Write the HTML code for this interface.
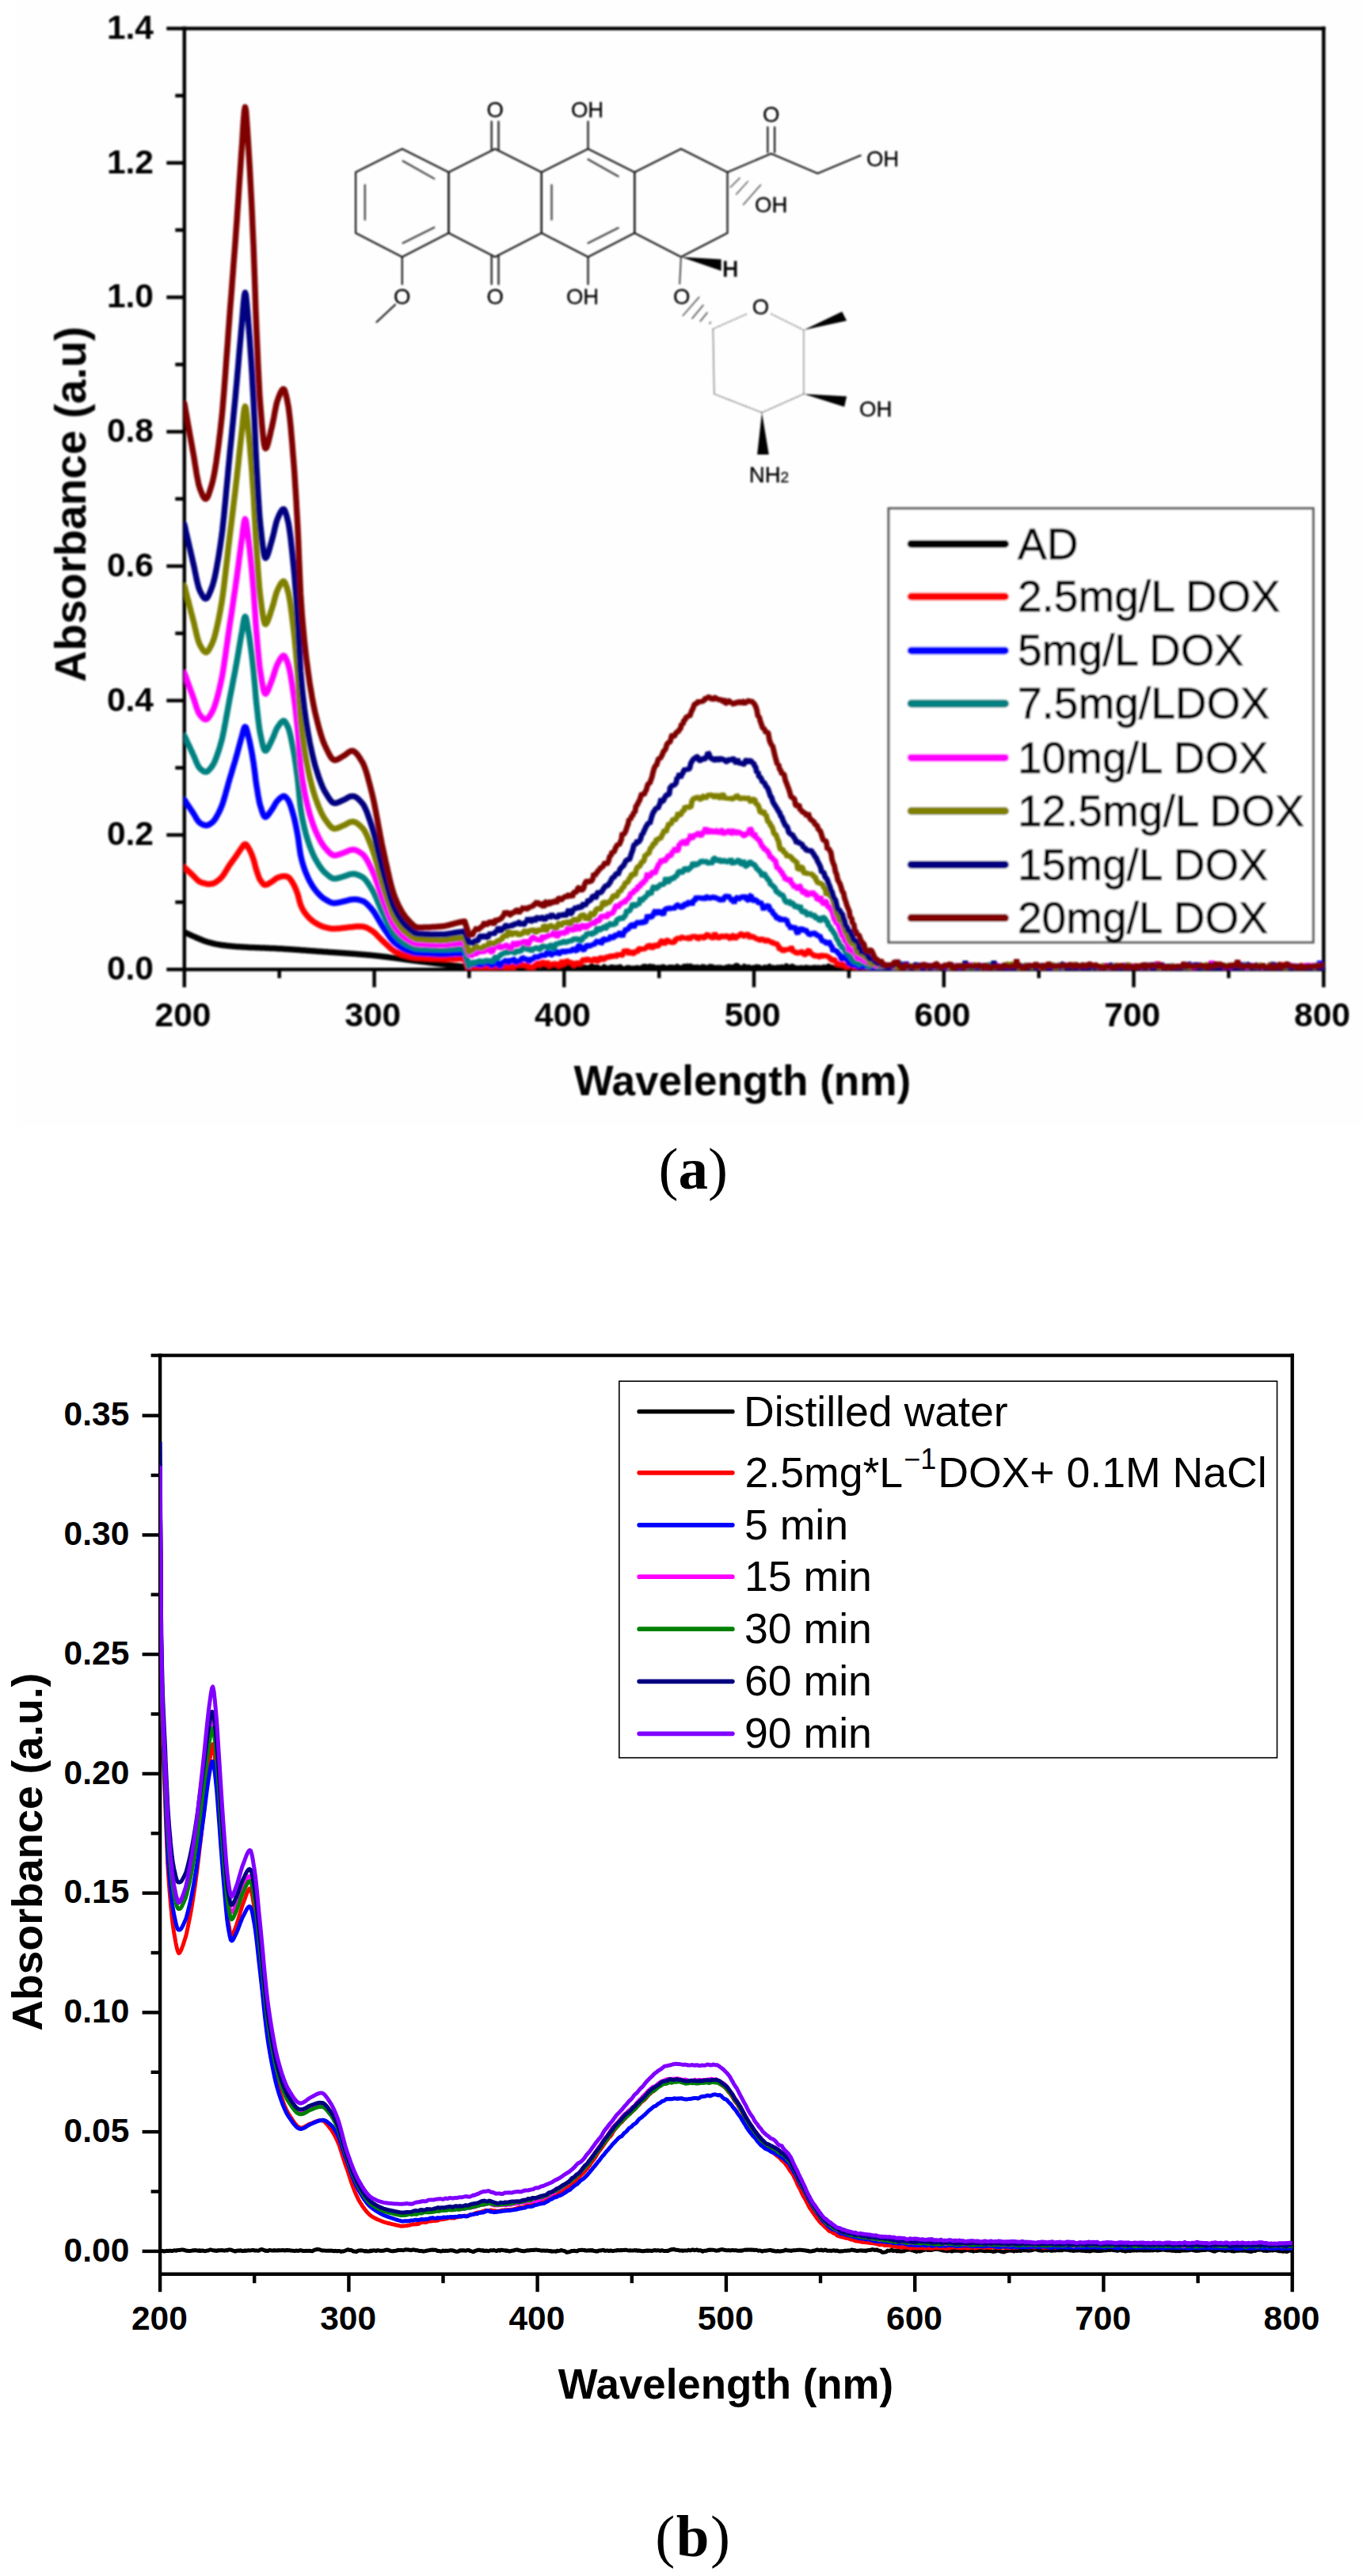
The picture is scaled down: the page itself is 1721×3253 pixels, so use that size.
<!DOCTYPE html>
<html lang="en">
<head>
<meta charset="utf-8">
<title>UV-vis absorbance spectra of DOX</title>
<style>
html,body{margin:0;padding:0;background:#fff;}
body{width:1721px;height:3253px;overflow:hidden;}
svg{display:block;}
text{white-space:pre;}
</style>
</head>
<body>
<svg width="1721" height="3253" viewBox="0 0 1721 3253">
<rect x="0" y="0" width="1721" height="3253" fill="#fff"/>
<rect x="22" y="0" width="1699" height="1421.5" fill="#fefefe"/>
<filter id="softA" x="-2%" y="-2%" width="104%" height="104%"><feGaussianBlur stdDeviation="1"/></filter>
<g id="panel-a" filter="url(#softA)">
<clipPath id="clipA"><rect x="232.5" y="35.9" width="1439.1" height="1188.8"/></clipPath>
<line x1="232.8" y1="33.6" x2="232.8" y2="1246.7" stroke="#000" stroke-width="4.5" stroke-linecap="butt"/>
<line x1="1671.3" y1="33.6" x2="1671.3" y2="1246.7" stroke="#000" stroke-width="4.5" stroke-linecap="butt"/>
<line x1="210.3" y1="35.9" x2="1673.5" y2="35.9" stroke="#000" stroke-width="4.5" stroke-linecap="butt"/>
<line x1="210.3" y1="1224.2" x2="1673.5" y2="1224.2" stroke="#000" stroke-width="4.5" stroke-linecap="butt"/>
<line x1="352.7" y1="1224.2" x2="352.7" y2="1235.2" stroke="#000" stroke-width="4.5" stroke-linecap="butt"/>
<line x1="472.6" y1="1224.2" x2="472.6" y2="1246.7" stroke="#000" stroke-width="4.5" stroke-linecap="butt"/>
<line x1="592.4" y1="1224.2" x2="592.4" y2="1235.2" stroke="#000" stroke-width="4.5" stroke-linecap="butt"/>
<line x1="712.3" y1="1224.2" x2="712.3" y2="1246.7" stroke="#000" stroke-width="4.5" stroke-linecap="butt"/>
<line x1="832.2" y1="1224.2" x2="832.2" y2="1235.2" stroke="#000" stroke-width="4.5" stroke-linecap="butt"/>
<line x1="952" y1="1224.2" x2="952" y2="1246.7" stroke="#000" stroke-width="4.5" stroke-linecap="butt"/>
<line x1="1071.9" y1="1224.2" x2="1071.9" y2="1235.2" stroke="#000" stroke-width="4.5" stroke-linecap="butt"/>
<line x1="1191.8" y1="1224.2" x2="1191.8" y2="1246.7" stroke="#000" stroke-width="4.5" stroke-linecap="butt"/>
<line x1="1311.7" y1="1224.2" x2="1311.7" y2="1235.2" stroke="#000" stroke-width="4.5" stroke-linecap="butt"/>
<line x1="1431.5" y1="1224.2" x2="1431.5" y2="1246.7" stroke="#000" stroke-width="4.5" stroke-linecap="butt"/>
<line x1="1551.4" y1="1224.2" x2="1551.4" y2="1235.2" stroke="#000" stroke-width="4.5" stroke-linecap="butt"/>
<line x1="221.3" y1="1139.3" x2="232.8" y2="1139.3" stroke="#000" stroke-width="4.5" stroke-linecap="butt"/>
<line x1="210.3" y1="1054.4" x2="232.8" y2="1054.4" stroke="#000" stroke-width="4.5" stroke-linecap="butt"/>
<line x1="221.3" y1="969.6" x2="232.8" y2="969.6" stroke="#000" stroke-width="4.5" stroke-linecap="butt"/>
<line x1="210.3" y1="884.7" x2="232.8" y2="884.7" stroke="#000" stroke-width="4.5" stroke-linecap="butt"/>
<line x1="221.3" y1="799.8" x2="232.8" y2="799.8" stroke="#000" stroke-width="4.5" stroke-linecap="butt"/>
<line x1="210.3" y1="714.9" x2="232.8" y2="714.9" stroke="#000" stroke-width="4.5" stroke-linecap="butt"/>
<line x1="221.3" y1="630" x2="232.8" y2="630" stroke="#000" stroke-width="4.5" stroke-linecap="butt"/>
<line x1="210.3" y1="545.2" x2="232.8" y2="545.2" stroke="#000" stroke-width="4.5" stroke-linecap="butt"/>
<line x1="221.3" y1="460.3" x2="232.8" y2="460.3" stroke="#000" stroke-width="4.5" stroke-linecap="butt"/>
<line x1="210.3" y1="375.4" x2="232.8" y2="375.4" stroke="#000" stroke-width="4.5" stroke-linecap="butt"/>
<line x1="221.3" y1="290.5" x2="232.8" y2="290.5" stroke="#000" stroke-width="4.5" stroke-linecap="butt"/>
<line x1="210.3" y1="205.7" x2="232.8" y2="205.7" stroke="#000" stroke-width="4.5" stroke-linecap="butt"/>
<line x1="221.3" y1="120.8" x2="232.8" y2="120.8" stroke="#000" stroke-width="4.5" stroke-linecap="butt"/>
<text x="194" y="1237.2" font-family='"Liberation Sans", Arial, Helvetica, sans-serif' font-size="42.5" font-weight="bold" text-anchor="end" fill="#000">0.0</text>
<text x="194" y="1067.4" font-family='"Liberation Sans", Arial, Helvetica, sans-serif' font-size="42.5" font-weight="bold" text-anchor="end" fill="#000">0.2</text>
<text x="194" y="897.7" font-family='"Liberation Sans", Arial, Helvetica, sans-serif' font-size="42.5" font-weight="bold" text-anchor="end" fill="#000">0.4</text>
<text x="194" y="727.9" font-family='"Liberation Sans", Arial, Helvetica, sans-serif' font-size="42.5" font-weight="bold" text-anchor="end" fill="#000">0.6</text>
<text x="194" y="558.2" font-family='"Liberation Sans", Arial, Helvetica, sans-serif' font-size="42.5" font-weight="bold" text-anchor="end" fill="#000">0.8</text>
<text x="194" y="388.4" font-family='"Liberation Sans", Arial, Helvetica, sans-serif' font-size="42.5" font-weight="bold" text-anchor="end" fill="#000">1.0</text>
<text x="194" y="218.7" font-family='"Liberation Sans", Arial, Helvetica, sans-serif' font-size="42.5" font-weight="bold" text-anchor="end" fill="#000">1.2</text>
<text x="194" y="48.9" font-family='"Liberation Sans", Arial, Helvetica, sans-serif' font-size="42.5" font-weight="bold" text-anchor="end" fill="#000">1.4</text>
<text x="231" y="1296.3" font-family='"Liberation Sans", Arial, Helvetica, sans-serif' font-size="42.5" font-weight="bold" text-anchor="middle" fill="#000">200</text>
<text x="470.8" y="1296.3" font-family='"Liberation Sans", Arial, Helvetica, sans-serif' font-size="42.5" font-weight="bold" text-anchor="middle" fill="#000">300</text>
<text x="710.5" y="1296.3" font-family='"Liberation Sans", Arial, Helvetica, sans-serif' font-size="42.5" font-weight="bold" text-anchor="middle" fill="#000">400</text>
<text x="950.2" y="1296.3" font-family='"Liberation Sans", Arial, Helvetica, sans-serif' font-size="42.5" font-weight="bold" text-anchor="middle" fill="#000">500</text>
<text x="1190" y="1296.3" font-family='"Liberation Sans", Arial, Helvetica, sans-serif' font-size="42.5" font-weight="bold" text-anchor="middle" fill="#000">600</text>
<text x="1429.8" y="1296.3" font-family='"Liberation Sans", Arial, Helvetica, sans-serif' font-size="42.5" font-weight="bold" text-anchor="middle" fill="#000">700</text>
<text x="1669.5" y="1296.3" font-family='"Liberation Sans", Arial, Helvetica, sans-serif' font-size="42.5" font-weight="bold" text-anchor="middle" fill="#000">800</text>
<text x="937.3" y="1382.8" font-family='"Liberation Sans", Arial, Helvetica, sans-serif' font-size="53.1" font-weight="bold" text-anchor="middle" fill="#000">Wavelength (nm)</text>
<text transform="translate(108 636.8) rotate(-90)" font-family='"Liberation Sans", Arial, Helvetica, sans-serif' font-size="55" font-weight="bold" text-anchor="middle" fill="#000">Absorbance (a.u)</text>
<g clip-path="url(#clipA)">
<polyline points="232.8,1177.1 234,1177.7 235.2,1178.2 236.4,1178.8 237.6,1179.4 238.8,1179.9 240,1180.5 241.2,1181 242.4,1181.6 243.6,1182.1 244.8,1182.6 246,1183.1 247.2,1183.7 248.4,1184.2 249.6,1184.7 250.8,1185.3 252,1185.8 253.2,1186.3 254.4,1186.8 255.6,1187.3 256.8,1187.8 258,1188.2 259.2,1188.6 260.4,1189 261.6,1189.4 262.8,1189.7 264,1190.1 265.2,1190.4 266.4,1190.7 267.6,1191 268.8,1191.3 270,1191.6 271.2,1191.9 272.4,1192.2 273.6,1192.4 274.8,1192.6 276,1192.8 277.2,1193 278.4,1193.2 279.6,1193.4 280.8,1193.5 281.9,1193.7 283.1,1193.8 284.3,1194 285.5,1194.1 286.7,1194.3 287.9,1194.4 289.1,1194.5 290.3,1194.6 291.5,1194.7 292.7,1194.9 293.9,1195 295.1,1195.1 296.3,1195.2 297.5,1195.3 298.7,1195.4 299.9,1195.4 301.1,1195.5 302.3,1195.6 303.5,1195.7 304.7,1195.8 305.9,1195.8 307.1,1195.9 308.3,1196 309.5,1196 310.7,1196.1 311.9,1196.2 313.1,1196.2 314.3,1196.3 315.5,1196.4 316.7,1196.4 317.9,1196.5 319.1,1196.5 320.3,1196.6 321.5,1196.6 322.7,1196.7 323.9,1196.7 325.1,1196.8 326.3,1196.8 327.5,1196.8 328.7,1196.9 329.9,1196.9 331.1,1197 332.3,1197 333.5,1197.1 334.7,1197.1 335.9,1197.2 337.1,1197.2 338.3,1197.3 339.5,1197.3 340.7,1197.4 341.9,1197.4 343.1,1197.5 344.3,1197.5 345.5,1197.6 346.7,1197.6 347.9,1197.7 349.1,1197.7 350.3,1197.8 351.5,1197.9 352.7,1197.9 353.9,1198 355.1,1198.1 356.3,1198.1 357.5,1198.2 358.7,1198.3 359.9,1198.4 361.1,1198.4 362.3,1198.5 363.5,1198.6 364.7,1198.7 365.9,1198.7 367.1,1198.8 368.3,1198.9 369.5,1199 370.7,1199.1 371.9,1199.2 373.1,1199.2 374.3,1199.3 375.5,1199.4 376.6,1199.5 377.8,1199.6 379,1199.7 380.2,1199.8 381.4,1199.9 382.6,1200 383.8,1200 385,1200.1 386.2,1200.2 387.4,1200.3 388.6,1200.4 389.8,1200.5 391,1200.6 392.2,1200.7 393.4,1200.8 394.6,1200.8 395.8,1200.9 397,1201 398.2,1201.1 399.4,1201.2 400.6,1201.3 401.8,1201.4 403,1201.5 404.2,1201.5 405.4,1201.6 406.6,1201.7 407.8,1201.8 409,1201.9 410.2,1202 411.4,1202 412.6,1202.1 413.8,1202.2 415,1202.3 416.2,1202.4 417.4,1202.4 418.6,1202.5 419.8,1202.6 421,1202.7 422.2,1202.8 423.4,1202.8 424.6,1202.9 425.8,1203 427,1203.1 428.2,1203.2 429.4,1203.2 430.6,1203.3 431.8,1203.4 433,1203.5 434.2,1203.6 435.4,1203.7 436.6,1203.7 437.8,1203.8 439,1203.9 440.2,1204 441.4,1204.1 442.6,1204.2 443.8,1204.3 445,1204.3 446.2,1204.4 447.4,1204.5 448.6,1204.6 449.8,1204.7 451,1204.8 452.2,1204.9 453.4,1205 454.6,1205.1 455.8,1205.2 457,1205.3 458.2,1205.4 459.4,1205.5 460.6,1205.6 461.8,1205.7 463,1205.8 464.2,1205.9 465.4,1206 466.6,1206.1 467.8,1206.2 469,1206.3 470.2,1206.4 471.4,1206.6 472.6,1206.7 473.7,1206.8 474.9,1206.9 476.1,1207.1 477.3,1207.2 478.5,1207.3 479.7,1207.5 480.9,1207.6 482.1,1207.7 483.3,1207.9 484.5,1208 485.7,1208.2 486.9,1208.3 488.1,1208.5 489.3,1208.6 490.5,1208.8 491.7,1208.9 492.9,1209.1 494.1,1209.3 495.3,1209.4 496.5,1209.6 497.7,1209.7 498.9,1209.9 500.1,1210.1 501.3,1210.2 502.5,1210.4 503.7,1210.6 504.9,1210.7 506.1,1210.9 507.3,1211.1 508.5,1211.2 509.7,1211.4 510.9,1211.5 512.1,1211.7 513.3,1211.9 514.5,1212 515.7,1212.2 516.9,1212.4 518.1,1212.5 519.3,1212.7 520.5,1212.8 521.7,1213 522.9,1213.2 524.1,1213.3 525.3,1213.5 526.5,1213.6 527.7,1213.8 528.9,1213.9 530.1,1214.1 531.3,1214.2 532.5,1214.4 533.7,1214.5 534.9,1214.6 536.1,1214.8 537.3,1214.9 538.5,1215.1 539.7,1215.2 540.9,1215.4 542.1,1215.5 543.3,1215.7 544.5,1215.8 545.7,1216 546.9,1216.1 548.1,1216.3 549.3,1216.4 550.5,1216.5 551.7,1216.7 552.9,1216.8 554.1,1217 555.3,1217.1 556.5,1217.3 557.7,1217.4 558.9,1217.6 560.1,1217.7 561.3,1217.8 562.5,1218 563.7,1218.1 564.9,1218.3 566.1,1218.4 567.3,1218.5 568.5,1218.7 569.6,1218.8 570.8,1219 572,1219.1 573.2,1219.2 574.4,1219.4 575.6,1219.5 576.8,1219.6 578,1219.8 579.2,1219.9 580.4,1220.1 581.6,1220.2 582.8,1220.3 584,1220.5 585.2,1220.6 586.4,1220.7 591.7,1221.2 593.1,1223.3 594.6,1223.4 596,1222.4 597.5,1223 598.9,1222.2 600.3,1223 601.8,1223.6 603.2,1221.5 604.7,1221.4 606.1,1222.9 607.5,1222.2 609,1222.3 610.4,1222.7 611.8,1222.2 613.3,1222.8 614.7,1221.8 616.2,1223.3 617.6,1223.1 619,1224.2 620.5,1221.3 621.9,1222.5 623.4,1223.4 624.8,1221.2 626.2,1222.7 627.7,1223.3 629.1,1222.7 630.5,1223.8 632,1221.2 633.4,1222.8 634.9,1222.9 636.3,1221.7 637.7,1223.8 639.2,1223.1 640.6,1225 642.1,1224 643.5,1224 644.9,1221.8 646.4,1221.2 647.8,1222.2 649.2,1221.3 650.7,1222.3 652.1,1222.2 653.6,1223.6 655,1223.9 656.4,1223.8 657.9,1222.1 659.3,1220.6 660.8,1222.1 662.2,1222.7 663.6,1221.8 665.1,1222.9 666.5,1222.7 667.9,1222 669.4,1222.7 670.8,1223.2 672.3,1224.2 673.7,1222.4 675.1,1222.6 676.6,1221.6 678,1223.1 679.5,1224.1 680.9,1222.5 682.3,1221.3 683.8,1222.7 685.2,1222.9 686.6,1222.5 688.1,1222.7 689.5,1222.5 691,1224 692.4,1221.6 693.8,1223.7 695.3,1223.1 696.7,1222.5 698.2,1221.3 699.6,1222.5 701,1222.3 702.5,1222.9 703.9,1223.8 705.3,1224.6 706.8,1222.2 708.2,1221.8 709.7,1222.5 711.1,1223.6 712.5,1222.6 714,1223.1 715.4,1222.8 716.9,1221.3 718.3,1220.5 719.7,1221.3 721.2,1221.8 722.6,1222.2 724,1222.5 725.5,1222.3 726.9,1221.7 728.4,1221.9 729.8,1220.4 731.2,1221.5 732.7,1222 734.1,1222.2 735.6,1222.7 737,1221.7 738.4,1221.6 739.9,1223.6 741.3,1222.7 742.7,1223.6 744.2,1222.1 745.6,1222 747.1,1220.1 748.5,1221.4 749.9,1221.8 751.4,1222 752.8,1221.6 754.3,1221.4 755.7,1223.5 757.1,1223 758.6,1224.3 760,1223.8 761.4,1223.6 762.9,1221.2 764.3,1223.3 765.8,1223.9 767.2,1222.9 768.6,1223.1 770.1,1223.2 771.5,1221.7 773,1221.7 774.4,1221.9 775.8,1222.2 777.3,1222.4 778.7,1222.6 780.1,1222 781.6,1222.3 783,1221.3 784.5,1222.9 785.9,1224 787.3,1223.8 788.8,1224.3 790.2,1224.6 791.7,1222.4 793.1,1223.7 794.5,1222.4 796,1223 797.4,1223.4 798.8,1223.2 800.3,1223 801.7,1223.1 803.2,1223 804.6,1222.3 806,1223 807.5,1223.1 808.9,1224.4 810.4,1222.7 811.8,1221.4 813.2,1220.9 814.7,1220.8 816.1,1224.2 817.6,1222.5 819,1221.5 820.4,1220.7 821.9,1222.3 823.3,1221.5 824.7,1221 826.2,1223.5 827.6,1222.8 829.1,1222.3 830.5,1223.6 831.9,1222.2 833.4,1223 834.8,1222.2 836.3,1221.6 837.7,1221.2 839.1,1222.5 840.6,1222.4 842,1224.1 843.4,1223.2 844.9,1222 846.3,1221.8 847.8,1223.2 849.2,1221.8 850.6,1222.8 852.1,1222.5 853.5,1221.9 855,1220.8 856.4,1221.7 857.8,1224.2 859.3,1224.5 860.7,1222.5 862.1,1222.4 863.6,1220.8 865,1221 866.5,1221.9 867.9,1220.4 869.3,1222 870.8,1223.2 872.2,1220.5 873.7,1224.5 875.1,1222.8 876.5,1221.8 878,1222 879.4,1223.5 880.8,1221.8 882.3,1223.4 883.7,1223.3 885.2,1222.3 886.6,1221.3 888,1221.2 889.5,1221.6 890.9,1222.6 892.4,1222.5 893.8,1222.7 895.2,1221.9 896.7,1220.9 898.1,1221.8 899.5,1221.4 901,1223 902.4,1222.9 903.9,1222.4 905.3,1222.3 906.7,1222.2 908.2,1222.8 909.6,1222 911.1,1223 912.5,1222.9 913.9,1223.4 915.4,1222.7 916.8,1221.9 918.2,1222.2 919.7,1221.3 921.1,1221.2 922.6,1222.4 924,1223.2 925.4,1221.8 926.9,1221.5 928.3,1220.5 929.8,1219.6 931.2,1220 932.6,1222.3 934.1,1223.1 935.5,1223.1 936.9,1222.4 938.4,1223 939.8,1220.7 941.3,1222.1 942.7,1222 944.1,1223.4 945.6,1221.7 947,1223.6 948.5,1222.7 949.9,1223.8 951.3,1222.2 952.8,1222.6 954.2,1221.9 955.6,1221.3 957.1,1221.8 958.5,1221.7 960,1223.3 961.4,1223.8 962.8,1223 964.3,1222.7 965.7,1221.8 967.2,1222.3 968.6,1224.4 970,1222.6 971.5,1220.8 972.9,1222.5 974.3,1222.6 975.8,1222.2 977.2,1222.5 978.7,1222.7 980.1,1223.3 981.5,1222 983,1222.1 984.4,1222.8 985.9,1221.8 987.3,1221.5 988.7,1222.8 990.2,1222.2 991.6,1223.1 993,1220.2 994.5,1221.5 995.9,1223.5 997.4,1222.9 998.8,1221.6 1000.2,1220.6 1001.7,1222.6 1003.1,1222.1 1004.6,1223.8 1006,1223.7 1007.4,1222.8 1008.9,1223 1010.3,1223.2 1011.7,1222.3 1013.2,1224.1 1014.6,1223.8 1016.1,1222.6 1017.5,1222.1 1018.9,1223.8 1020.4,1222.5 1021.8,1223.6 1023.3,1222.9 1024.7,1222.5 1026.1,1223.4 1027.6,1222.1 1029,1221.9 1030.4,1223.2 1031.9,1223.2 1033.3,1222.2 1034.8,1224.1 1036.2,1223.6 1037.6,1222.4 1039.1,1223.2 1040.5,1221.7 1042,1222.6 1043.4,1222.7 1044.8,1223.3 1046.3,1220.3 1047.7,1223.5 1049.1,1222.1 1050.6,1221.9 1052,1221.9 1053.5,1222.8 1054.9,1223.1 1056.3,1222.9 1057.8,1222.5 1059.2,1223.2 1060.7,1225 1062.1,1222.3 1063.5,1223.3 1065,1224.2 1066.4,1224.3 1067.8,1223.9 1069.3,1224.1 1070.7,1224.2 1072.2,1222.6 1073.6,1224.3 1075,1223 1076.5,1223.9 1077.9,1221.9 1079.4,1221.8 1080.8,1220.5 1082.2,1222.7 1083.7,1222.5 1085.1,1221.5 1086.5,1222.3 1088,1222.5 1089.4,1221.8 1090.9,1220.9 1092.3,1219.5 1093.7,1222.8 1095.2,1220.9 1096.6,1223.2 1098.1,1223.7 1099.5,1225.2 1100.9,1222.2 1102.4,1222.5 1103.8,1223.8 1105.3,1222.1 1106.7,1221.9 1108.1,1222.6 1109.6,1221.3 1111,1221.2 1112.4,1222.5 1113.9,1222.5 1115.3,1223.1 1116.8,1223 1118.2,1222 1119.6,1221.6 1121.1,1222.4 1122.5,1224.1 1124,1222.3 1125.4,1224.4 1126.8,1223 1128.3,1221.5 1129.7,1223.1 1131.1,1223.8 1132.6,1224 1134,1221.5 1135.5,1222.2 1136.9,1221 1138.3,1221 1139.8,1221.8 1141.2,1223.3 1142.7,1223.4 1144.1,1224.7 1145.5,1222.6 1147,1221.9 1148.4,1222.5 1149.8,1222.1 1151.3,1222.3 1152.7,1221.6 1154.2,1221.9 1155.6,1222.7 1157,1222.2 1158.5,1222.6 1159.9,1221.5 1161.4,1222.7 1162.8,1222.4 1164.2,1221.2 1165.7,1221.6 1167.1,1222.6 1168.5,1222 1170,1223.1 1171.4,1222.3 1172.9,1223.2 1174.3,1225.6 1175.7,1222.9 1177.2,1224.6 1178.6,1222.7 1180.1,1223.2 1181.5,1221.6 1182.9,1221.8 1184.4,1223.4 1185.8,1223.8 1187.2,1222.3 1188.7,1221.9 1190.1,1222.7 1191.6,1223.6 1193,1222 1194.4,1225.9 1195.9,1223.9 1197.3,1225.4 1198.8,1222.7 1200.2,1223.8 1201.6,1222.9 1203.1,1223.2 1204.5,1222.7 1205.9,1222.2 1207.4,1222.1 1208.8,1222.4 1210.3,1222 1211.7,1220.5 1213.1,1222.3 1214.6,1222.2 1216,1222.4 1217.5,1223.2 1218.9,1222.3 1220.3,1223 1221.8,1222.4 1223.2,1223.1 1224.6,1222.9 1226.1,1221.8 1227.5,1221.2 1229,1223.2 1230.4,1222.6 1231.8,1223 1233.3,1221.4 1234.7,1221.5 1236.2,1221.3 1237.6,1225.1 1239,1223.7 1240.5,1223.6 1241.9,1222.8 1243.3,1223 1244.8,1222.9 1246.2,1222.1 1247.7,1221.1 1249.1,1224.3 1250.5,1222.4 1252,1222.1 1253.4,1222.7 1254.9,1222.3 1256.3,1222.6 1257.7,1222.6 1259.2,1221.8 1260.6,1222.5 1262,1223.3 1263.5,1224.1 1264.9,1222.6 1266.4,1222.1 1267.8,1221.6 1269.2,1222.7 1270.7,1223.5 1272.1,1222.8 1273.6,1223.2 1275,1221.7 1276.4,1221.1 1277.9,1222.8 1279.3,1221.3 1280.7,1222.9 1282.2,1221.2 1283.6,1221.8 1285.1,1222.5 1286.5,1221.2 1287.9,1222 1289.4,1222.6 1290.8,1222.7 1292.3,1222.1 1293.7,1221.4 1295.1,1221.5 1296.6,1222.3 1298,1221.8 1299.4,1221.9 1300.9,1222.7 1302.3,1223.4 1303.8,1221.7 1305.2,1222.1 1306.6,1222.3 1308.1,1222.6 1309.5,1221.4 1311,1221.2 1312.4,1223.9 1313.8,1221.6 1315.3,1222.8 1316.7,1223.1 1318.1,1222.5 1319.6,1223.5 1321,1222.8 1322.5,1221.6 1323.9,1221.5 1325.3,1222.1 1326.8,1222.9 1328.2,1223.5 1329.7,1223.8 1331.1,1221.1 1332.5,1222.8 1334,1223.8 1335.4,1224 1336.8,1223.9 1338.3,1223.3 1339.7,1224.1 1341.2,1221.8 1342.6,1223.6 1344,1223.9 1345.5,1222.1 1346.9,1221.5 1348.4,1221.2 1349.8,1222.8 1351.2,1221.3 1352.7,1221.4 1354.1,1221.1 1355.5,1221.5 1357,1223.6 1358.4,1224.5 1359.9,1223.9 1361.3,1224.4 1362.7,1221.6 1364.2,1222.9 1365.6,1223.7 1367.1,1224.1 1368.5,1224.1 1369.9,1223.1 1371.4,1221.8 1372.8,1222.4 1374.2,1222.8 1375.7,1221.5 1377.1,1223.2 1378.6,1222.6 1380,1222.2 1381.4,1222.4 1382.9,1222.2 1384.3,1223.3 1385.8,1222.4 1387.2,1223.5 1388.6,1223.7 1390.1,1222.1 1391.5,1221.7 1393,1223.8 1394.4,1223.3 1395.8,1222.3 1397.3,1221.5 1398.7,1222.2 1400.1,1222.2 1401.6,1223.3 1403,1221.2 1404.5,1222 1405.9,1222.2 1407.3,1221.9 1408.8,1222.6 1410.2,1222.2 1411.7,1222.7 1413.1,1222.1 1414.5,1222.9 1416,1222.9 1417.4,1223.3 1418.8,1223.2 1420.3,1222.2 1421.7,1222.6 1423.2,1222.8 1424.6,1222.2 1426,1221 1427.5,1222.1 1428.9,1220.9 1430.4,1221.5 1431.8,1221.2 1433.2,1222.1 1434.7,1223.7 1436.1,1222.5 1437.5,1221.6 1439,1221.8 1440.4,1221.6 1441.9,1221 1443.3,1222 1444.7,1220.7 1446.2,1222.1 1447.6,1222.8 1449.1,1222.6 1450.5,1222.4 1451.9,1221.2 1453.4,1223.1 1454.8,1223.4 1456.2,1224 1457.7,1223.7 1459.1,1223.2 1460.6,1221.7 1462,1223.6 1463.4,1222.4 1464.9,1222.3 1466.3,1223.4 1467.8,1221.6 1469.2,1222.2 1470.6,1222.1 1472.1,1223.7 1473.5,1222.4 1474.9,1223.6 1476.4,1221.6 1477.8,1222.7 1479.3,1222.2 1480.7,1222.3 1482.1,1222.8 1483.6,1223.2 1485,1222.3 1486.5,1222.3 1487.9,1223.9 1489.3,1222.4 1490.8,1222.5 1492.2,1223.8 1493.6,1222.9 1495.1,1224.3 1496.5,1222.4 1498,1223.8 1499.4,1223.5 1500.8,1222.1 1502.3,1223.7 1503.7,1222.8 1505.2,1223.5 1506.6,1222.1 1508,1222.9 1509.5,1222.8 1510.9,1222 1512.3,1223.1 1513.8,1221.3 1515.2,1223 1516.7,1222.3 1518.1,1223.4 1519.5,1222.9 1521,1223.5 1522.4,1222.9 1523.9,1221.8 1525.3,1222 1526.7,1222.9 1528.2,1221.7 1529.6,1223.6 1531,1221.7 1532.5,1220.3 1533.9,1220.8 1535.4,1220.6 1536.8,1222.8 1538.2,1220.1 1539.7,1223.6 1541.1,1221.9 1542.6,1223.2 1544,1221.2 1545.4,1223 1546.9,1223.3 1548.3,1224 1549.7,1222.2 1551.2,1221.8 1552.6,1222.2 1554.1,1222.8 1555.5,1223.1 1556.9,1221.5 1558.4,1221.7 1559.8,1221.4 1561.3,1223.1 1562.7,1224.5 1564.1,1223.4 1565.6,1223.5 1567,1221.2 1568.4,1220.1 1569.9,1221.5 1571.3,1223.3 1572.8,1222.8 1574.2,1222 1575.6,1221.9 1577.1,1223.6 1578.5,1222.5 1580,1222.8 1581.4,1223.5 1582.8,1225 1584.3,1224.4 1585.7,1223 1587.1,1221.9 1588.6,1223.6 1590,1222.4 1591.5,1222.5 1592.9,1221.7 1594.3,1223.5 1595.8,1221.9 1597.2,1222.4 1598.7,1222.6 1600.1,1222.4 1601.5,1222 1603,1224.1 1604.4,1221.4 1605.8,1221.4 1607.3,1221.5 1608.7,1219.9 1610.2,1220.6 1611.6,1219.6 1613,1221.7 1614.5,1222.5 1615.9,1220.6 1617.4,1220.3 1618.8,1221.6 1620.2,1222.6 1621.7,1223.3 1623.1,1223.6 1624.5,1222 1626,1220.9 1627.4,1224.3 1628.9,1223.5 1630.3,1224.1 1631.7,1221.9 1633.2,1221.5 1634.6,1223.3 1636.1,1222.1 1637.5,1220.7 1638.9,1222.6 1640.4,1224.2 1641.8,1224.3 1643.2,1225 1644.7,1222.4 1646.1,1223.8 1647.6,1221.5 1649,1221.9 1650.4,1222.9 1651.9,1222.3 1653.3,1221.6 1654.8,1222.2 1656.2,1222.7 1657.6,1223.6 1659.1,1221.4 1660.5,1223.2 1661.9,1224.3 1663.4,1222.9 1664.8,1220.9 1666.3,1220 1667.7,1222 1669.1,1223.7 1670.6,1221" fill="none" stroke="#000000" stroke-width="7.5" stroke-linejoin="round" stroke-linecap="butt"/>
<polyline points="591.7,1223.8 593.1,1222.6 594.6,1221.3 596,1223.8 597.5,1222.9 598.9,1223.8 600.3,1221.7 601.8,1223.8 603.2,1223.8 604.7,1223.8 606.1,1223.8 607.5,1223.8 609,1223.8 610.4,1223.8 611.8,1222.1 613.3,1223.8 614.7,1223.7 616.2,1223.8 617.6,1223.8 619,1221.9 620.5,1223.4 621.9,1220.8 623.4,1220.2 624.8,1223.7 626.2,1219.7 627.7,1218.6 629.1,1221.4 630.5,1221.2 632,1221.5 633.4,1219.3 634.9,1222 636.3,1221 637.7,1223.8 639.2,1219.2 640.6,1219.5 642.1,1218.1 643.5,1221.4 644.9,1223.8 646.4,1223.6 647.8,1223.3 649.2,1220.3 650.7,1215.6 652.1,1215.7 653.6,1217.3 655,1218.8 656.4,1218.4 657.9,1217.8 659.3,1218 660.8,1219.9 662.2,1218 663.6,1219.4 665.1,1218.9 666.5,1218.4 667.9,1223.8 669.4,1219.2 670.8,1222 672.3,1223.8 673.7,1220.1 675.1,1219.6 676.6,1217.3 678,1219.7 679.5,1214.1 680.9,1218.7 682.3,1218.5 683.8,1214.4 685.2,1215.4 686.6,1216.4 688.1,1215.2 689.5,1219.5 691,1213.4 692.4,1219.7 693.8,1219.6 695.3,1216.8 696.7,1218.5 698.2,1216.7 699.6,1217.3 701,1217.6 702.5,1215.3 703.9,1219.3 705.3,1219.3 706.8,1220.4 708.2,1217.4 709.7,1212.5 711.1,1217.3 712.5,1217.2 714,1215.4 715.4,1213 716.9,1213.8 718.3,1216.8 719.7,1214.7 721.2,1216 722.6,1214.7 724,1218.9 725.5,1219.2 726.9,1214.6 728.4,1218 729.8,1214 731.2,1217 732.7,1217.2 734.1,1215.2 735.6,1212.6 737,1211.2 738.4,1213.2 739.9,1212.7 741.3,1209.9 742.7,1212.2 744.2,1212.6 745.6,1212 747.1,1213.8 748.5,1212.7 749.9,1212.6 751.4,1209.1 752.8,1212.9 754.3,1214 755.7,1213 757.1,1210.4 758.6,1209 760,1210.1 761.4,1213 762.9,1210.4 764.3,1211.2 765.8,1207.5 767.2,1208.5 768.6,1209.7 770.1,1207.5 771.5,1207.4 773,1207.7 774.4,1207.7 775.8,1205.8 777.3,1208.3 778.7,1207.2 780.1,1203.8 781.6,1207.7 783,1203.7 784.5,1206.6 785.9,1206 787.3,1203.4 788.8,1199.2 790.2,1201.8 791.7,1200.1 793.1,1201.3 794.5,1205.7 796,1200.5 797.4,1203.3 798.8,1204.2 800.3,1203.8 801.7,1202.6 803.2,1200.7 804.6,1203.2 806,1198.5 807.5,1198.2 808.9,1198.2 810.4,1200.1 811.8,1196.8 813.2,1199.2 814.7,1197.2 816.1,1197 817.6,1194.5 819,1194.5 820.4,1193.8 821.9,1194.5 823.3,1198.7 824.7,1194.5 826.2,1196.5 827.6,1191.8 829.1,1194.5 830.5,1195.5 831.9,1193.3 833.4,1190.7 834.8,1188.5 836.3,1187.6 837.7,1190.5 839.1,1192.2 840.6,1190 842,1187.6 843.4,1186.7 844.9,1189.8 846.3,1188.5 847.8,1191.6 849.2,1189.5 850.6,1189.7 852.1,1189.6 853.5,1184.8 855,1186.5 856.4,1183.2 857.8,1186.4 859.3,1184.9 860.7,1183.7 862.1,1183 863.6,1185.6 865,1183.1 866.5,1186.4 867.9,1183.8 869.3,1184.1 870.8,1187.2 872.2,1182.7 873.7,1183.6 875.1,1181.2 876.5,1183.9 878,1182.9 879.4,1182 880.8,1186.6 882.3,1185 883.7,1181.2 885.2,1184 886.6,1181.5 888,1184.1 889.5,1185.1 890.9,1181.6 892.4,1180.6 893.8,1179.6 895.2,1182.3 896.7,1182 898.1,1184.8 899.5,1183 901,1186.3 902.4,1177.9 903.9,1182.1 905.3,1181.9 906.7,1184 908.2,1185 909.6,1182.9 911.1,1182.1 912.5,1182.1 913.9,1182.7 915.4,1183.2 916.8,1182 918.2,1181.3 919.7,1183.8 921.1,1184.5 922.6,1186.2 924,1181.2 925.4,1181.6 926.9,1180.1 928.3,1186.8 929.8,1182.1 931.2,1183 932.6,1182 934.1,1180.4 935.5,1179.6 936.9,1178.9 938.4,1182.2 939.8,1182.1 941.3,1180.9 942.7,1180.4 944.1,1179 945.6,1181.8 947,1185.2 948.5,1180.1 949.9,1185 951.3,1182.3 952.8,1184.5 954.2,1184.3 955.6,1186.4 957.1,1185.7 958.5,1186.9 960,1187.2 961.4,1186.5 962.8,1184.7 964.3,1188 965.7,1187.2 967.2,1189.6 968.6,1187.5 970,1187 971.5,1189.6 972.9,1188.5 974.3,1190.5 975.8,1190.4 977.2,1190.8 978.7,1192.4 980.1,1191.1 981.5,1193.1 983,1194.8 984.4,1199.6 985.9,1198.3 987.3,1198.2 988.7,1202 990.2,1199.6 991.6,1199.6 993,1198.8 994.5,1200.1 995.9,1197.7 997.4,1200.1 998.8,1195.5 1000.2,1198.3 1001.7,1202.7 1003.1,1200.4 1004.6,1203.8 1006,1203.2 1007.4,1203.2 1008.9,1203.2 1010.3,1202.5 1011.7,1201.9 1013.2,1202 1014.6,1204.5 1016.1,1205.8 1017.5,1204.9 1018.9,1202.3 1020.4,1200.5 1021.8,1199.3 1023.3,1205.5 1024.7,1204.2 1026.1,1205.2 1027.6,1206.9 1029,1207.2 1030.4,1207 1031.9,1206 1033.3,1208.3 1034.8,1208.2 1036.2,1207.3 1037.6,1205.4 1039.1,1207.3 1040.5,1207.8 1042,1205.2 1043.4,1208.5 1044.8,1206.4 1046.3,1209.7 1047.7,1208.4 1049.1,1212.5 1050.6,1212.2 1052,1212.4 1053.5,1210.3 1054.9,1215.6 1056.3,1214.6 1057.8,1219.5 1059.2,1217.7 1060.7,1217.8 1062.1,1219.1 1063.5,1217.7 1065,1217.3 1066.4,1221.2 1067.8,1218.7 1069.3,1223 1070.7,1217.7 1072.2,1219.6 1073.6,1219 1075,1217.8 1076.5,1218.6 1077.9,1220.1 1079.4,1223 1080.8,1222.9 1082.2,1221.3 1083.7,1220.4 1085.1,1219.3 1086.5,1219.4 1088,1222.6 1089.4,1216 1090.9,1223.8 1092.3,1223.1 1093.7,1220.5 1095.2,1220.4 1096.6,1222.1 1098.1,1223.8 1099.5,1222.7 1100.9,1223.7 1102.4,1223.4 1103.8,1222.7 1105.3,1220.1 1106.7,1219.2 1108.1,1222.4 1109.6,1221.3 1111,1220.3 1112.4,1219.8 1113.9,1222 1115.3,1222.4 1116.8,1220.7 1118.2,1219.9 1119.6,1223.8 1121.1,1220.3 1122.5,1221.3 1124,1223.8 1125.4,1223.8 1126.8,1222.7 1128.3,1223.2 1129.7,1221.8 1131.1,1223.8 1132.6,1217.9 1134,1219 1135.5,1223.7 1136.9,1223.8 1138.3,1217.1 1139.8,1218.7 1141.2,1219.3 1142.7,1220.4 1144.1,1221.7 1145.5,1222.3 1147,1220.4 1148.4,1219.8 1149.8,1222.4 1151.3,1220.9 1152.7,1221.7 1154.2,1221.5 1155.6,1223.3 1157,1221.7 1158.5,1223.8 1159.9,1220.2 1161.4,1223.8 1162.8,1222.5 1164.2,1218 1165.7,1221.3 1167.1,1220.8 1168.5,1220.3 1170,1222.1 1171.4,1223.8 1172.9,1223.8 1174.3,1223.8 1175.7,1219.4 1177.2,1223.3 1178.6,1223.8 1180.1,1221.1 1181.5,1221 1182.9,1221 1184.4,1218 1185.8,1222 1187.2,1221.4 1188.7,1221.1 1190.1,1221.9 1191.6,1223.8 1193,1223.5 1194.4,1221.5 1195.9,1223.8 1197.3,1221 1198.8,1222.8 1200.2,1222.3 1201.6,1219.5 1203.1,1221.8 1204.5,1221.6 1205.9,1223.7 1207.4,1223.8 1208.8,1221.8 1210.3,1222.4 1211.7,1220.4 1213.1,1222.1 1214.6,1223.4 1216,1222.9 1217.5,1222.4 1218.9,1223.6 1220.3,1222.3 1221.8,1217.8 1223.2,1222.8 1224.6,1223.8 1226.1,1222.6 1227.5,1223.8 1229,1221.1 1230.4,1221.5 1231.8,1221.5 1233.3,1223.8 1234.7,1216.7 1236.2,1222.1 1237.6,1222 1239,1221.5 1240.5,1223.1 1241.9,1222.1 1243.3,1223.5 1244.8,1223.8 1246.2,1223.2 1247.7,1223.2 1249.1,1217.7 1250.5,1220.7 1252,1219.6 1253.4,1222.2 1254.9,1220.1 1256.3,1218.7 1257.7,1221.7 1259.2,1222 1260.6,1223.6 1262,1221.1 1263.5,1220.8 1264.9,1219.3 1266.4,1223.7 1267.8,1222.2 1269.2,1222.8 1270.7,1220.4 1272.1,1222.1 1273.6,1221.3 1275,1223.8 1276.4,1222.9 1277.9,1223.1 1279.3,1223.5 1280.7,1223.6 1282.2,1223.8 1283.6,1221.1 1285.1,1220.1 1286.5,1220.8 1287.9,1220.9 1289.4,1220.3 1290.8,1220.8 1292.3,1223.8 1293.7,1223.2 1295.1,1223.8 1296.6,1223.8 1298,1221.9 1299.4,1222.3 1300.9,1220.6 1302.3,1221.1 1303.8,1222.4 1305.2,1223.8 1306.6,1222.9 1308.1,1222.5 1309.5,1219.7 1311,1221.9 1312.4,1221.2 1313.8,1222.9 1315.3,1220.9 1316.7,1219.2 1318.1,1218.9 1319.6,1221.5 1321,1223.8 1322.5,1223.8 1323.9,1223.1 1325.3,1223 1326.8,1223.1 1328.2,1220.7 1329.7,1221.4 1331.1,1219.9 1332.5,1219.9 1334,1223.7 1335.4,1222.7 1336.8,1223.8 1338.3,1221.9 1339.7,1222.4 1341.2,1221.6 1342.6,1222.8 1344,1219.3 1345.5,1218.9 1346.9,1223.8 1348.4,1222.1 1349.8,1222.4 1351.2,1221.2 1352.7,1217.6 1354.1,1223.3 1355.5,1221.5 1357,1220.6 1358.4,1222.9 1359.9,1219.6 1361.3,1221.1 1362.7,1218.8 1364.2,1221.8 1365.6,1221.3 1367.1,1221.9 1368.5,1221.8 1369.9,1220.5 1371.4,1223.8 1372.8,1221.9 1374.2,1223.8 1375.7,1220.9 1377.1,1217 1378.6,1223.6 1380,1221.5 1381.4,1223.7 1382.9,1221.1 1384.3,1223 1385.8,1222 1387.2,1221.5 1388.6,1222 1390.1,1222.2 1391.5,1222.7 1393,1223.8 1394.4,1223.2 1395.8,1223.7 1397.3,1222.8 1398.7,1220.6 1400.1,1218.5 1401.6,1221 1403,1219.8 1404.5,1220.9 1405.9,1218.8 1407.3,1220.5 1408.8,1217.9 1410.2,1223 1411.7,1220.4 1413.1,1219 1414.5,1220.8 1416,1219.6 1417.4,1223.2 1418.8,1220.7 1420.3,1221.4 1421.7,1220.8 1423.2,1223.8 1424.6,1223.8 1426,1223.8 1427.5,1222.6 1428.9,1218.2 1430.4,1220.5 1431.8,1221.9 1433.2,1220.7 1434.7,1221.1 1436.1,1221.2 1437.5,1222 1439,1223.8 1440.4,1223.8 1441.9,1221.9 1443.3,1221.5 1444.7,1220.9 1446.2,1223.8 1447.6,1221.8 1449.1,1222.5 1450.5,1222.1 1451.9,1220.9 1453.4,1221.9 1454.8,1221 1456.2,1220.8 1457.7,1220.1 1459.1,1220.6 1460.6,1219.8 1462,1214.7 1463.4,1221.4 1464.9,1218 1466.3,1221.9 1467.8,1221.4 1469.2,1223.5 1470.6,1223.8 1472.1,1223.1 1473.5,1218.7 1474.9,1222.4 1476.4,1222.5 1477.8,1221.6 1479.3,1219.4 1480.7,1220.6 1482.1,1220.9 1483.6,1223.7 1485,1223.4 1486.5,1223.8 1487.9,1220 1489.3,1223.1 1490.8,1221.6 1492.2,1220.2 1493.6,1222.8 1495.1,1219.5 1496.5,1221.9 1498,1223.4 1499.4,1223.8 1500.8,1223.8 1502.3,1221.4 1503.7,1221.1 1505.2,1221.5 1506.6,1221.3 1508,1223.8 1509.5,1219.8 1510.9,1220.1 1512.3,1219.2 1513.8,1219.1 1515.2,1222.2 1516.7,1221.4 1518.1,1222.8 1519.5,1218.5 1521,1220.3 1522.4,1223.8 1523.9,1223.6 1525.3,1220.5 1526.7,1223.1 1528.2,1223.8 1529.6,1220.1 1531,1221.3 1532.5,1222.1 1533.9,1221.2 1535.4,1223.8 1536.8,1223.8 1538.2,1221 1539.7,1220.2 1541.1,1220.2 1542.6,1221.7 1544,1217.5 1545.4,1222.3 1546.9,1223.8 1548.3,1221.2 1549.7,1222.2 1551.2,1220.5 1552.6,1221.5 1554.1,1219.5 1555.5,1220.7 1556.9,1223.7 1558.4,1221.3 1559.8,1221.3 1561.3,1221.1 1562.7,1222.8 1564.1,1220.3 1565.6,1222.9 1567,1220.8 1568.4,1222.1 1569.9,1223.8 1571.3,1223.8 1572.8,1223.2 1574.2,1222.9 1575.6,1223.5 1577.1,1223.8 1578.5,1222.5 1580,1221.5 1581.4,1221.3 1582.8,1221.1 1584.3,1219.2 1585.7,1221.7 1587.1,1223.8 1588.6,1223.4 1590,1221.4 1591.5,1222.8 1592.9,1223.5 1594.3,1223.7 1595.8,1222.5 1597.2,1220.3 1598.7,1221.1 1600.1,1223.8 1601.5,1223.8 1603,1222.6 1604.4,1223.8 1605.8,1221.4 1607.3,1221.7 1608.7,1220.7 1610.2,1221.5 1611.6,1220.9 1613,1219.4 1614.5,1219.4 1615.9,1221.1 1617.4,1216 1618.8,1219.9 1620.2,1219 1621.7,1220.8 1623.1,1220.7 1624.5,1223.8 1626,1223.4 1627.4,1218.7 1628.9,1222.3 1630.3,1220 1631.7,1221.8 1633.2,1220.1 1634.6,1223.3 1636.1,1221.8 1637.5,1221.3 1638.9,1218.7 1640.4,1220.8 1641.8,1219.1 1643.2,1219.2 1644.7,1219.8 1646.1,1222.1 1647.6,1220.4 1649,1219.9 1650.4,1222.1 1651.9,1222.7 1653.3,1221.9 1654.8,1221.2 1656.2,1223.8 1657.6,1219.6 1659.1,1220.1 1660.5,1221.2 1661.9,1223.7 1663.4,1222.3 1664.8,1220.2 1666.3,1216.8 1667.7,1219.5 1669.1,1222.2 1670.6,1220.5" fill="none" stroke="#ff0000" stroke-width="6.9" stroke-linejoin="bevel" stroke-linecap="butt"/>
<polyline points="232.8,1095.2 233.8,1096.1 234.7,1097 235.7,1097.9 236.6,1098.9 237.6,1099.8 238.6,1100.7 239.5,1101.6 240.5,1102.5 241.4,1103.4 242.4,1104.3 243.3,1105.2 244.3,1106.1 245.3,1107.1 246.2,1108.2 247.2,1109.2 248.1,1110.2 249.1,1111.2 250.1,1112 251,1112.8 252,1113.3 252.9,1113.8 253.9,1114.2 254.9,1114.6 255.8,1114.9 256.8,1115.2 257.7,1115.4 258.7,1115.5 259.7,1115.8 260.6,1116.1 261.6,1116.3 262.5,1116.4 263.5,1116.5 264.4,1116.4 265.4,1116.3 266.4,1116.2 267.3,1116 268.3,1115.9 269.2,1115.6 270.2,1115.2 271.2,1114.8 272.1,1114.2 273.1,1113.6 274,1112.9 275,1112.2 276,1111.4 276.9,1110.6 277.9,1109.8 278.8,1108.9 279.8,1107.9 280.8,1106.7 281.7,1105.4 282.7,1104 283.6,1102.5 284.6,1101 285.5,1099.4 286.5,1097.8 287.5,1096.2 288.4,1094.7 289.4,1093.2 290.3,1091.8 291.3,1090.4 292.3,1089.1 293.2,1087.7 294.2,1086.4 295.1,1085.1 296.1,1083.8 297.1,1082.4 298,1081.1 299,1079.7 299.9,1078.3 300.9,1076.9 301.8,1075.4 302.8,1073.9 303.8,1072.5 304.7,1071.2 305.7,1070 306.6,1068.5 307.6,1067.1 308.6,1066.2 309.5,1066.3 310.5,1066.2 311.4,1067.1 312.4,1068.5 313.4,1070.2 314.3,1071.7 315.3,1073.4 316.2,1075.3 317.2,1077.5 318.2,1079.9 319.1,1082.5 320.1,1085.2 321,1088.5 322,1092.2 322.9,1095.9 323.9,1099.3 324.9,1102.1 325.8,1104.9 326.8,1107.5 327.7,1109.8 328.7,1111.5 329.7,1112.8 330.6,1114.2 331.6,1115.4 332.5,1116.5 333.5,1117.2 334.5,1117.4 335.4,1117.3 336.4,1117.2 337.3,1116.9 338.3,1116.5 339.2,1115.9 340.2,1115.3 341.2,1114.7 342.1,1114.1 343.1,1113.5 344,1112.9 345,1112.2 346,1111.4 346.9,1110.7 347.9,1109.9 348.8,1109.3 349.8,1108.7 350.8,1108.3 351.7,1107.9 352.7,1107.6 353.6,1107.3 354.6,1107 355.6,1106.8 356.5,1106.7 357.5,1106.6 358.4,1106.5 359.4,1106.4 360.3,1106.4 361.3,1106.7 362.3,1107 363.2,1107.4 364.2,1107.9 365.1,1108.7 366.1,1109.7 367.1,1111 368,1112.4 369,1113.9 369.9,1115.5 370.9,1117.2 371.9,1119.2 372.8,1121.3 373.8,1123.6 374.7,1126.1 375.7,1128.7 376.7,1132 377.6,1135.7 378.6,1139.4 379.5,1142.6 380.5,1144.8 381.4,1146.8 382.4,1148.6 383.4,1150.3 384.3,1151.8 385.3,1153.1 386.2,1154.4 387.2,1155.6 388.2,1156.7 389.1,1157.8 390.1,1158.8 391,1159.7 392,1160.6 393,1161.5 393.9,1162.3 394.9,1163.1 395.8,1163.8 396.8,1164.5 397.7,1165.1 398.7,1165.7 399.7,1166.2 400.6,1166.8 401.6,1167.3 402.5,1167.8 403.5,1168.3 404.5,1168.8 405.4,1169.2 406.4,1169.6 407.3,1170 408.3,1170.3 409.3,1170.6 410.2,1170.9 411.2,1171.1 412.1,1171.4 413.1,1171.6 414.1,1171.8 415,1172.1 416,1172.3 416.9,1172.4 417.9,1172.6 418.8,1172.7 419.8,1172.8 420.8,1172.8 421.7,1172.7 422.7,1172.7 423.6,1172.7 424.6,1172.6 425.6,1172.6 426.5,1172.5 427.5,1172.5 428.4,1172.4 429.4,1172.3 430.4,1172.2 431.3,1172 432.3,1171.9 433.2,1171.8 434.2,1171.8 435.1,1171.7 436.1,1171.5 437.1,1171.4 438,1171.3 439,1171.2 439.9,1171 440.9,1170.9 441.9,1170.8 442.8,1170.8 443.8,1170.7 444.7,1170.7 445.7,1170.6 446.7,1170.3 447.6,1170.2 448.6,1170.1 449.5,1170 450.5,1169.9 451.5,1169.9 452.4,1169.8 453.4,1169.9 454.3,1169.9 455.3,1169.9 456.2,1170 457.2,1170 458.2,1170.1 459.1,1170.3 460.1,1170.5 461,1170.8 462,1171.1 463,1171.5 463.9,1172 464.9,1172.5 465.8,1173 466.8,1173.6 467.8,1174.2 468.7,1174.8 469.7,1175.4 470.6,1176 471.6,1176.8 472.6,1177.6 473.5,1178.4 474.5,1179.3 475.4,1180.3 476.4,1181.3 477.3,1182.3 478.3,1183.3 479.3,1184.3 480.2,1185.3 481.2,1186.3 482.1,1187.2 483.1,1188.2 484.1,1189 485,1189.9 486,1190.8 486.9,1191.7 487.9,1192.6 488.9,1193.5 489.8,1194.4 490.8,1195.3 491.7,1196.2 492.7,1197.1 493.6,1197.9 494.6,1198.7 495.6,1199.4 496.5,1200.1 497.5,1200.7 498.4,1201.3 499.4,1201.8 500.4,1202.3 501.3,1202.7 502.3,1203.2 503.2,1203.6 504.2,1204 505.2,1204.4 506.1,1204.8 507.1,1205.2 508,1205.5 509,1205.8 510,1206.1 510.9,1206.4 511.9,1206.7 512.8,1206.9 513.8,1207.1 514.7,1207.3 515.7,1207.6 516.7,1207.8 517.6,1208 518.6,1208.2 519.5,1208.4 520.5,1208.6 521.5,1208.8 522.4,1209 523.4,1209.1 524.3,1209.2 525.3,1209.3 526.3,1209.3 527.2,1209.4 528.2,1209.4 529.1,1209.4 530.1,1209.5 531,1209.5 532,1209.6 533,1209.7 533.9,1209.7 534.9,1209.8 535.8,1209.8 536.8,1209.9 537.8,1209.9 538.7,1210 539.7,1210 540.6,1210.1 541.6,1210.1 542.6,1210.2 543.5,1210.2 544.5,1210.3 545.4,1210.3 546.4,1210.3 547.4,1210.4 548.3,1210.4 549.3,1210.5 550.2,1210.5 551.2,1210.6 552.1,1210.6 553.1,1210.7 554.1,1210.7 555,1210.7 556,1210.8 556.9,1210.8 557.9,1210.8 558.9,1210.9 559.8,1210.9 560.8,1210.9 561.7,1210.9 562.7,1210.9 563.7,1210.9 564.6,1210.9 565.6,1210.9 566.5,1210.8 567.5,1210.8 568.5,1210.8 569.4,1210.8 570.4,1210.8 571.3,1210.8 572.3,1210.7 573.2,1210.7 574.2,1210.7 575.2,1210.7 576.1,1210.7 577.1,1210.7 578,1210.7 579,1210.6 580,1210.6 580.9,1210.6 581.9,1210.6 582.8,1210.7 583.8,1210.7 584.8,1210.7 585.7,1210.7 586.7,1210.7 591.7,1223.8" fill="none" stroke="#ff0000" stroke-width="7.5" stroke-linejoin="round" stroke-linecap="round"/>
<polyline points="591.7,1220 593.1,1220 594.6,1217.4 596,1216.6 597.5,1217 598.9,1219.8 600.3,1216.9 601.8,1217.3 603.2,1219 604.7,1216.9 606.1,1217.7 607.5,1220.8 609,1213.9 610.4,1216.1 611.8,1214.8 613.3,1216.3 614.7,1217.8 616.2,1215.1 617.6,1212.6 619,1217.6 620.5,1220.1 621.9,1218.8 623.4,1218.3 624.8,1213.6 626.2,1213.9 627.7,1214.6 629.1,1216.5 630.5,1220.8 632,1219.7 633.4,1216.8 634.9,1214.6 636.3,1214.9 637.7,1213.5 639.2,1212.1 640.6,1214.9 642.1,1215.4 643.5,1214.7 644.9,1210.8 646.4,1214.9 647.8,1210.9 649.2,1211.6 650.7,1216 652.1,1215.2 653.6,1211.9 655,1214.9 656.4,1213 657.9,1212.3 659.3,1209 660.8,1209.8 662.2,1210.8 663.6,1211.6 665.1,1211.9 666.5,1209.7 667.9,1215.5 669.4,1212.5 670.8,1210.8 672.3,1211.6 673.7,1210.3 675.1,1208.6 676.6,1207.3 678,1210 679.5,1208.2 680.9,1207.9 682.3,1207 683.8,1208.1 685.2,1203.9 686.6,1206.9 688.1,1206.2 689.5,1206.6 691,1201.2 692.4,1203.8 693.8,1200.9 695.3,1206.3 696.7,1205.8 698.2,1203.2 699.6,1205.3 701,1202.4 702.5,1201 703.9,1202.4 705.3,1204.6 706.8,1204 708.2,1202.4 709.7,1202 711.1,1199.9 712.5,1202.1 714,1202.1 715.4,1201.6 716.9,1200 718.3,1201.2 719.7,1200.8 721.2,1200.7 722.6,1199.3 724,1198.5 725.5,1198.9 726.9,1200.4 728.4,1201.4 729.8,1194.9 731.2,1194.2 732.7,1194.9 734.1,1196.4 735.6,1198.9 737,1200 738.4,1197.9 739.9,1195.4 741.3,1192.9 742.7,1194.4 744.2,1195.5 745.6,1193.4 747.1,1194.7 748.5,1191.6 749.9,1193.5 751.4,1190.8 752.8,1189.9 754.3,1187.2 755.7,1190 757.1,1188 758.6,1192.2 760,1190.4 761.4,1185.3 762.9,1185.9 764.3,1186.7 765.8,1188.4 767.2,1184.3 768.6,1186.6 770.1,1184.8 771.5,1181 773,1185.7 774.4,1183.5 775.8,1183.9 777.3,1179.2 778.7,1181 780.1,1180.6 781.6,1178.9 783,1177.3 784.5,1179.7 785.9,1183.1 787.3,1178.1 788.8,1176.6 790.2,1172.8 791.7,1173.8 793.1,1173.5 794.5,1170.9 796,1169.4 797.4,1167.5 798.8,1168.1 800.3,1171.5 801.7,1167.9 803.2,1166.4 804.6,1165.4 806,1163.5 807.5,1166.7 808.9,1164.8 810.4,1167.1 811.8,1162.1 813.2,1164.4 814.7,1165 816.1,1162.1 817.6,1155.1 819,1159.3 820.4,1157.5 821.9,1157.8 823.3,1157.7 824.7,1155 826.2,1152.1 827.6,1149.4 829.1,1152.5 830.5,1154.3 831.9,1151.5 833.4,1150 834.8,1153.7 836.3,1153.3 837.7,1155.6 839.1,1149.1 840.6,1148.2 842,1147.1 843.4,1147.6 844.9,1146.9 846.3,1147 847.8,1147.5 849.2,1145.7 850.6,1148.1 852.1,1145.6 853.5,1144.5 855,1143 856.4,1142.7 857.8,1145.1 859.3,1145.2 860.7,1145.5 862.1,1146.4 863.6,1142.3 865,1141.7 866.5,1144.3 867.9,1139.7 869.3,1139.8 870.8,1141.3 872.2,1137.6 873.7,1143.1 875.1,1138.1 876.5,1136.8 878,1136.7 879.4,1131.7 880.8,1135.3 882.3,1132.6 883.7,1135 885.2,1132.2 886.6,1136.4 888,1132.8 889.5,1136.7 890.9,1132 892.4,1132.8 893.8,1132.9 895.2,1134.7 896.7,1133.8 898.1,1133.6 899.5,1133.2 901,1132.9 902.4,1133.7 903.9,1132.9 905.3,1135.5 906.7,1133.6 908.2,1137 909.6,1136.1 911.1,1135.8 912.5,1137.7 913.9,1134.9 915.4,1132.2 916.8,1131.8 918.2,1132.7 919.7,1130.5 921.1,1134.4 922.6,1134 924,1138.1 925.4,1136 926.9,1140.7 928.3,1136.2 929.8,1133.7 931.2,1133.5 932.6,1135.8 934.1,1134.5 935.5,1133.3 936.9,1132.7 938.4,1134.1 939.8,1130.6 941.3,1134.3 942.7,1135.2 944.1,1136.3 945.6,1138 947,1131.3 948.5,1130.7 949.9,1137.7 951.3,1137.1 952.8,1135.7 954.2,1136.8 955.6,1137.6 957.1,1138.9 958.5,1141.4 960,1139 961.4,1140.8 962.8,1143.9 964.3,1149.3 965.7,1143.3 967.2,1145.2 968.6,1144.1 970,1143.3 971.5,1145.9 972.9,1150.9 974.3,1149 975.8,1152.9 977.2,1154.6 978.7,1155.5 980.1,1158.4 981.5,1160.2 983,1159.3 984.4,1158.6 985.9,1163.6 987.3,1159.7 988.7,1161.9 990.2,1159.1 991.6,1163.6 993,1160.4 994.5,1165.7 995.9,1169 997.4,1168.7 998.8,1173.4 1000.2,1170.3 1001.7,1171.8 1003.1,1170.4 1004.6,1172.2 1006,1177.2 1007.4,1179.4 1008.9,1173.9 1010.3,1175 1011.7,1170.9 1013.2,1176.7 1014.6,1173.3 1016.1,1175.1 1017.5,1173.5 1018.9,1177.4 1020.4,1177.8 1021.8,1180.6 1023.3,1180 1024.7,1179.2 1026.1,1180.1 1027.6,1176.5 1029,1180.4 1030.4,1180 1031.9,1180.1 1033.3,1183.2 1034.8,1180.8 1036.2,1184.4 1037.6,1187.1 1039.1,1189 1040.5,1187.8 1042,1190.1 1043.4,1190.8 1044.8,1191.9 1046.3,1188.4 1047.7,1190.9 1049.1,1194 1050.6,1195.4 1052,1201.8 1053.5,1199.3 1054.9,1200.9 1056.3,1200.4 1057.8,1203.2 1059.2,1204.8 1060.7,1205.3 1062.1,1210.7 1063.5,1211.3 1065,1207.8 1066.4,1208.2 1067.8,1212.4 1069.3,1211.8 1070.7,1213.2 1072.2,1217.9 1073.6,1217.1 1075,1217.3 1076.5,1219.7 1077.9,1217.7 1079.4,1219.3 1080.8,1218.6 1082.2,1220.3 1083.7,1221.1 1085.1,1219.2 1086.5,1216.4 1088,1217.6 1089.4,1222.3 1090.9,1220.4 1092.3,1222.5 1093.7,1216.9 1095.2,1223.3 1096.6,1219.9 1098.1,1220.2 1099.5,1223.8 1100.9,1223.8 1102.4,1220.2 1103.8,1217.9 1105.3,1221.4 1106.7,1223.6 1108.1,1219.9 1109.6,1218 1111,1221.8 1112.4,1222.9 1113.9,1220.1 1115.3,1220.5 1116.8,1222.5 1118.2,1222 1119.6,1221.8 1121.1,1220.6 1122.5,1222.3 1124,1223.2 1125.4,1223.8 1126.8,1221.7 1128.3,1221.5 1129.7,1221.6 1131.1,1220.5 1132.6,1220.1 1134,1218.6 1135.5,1221.6 1136.9,1223 1138.3,1221.3 1139.8,1223 1141.2,1222.4 1142.7,1219.9 1144.1,1214.8 1145.5,1219.9 1147,1222.2 1148.4,1219.2 1149.8,1222.7 1151.3,1219.8 1152.7,1223.1 1154.2,1221.4 1155.6,1221 1157,1220.8 1158.5,1222.1 1159.9,1222.9 1161.4,1223.3 1162.8,1221.5 1164.2,1223.8 1165.7,1223.8 1167.1,1223.8 1168.5,1222.8 1170,1221 1171.4,1221.9 1172.9,1221.4 1174.3,1222.5 1175.7,1223.5 1177.2,1220.4 1178.6,1220.8 1180.1,1222.7 1181.5,1223.1 1182.9,1223.8 1184.4,1222 1185.8,1223 1187.2,1222.4 1188.7,1222.1 1190.1,1223.8 1191.6,1223.8 1193,1221.5 1194.4,1220.1 1195.9,1220.7 1197.3,1222.8 1198.8,1223.3 1200.2,1221.4 1201.6,1223.2 1203.1,1223.2 1204.5,1221.6 1205.9,1221.9 1207.4,1223 1208.8,1222.1 1210.3,1221.8 1211.7,1222.2 1213.1,1223.8 1214.6,1221.9 1216,1220.8 1217.5,1223.8 1218.9,1221.6 1220.3,1223.8 1221.8,1223.8 1223.2,1221.6 1224.6,1223.4 1226.1,1222.7 1227.5,1223.8 1229,1220.5 1230.4,1219.1 1231.8,1223.4 1233.3,1222.8 1234.7,1223.5 1236.2,1222.3 1237.6,1223.8 1239,1219.5 1240.5,1221.4 1241.9,1221.4 1243.3,1221.7 1244.8,1222.5 1246.2,1221.5 1247.7,1221.8 1249.1,1221.4 1250.5,1220.6 1252,1220.9 1253.4,1219.4 1254.9,1220.7 1256.3,1219.7 1257.7,1221.7 1259.2,1219.1 1260.6,1219.9 1262,1219.9 1263.5,1221.4 1264.9,1222.2 1266.4,1223.8 1267.8,1222.6 1269.2,1223.2 1270.7,1222.8 1272.1,1223.5 1273.6,1220.6 1275,1220.7 1276.4,1219.5 1277.9,1221.8 1279.3,1221.8 1280.7,1219 1282.2,1219.9 1283.6,1222.9 1285.1,1219.8 1286.5,1220.4 1287.9,1221.2 1289.4,1222 1290.8,1223.6 1292.3,1222.6 1293.7,1222.8 1295.1,1221.6 1296.6,1222.6 1298,1223.8 1299.4,1223.6 1300.9,1221.3 1302.3,1222.3 1303.8,1222.6 1305.2,1217.7 1306.6,1222.4 1308.1,1219.3 1309.5,1223.8 1311,1223.4 1312.4,1223 1313.8,1222.1 1315.3,1222 1316.7,1222.7 1318.1,1222.1 1319.6,1222.4 1321,1221.3 1322.5,1218.7 1323.9,1223.8 1325.3,1218.5 1326.8,1219.6 1328.2,1221.7 1329.7,1220.3 1331.1,1221 1332.5,1221.4 1334,1222.6 1335.4,1221 1336.8,1223.8 1338.3,1221.2 1339.7,1222.4 1341.2,1223.1 1342.6,1222.8 1344,1223.8 1345.5,1222.3 1346.9,1221 1348.4,1220.9 1349.8,1222.4 1351.2,1219.7 1352.7,1220.8 1354.1,1217.6 1355.5,1222.2 1357,1219.7 1358.4,1222.3 1359.9,1221.1 1361.3,1219.1 1362.7,1221.8 1364.2,1222.2 1365.6,1222.1 1367.1,1223 1368.5,1220.8 1369.9,1221.3 1371.4,1220.7 1372.8,1219.5 1374.2,1221.8 1375.7,1223.8 1377.1,1220.4 1378.6,1221.2 1380,1219.7 1381.4,1219 1382.9,1221.6 1384.3,1221.6 1385.8,1220.9 1387.2,1222.7 1388.6,1222.3 1390.1,1222.7 1391.5,1220.7 1393,1221.6 1394.4,1221.9 1395.8,1221.2 1397.3,1223.8 1398.7,1222.6 1400.1,1221 1401.6,1221.2 1403,1218.6 1404.5,1220.2 1405.9,1219.3 1407.3,1221.5 1408.8,1220.4 1410.2,1221.6 1411.7,1222.2 1413.1,1222.1 1414.5,1221.5 1416,1223.3 1417.4,1222.4 1418.8,1223.7 1420.3,1223 1421.7,1223.8 1423.2,1220.5 1424.6,1223.3 1426,1220.8 1427.5,1223.8 1428.9,1223.3 1430.4,1223.2 1431.8,1223.4 1433.2,1221.3 1434.7,1222.1 1436.1,1221.7 1437.5,1220.7 1439,1220.3 1440.4,1220.3 1441.9,1221.9 1443.3,1222.6 1444.7,1220.7 1446.2,1219.7 1447.6,1223.7 1449.1,1219.7 1450.5,1221.2 1451.9,1223.1 1453.4,1220.9 1454.8,1219.5 1456.2,1221.6 1457.7,1216.1 1459.1,1219.5 1460.6,1221.6 1462,1223.2 1463.4,1222.4 1464.9,1221.3 1466.3,1222.7 1467.8,1222.2 1469.2,1221.4 1470.6,1219.7 1472.1,1223.7 1473.5,1222.3 1474.9,1221.2 1476.4,1221 1477.8,1223.8 1479.3,1217.8 1480.7,1221.8 1482.1,1221.9 1483.6,1223.8 1485,1220.8 1486.5,1223.8 1487.9,1222 1489.3,1221.8 1490.8,1221.5 1492.2,1221.4 1493.6,1223 1495.1,1222.1 1496.5,1223.8 1498,1221 1499.4,1222.4 1500.8,1220.9 1502.3,1223.8 1503.7,1223.8 1505.2,1218.8 1506.6,1221.2 1508,1223.2 1509.5,1221.7 1510.9,1219.5 1512.3,1217.3 1513.8,1219.9 1515.2,1219.3 1516.7,1220 1518.1,1222.6 1519.5,1222.6 1521,1217.8 1522.4,1221.6 1523.9,1220.5 1525.3,1222.6 1526.7,1220.5 1528.2,1220.2 1529.6,1220.4 1531,1221.9 1532.5,1222.6 1533.9,1220.8 1535.4,1221.8 1536.8,1222.4 1538.2,1223.8 1539.7,1223.8 1541.1,1223.7 1542.6,1221.2 1544,1222 1545.4,1222.1 1546.9,1223.8 1548.3,1220.5 1549.7,1220.2 1551.2,1220.7 1552.6,1223 1554.1,1221 1555.5,1221.8 1556.9,1221.5 1558.4,1222.6 1559.8,1223.3 1561.3,1221 1562.7,1222.3 1564.1,1222.1 1565.6,1221.5 1567,1223 1568.4,1222 1569.9,1215.9 1571.3,1219.8 1572.8,1221.5 1574.2,1223.6 1575.6,1223.4 1577.1,1221.4 1578.5,1218.4 1580,1221.8 1581.4,1223.8 1582.8,1223.8 1584.3,1221.6 1585.7,1222.4 1587.1,1223.7 1588.6,1220.2 1590,1220 1591.5,1220.6 1592.9,1220 1594.3,1222.6 1595.8,1223.5 1597.2,1222.7 1598.7,1222.4 1600.1,1222.8 1601.5,1223.2 1603,1220.5 1604.4,1219.9 1605.8,1221 1607.3,1222 1608.7,1221 1610.2,1222.4 1611.6,1222.1 1613,1222.5 1614.5,1222.4 1615.9,1217.3 1617.4,1221.3 1618.8,1221.5 1620.2,1220.7 1621.7,1221 1623.1,1219.2 1624.5,1221.6 1626,1218.4 1627.4,1222.3 1628.9,1220 1630.3,1222.8 1631.7,1218.4 1633.2,1221.1 1634.6,1222.5 1636.1,1218.3 1637.5,1222.4 1638.9,1220.5 1640.4,1222.4 1641.8,1219.8 1643.2,1223.8 1644.7,1221 1646.1,1223.8 1647.6,1220.1 1649,1219.4 1650.4,1220.3 1651.9,1221.9 1653.3,1220.7 1654.8,1219.6 1656.2,1221.7 1657.6,1221.5 1659.1,1219.6 1660.5,1223 1661.9,1223.3 1663.4,1222.5 1664.8,1223.1 1666.3,1213.6 1667.7,1222.2 1669.1,1221.5 1670.6,1222.2" fill="none" stroke="#0000ff" stroke-width="6.9" stroke-linejoin="bevel" stroke-linecap="butt"/>
<polyline points="232.8,1009.9 233.8,1011.3 234.7,1012.8 235.7,1014.3 236.6,1015.7 237.6,1017.2 238.6,1018.6 239.5,1020 240.5,1021.5 241.4,1022.9 242.4,1024.4 243.3,1025.8 244.3,1027.3 245.3,1028.9 246.2,1030.5 247.2,1032.2 248.1,1033.9 249.1,1035.4 250.1,1036.8 251,1037.9 252,1038.8 252.9,1039.4 253.9,1040.1 254.9,1040.7 255.8,1041.2 256.8,1041.6 257.7,1041.9 258.7,1042 259.7,1042.2 260.6,1042.4 261.6,1042.3 262.5,1042 263.5,1041.6 264.4,1041.1 265.4,1040.4 266.4,1039.8 267.3,1039.1 268.3,1038.3 269.2,1037.4 270.2,1036.3 271.2,1035 272.1,1033.6 273.1,1032 274,1030.3 275,1028.5 276,1026.7 276.9,1024.7 277.9,1022.7 278.8,1020.6 279.8,1018.3 280.8,1015.6 281.7,1012.8 282.7,1009.7 283.6,1006.4 284.6,1003 285.5,999.6 286.5,996.1 287.5,992.6 288.4,989.1 289.4,985.8 290.3,982.5 291.3,979.3 292.3,976.1 293.2,972.9 294.2,969.7 295.1,966.5 296.1,963.3 297.1,960 298,956.7 299,953.4 299.9,949.9 300.9,946.3 301.8,942.7 302.8,939 303.8,935.4 304.7,932 305.7,928.7 306.6,924.9 307.6,921.2 308.6,918.5 309.5,917.8 310.5,918.5 311.4,921.1 312.4,924.8 313.4,928.8 314.3,932.6 315.3,936.7 316.2,941.3 317.2,946.2 318.2,951.6 319.1,957.2 320.1,963.1 321,970 322,977.6 322.9,985.2 323.9,992.1 324.9,998.1 325.8,1003.9 326.8,1009.3 327.7,1014 328.7,1017.6 329.7,1020.7 330.6,1023.8 331.6,1026.6 332.5,1029 333.5,1030.7 334.5,1031.7 335.4,1031.7 336.4,1031.3 337.3,1030.5 338.3,1029.4 339.2,1028.2 340.2,1026.8 341.2,1025.4 342.1,1024 343.1,1022.7 344,1021.3 345,1019.7 346,1018 346.9,1016.3 347.9,1014.6 348.8,1013.1 349.8,1011.8 350.8,1010.8 351.7,1009.8 352.7,1008.9 353.6,1008 354.6,1007.2 355.6,1006.5 356.5,1005.9 357.5,1005.5 358.4,1005.3 359.4,1005.6 360.3,1006.2 361.3,1007.2 362.3,1008.3 363.2,1009.5 364.2,1010.9 365.1,1012.8 366.1,1015.2 367.1,1017.9 368,1021 369,1024.2 369.9,1027.5 370.9,1031 371.9,1034.9 372.8,1039.1 373.8,1043.7 374.7,1048.5 375.7,1053.6 376.7,1059.8 377.6,1066.8 378.6,1073.7 379.5,1079.6 380.5,1083.9 381.4,1087.7 382.4,1091.1 383.4,1094.3 384.3,1097.2 385.3,1099.8 386.2,1102.3 387.2,1104.6 388.2,1106.8 389.1,1108.9 390.1,1110.9 391,1112.7 392,1114.5 393,1116.2 393.9,1117.8 394.9,1119.3 395.8,1120.8 396.8,1122.1 397.7,1123.4 398.7,1124.6 399.7,1125.8 400.6,1126.9 401.6,1128 402.5,1129 403.5,1130 404.5,1131 405.4,1131.9 406.4,1132.7 407.3,1133.5 408.3,1134.3 409.3,1134.9 410.2,1135.5 411.2,1136.1 412.1,1136.6 413.1,1137.2 414.1,1137.7 415,1138.3 416,1138.8 416.9,1139.2 417.9,1139.6 418.8,1139.9 419.8,1140.2 420.8,1140.4 421.7,1140.4 422.7,1140.4 423.6,1140.3 424.6,1140.2 425.6,1140.1 426.5,1139.9 427.5,1139.8 428.4,1139.6 429.4,1139.3 430.4,1139.1 431.3,1138.9 432.3,1138.7 433.2,1138.4 434.2,1138.2 435.1,1138 436.1,1137.8 437.1,1137.5 438,1137.3 439,1137 439.9,1136.7 440.9,1136.5 441.9,1136.3 442.8,1136.1 443.8,1136 444.7,1135.9 445.7,1135.8 446.7,1135.7 447.6,1135.7 448.6,1135.7 449.5,1135.7 450.5,1135.9 451.5,1136 452.4,1136.2 453.4,1136.4 454.3,1136.7 455.3,1137 456.2,1137.3 457.2,1137.6 458.2,1137.9 459.1,1138.3 460.1,1138.9 461,1139.6 462,1140.3 463,1141.2 463.9,1142.1 464.9,1143 465.8,1144.1 466.8,1145.1 467.8,1146.2 468.7,1147.3 469.7,1148.4 470.6,1149.6 471.6,1150.9 472.6,1152.3 473.5,1153.7 474.5,1155.3 475.4,1156.9 476.4,1158.5 477.3,1160.1 478.3,1161.8 479.3,1163.5 480.2,1165.1 481.2,1166.7 482.1,1168.3 483.1,1169.8 484.1,1171.2 485,1172.7 486,1174.1 486.9,1175.5 487.9,1177 488.9,1178.4 489.8,1179.9 490.8,1181.3 491.7,1182.7 492.7,1184 493.6,1185.3 494.6,1186.5 495.6,1187.7 496.5,1188.8 497.5,1189.7 498.4,1190.6 499.4,1191.4 500.4,1192.2 501.3,1192.9 502.3,1193.6 503.2,1194.3 504.2,1195 505.2,1195.6 506.1,1196.2 507.1,1196.8 508,1197.3 509,1197.8 510,1198.3 510.9,1198.7 511.9,1199.1 512.8,1199.5 513.8,1199.9 514.7,1200.2 515.7,1200.6 516.7,1200.9 517.6,1201.3 518.6,1201.6 519.5,1201.9 520.5,1202.3 521.5,1202.5 522.4,1202.8 523.4,1203 524.3,1203.2 525.3,1203.3 526.3,1203.4 527.2,1203.5 528.2,1203.5 529.1,1203.6 530.1,1203.6 531,1203.7 532,1203.8 533,1203.8 533.9,1203.9 534.9,1203.9 535.8,1204 536.8,1204 537.8,1204.1 538.7,1204.1 539.7,1204.2 540.6,1204.2 541.6,1204.3 542.6,1204.3 543.5,1204.4 544.5,1204.4 545.4,1204.5 546.4,1204.5 547.4,1204.6 548.3,1204.6 549.3,1204.7 550.2,1204.7 551.2,1204.7 552.1,1204.8 553.1,1204.8 554.1,1204.9 555,1204.9 556,1204.9 556.9,1205 557.9,1205 558.9,1205 559.8,1205 560.8,1204.9 561.7,1204.9 562.7,1204.9 563.7,1204.8 564.6,1204.8 565.6,1204.8 566.5,1204.7 567.5,1204.7 568.5,1204.6 569.4,1204.5 570.4,1204.5 571.3,1204.4 572.3,1204.4 573.2,1204.3 574.2,1204.3 575.2,1204.2 576.1,1204.1 577.1,1204.1 578,1204 579,1204 580,1204 580.9,1203.9 581.9,1203.9 582.8,1203.9 583.8,1203.9 584.8,1203.9 585.7,1203.9 586.7,1204 591.7,1220" fill="none" stroke="#0000ff" stroke-width="7.5" stroke-linejoin="round" stroke-linecap="round"/>
<polyline points="591.7,1219.2 593.1,1217.6 594.6,1216.1 596,1215.9 597.5,1218.7 598.9,1212.5 600.3,1216.7 601.8,1214.3 603.2,1215.1 604.7,1212.9 606.1,1213.7 607.5,1214.1 609,1214.6 610.4,1214 611.8,1213.7 613.3,1213.3 614.7,1212.6 616.2,1213.8 617.6,1211.7 619,1214.1 620.5,1213.5 621.9,1215.1 623.4,1212 624.8,1208.9 626.2,1207.9 627.7,1212.2 629.1,1207.5 630.5,1208.6 632,1204.9 633.4,1206 634.9,1203.3 636.3,1204 637.7,1202 639.2,1202.6 640.6,1204.9 642.1,1200.4 643.5,1199.2 644.9,1201.5 646.4,1202 647.8,1201.6 649.2,1203.9 650.7,1202.9 652.1,1199.8 653.6,1201.2 655,1201.3 656.4,1201 657.9,1201.5 659.3,1197.7 660.8,1197.6 662.2,1190.6 663.6,1197.4 665.1,1198.5 666.5,1199.4 667.9,1197.4 669.4,1198.2 670.8,1201.6 672.3,1199.2 673.7,1198.3 675.1,1197.9 676.6,1197.3 678,1197.2 679.5,1197.1 680.9,1198.8 682.3,1198.9 683.8,1195.9 685.2,1194.4 686.6,1194.9 688.1,1196.8 689.5,1193.7 691,1197.2 692.4,1197 693.8,1194.7 695.3,1193.3 696.7,1194.1 698.2,1197.6 699.6,1197.8 701,1192.3 702.5,1192.1 703.9,1192.5 705.3,1190.7 706.8,1192.6 708.2,1188.2 709.7,1191.4 711.1,1189.4 712.5,1188.2 714,1189.9 715.4,1189.9 716.9,1188.8 718.3,1189.6 719.7,1187 721.2,1188.3 722.6,1187.5 724,1185.6 725.5,1186 726.9,1185.6 728.4,1186.3 729.8,1186 731.2,1184.7 732.7,1189.1 734.1,1186.8 735.6,1186.1 737,1182.2 738.4,1183 739.9,1181.9 741.3,1178 742.7,1179.2 744.2,1177.7 745.6,1179.9 747.1,1179.4 748.5,1180.7 749.9,1175.7 751.4,1179.1 752.8,1175.2 754.3,1170.7 755.7,1174 757.1,1174.4 758.6,1173.7 760,1172.8 761.4,1171 762.9,1170.7 764.3,1172.6 765.8,1171.7 767.2,1166.5 768.6,1169.8 770.1,1167.1 771.5,1164.9 773,1169.4 774.4,1166.3 775.8,1166.8 777.3,1167.5 778.7,1161.7 780.1,1160.9 781.6,1160.3 783,1159.2 784.5,1159.7 785.9,1161.3 787.3,1157.9 788.8,1157.3 790.2,1154.7 791.7,1148.8 793.1,1150.6 794.5,1151.1 796,1147.9 797.4,1145.5 798.8,1140.6 800.3,1143.1 801.7,1143.7 803.2,1143.5 804.6,1141.1 806,1142.6 807.5,1139.9 808.9,1133.4 810.4,1138.2 811.8,1135.3 813.2,1133.9 814.7,1133.5 816.1,1130.7 817.6,1131.3 819,1125.4 820.4,1128.1 821.9,1129.4 823.3,1124.1 824.7,1120.8 826.2,1118.6 827.6,1124 829.1,1120.1 830.5,1121.9 831.9,1117.7 833.4,1119.1 834.8,1115 836.3,1118.2 837.7,1116.1 839.1,1116 840.6,1108.1 842,1112.3 843.4,1113.9 844.9,1112.9 846.3,1109.8 847.8,1109.5 849.2,1109.4 850.6,1109.8 852.1,1106.5 853.5,1106.7 855,1105.1 856.4,1101.3 857.8,1100.5 859.3,1100.7 860.7,1102.2 862.1,1101 863.6,1098.6 865,1095.8 866.5,1097.6 867.9,1099.1 869.3,1097.9 870.8,1096.8 872.2,1095.1 873.7,1094.1 875.1,1089 876.5,1092.2 878,1094 879.4,1089.1 880.8,1091.5 882.3,1090.5 883.7,1089 885.2,1087.7 886.6,1087.9 888,1087.8 889.5,1088.5 890.9,1086.4 892.4,1089.1 893.8,1089.6 895.2,1090 896.7,1088.9 898.1,1090.8 899.5,1088.8 901,1083.6 902.4,1083.9 903.9,1085.4 905.3,1086.8 906.7,1086.4 908.2,1085 909.6,1087 911.1,1088.7 912.5,1087.2 913.9,1086.9 915.4,1086.8 916.8,1088.5 918.2,1087.9 919.7,1087.8 921.1,1088.4 922.6,1084.4 924,1087.6 925.4,1091.9 926.9,1086.8 928.3,1089.5 929.8,1088.5 931.2,1086.9 932.6,1085.7 934.1,1088.5 935.5,1090.8 936.9,1091.2 938.4,1086.2 939.8,1091 941.3,1093.7 942.7,1093.8 944.1,1091.1 945.6,1089.7 947,1088.4 948.5,1089.5 949.9,1092.2 951.3,1091.6 952.8,1092.1 954.2,1094.3 955.6,1097.1 957.1,1097.8 958.5,1099.6 960,1101 961.4,1103.5 962.8,1106.8 964.3,1103.5 965.7,1103.9 967.2,1107.9 968.6,1108.5 970,1111.6 971.5,1111.9 972.9,1117.3 974.3,1117.1 975.8,1118.8 977.2,1119.9 978.7,1121.5 980.1,1125.7 981.5,1126.7 983,1127 984.4,1128.9 985.9,1130.2 987.3,1129.7 988.7,1131.2 990.2,1134.6 991.6,1138.1 993,1139 994.5,1140.3 995.9,1136.7 997.4,1139.8 998.8,1142.8 1000.2,1140.7 1001.7,1140.8 1003.1,1144.7 1004.6,1145.1 1006,1142.7 1007.4,1146.4 1008.9,1146.3 1010.3,1143.2 1011.7,1149.4 1013.2,1152.1 1014.6,1151.5 1016.1,1150.9 1017.5,1151.1 1018.9,1154.9 1020.4,1156.3 1021.8,1152.4 1023.3,1154.2 1024.7,1155.9 1026.1,1156.2 1027.6,1154.8 1029,1156.9 1030.4,1160.4 1031.9,1159.2 1033.3,1159.1 1034.8,1163.5 1036.2,1162.1 1037.6,1160.1 1039.1,1158 1040.5,1159.1 1042,1160.2 1043.4,1163.6 1044.8,1163.9 1046.3,1170.3 1047.7,1168.8 1049.1,1173.3 1050.6,1174.5 1052,1176.5 1053.5,1178.8 1054.9,1180.8 1056.3,1185.1 1057.8,1187.1 1059.2,1189.6 1060.7,1193.8 1062.1,1192.9 1063.5,1197.7 1065,1196.6 1066.4,1199.8 1067.8,1202.1 1069.3,1203.4 1070.7,1204.5 1072.2,1207.8 1073.6,1206.3 1075,1211.7 1076.5,1211.5 1077.9,1214.6 1079.4,1214.5 1080.8,1214.6 1082.2,1212.2 1083.7,1217.5 1085.1,1217.6 1086.5,1215.7 1088,1215.2 1089.4,1213.2 1090.9,1213.9 1092.3,1216.8 1093.7,1217.9 1095.2,1219.7 1096.6,1221.2 1098.1,1220 1099.5,1218.9 1100.9,1220.1 1102.4,1217.9 1103.8,1219.3 1105.3,1218.4 1106.7,1221 1108.1,1221.1 1109.6,1220.3 1111,1222.6 1112.4,1219.4 1113.9,1222.6 1115.3,1217.8 1116.8,1220 1118.2,1222 1119.6,1220.6 1121.1,1219.6 1122.5,1223.6 1124,1223.8 1125.4,1221.7 1126.8,1222.3 1128.3,1222 1129.7,1220.8 1131.1,1221.2 1132.6,1219.4 1134,1220.7 1135.5,1221.8 1136.9,1217.6 1138.3,1216.9 1139.8,1218.2 1141.2,1221.4 1142.7,1222.2 1144.1,1222.6 1145.5,1223 1147,1222.1 1148.4,1223.8 1149.8,1222.7 1151.3,1223.8 1152.7,1223.8 1154.2,1223.8 1155.6,1223.8 1157,1220.6 1158.5,1221.6 1159.9,1221.3 1161.4,1220.7 1162.8,1220.9 1164.2,1222.4 1165.7,1223.8 1167.1,1223.7 1168.5,1219.8 1170,1223.8 1171.4,1219.9 1172.9,1219.8 1174.3,1220.8 1175.7,1220.9 1177.2,1221.2 1178.6,1221.5 1180.1,1219.4 1181.5,1221.5 1182.9,1222.4 1184.4,1217.9 1185.8,1221.7 1187.2,1222.6 1188.7,1221.8 1190.1,1219.3 1191.6,1222.2 1193,1222.1 1194.4,1223.7 1195.9,1221.6 1197.3,1219.6 1198.8,1223.3 1200.2,1223.8 1201.6,1223.8 1203.1,1223.8 1204.5,1223 1205.9,1221.7 1207.4,1222 1208.8,1223.8 1210.3,1222.7 1211.7,1220.5 1213.1,1221.1 1214.6,1223.4 1216,1221.5 1217.5,1222.8 1218.9,1222.5 1220.3,1222.9 1221.8,1222.3 1223.2,1221.6 1224.6,1220.4 1226.1,1223.8 1227.5,1223.5 1229,1220.1 1230.4,1223 1231.8,1219.1 1233.3,1221.2 1234.7,1222.7 1236.2,1219.1 1237.6,1219.6 1239,1222.1 1240.5,1220.6 1241.9,1218.8 1243.3,1223.5 1244.8,1221.8 1246.2,1220.5 1247.7,1219.1 1249.1,1218.8 1250.5,1216.8 1252,1223.1 1253.4,1223.2 1254.9,1222.8 1256.3,1223.4 1257.7,1223.8 1259.2,1223.8 1260.6,1220.9 1262,1223.1 1263.5,1223.8 1264.9,1223.6 1266.4,1222 1267.8,1219.6 1269.2,1217.3 1270.7,1221.3 1272.1,1220.5 1273.6,1220.6 1275,1222.4 1276.4,1221.9 1277.9,1220.3 1279.3,1220.5 1280.7,1221.6 1282.2,1223.8 1283.6,1223.8 1285.1,1221.9 1286.5,1221.7 1287.9,1220.1 1289.4,1220.4 1290.8,1222.8 1292.3,1220.9 1293.7,1223.8 1295.1,1220.2 1296.6,1217.3 1298,1219.7 1299.4,1219.9 1300.9,1221.7 1302.3,1222.1 1303.8,1220.5 1305.2,1220.1 1306.6,1220.7 1308.1,1223.7 1309.5,1219.8 1311,1220.8 1312.4,1219.7 1313.8,1221.6 1315.3,1223.8 1316.7,1223.8 1318.1,1221.6 1319.6,1222.3 1321,1219.3 1322.5,1222.2 1323.9,1218.9 1325.3,1220.9 1326.8,1223.4 1328.2,1221.5 1329.7,1221.2 1331.1,1222.2 1332.5,1221.5 1334,1222.8 1335.4,1223.8 1336.8,1222.5 1338.3,1219.3 1339.7,1221.1 1341.2,1222.4 1342.6,1222.7 1344,1220.8 1345.5,1219.7 1346.9,1221.3 1348.4,1220.4 1349.8,1221.5 1351.2,1220.2 1352.7,1220.4 1354.1,1222.6 1355.5,1220.9 1357,1219.7 1358.4,1221.2 1359.9,1223.8 1361.3,1221.8 1362.7,1221.8 1364.2,1222.3 1365.6,1219 1367.1,1217.6 1368.5,1221.1 1369.9,1222.5 1371.4,1223.3 1372.8,1223.8 1374.2,1222.1 1375.7,1219.7 1377.1,1222.1 1378.6,1221 1380,1219.1 1381.4,1222.9 1382.9,1222.2 1384.3,1221.2 1385.8,1222.5 1387.2,1223.8 1388.6,1220.9 1390.1,1222.3 1391.5,1222.3 1393,1219.3 1394.4,1221.1 1395.8,1222 1397.3,1222.6 1398.7,1223.5 1400.1,1223.3 1401.6,1220.3 1403,1221.4 1404.5,1220.9 1405.9,1219.2 1407.3,1219.5 1408.8,1221.6 1410.2,1223.4 1411.7,1222 1413.1,1221.8 1414.5,1223.8 1416,1221.8 1417.4,1223.5 1418.8,1223.8 1420.3,1221 1421.7,1220.2 1423.2,1221.7 1424.6,1220.3 1426,1219.7 1427.5,1221.8 1428.9,1220.3 1430.4,1221.3 1431.8,1222.2 1433.2,1223.8 1434.7,1221.2 1436.1,1222 1437.5,1221.8 1439,1219.4 1440.4,1220.1 1441.9,1220.4 1443.3,1222.4 1444.7,1221.7 1446.2,1219.8 1447.6,1223.8 1449.1,1221.7 1450.5,1223.8 1451.9,1222.1 1453.4,1223.1 1454.8,1219.9 1456.2,1219.7 1457.7,1220.5 1459.1,1223.2 1460.6,1222.5 1462,1220.1 1463.4,1223.8 1464.9,1221.1 1466.3,1221.1 1467.8,1220.2 1469.2,1220.7 1470.6,1220.7 1472.1,1220.9 1473.5,1218.7 1474.9,1222.9 1476.4,1223.8 1477.8,1223.8 1479.3,1222.5 1480.7,1221.3 1482.1,1220.2 1483.6,1223.7 1485,1222.2 1486.5,1221.8 1487.9,1221.5 1489.3,1219.9 1490.8,1220.4 1492.2,1220.8 1493.6,1218.7 1495.1,1218.2 1496.5,1220.1 1498,1217.5 1499.4,1223.5 1500.8,1219.9 1502.3,1223 1503.7,1223.5 1505.2,1221.4 1506.6,1223.3 1508,1220.2 1509.5,1219 1510.9,1221.3 1512.3,1221.9 1513.8,1219.5 1515.2,1219.9 1516.7,1220.4 1518.1,1223.7 1519.5,1222.7 1521,1219 1522.4,1222.5 1523.9,1221.9 1525.3,1221.1 1526.7,1221 1528.2,1221.3 1529.6,1223.8 1531,1219.8 1532.5,1222.4 1533.9,1220.1 1535.4,1221.4 1536.8,1223.8 1538.2,1223.2 1539.7,1220.3 1541.1,1217.9 1542.6,1220.1 1544,1218.4 1545.4,1222.7 1546.9,1222.3 1548.3,1218.3 1549.7,1219.5 1551.2,1219.4 1552.6,1223.8 1554.1,1222.8 1555.5,1222.5 1556.9,1223.2 1558.4,1223.5 1559.8,1221.2 1561.3,1222 1562.7,1219.2 1564.1,1222.5 1565.6,1222.3 1567,1222.5 1568.4,1217 1569.9,1222.5 1571.3,1223.8 1572.8,1223.8 1574.2,1222.5 1575.6,1223 1577.1,1222 1578.5,1222.6 1580,1220.6 1581.4,1221.6 1582.8,1220.4 1584.3,1221.5 1585.7,1220.5 1587.1,1222.7 1588.6,1222.2 1590,1223.1 1591.5,1218 1592.9,1222.7 1594.3,1223.8 1595.8,1222.2 1597.2,1222.8 1598.7,1219.5 1600.1,1221 1601.5,1219.6 1603,1220.5 1604.4,1223.3 1605.8,1223.5 1607.3,1221.9 1608.7,1220.1 1610.2,1222.1 1611.6,1220.7 1613,1222.6 1614.5,1220.9 1615.9,1220.5 1617.4,1220.3 1618.8,1222.6 1620.2,1222.1 1621.7,1222.3 1623.1,1221.8 1624.5,1220 1626,1221.7 1627.4,1218.9 1628.9,1223.8 1630.3,1223.8 1631.7,1223.8 1633.2,1223.8 1634.6,1221.8 1636.1,1222.5 1637.5,1219.3 1638.9,1221.2 1640.4,1222.1 1641.8,1221.7 1643.2,1223.3 1644.7,1222.4 1646.1,1223.6 1647.6,1220.8 1649,1222.6 1650.4,1220.2 1651.9,1221.9 1653.3,1218.1 1654.8,1223.3 1656.2,1221.5 1657.6,1220.5 1659.1,1223.6 1660.5,1221.3 1661.9,1223.1 1663.4,1222.3 1664.8,1220.5 1666.3,1223.8 1667.7,1223.8 1669.1,1223.8 1670.6,1222.2" fill="none" stroke="#008080" stroke-width="6.9" stroke-linejoin="bevel" stroke-linecap="butt"/>
<polyline points="232.8,929.1 233.8,931.1 234.7,933.2 235.7,935.3 236.6,937.3 237.6,939.4 238.6,941.4 239.5,943.4 240.5,945.5 241.4,947.5 242.4,949.5 243.3,951.6 244.3,953.6 245.3,955.9 246.2,958.2 247.2,960.6 248.1,962.9 249.1,965 250.1,966.9 251,968.6 252,969.8 252.9,970.8 253.9,971.7 254.9,972.5 255.8,973.3 256.8,973.9 257.7,974.4 258.7,974.6 259.7,974.7 260.6,974.7 261.6,974.3 262.5,973.7 263.5,972.8 264.4,971.8 265.4,970.7 266.4,969.5 267.3,968.2 268.3,966.9 269.2,965.3 270.2,963.5 271.2,961.5 272.1,959.2 273.1,956.7 274,954.1 275,951.3 276,948.3 276.9,945.3 277.9,942.1 278.8,938.9 279.8,935.3 280.8,931.3 281.7,926.9 282.7,922.2 283.6,917.3 284.6,912.2 285.5,907 286.5,901.7 287.5,896.3 288.4,891.1 289.4,885.9 290.3,880.9 291.3,875.9 292.3,871 293.2,866.1 294.2,861.1 295.1,856.1 296.1,851 297.1,845.9 298,840.7 299,835.5 299.9,830.1 300.9,824.4 301.8,818.6 302.8,812.9 303.8,807.2 304.7,801.8 305.7,796.6 306.6,790.5 307.6,784.6 308.6,780.2 309.5,778.6 310.5,779.9 311.4,783.9 312.4,789.5 313.4,795.6 314.3,801.2 315.3,807.4 316.2,814.3 317.2,821.7 318.2,829.6 319.1,837.9 320.1,846.6 321,856.8 322,868 322.9,879.2 323.9,889.3 324.9,898.1 325.8,906.6 326.8,914.6 327.7,921.5 328.7,926.9 329.7,931.5 330.6,936 331.6,940.2 332.5,943.7 333.5,946.4 334.5,947.9 335.4,948.1 336.4,947.4 337.3,946.3 338.3,944.8 339.2,943 340.2,941 341.2,939 342.1,937 343.1,935 344,933 345,930.8 346,928.4 346.9,925.9 347.9,923.5 348.8,921.3 349.8,919.4 350.8,917.9 351.7,916.5 352.7,915.2 353.6,913.9 354.6,912.7 355.6,911.7 356.5,910.9 357.5,910.3 358.4,910.2 359.4,910.8 360.3,912 361.3,913.5 362.3,915.4 363.2,917.4 364.2,919.5 365.1,922.5 366.1,926.1 367.1,930.2 368,934.8 369,939.6 369.9,944.4 370.9,949.7 371.9,955.4 372.8,961.6 373.8,968.2 374.7,975.2 375.7,982.6 376.7,991.6 377.6,1001.6 378.6,1011.5 379.5,1020 380.5,1026.3 381.4,1031.7 382.4,1036.7 383.4,1041.3 384.3,1045.5 385.3,1049.4 386.2,1053 387.2,1056.4 388.2,1059.6 389.1,1062.6 390.1,1065.5 391,1068.2 392,1070.8 393,1073.3 393.9,1075.6 394.9,1077.9 395.8,1080 396.8,1082 397.7,1083.9 398.7,1085.6 399.7,1087.3 400.6,1089 401.6,1090.6 402.5,1092.1 403.5,1093.6 404.5,1095 405.4,1096.3 406.4,1097.6 407.3,1098.8 408.3,1099.9 409.3,1100.9 410.2,1101.9 411.2,1102.7 412.1,1103.5 413.1,1104.4 414.1,1105.2 415,1106 416,1106.8 416.9,1107.5 417.9,1108.1 418.8,1108.7 419.8,1109.1 420.8,1109.4 421.7,1109.6 422.7,1109.6 423.6,1109.5 424.6,1109.4 425.6,1109.2 426.5,1109 427.5,1108.7 428.4,1108.5 429.4,1108.2 430.4,1107.9 431.3,1107.6 432.3,1107.3 433.2,1107 434.2,1106.7 435.1,1106.5 436.1,1106.1 437.1,1105.8 438,1105.4 439,1105.1 439.9,1104.7 440.9,1104.4 441.9,1104.1 442.8,1103.9 443.8,1103.7 444.7,1103.7 445.7,1103.6 446.7,1103.6 447.6,1103.6 448.6,1103.8 449.5,1104 450.5,1104.3 451.5,1104.6 452.4,1105 453.4,1105.4 454.3,1105.8 455.3,1106.3 456.2,1106.8 457.2,1107.4 458.2,1107.9 459.1,1108.6 460.1,1109.5 461,1110.5 462,1111.6 463,1112.8 463.9,1114.1 464.9,1115.5 465.8,1117 466.8,1118.5 467.8,1120 468.7,1121.6 469.7,1123.1 470.6,1124.8 471.6,1126.6 472.6,1128.6 473.5,1130.6 474.5,1132.7 475.4,1134.9 476.4,1137.1 477.3,1139.4 478.3,1141.7 479.3,1144 480.2,1146.2 481.2,1148.4 482.1,1150.5 483.1,1152.6 484.1,1154.5 485,1156.4 486,1158.4 486.9,1160.3 487.9,1162.3 488.9,1164.2 489.8,1166.2 490.8,1168.1 491.7,1169.9 492.7,1171.7 493.6,1173.4 494.6,1175.1 495.6,1176.6 496.5,1178.1 497.5,1179.4 498.4,1180.6 499.4,1181.6 500.4,1182.7 501.3,1183.6 502.3,1184.6 503.2,1185.5 504.2,1186.4 505.2,1187.2 506.1,1188 507.1,1188.8 508,1189.5 509,1190.2 510,1190.8 510.9,1191.4 511.9,1192 512.8,1192.5 513.8,1192.9 514.7,1193.4 515.7,1193.9 516.7,1194.4 517.6,1194.9 518.6,1195.3 519.5,1195.8 520.5,1196.2 521.5,1196.5 522.4,1196.9 523.4,1197.2 524.3,1197.5 525.3,1197.7 526.3,1197.8 527.2,1197.9 528.2,1197.9 529.1,1198 530.1,1198 531,1198.1 532,1198.1 533,1198.2 533.9,1198.2 534.9,1198.3 535.8,1198.3 536.8,1198.4 537.8,1198.4 538.7,1198.5 539.7,1198.5 540.6,1198.6 541.6,1198.6 542.6,1198.6 543.5,1198.7 544.5,1198.7 545.4,1198.8 546.4,1198.8 547.4,1198.8 548.3,1198.9 549.3,1198.9 550.2,1198.9 551.2,1198.9 552.1,1199 553.1,1199 554.1,1199 555,1199.1 556,1199.1 556.9,1199.1 557.9,1199.1 558.9,1199.1 559.8,1199.1 560.8,1199.1 561.7,1199.1 562.7,1199.1 563.7,1199 564.6,1199 565.6,1198.9 566.5,1198.9 567.5,1198.8 568.5,1198.8 569.4,1198.7 570.4,1198.6 571.3,1198.6 572.3,1198.5 573.2,1198.4 574.2,1198.4 575.2,1198.3 576.1,1198.2 577.1,1198.2 578,1198.1 579,1198.1 580,1198 580.9,1198 581.9,1198 582.8,1198 583.8,1198 584.8,1198 585.7,1198 586.7,1198.1 591.7,1219.2" fill="none" stroke="#008080" stroke-width="7.5" stroke-linejoin="round" stroke-linecap="round"/>
<polyline points="591.7,1204.3 593.1,1203 594.6,1208.1 596,1206.4 597.5,1202.5 598.9,1203.7 600.3,1205.3 601.8,1203.8 603.2,1203.4 604.7,1199.7 606.1,1202.7 607.5,1201.7 609,1200.5 610.4,1203.6 611.8,1200 613.3,1201.6 614.7,1198.6 616.2,1195.6 617.6,1197.6 619,1201.3 620.5,1202 621.9,1202.5 623.4,1197.5 624.8,1196.5 626.2,1194.7 627.7,1195.3 629.1,1192 630.5,1194.6 632,1198.6 633.4,1194.5 634.9,1196 636.3,1194.9 637.7,1194.2 639.2,1193.7 640.6,1193.8 642.1,1197.4 643.5,1195.5 644.9,1198.8 646.4,1195.5 647.8,1192.4 649.2,1189.6 650.7,1194.4 652.1,1193 653.6,1194.4 655,1188.5 656.4,1192.8 657.9,1189.4 659.3,1190.2 660.8,1189.2 662.2,1189.4 663.6,1187.7 665.1,1190.2 666.5,1194 667.9,1190.6 669.4,1188 670.8,1185.8 672.3,1183.5 673.7,1183.7 675.1,1184.9 676.6,1186 678,1186.2 679.5,1187.5 680.9,1185.7 682.3,1188.8 683.8,1186.5 685.2,1180.9 686.6,1186.1 688.1,1182.3 689.5,1183.7 691,1181.6 692.4,1181.9 693.8,1180.6 695.3,1182 696.7,1179.3 698.2,1181.4 699.6,1175.6 701,1179.1 702.5,1183.1 703.9,1181.9 705.3,1181.1 706.8,1176.1 708.2,1179.5 709.7,1175.8 711.1,1180.3 712.5,1177.7 714,1176 715.4,1179.3 716.9,1170.6 718.3,1173.7 719.7,1175.2 721.2,1170.8 722.6,1174.2 724,1175.9 725.5,1171 726.9,1168.5 728.4,1169.8 729.8,1172.5 731.2,1174.2 732.7,1171.7 734.1,1168.1 735.6,1168.8 737,1171.4 738.4,1168.6 739.9,1173.4 741.3,1166.5 742.7,1170 744.2,1167.6 745.6,1167.4 747.1,1165.1 748.5,1165.1 749.9,1167 751.4,1165.4 752.8,1162.6 754.3,1162 755.7,1163.1 757.1,1162.2 758.6,1157.3 760,1157.3 761.4,1158 762.9,1156.6 764.3,1157 765.8,1157.8 767.2,1157.1 768.6,1152.2 770.1,1154.8 771.5,1153.3 773,1153.9 774.4,1151.1 775.8,1148.8 777.3,1144.3 778.7,1143.5 780.1,1146.5 781.6,1143.2 783,1142.2 784.5,1140 785.9,1141.2 787.3,1137.8 788.8,1141 790.2,1135.3 791.7,1136.8 793.1,1134.2 794.5,1133.5 796,1129.4 797.4,1127.1 798.8,1128.9 800.3,1125.4 801.7,1124.1 803.2,1123.9 804.6,1122.7 806,1118.1 807.5,1120.9 808.9,1116.7 810.4,1115.7 811.8,1116.2 813.2,1111.4 814.7,1113.2 816.1,1108.4 817.6,1102.3 819,1106.7 820.4,1106.7 821.9,1104.8 823.3,1102.1 824.7,1100.5 826.2,1102.9 827.6,1101.5 829.1,1096.7 830.5,1094.8 831.9,1090.2 833.4,1091 834.8,1085.3 836.3,1086.9 837.7,1086.7 839.1,1088.4 840.6,1084.8 842,1084.1 843.4,1080.9 844.9,1080.5 846.3,1080.9 847.8,1079.3 849.2,1074.7 850.6,1076.5 852.1,1070.5 853.5,1073.6 855,1074.1 856.4,1073.4 857.8,1065.6 859.3,1066.2 860.7,1062.6 862.1,1065.2 863.6,1060.7 865,1064.6 866.5,1066.8 867.9,1062.5 869.3,1060 870.8,1060.2 872.2,1053.1 873.7,1058.4 875.1,1057.5 876.5,1054.1 878,1054.7 879.4,1053.7 880.8,1053.8 882.3,1050.9 883.7,1054.4 885.2,1055.5 886.6,1053.4 888,1051.1 889.5,1050.4 890.9,1045.2 892.4,1050 893.8,1050.6 895.2,1050.6 896.7,1049.4 898.1,1047 899.5,1052.7 901,1048.9 902.4,1052.6 903.9,1049 905.3,1049 906.7,1051.4 908.2,1050.9 909.6,1050.3 911.1,1048.8 912.5,1048.7 913.9,1054.4 915.4,1049.8 916.8,1051.2 918.2,1050.3 919.7,1050.1 921.1,1047.5 922.6,1053.4 924,1051.9 925.4,1049.7 926.9,1048.2 928.3,1053.3 929.8,1051.4 931.2,1050.5 932.6,1051 934.1,1051.5 935.5,1052.8 936.9,1052.2 938.4,1055 939.8,1055.4 941.3,1054.2 942.7,1052.8 944.1,1052.7 945.6,1050.1 947,1046.2 948.5,1047.7 949.9,1052.1 951.3,1056.3 952.8,1051.8 954.2,1058.7 955.6,1057.1 957.1,1061.1 958.5,1060 960,1063.9 961.4,1066.7 962.8,1069.5 964.3,1069.7 965.7,1073.9 967.2,1072.1 968.6,1075 970,1076 971.5,1079.2 972.9,1083 974.3,1082.1 975.8,1084.4 977.2,1086.2 978.7,1085.7 980.1,1091.4 981.5,1096.8 983,1096.2 984.4,1098 985.9,1100.9 987.3,1101.1 988.7,1105.4 990.2,1105.5 991.6,1111.1 993,1109.6 994.5,1111.8 995.9,1111.1 997.4,1109.1 998.8,1114.6 1000.2,1115.7 1001.7,1117.5 1003.1,1120.9 1004.6,1119.1 1006,1120.2 1007.4,1123.8 1008.9,1117.8 1010.3,1119.5 1011.7,1123.2 1013.2,1126 1014.6,1128 1016.1,1125.6 1017.5,1124.9 1018.9,1131.5 1020.4,1129.6 1021.8,1128.6 1023.3,1128.3 1024.7,1129.5 1026.1,1125.3 1027.6,1131.2 1029,1129.9 1030.4,1130.4 1031.9,1136.5 1033.3,1135.7 1034.8,1136.2 1036.2,1131.7 1037.6,1138.6 1039.1,1140.2 1040.5,1142.1 1042,1138 1043.4,1138.5 1044.8,1144.5 1046.3,1145.2 1047.7,1145.3 1049.1,1149 1050.6,1149.9 1052,1155.8 1053.5,1161.3 1054.9,1162 1056.3,1167.5 1057.8,1163.2 1059.2,1170.2 1060.7,1174.7 1062.1,1178.1 1063.5,1182.6 1065,1182.2 1066.4,1187.5 1067.8,1188.8 1069.3,1191.3 1070.7,1194.2 1072.2,1201.2 1073.6,1196.9 1075,1202 1076.5,1201.1 1077.9,1203.1 1079.4,1204.3 1080.8,1205.4 1082.2,1209.7 1083.7,1210.2 1085.1,1210.9 1086.5,1209.6 1088,1209.9 1089.4,1213.3 1090.9,1213 1092.3,1214.6 1093.7,1211.6 1095.2,1217.1 1096.6,1215.5 1098.1,1216.1 1099.5,1218.2 1100.9,1216.7 1102.4,1219.7 1103.8,1217.3 1105.3,1220.5 1106.7,1219.2 1108.1,1216.5 1109.6,1218.7 1111,1219 1112.4,1217.9 1113.9,1221.4 1115.3,1219.4 1116.8,1220.7 1118.2,1219.9 1119.6,1220.7 1121.1,1219 1122.5,1221 1124,1220.2 1125.4,1220.4 1126.8,1219.8 1128.3,1222.6 1129.7,1220.4 1131.1,1222.6 1132.6,1221.6 1134,1217.5 1135.5,1221.9 1136.9,1219.4 1138.3,1219.4 1139.8,1221.2 1141.2,1219.6 1142.7,1219.9 1144.1,1221.5 1145.5,1221.6 1147,1221.1 1148.4,1221.4 1149.8,1221.7 1151.3,1220.2 1152.7,1220.9 1154.2,1223 1155.6,1221.5 1157,1223.8 1158.5,1223.7 1159.9,1223.7 1161.4,1221.7 1162.8,1219.7 1164.2,1221.9 1165.7,1221.9 1167.1,1221.5 1168.5,1220.1 1170,1222.3 1171.4,1221.9 1172.9,1220.2 1174.3,1217.3 1175.7,1221.9 1177.2,1222.4 1178.6,1222.3 1180.1,1222.2 1181.5,1223.8 1182.9,1222.5 1184.4,1220.5 1185.8,1220 1187.2,1221.1 1188.7,1221.2 1190.1,1223.2 1191.6,1222 1193,1223.8 1194.4,1222.2 1195.9,1220.6 1197.3,1223.7 1198.8,1220.9 1200.2,1222 1201.6,1221 1203.1,1221.2 1204.5,1221.8 1205.9,1222.9 1207.4,1219.4 1208.8,1218.2 1210.3,1220.3 1211.7,1221.3 1213.1,1222.7 1214.6,1222.4 1216,1223 1217.5,1220.8 1218.9,1220.8 1220.3,1222.9 1221.8,1220.2 1223.2,1221.1 1224.6,1219.2 1226.1,1217.8 1227.5,1218.7 1229,1218.5 1230.4,1220.8 1231.8,1220.9 1233.3,1221.3 1234.7,1219.9 1236.2,1221.2 1237.6,1221.4 1239,1219 1240.5,1220 1241.9,1219 1243.3,1222 1244.8,1222 1246.2,1220.2 1247.7,1219.7 1249.1,1222.9 1250.5,1223.3 1252,1222.9 1253.4,1223.4 1254.9,1218.1 1256.3,1219.6 1257.7,1217.4 1259.2,1220.8 1260.6,1222.9 1262,1223.3 1263.5,1223.2 1264.9,1222.6 1266.4,1220.8 1267.8,1221.3 1269.2,1218.7 1270.7,1223.4 1272.1,1221.5 1273.6,1220.4 1275,1219 1276.4,1220.6 1277.9,1221 1279.3,1221.6 1280.7,1222.8 1282.2,1223.8 1283.6,1223.5 1285.1,1223.8 1286.5,1217.6 1287.9,1222.3 1289.4,1221.1 1290.8,1222.3 1292.3,1220.1 1293.7,1221.9 1295.1,1222.4 1296.6,1222.5 1298,1219.1 1299.4,1219.1 1300.9,1219.9 1302.3,1219.9 1303.8,1220.5 1305.2,1219.6 1306.6,1222.7 1308.1,1221.9 1309.5,1222.7 1311,1221.7 1312.4,1221.3 1313.8,1219.9 1315.3,1222.7 1316.7,1222.2 1318.1,1220.7 1319.6,1221.6 1321,1222.2 1322.5,1221.3 1323.9,1222 1325.3,1222.3 1326.8,1219.2 1328.2,1221.8 1329.7,1223.3 1331.1,1222.6 1332.5,1221.6 1334,1217.8 1335.4,1219.7 1336.8,1220 1338.3,1218.7 1339.7,1219.5 1341.2,1222.2 1342.6,1222.3 1344,1222.1 1345.5,1221.7 1346.9,1220.2 1348.4,1223.4 1349.8,1222.9 1351.2,1219.2 1352.7,1219.7 1354.1,1221.8 1355.5,1218.2 1357,1218.1 1358.4,1220.7 1359.9,1223.7 1361.3,1221.5 1362.7,1221.3 1364.2,1221.4 1365.6,1223.1 1367.1,1221.7 1368.5,1219.8 1369.9,1222 1371.4,1222.7 1372.8,1222.7 1374.2,1221.4 1375.7,1221.4 1377.1,1220.9 1378.6,1220.5 1380,1222.3 1381.4,1221.4 1382.9,1222.8 1384.3,1222 1385.8,1223.8 1387.2,1222.5 1388.6,1223.1 1390.1,1223.7 1391.5,1220.7 1393,1221.1 1394.4,1220.3 1395.8,1217.3 1397.3,1221.1 1398.7,1222.4 1400.1,1223.8 1401.6,1222.8 1403,1222.9 1404.5,1218.9 1405.9,1222.6 1407.3,1219.1 1408.8,1223.8 1410.2,1219.3 1411.7,1223.4 1413.1,1222.2 1414.5,1223.8 1416,1223.8 1417.4,1220.6 1418.8,1222.3 1420.3,1223.4 1421.7,1216.4 1423.2,1221.7 1424.6,1219.9 1426,1221.3 1427.5,1221.2 1428.9,1221.1 1430.4,1220.6 1431.8,1219 1433.2,1222.6 1434.7,1221.8 1436.1,1223.1 1437.5,1221.5 1439,1222.9 1440.4,1222 1441.9,1220.6 1443.3,1221.9 1444.7,1220.2 1446.2,1223 1447.6,1220.3 1449.1,1222.7 1450.5,1221.5 1451.9,1222.4 1453.4,1221 1454.8,1218.5 1456.2,1219.8 1457.7,1221.9 1459.1,1223.1 1460.6,1220.9 1462,1220.8 1463.4,1222 1464.9,1221.3 1466.3,1221.3 1467.8,1221 1469.2,1220.3 1470.6,1218.8 1472.1,1221.6 1473.5,1223.8 1474.9,1222.3 1476.4,1221.5 1477.8,1219.1 1479.3,1223.8 1480.7,1222.4 1482.1,1222.3 1483.6,1220.8 1485,1222.8 1486.5,1218.6 1487.9,1221.1 1489.3,1221.1 1490.8,1223.8 1492.2,1221.9 1493.6,1220.5 1495.1,1222.8 1496.5,1219.3 1498,1220.3 1499.4,1219.8 1500.8,1220 1502.3,1218.6 1503.7,1223 1505.2,1223.2 1506.6,1223.8 1508,1222.3 1509.5,1222.7 1510.9,1223.1 1512.3,1222 1513.8,1220.7 1515.2,1221.3 1516.7,1219.7 1518.1,1222.1 1519.5,1219.5 1521,1219.6 1522.4,1221.1 1523.9,1220 1525.3,1221.7 1526.7,1220.8 1528.2,1220.4 1529.6,1213.8 1531,1219.6 1532.5,1223.8 1533.9,1222.1 1535.4,1220.6 1536.8,1221.3 1538.2,1220.8 1539.7,1221.4 1541.1,1223.8 1542.6,1223.8 1544,1221.7 1545.4,1222.2 1546.9,1221 1548.3,1223.6 1549.7,1223.2 1551.2,1222.3 1552.6,1222.3 1554.1,1221.8 1555.5,1222.9 1556.9,1221.1 1558.4,1218.8 1559.8,1221.1 1561.3,1221.8 1562.7,1221.8 1564.1,1220.1 1565.6,1220.7 1567,1221.7 1568.4,1220.6 1569.9,1222.2 1571.3,1221.3 1572.8,1223.2 1574.2,1220.5 1575.6,1222.4 1577.1,1222.8 1578.5,1219.7 1580,1217.9 1581.4,1220 1582.8,1223.3 1584.3,1221.9 1585.7,1223.1 1587.1,1222 1588.6,1220.9 1590,1222.1 1591.5,1222 1592.9,1222.9 1594.3,1222.4 1595.8,1220.5 1597.2,1222.2 1598.7,1220.5 1600.1,1219.6 1601.5,1221.6 1603,1220.3 1604.4,1220.9 1605.8,1222.7 1607.3,1220.5 1608.7,1217.3 1610.2,1218.9 1611.6,1220.8 1613,1219.9 1614.5,1220.1 1615.9,1222.3 1617.4,1220.2 1618.8,1221.9 1620.2,1222.1 1621.7,1222.1 1623.1,1220.6 1624.5,1222 1626,1220.8 1627.4,1221.5 1628.9,1218.5 1630.3,1219.2 1631.7,1223.1 1633.2,1223.8 1634.6,1223.8 1636.1,1220.8 1637.5,1223.8 1638.9,1223.8 1640.4,1223.8 1641.8,1221 1643.2,1222 1644.7,1221.4 1646.1,1220 1647.6,1222.6 1649,1222.7 1650.4,1216.9 1651.9,1221.2 1653.3,1221.9 1654.8,1221 1656.2,1220.9 1657.6,1220.6 1659.1,1217.2 1660.5,1222 1661.9,1219.6 1663.4,1223.1 1664.8,1223.8 1666.3,1222.8 1667.7,1223.7 1669.1,1222.1 1670.6,1220.8" fill="none" stroke="#ff00ff" stroke-width="6.9" stroke-linejoin="bevel" stroke-linecap="butt"/>
<polyline points="232.8,849.9 233.8,852.5 234.7,855.2 235.7,857.8 236.6,860.5 237.6,863.1 238.6,865.7 239.5,868.3 240.5,870.9 241.4,873.5 242.4,876.1 243.3,878.7 244.3,881.4 245.3,884.3 246.2,887.3 247.2,890.3 248.1,893.2 249.1,896 250.1,898.4 251,900.5 252,902.1 252.9,903.4 253.9,904.5 254.9,905.6 255.8,906.6 256.8,907.4 257.7,908 258.7,908.4 259.7,908.5 260.6,908.4 261.6,907.9 262.5,907 263.5,905.9 264.4,904.6 265.4,903.1 266.4,901.5 267.3,899.9 268.3,898.2 269.2,896.1 270.2,893.8 271.2,891.1 272.1,888.2 273.1,885 274,881.6 275,877.9 276,874.2 276.9,870.2 277.9,866.2 278.8,862 279.8,857.4 280.8,852.2 281.7,846.6 282.7,840.6 283.6,834.3 284.6,827.7 285.5,821 286.5,814.2 287.5,807.4 288.4,800.6 289.4,793.9 290.3,787.5 291.3,781.1 292.3,774.8 293.2,768.4 294.2,762 295.1,755.6 296.1,749 297.1,742.5 298,735.8 299,729 299.9,722 300.9,714.8 301.8,707.3 302.8,699.9 303.8,692.6 304.7,685.6 305.7,678.8 306.6,671 307.6,663.4 308.6,657.7 309.5,655.5 310.5,657.4 311.4,662.8 312.4,670.2 313.4,678.2 314.3,685.7 315.3,693.8 316.2,702.7 317.2,712.4 318.2,722.7 319.1,733.5 320.1,744.8 321,757.9 322,772.3 322.9,786.7 323.9,799.8 324.9,811.1 325.8,822.1 326.8,832.3 327.7,841.2 328.7,848.2 329.7,854.2 330.6,860.1 331.6,865.5 332.5,870.2 333.5,873.7 334.5,875.8 335.4,876.1 336.4,875.2 337.3,873.8 338.3,871.9 339.2,869.6 340.2,867.1 341.2,864.5 342.1,861.9 343.1,859.5 344,856.9 345,854.1 346,851 346.9,847.9 347.9,844.9 348.8,842.1 349.8,839.7 350.8,837.8 351.7,836 352.7,834.3 353.6,832.6 354.6,831.1 355.6,829.8 356.5,828.8 357.5,828 358.4,827.9 359.4,828.7 360.3,830.2 361.3,832.2 362.3,834.5 363.2,837.1 364.2,839.9 365.1,843.5 366.1,848.1 367.1,853.4 368,859.2 369,865.2 369.9,871.4 370.9,878.1 371.9,885.3 372.8,893.1 373.8,901.5 374.7,910.3 375.7,919.7 376.7,931 377.6,943.7 378.6,956.2 379.5,966.9 380.5,974.8 381.4,981.7 382.4,988 383.4,993.8 384.3,999.1 385.3,1004 386.2,1008.6 387.2,1012.9 388.2,1016.9 389.1,1020.7 390.1,1024.3 391,1027.8 392,1031.1 393,1034.2 393.9,1037.2 394.9,1040 395.8,1042.7 396.8,1045.2 397.7,1047.6 398.7,1049.8 399.7,1052 400.6,1054 401.6,1056.1 402.5,1058 403.5,1059.9 404.5,1061.7 405.4,1063.4 406.4,1065 407.3,1066.5 408.3,1067.9 409.3,1069.2 410.2,1070.4 411.2,1071.4 412.1,1072.5 413.1,1073.6 414.1,1074.7 415,1075.7 416,1076.6 416.9,1077.5 417.9,1078.3 418.8,1079 419.8,1079.6 420.8,1080 421.7,1080.2 422.7,1080.2 423.6,1080.1 424.6,1080 425.6,1079.8 426.5,1079.5 427.5,1079.2 428.4,1078.9 429.4,1078.6 430.4,1078.2 431.3,1077.8 432.3,1077.5 433.2,1077.1 434.2,1076.8 435.1,1076.5 436.1,1076.1 437.1,1075.6 438,1075.2 439,1074.8 439.9,1074.3 440.9,1074 441.9,1073.6 442.8,1073.4 443.8,1073.2 444.7,1073.1 445.7,1073.1 446.7,1073.1 447.6,1073.2 448.6,1073.4 449.5,1073.7 450.5,1074.1 451.5,1074.5 452.4,1075.1 453.4,1075.6 454.3,1076.3 455.3,1076.9 456.2,1077.6 457.2,1078.3 458.2,1079 459.1,1079.9 460.1,1081 461,1082.3 462,1083.7 463,1085.3 463.9,1087 464.9,1088.8 465.8,1090.6 466.8,1092.5 467.8,1094.5 468.7,1096.5 469.7,1098.4 470.6,1100.6 471.6,1102.8 472.6,1105.3 473.5,1107.8 474.5,1110.5 475.4,1113.3 476.4,1116.1 477.3,1118.9 478.3,1121.8 479.3,1124.6 480.2,1127.4 481.2,1130.2 482.1,1132.8 483.1,1135.4 484.1,1137.8 485,1140.2 486,1142.6 486.9,1145.1 487.9,1147.5 488.9,1150 489.8,1152.4 490.8,1154.7 491.7,1157 492.7,1159.3 493.6,1161.4 494.6,1163.5 495.6,1165.4 496.5,1167.2 497.5,1168.8 498.4,1170.3 499.4,1171.6 500.4,1172.9 501.3,1174.2 502.3,1175.3 503.2,1176.5 504.2,1177.6 505.2,1178.6 506.1,1179.6 507.1,1180.6 508,1181.4 509,1182.3 510,1183.1 510.9,1183.8 511.9,1184.5 512.8,1185.2 513.8,1185.8 514.7,1186.3 515.7,1186.9 516.7,1187.5 517.6,1188.1 518.6,1188.7 519.5,1189.3 520.5,1189.8 521.5,1190.3 522.4,1190.7 523.4,1191.1 524.3,1191.4 525.3,1191.6 526.3,1191.8 527.2,1191.9 528.2,1192 529.1,1192 530.1,1192.1 531,1192.2 532,1192.2 533,1192.3 533.9,1192.4 534.9,1192.4 535.8,1192.5 536.8,1192.5 537.8,1192.6 538.7,1192.6 539.7,1192.7 540.6,1192.7 541.6,1192.7 542.6,1192.8 543.5,1192.8 544.5,1192.9 545.4,1192.9 546.4,1192.9 547.4,1193 548.3,1193 549.3,1193 550.2,1193.1 551.2,1193.1 552.1,1193.1 553.1,1193.2 554.1,1193.2 555,1193.2 556,1193.2 556.9,1193.3 557.9,1193.3 558.9,1193.2 559.8,1193.2 560.8,1193.2 561.7,1193.1 562.7,1193.1 563.7,1193 564.6,1192.9 565.6,1192.8 566.5,1192.7 567.5,1192.6 568.5,1192.5 569.4,1192.4 570.4,1192.3 571.3,1192.2 572.3,1192.1 573.2,1192 574.2,1191.9 575.2,1191.8 576.1,1191.7 577.1,1191.6 578,1191.5 579,1191.4 580,1191.4 580.9,1191.3 581.9,1191.2 582.8,1191.2 583.8,1191.2 584.8,1191.2 585.7,1191.3 586.7,1191.3 591.7,1204.3" fill="none" stroke="#ff00ff" stroke-width="7.5" stroke-linejoin="round" stroke-linecap="round"/>
<polyline points="591.7,1201.8 593.1,1200.9 594.6,1202.2 596,1199.5 597.5,1199.3 598.9,1197.3 600.3,1192.9 601.8,1195.5 603.2,1196.5 604.7,1197.8 606.1,1195 607.5,1199.1 609,1195.8 610.4,1197.4 611.8,1192.6 613.3,1195.4 614.7,1193.3 616.2,1194.6 617.6,1189 619,1191.1 620.5,1190.5 621.9,1193 623.4,1191.1 624.8,1190.9 626.2,1189.7 627.7,1189.9 629.1,1186.3 630.5,1189.3 632,1185.1 633.4,1187.5 634.9,1182.1 636.3,1182.6 637.7,1180.7 639.2,1184.1 640.6,1178.6 642.1,1175.1 643.5,1179.2 644.9,1179.6 646.4,1180.4 647.8,1179.4 649.2,1176.6 650.7,1178.8 652.1,1177.6 653.6,1179 655,1181.8 656.4,1179.8 657.9,1179.5 659.3,1179.1 660.8,1177.4 662.2,1176.7 663.6,1173.8 665.1,1179.2 666.5,1177.9 667.9,1174.8 669.4,1175.4 670.8,1174.9 672.3,1174.7 673.7,1174.7 675.1,1174.4 676.6,1179 678,1175.1 679.5,1174.3 680.9,1174.7 682.3,1176.2 683.8,1172.6 685.2,1174.6 686.6,1168.2 688.1,1169.7 689.5,1176.8 691,1173 692.4,1169.1 693.8,1169.8 695.3,1168.6 696.7,1169 698.2,1172.1 699.6,1170.6 701,1171.8 702.5,1173.2 703.9,1168.2 705.3,1166.4 706.8,1165.3 708.2,1170.4 709.7,1166.3 711.1,1166.8 712.5,1163.3 714,1167.2 715.4,1165 716.9,1163.8 718.3,1165.2 719.7,1167.9 721.2,1165.4 722.6,1161.6 724,1163.2 725.5,1159 726.9,1164.1 728.4,1162 729.8,1161.7 731.2,1161.7 732.7,1156.6 734.1,1156.2 735.6,1155.6 737,1155.4 738.4,1156.5 739.9,1162 741.3,1157.3 742.7,1160.7 744.2,1160.5 745.6,1154 747.1,1152.9 748.5,1155.6 749.9,1154.9 751.4,1152.4 752.8,1148.1 754.3,1147.7 755.7,1146.6 757.1,1149.6 758.6,1146.1 760,1144.8 761.4,1138.8 762.9,1139.6 764.3,1141.5 765.8,1141.9 767.2,1137.4 768.6,1140.6 770.1,1138.1 771.5,1136.5 773,1134.3 774.4,1130.8 775.8,1131.1 777.3,1132.3 778.7,1131.5 780.1,1129 781.6,1124.5 783,1126.1 784.5,1124 785.9,1120.7 787.3,1120.8 788.8,1116.7 790.2,1114.3 791.7,1114.5 793.1,1113.4 794.5,1109.2 796,1108.7 797.4,1104.1 798.8,1104.1 800.3,1104.4 801.7,1105.2 803.2,1098.8 804.6,1095.2 806,1094.4 807.5,1094 808.9,1091.4 810.4,1088.3 811.8,1088.2 813.2,1086.6 814.7,1079.3 816.1,1080.3 817.6,1077.5 819,1078.4 820.4,1073.8 821.9,1069.9 823.3,1070.1 824.7,1065.8 826.2,1065.3 827.6,1064.9 829.1,1058.9 830.5,1061.5 831.9,1057.6 833.4,1059.3 834.8,1057.2 836.3,1053.8 837.7,1051.6 839.1,1047.7 840.6,1051.1 842,1046.9 843.4,1043.5 844.9,1039.3 846.3,1040.6 847.8,1039.6 849.2,1035.5 850.6,1034.4 852.1,1036.6 853.5,1033.6 855,1031.3 856.4,1026.3 857.8,1029.1 859.3,1029.5 860.7,1026.2 862.1,1023.8 863.6,1024.1 865,1018.1 866.5,1020.7 867.9,1017.2 869.3,1020 870.8,1019.2 872.2,1020 873.7,1011.6 875.1,1009.4 876.5,1007.8 878,1009.5 879.4,1005.6 880.8,1007.4 882.3,1006.5 883.7,1009 885.2,1009.7 886.6,1006 888,1005.9 889.5,1004.9 890.9,1009 892.4,1004.8 893.8,1006 895.2,1002.4 896.7,1004.5 898.1,1003.3 899.5,1004.9 901,1006 902.4,1006.3 903.9,1005.1 905.3,1003.4 906.7,1006 908.2,1007.8 909.6,1007 911.1,1004.8 912.5,1002.9 913.9,1004.6 915.4,1009.6 916.8,1006.6 918.2,1009.6 919.7,1007 921.1,1009.8 922.6,1007.4 924,1008.6 925.4,1008.9 926.9,1007.3 928.3,1008.7 929.8,1004 931.2,1005.3 932.6,1007.1 934.1,1008.6 935.5,1008 936.9,1009.7 938.4,1006 939.8,1009.1 941.3,1007.8 942.7,1009.3 944.1,1007.2 945.6,1008.4 947,1011.3 948.5,1012.8 949.9,1009.6 951.3,1009.6 952.8,1008.8 954.2,1014.3 955.6,1015.4 957.1,1016.7 958.5,1020 960,1026.1 961.4,1025.7 962.8,1025.4 964.3,1023.8 965.7,1029.3 967.2,1028.8 968.6,1033.7 970,1038.5 971.5,1038.1 972.9,1042.4 974.3,1043.2 975.8,1046.8 977.2,1052.3 978.7,1053.6 980.1,1054.6 981.5,1059.4 983,1062.1 984.4,1069.6 985.9,1073.9 987.3,1072.5 988.7,1073.4 990.2,1077.1 991.6,1076.2 993,1079.8 994.5,1082.2 995.9,1080 997.4,1081.7 998.8,1082 1000.2,1084.2 1001.7,1085.9 1003.1,1086.6 1004.6,1088 1006,1087.6 1007.4,1098.2 1008.9,1097.4 1010.3,1095 1011.7,1095.1 1013.2,1095.1 1014.6,1101.2 1016.1,1102.7 1017.5,1100.6 1018.9,1104.5 1020.4,1102.2 1021.8,1104.6 1023.3,1102.4 1024.7,1104.7 1026.1,1103.5 1027.6,1107.9 1029,1106.7 1030.4,1110.8 1031.9,1113.2 1033.3,1116.1 1034.8,1113.6 1036.2,1116.8 1037.6,1115.9 1039.1,1118.1 1040.5,1121.3 1042,1121.5 1043.4,1130.8 1044.8,1128.1 1046.3,1128.6 1047.7,1129.7 1049.1,1132.8 1050.6,1133 1052,1138.7 1053.5,1143.1 1054.9,1147.1 1056.3,1154.1 1057.8,1155.1 1059.2,1159.1 1060.7,1164 1062.1,1161.3 1063.5,1163.8 1065,1168.3 1066.4,1173.2 1067.8,1178.5 1069.3,1178.2 1070.7,1183.2 1072.2,1187.2 1073.6,1189.6 1075,1190.3 1076.5,1193.6 1077.9,1192.2 1079.4,1193.6 1080.8,1198.9 1082.2,1203.3 1083.7,1203.4 1085.1,1202.6 1086.5,1203.5 1088,1207.2 1089.4,1205.9 1090.9,1207.3 1092.3,1209.1 1093.7,1209.9 1095.2,1208.5 1096.6,1210.2 1098.1,1217.3 1099.5,1215.1 1100.9,1217.7 1102.4,1218.7 1103.8,1216.6 1105.3,1214.1 1106.7,1213.3 1108.1,1215.8 1109.6,1216.1 1111,1219.1 1112.4,1220.1 1113.9,1216.6 1115.3,1216.8 1116.8,1221.3 1118.2,1220.2 1119.6,1221 1121.1,1218.7 1122.5,1219.2 1124,1220.5 1125.4,1219.3 1126.8,1218 1128.3,1217.7 1129.7,1219.5 1131.1,1221.6 1132.6,1221.4 1134,1223.8 1135.5,1221.2 1136.9,1221.7 1138.3,1219.4 1139.8,1219.8 1141.2,1221.2 1142.7,1220.9 1144.1,1218.6 1145.5,1220.2 1147,1221.6 1148.4,1222.4 1149.8,1217.3 1151.3,1220.8 1152.7,1219.3 1154.2,1222.9 1155.6,1220.2 1157,1223.8 1158.5,1221.5 1159.9,1221.7 1161.4,1218.5 1162.8,1220.4 1164.2,1220.2 1165.7,1218.9 1167.1,1219.5 1168.5,1219.8 1170,1221.1 1171.4,1220.9 1172.9,1223.4 1174.3,1223 1175.7,1222.7 1177.2,1220.7 1178.6,1221.1 1180.1,1219.2 1181.5,1219.7 1182.9,1222.1 1184.4,1223.5 1185.8,1220.9 1187.2,1222.6 1188.7,1222.3 1190.1,1221.2 1191.6,1220.7 1193,1220.3 1194.4,1222.1 1195.9,1219.2 1197.3,1220.3 1198.8,1219.3 1200.2,1223.8 1201.6,1222.7 1203.1,1222.8 1204.5,1223.4 1205.9,1220.4 1207.4,1218.9 1208.8,1219.9 1210.3,1220.6 1211.7,1221.9 1213.1,1218.5 1214.6,1219.2 1216,1219.5 1217.5,1221.2 1218.9,1222.4 1220.3,1220.5 1221.8,1220.2 1223.2,1221 1224.6,1222.1 1226.1,1222.8 1227.5,1222.2 1229,1219.6 1230.4,1216.9 1231.8,1220 1233.3,1221.2 1234.7,1218 1236.2,1223.4 1237.6,1221 1239,1220.5 1240.5,1221 1241.9,1221.4 1243.3,1218.7 1244.8,1219.9 1246.2,1218.1 1247.7,1221.7 1249.1,1220.4 1250.5,1221.3 1252,1219.4 1253.4,1222.3 1254.9,1222.4 1256.3,1220.5 1257.7,1222.3 1259.2,1219.7 1260.6,1221 1262,1221.4 1263.5,1222.4 1264.9,1223.8 1266.4,1222.2 1267.8,1220.6 1269.2,1221.1 1270.7,1219 1272.1,1218.2 1273.6,1216 1275,1222 1276.4,1220.4 1277.9,1218.4 1279.3,1215.3 1280.7,1222.9 1282.2,1221.6 1283.6,1223.8 1285.1,1223.8 1286.5,1222.2 1287.9,1223.8 1289.4,1223 1290.8,1222.2 1292.3,1222.1 1293.7,1219.4 1295.1,1218.5 1296.6,1221.2 1298,1222.8 1299.4,1221.5 1300.9,1220.3 1302.3,1222.1 1303.8,1223.5 1305.2,1223.4 1306.6,1221.5 1308.1,1220.1 1309.5,1221.6 1311,1221.2 1312.4,1217.6 1313.8,1220.5 1315.3,1221.9 1316.7,1222.8 1318.1,1222.2 1319.6,1222.4 1321,1218.9 1322.5,1222.3 1323.9,1220 1325.3,1221.6 1326.8,1219.8 1328.2,1218 1329.7,1218.6 1331.1,1218.3 1332.5,1223.8 1334,1221 1335.4,1221.8 1336.8,1219.4 1338.3,1217.2 1339.7,1219.7 1341.2,1221 1342.6,1220.8 1344,1223.3 1345.5,1221.9 1346.9,1222.8 1348.4,1222.1 1349.8,1219.6 1351.2,1223.2 1352.7,1221.2 1354.1,1221.6 1355.5,1221.3 1357,1215.7 1358.4,1221.2 1359.9,1218 1361.3,1221.5 1362.7,1221.5 1364.2,1220 1365.6,1219.5 1367.1,1219.5 1368.5,1220.8 1369.9,1222 1371.4,1221.2 1372.8,1219.5 1374.2,1219.3 1375.7,1221.3 1377.1,1223.5 1378.6,1219.6 1380,1222.5 1381.4,1222.8 1382.9,1223.8 1384.3,1221.4 1385.8,1220.7 1387.2,1220.4 1388.6,1219.1 1390.1,1221.7 1391.5,1219.9 1393,1219.6 1394.4,1218.7 1395.8,1223 1397.3,1221.2 1398.7,1222.4 1400.1,1219.1 1401.6,1219.6 1403,1221.5 1404.5,1222 1405.9,1222.7 1407.3,1222.5 1408.8,1217.8 1410.2,1219.4 1411.7,1220.8 1413.1,1222 1414.5,1220.7 1416,1219.7 1417.4,1222.4 1418.8,1223.8 1420.3,1223.7 1421.7,1219.7 1423.2,1220.5 1424.6,1216.3 1426,1221.5 1427.5,1221.3 1428.9,1222.9 1430.4,1221.6 1431.8,1223.7 1433.2,1223.1 1434.7,1218.8 1436.1,1221.7 1437.5,1219.5 1439,1221.5 1440.4,1220.4 1441.9,1221.4 1443.3,1220.9 1444.7,1218.2 1446.2,1220.4 1447.6,1223.8 1449.1,1221.3 1450.5,1221.2 1451.9,1219.8 1453.4,1221.8 1454.8,1220.5 1456.2,1221.2 1457.7,1218.1 1459.1,1219.6 1460.6,1222.7 1462,1220.7 1463.4,1223.8 1464.9,1221.2 1466.3,1221.6 1467.8,1219.4 1469.2,1221.9 1470.6,1219 1472.1,1221.2 1473.5,1220.2 1474.9,1222.1 1476.4,1222.5 1477.8,1219.5 1479.3,1219.9 1480.7,1218.8 1482.1,1221.3 1483.6,1221.3 1485,1219.8 1486.5,1221.9 1487.9,1221.3 1489.3,1222.5 1490.8,1221.9 1492.2,1221.2 1493.6,1221.9 1495.1,1222.1 1496.5,1220.9 1498,1219.9 1499.4,1219.6 1500.8,1222 1502.3,1222.1 1503.7,1219.6 1505.2,1220.9 1506.6,1219.5 1508,1220.3 1509.5,1220.7 1510.9,1221.1 1512.3,1219.6 1513.8,1222.4 1515.2,1218.9 1516.7,1218.7 1518.1,1220.6 1519.5,1221.4 1521,1219.8 1522.4,1218.2 1523.9,1218.4 1525.3,1222.2 1526.7,1218.2 1528.2,1221 1529.6,1221.1 1531,1221.1 1532.5,1221.3 1533.9,1220.8 1535.4,1221.8 1536.8,1221.6 1538.2,1218.7 1539.7,1221.6 1541.1,1221.2 1542.6,1222 1544,1219.4 1545.4,1219.8 1546.9,1220.7 1548.3,1218 1549.7,1220.5 1551.2,1220.5 1552.6,1220.8 1554.1,1219.9 1555.5,1221.6 1556.9,1219.6 1558.4,1221.3 1559.8,1220.9 1561.3,1221.4 1562.7,1219.4 1564.1,1220.6 1565.6,1220.6 1567,1222.3 1568.4,1222.6 1569.9,1221.4 1571.3,1217.5 1572.8,1218.5 1574.2,1219.6 1575.6,1220.2 1577.1,1222.4 1578.5,1220.2 1580,1223.2 1581.4,1222.7 1582.8,1223.3 1584.3,1222.6 1585.7,1223.8 1587.1,1218.8 1588.6,1222.5 1590,1217.7 1591.5,1218.9 1592.9,1219.2 1594.3,1220.9 1595.8,1221.6 1597.2,1221 1598.7,1219.3 1600.1,1222.1 1601.5,1221.8 1603,1218.9 1604.4,1216.5 1605.8,1222.2 1607.3,1221.6 1608.7,1222.1 1610.2,1216.1 1611.6,1222.3 1613,1221.1 1614.5,1221.3 1615.9,1220.1 1617.4,1221.1 1618.8,1222.3 1620.2,1222.4 1621.7,1222.5 1623.1,1221.3 1624.5,1223 1626,1223.8 1627.4,1223 1628.9,1220.6 1630.3,1223.6 1631.7,1222.5 1633.2,1221.4 1634.6,1221.8 1636.1,1221 1637.5,1223.8 1638.9,1222.4 1640.4,1220.8 1641.8,1223.4 1643.2,1223.8 1644.7,1222.8 1646.1,1220.9 1647.6,1223.2 1649,1219.9 1650.4,1221.8 1651.9,1221.3 1653.3,1220.7 1654.8,1221.6 1656.2,1220.4 1657.6,1222.1 1659.1,1221.3 1660.5,1221.7 1661.9,1220.2 1663.4,1216.5 1664.8,1223.4 1666.3,1221.7 1667.7,1223.2 1669.1,1219.8 1670.6,1220.2" fill="none" stroke="#808000" stroke-width="6.9" stroke-linejoin="bevel" stroke-linecap="butt"/>
<polyline points="232.8,739.9 233.8,743.7 234.7,747.4 235.7,751.2 236.6,754.9 237.6,758.6 238.6,762.3 239.5,766 240.5,769.7 241.4,773.4 242.4,777.1 243.3,780.7 244.3,784.5 245.3,788.4 246.2,792.6 247.2,796.7 248.1,800.8 249.1,804.6 250.1,808.1 251,811 252,813.4 252.9,815.2 253.9,817 254.9,818.7 255.8,820.3 256.8,821.6 257.7,822.6 258.7,823.3 259.7,823.7 260.6,823.7 261.6,823.1 262.5,822.2 263.5,820.8 264.4,819.3 265.4,817.5 266.4,815.6 267.3,813.6 268.3,811.6 269.2,809.1 270.2,806.2 271.2,803 272.1,799.4 273.1,795.5 274,791.3 275,786.9 276,782.2 276.9,777.4 277.9,772.4 278.8,767.2 279.8,761.5 280.8,755.2 281.7,748.2 282.7,740.8 283.6,733 284.6,724.8 285.5,716.5 286.5,708.1 287.5,699.6 288.4,691.2 289.4,683 290.3,675.1 291.3,667.2 292.3,659.4 293.2,651.6 294.2,643.7 295.1,635.8 296.1,627.7 297.1,619.6 298,611.4 299,603.1 299.9,594.6 300.9,585.6 301.8,576.5 302.8,567.3 303.8,558.4 304.7,549.8 305.7,541.5 306.6,531.9 307.6,522.6 308.6,515.6 309.5,513.2 310.5,515.5 311.4,522.2 312.4,531.4 313.4,541.3 314.3,550.6 315.3,560.7 316.2,571.9 317.2,583.9 318.2,596.7 319.1,610.2 320.1,624.3 321,640.7 322,658.7 322.9,676.7 323.9,693 324.9,707.1 325.8,720.8 326.8,733.6 327.7,744.7 328.7,753.5 329.7,760.9 330.6,768.3 331.6,775 332.5,780.8 333.5,785.2 334.5,787.8 335.4,788.2 336.4,787.4 337.3,785.8 338.3,783.6 339.2,781 340.2,778.2 341.2,775.2 342.1,772.2 343.1,769.4 344,766.4 345,763.1 346,759.5 346.9,755.9 347.9,752.4 348.8,749.2 349.8,746.4 350.8,744.3 351.7,742.4 352.7,740.5 353.6,738.7 354.6,737.1 355.6,735.8 356.5,734.7 357.5,734.1 358.4,734.1 359.4,735.1 360.3,736.9 361.3,739.4 362.3,742.3 363.2,745.5 364.2,748.9 365.1,753.5 366.1,759.2 367.1,765.7 368,772.8 369,780.4 369.9,788 370.9,796.2 371.9,805.2 372.8,814.9 373.8,825.2 374.7,836.1 375.7,847.7 376.7,861.8 377.6,877.4 378.6,892.9 379.5,906.2 380.5,915.9 381.4,924.4 382.4,932.3 383.4,939.4 384.3,946 385.3,952.1 386.2,957.7 387.2,963 388.2,968 389.1,972.7 390.1,977.2 391,981.5 392,985.6 393,989.4 393.9,993.1 394.9,996.6 395.8,999.9 396.8,1003 397.7,1006 398.7,1008.8 399.7,1011.4 400.6,1014 401.6,1016.5 402.5,1018.9 403.5,1021.2 404.5,1023.4 405.4,1025.6 406.4,1027.6 407.3,1029.4 408.3,1031.2 409.3,1032.8 410.2,1034.2 411.2,1035.5 412.1,1036.9 413.1,1038.2 414.1,1039.5 415,1040.8 416,1042 416.9,1043.1 417.9,1044.1 418.8,1044.9 419.8,1045.6 420.8,1046.1 421.7,1046.4 422.7,1046.4 423.6,1046.3 424.6,1046.1 425.6,1045.9 426.5,1045.6 427.5,1045.2 428.4,1044.8 429.4,1044.4 430.4,1043.9 431.3,1043.5 432.3,1043 433.2,1042.6 434.2,1042.2 435.1,1041.8 436.1,1041.3 437.1,1040.8 438,1040.2 439,1039.7 439.9,1039.2 440.9,1038.7 441.9,1038.3 442.8,1037.9 443.8,1037.7 444.7,1037.7 445.7,1037.6 446.7,1037.8 447.6,1038 448.6,1038.4 449.5,1038.8 450.5,1039.4 451.5,1040.1 452.4,1040.8 453.4,1041.6 454.3,1042.4 455.3,1043.3 456.2,1044.3 457.2,1045.2 458.2,1046.2 459.1,1047.4 460.1,1048.9 461,1050.5 462,1052.4 463,1054.4 463.9,1056.5 464.9,1058.8 465.8,1061.1 466.8,1063.5 467.8,1066 468.7,1068.5 469.7,1071 470.6,1073.6 471.6,1076.5 472.6,1079.5 473.5,1082.7 474.5,1086 475.4,1089.4 476.4,1092.9 477.3,1096.4 478.3,1099.9 479.3,1103.4 480.2,1106.9 481.2,1110.3 482.1,1113.6 483.1,1116.7 484.1,1119.7 485,1122.7 486,1125.6 486.9,1128.6 487.9,1131.6 488.9,1134.6 489.8,1137.6 490.8,1140.5 491.7,1143.3 492.7,1146 493.6,1148.6 494.6,1151.1 495.6,1153.5 496.5,1155.7 497.5,1157.7 498.4,1159.5 499.4,1161.1 500.4,1162.7 501.3,1164.2 502.3,1165.6 503.2,1167 504.2,1168.4 505.2,1169.6 506.1,1170.8 507.1,1172 508,1173.1 509,1174.1 510,1175.1 510.9,1176 511.9,1176.9 512.8,1177.6 513.8,1178.4 514.7,1179.1 515.7,1179.8 516.7,1180.6 517.6,1181.3 518.6,1182 519.5,1182.7 520.5,1183.3 521.5,1183.9 522.4,1184.4 523.4,1184.9 524.3,1185.3 525.3,1185.6 526.3,1185.8 527.2,1186 528.2,1186 529.1,1186.1 530.1,1186.2 531,1186.3 532,1186.3 533,1186.4 533.9,1186.5 534.9,1186.5 535.8,1186.6 536.8,1186.6 537.8,1186.7 538.7,1186.7 539.7,1186.8 540.6,1186.8 541.6,1186.9 542.6,1186.9 543.5,1187 544.5,1187 545.4,1187 546.4,1187.1 547.4,1187.1 548.3,1187.1 549.3,1187.2 550.2,1187.2 551.2,1187.2 552.1,1187.3 553.1,1187.3 554.1,1187.3 555,1187.4 556,1187.4 556.9,1187.4 557.9,1187.4 558.9,1187.3 559.8,1187.3 560.8,1187.2 561.7,1187.2 562.7,1187.1 563.7,1187 564.6,1186.8 565.6,1186.7 566.5,1186.6 567.5,1186.5 568.5,1186.3 569.4,1186.2 570.4,1186 571.3,1185.9 572.3,1185.7 573.2,1185.6 574.2,1185.5 575.2,1185.3 576.1,1185.2 577.1,1185 578,1184.9 579,1184.8 580,1184.7 580.9,1184.6 581.9,1184.5 582.8,1184.4 583.8,1184.4 584.8,1184.5 585.7,1184.5 586.7,1184.6 591.7,1201.8" fill="none" stroke="#808000" stroke-width="7.5" stroke-linejoin="round" stroke-linecap="round"/>
<polyline points="591.7,1189.3 593.1,1190.7 594.6,1189.2 596,1192.3 597.5,1190.2 598.9,1188.6 600.3,1188 601.8,1188.3 603.2,1189 604.7,1184.5 606.1,1182.5 607.5,1181 609,1183.4 610.4,1183.3 611.8,1180 613.3,1182.9 614.7,1183.6 616.2,1184 617.6,1180.5 619,1177.8 620.5,1180.7 621.9,1177.2 623.4,1180.3 624.8,1177.9 626.2,1175.7 627.7,1177 629.1,1170.6 630.5,1173.9 632,1176.9 633.4,1173.6 634.9,1172.7 636.3,1172.8 637.7,1168.9 639.2,1168.4 640.6,1169.7 642.1,1171.3 643.5,1168.4 644.9,1170.8 646.4,1167.2 647.8,1168.1 649.2,1168.3 650.7,1165.5 652.1,1166.7 653.6,1165.8 655,1164.8 656.4,1164.7 657.9,1168.8 659.3,1166 660.8,1168 662.2,1167 663.6,1163.4 665.1,1164.8 666.5,1158.9 667.9,1163.1 669.4,1162.2 670.8,1163.2 672.3,1163.3 673.7,1158.5 675.1,1164.3 676.6,1159.3 678,1158.9 679.5,1159.2 680.9,1160.4 682.3,1159.9 683.8,1158.9 685.2,1158.2 686.6,1159.6 688.1,1162.8 689.5,1157 691,1159 692.4,1155.6 693.8,1159.7 695.3,1157.1 696.7,1153.8 698.2,1157.5 699.6,1155.9 701,1158.9 702.5,1158 703.9,1158.3 705.3,1157.3 706.8,1153.6 708.2,1157.4 709.7,1154.5 711.1,1155.1 712.5,1155.2 714,1156.5 715.4,1154.8 716.9,1151.3 718.3,1148 719.7,1154.3 721.2,1153.6 722.6,1151.7 724,1147.4 725.5,1149.4 726.9,1144.4 728.4,1148 729.8,1145.5 731.2,1145.3 732.7,1145.6 734.1,1146.3 735.6,1143 737,1140.5 738.4,1144.5 739.9,1141 741.3,1140.6 742.7,1135.7 744.2,1137.5 745.6,1136.8 747.1,1134.5 748.5,1131.2 749.9,1131.7 751.4,1134.4 752.8,1132.7 754.3,1127.5 755.7,1126.2 757.1,1128.6 758.6,1126.5 760,1125.8 761.4,1123.1 762.9,1121.1 764.3,1118.9 765.8,1118.4 767.2,1118.9 768.6,1116.3 770.1,1114.8 771.5,1111.8 773,1108.7 774.4,1108 775.8,1107.4 777.3,1104.1 778.7,1102.9 780.1,1104.9 781.6,1101.2 783,1097.2 784.5,1095.9 785.9,1094.1 787.3,1093.3 788.8,1090.1 790.2,1087.2 791.7,1085.9 793.1,1085.4 794.5,1086 796,1081.8 797.4,1077.4 798.8,1073.7 800.3,1067.6 801.7,1066 803.2,1066.7 804.6,1060.9 806,1063.6 807.5,1061.9 808.9,1059.4 810.4,1053.4 811.8,1053.2 813.2,1049.2 814.7,1046.2 816.1,1043.1 817.6,1041.2 819,1038.8 820.4,1040.4 821.9,1034.9 823.3,1030 824.7,1026.1 826.2,1024.1 827.6,1021.6 829.1,1020.4 830.5,1021.1 831.9,1017.8 833.4,1014.3 834.8,1008.7 836.3,1011.9 837.7,1011.2 839.1,1007.6 840.6,1005.1 842,1003.5 843.4,1003.6 844.9,1003.4 846.3,993.5 847.8,993.5 849.2,990.7 850.6,991.8 852.1,990.5 853.5,989.1 855,981.8 856.4,982.7 857.8,976.6 859.3,982.2 860.7,978.4 862.1,976.3 863.6,973 865,970.9 866.5,973.1 867.9,970.4 869.3,971.3 870.8,970.3 872.2,964.2 873.7,961.4 875.1,959.3 876.5,957.7 878,957.8 879.4,955.2 880.8,955.8 882.3,959.7 883.7,960.4 885.2,960.2 886.6,957.6 888,958.3 889.5,959.7 890.9,956.4 892.4,956 893.8,950.4 895.2,951.9 896.7,956.8 898.1,957.4 899.5,958.7 901,959.1 902.4,958.7 903.9,961.6 905.3,955.9 906.7,961.4 908.2,958.1 909.6,958.1 911.1,958.4 912.5,958.9 913.9,959.3 915.4,960.3 916.8,961.6 918.2,961.9 919.7,959.7 921.1,958.5 922.6,960.6 924,959.2 925.4,957.9 926.9,959 928.3,961.6 929.8,964.4 931.2,957.9 932.6,965.1 934.1,963.1 935.5,964.3 936.9,963.5 938.4,965.3 939.8,964.8 941.3,961 942.7,958.8 944.1,961.6 945.6,961.7 947,960.7 948.5,960.9 949.9,963.6 951.3,963.1 952.8,967.2 954.2,968.8 955.6,975.9 957.1,974.7 958.5,981.2 960,981.3 961.4,983.7 962.8,987.9 964.3,987.4 965.7,989.8 967.2,992.9 968.6,994.3 970,996.9 971.5,1001.4 972.9,1005.6 974.3,1006.9 975.8,1012.2 977.2,1015.1 978.7,1017 980.1,1019.5 981.5,1021.7 983,1024.5 984.4,1026.2 985.9,1030.7 987.3,1031.9 988.7,1036.3 990.2,1039.2 991.6,1042.6 993,1043.1 994.5,1045.6 995.9,1051.1 997.4,1052.3 998.8,1053.9 1000.2,1053.4 1001.7,1056.4 1003.1,1058.2 1004.6,1060.8 1006,1065 1007.4,1063.5 1008.9,1063.2 1010.3,1066.2 1011.7,1065 1013.2,1067.2 1014.6,1070.6 1016.1,1069.7 1017.5,1073.2 1018.9,1073.6 1020.4,1073.3 1021.8,1075.5 1023.3,1073.9 1024.7,1074.4 1026.1,1077 1027.6,1078.7 1029,1081.7 1030.4,1082.7 1031.9,1086.5 1033.3,1089.4 1034.8,1092 1036.2,1095.3 1037.6,1102 1039.1,1101 1040.5,1102.7 1042,1108.2 1043.4,1108.6 1044.8,1111.6 1046.3,1116.1 1047.7,1119.1 1049.1,1124.2 1050.6,1126.3 1052,1131.9 1053.5,1134.8 1054.9,1136.4 1056.3,1142.3 1057.8,1148.5 1059.2,1148.8 1060.7,1150.3 1062.1,1153.4 1063.5,1154 1065,1160.1 1066.4,1162.9 1067.8,1169.6 1069.3,1169.6 1070.7,1174.4 1072.2,1175.8 1073.6,1176.2 1075,1180.6 1076.5,1183.5 1077.9,1187.2 1079.4,1187.2 1080.8,1189.1 1082.2,1188.5 1083.7,1190.6 1085.1,1199 1086.5,1197.3 1088,1204.1 1089.4,1201.6 1090.9,1202.6 1092.3,1203.6 1093.7,1204.6 1095.2,1205.7 1096.6,1208.9 1098.1,1210.6 1099.5,1210.9 1100.9,1211.4 1102.4,1210.6 1103.8,1213 1105.3,1215.7 1106.7,1215.3 1108.1,1213.9 1109.6,1219.1 1111,1214.9 1112.4,1217.9 1113.9,1215.5 1115.3,1221.1 1116.8,1217.7 1118.2,1220.3 1119.6,1220.9 1121.1,1221.4 1122.5,1222.9 1124,1220.2 1125.4,1221 1126.8,1218.8 1128.3,1218.9 1129.7,1218.6 1131.1,1213.1 1132.6,1217 1134,1213.7 1135.5,1217.9 1136.9,1219.2 1138.3,1219.3 1139.8,1218.7 1141.2,1216.9 1142.7,1220.4 1144.1,1217.8 1145.5,1220 1147,1221.5 1148.4,1220 1149.8,1221 1151.3,1223.8 1152.7,1220.8 1154.2,1219.7 1155.6,1218.5 1157,1217 1158.5,1220 1159.9,1220.8 1161.4,1218.6 1162.8,1218.9 1164.2,1222.3 1165.7,1223.8 1167.1,1220 1168.5,1218.9 1170,1219.3 1171.4,1218.5 1172.9,1220.3 1174.3,1223.7 1175.7,1219.8 1177.2,1220.2 1178.6,1220.9 1180.1,1219.4 1181.5,1221.9 1182.9,1220.7 1184.4,1220.2 1185.8,1220.8 1187.2,1221.3 1188.7,1222.2 1190.1,1221.3 1191.6,1220.6 1193,1223.3 1194.4,1217.4 1195.9,1219.7 1197.3,1219.3 1198.8,1219.6 1200.2,1219.5 1201.6,1220.2 1203.1,1219.7 1204.5,1220.3 1205.9,1221.7 1207.4,1223.5 1208.8,1221.3 1210.3,1220.2 1211.7,1219.4 1213.1,1220.9 1214.6,1221.9 1216,1221.6 1217.5,1221.3 1218.9,1213.6 1220.3,1220.4 1221.8,1219.9 1223.2,1219.1 1224.6,1222.4 1226.1,1220.4 1227.5,1222 1229,1219.9 1230.4,1220.4 1231.8,1219.5 1233.3,1220.7 1234.7,1222.1 1236.2,1220.3 1237.6,1221.1 1239,1220.4 1240.5,1220.2 1241.9,1219 1243.3,1219.3 1244.8,1220.1 1246.2,1220.3 1247.7,1220.3 1249.1,1219.4 1250.5,1222.4 1252,1221.9 1253.4,1219 1254.9,1213.9 1256.3,1219.2 1257.7,1219.5 1259.2,1220.9 1260.6,1223.8 1262,1222 1263.5,1223.8 1264.9,1220.4 1266.4,1221.9 1267.8,1222.3 1269.2,1220.6 1270.7,1217.7 1272.1,1222.2 1273.6,1222.5 1275,1220.4 1276.4,1221 1277.9,1223.6 1279.3,1220.7 1280.7,1223.2 1282.2,1221.1 1283.6,1218.8 1285.1,1220.4 1286.5,1219.9 1287.9,1220.6 1289.4,1220.3 1290.8,1220.3 1292.3,1221.4 1293.7,1219.6 1295.1,1221.3 1296.6,1223 1298,1222.8 1299.4,1221.8 1300.9,1220.1 1302.3,1219.9 1303.8,1218.5 1305.2,1220.3 1306.6,1221.5 1308.1,1222.2 1309.5,1221.3 1311,1218.6 1312.4,1220.5 1313.8,1220.2 1315.3,1218.6 1316.7,1220.2 1318.1,1222.1 1319.6,1219.3 1321,1220.5 1322.5,1221.2 1323.9,1223.7 1325.3,1221.5 1326.8,1222.5 1328.2,1220.5 1329.7,1218.1 1331.1,1220.9 1332.5,1219.8 1334,1221 1335.4,1219.7 1336.8,1219 1338.3,1221 1339.7,1220.7 1341.2,1217.6 1342.6,1216.7 1344,1221.2 1345.5,1220.9 1346.9,1222.9 1348.4,1221.6 1349.8,1216.8 1351.2,1221.5 1352.7,1223.4 1354.1,1221.1 1355.5,1219.9 1357,1223.8 1358.4,1222.9 1359.9,1222 1361.3,1220.7 1362.7,1222.3 1364.2,1219 1365.6,1221.7 1367.1,1222.9 1368.5,1223.8 1369.9,1223 1371.4,1219.2 1372.8,1221.5 1374.2,1222.2 1375.7,1222 1377.1,1220.4 1378.6,1221.4 1380,1217.6 1381.4,1221.2 1382.9,1222.4 1384.3,1220.1 1385.8,1220.8 1387.2,1220.9 1388.6,1220.5 1390.1,1221.6 1391.5,1220.5 1393,1222.1 1394.4,1222.2 1395.8,1220.6 1397.3,1222.7 1398.7,1219.2 1400.1,1220.9 1401.6,1218.6 1403,1218.9 1404.5,1221.9 1405.9,1222.8 1407.3,1221.3 1408.8,1222.9 1410.2,1221.7 1411.7,1219.1 1413.1,1221.9 1414.5,1221.5 1416,1223.5 1417.4,1222.4 1418.8,1221.5 1420.3,1220.4 1421.7,1219.7 1423.2,1220.4 1424.6,1222.8 1426,1221 1427.5,1219.5 1428.9,1222 1430.4,1221.7 1431.8,1220.6 1433.2,1221.2 1434.7,1221.6 1436.1,1221.2 1437.5,1221.6 1439,1220.9 1440.4,1221.4 1441.9,1220.2 1443.3,1222.5 1444.7,1220.2 1446.2,1223.7 1447.6,1220.7 1449.1,1216.8 1450.5,1220 1451.9,1220.9 1453.4,1220.7 1454.8,1223.1 1456.2,1223.5 1457.7,1222.5 1459.1,1221 1460.6,1222.1 1462,1218.7 1463.4,1219.8 1464.9,1221 1466.3,1216.5 1467.8,1219.6 1469.2,1220.3 1470.6,1222.8 1472.1,1221.8 1473.5,1219 1474.9,1220.6 1476.4,1219.2 1477.8,1221.4 1479.3,1223 1480.7,1221.2 1482.1,1223.8 1483.6,1221.4 1485,1221.2 1486.5,1221 1487.9,1222.8 1489.3,1223.6 1490.8,1223.8 1492.2,1220.5 1493.6,1220.2 1495.1,1220 1496.5,1221.1 1498,1220.3 1499.4,1220.5 1500.8,1216 1502.3,1218.1 1503.7,1219.6 1505.2,1221.1 1506.6,1219.5 1508,1222.6 1509.5,1215.9 1510.9,1221.7 1512.3,1221.8 1513.8,1223.3 1515.2,1220.7 1516.7,1220.9 1518.1,1221.3 1519.5,1221.3 1521,1220.8 1522.4,1220.7 1523.9,1218.1 1525.3,1219.8 1526.7,1221.9 1528.2,1222.7 1529.6,1223.8 1531,1222.6 1532.5,1223.8 1533.9,1223.8 1535.4,1222.2 1536.8,1218.1 1538.2,1221 1539.7,1222.2 1541.1,1223.1 1542.6,1219.9 1544,1219.4 1545.4,1220.8 1546.9,1220.5 1548.3,1220.1 1549.7,1221.5 1551.2,1221.2 1552.6,1220.3 1554.1,1222.2 1555.5,1219.3 1556.9,1221.6 1558.4,1221.9 1559.8,1221.2 1561.3,1221.2 1562.7,1223.8 1564.1,1222 1565.6,1222.5 1567,1222.3 1568.4,1223.8 1569.9,1220.8 1571.3,1219.7 1572.8,1220 1574.2,1221.3 1575.6,1218.2 1577.1,1217.5 1578.5,1221.2 1580,1221.7 1581.4,1223.8 1582.8,1221.5 1584.3,1220.7 1585.7,1218.8 1587.1,1218.8 1588.6,1223.5 1590,1220.5 1591.5,1221.1 1592.9,1220.4 1594.3,1217.9 1595.8,1221.2 1597.2,1222.1 1598.7,1221 1600.1,1221.9 1601.5,1223.5 1603,1223.8 1604.4,1223.1 1605.8,1221.8 1607.3,1215.3 1608.7,1223.2 1610.2,1221.9 1611.6,1222.2 1613,1223.2 1614.5,1221.4 1615.9,1223.8 1617.4,1222 1618.8,1219 1620.2,1222.1 1621.7,1219.5 1623.1,1219.3 1624.5,1219.5 1626,1221.1 1627.4,1217.6 1628.9,1223 1630.3,1222.6 1631.7,1222.1 1633.2,1221.8 1634.6,1220.5 1636.1,1221 1637.5,1218.3 1638.9,1221.6 1640.4,1222.6 1641.8,1222 1643.2,1220.3 1644.7,1220.1 1646.1,1221.2 1647.6,1222.1 1649,1223.2 1650.4,1219.9 1651.9,1223.8 1653.3,1220.8 1654.8,1223.8 1656.2,1221.9 1657.6,1219.8 1659.1,1220.3 1660.5,1220.5 1661.9,1219.9 1663.4,1220.6 1664.8,1222.8 1666.3,1222.7 1667.7,1223.3 1669.1,1221.6 1670.6,1219.3" fill="none" stroke="#000080" stroke-width="6.9" stroke-linejoin="bevel" stroke-linecap="butt"/>
<polyline points="232.8,662.3 233.8,666.5 234.7,670.8 235.7,675 236.6,679.2 237.6,683.3 238.6,687.5 239.5,691.7 240.5,695.8 241.4,699.9 242.4,704.1 243.3,708.2 244.3,712.4 245.3,716.9 246.2,721.6 247.2,726.3 248.1,730.9 249.1,735.2 250.1,739.1 251,742.4 252,745.1 252.9,747.1 253.9,749.1 254.9,750.9 255.8,752.6 256.8,754 257.7,755.1 258.7,755.8 259.7,756 260.6,755.7 261.6,754.9 262.5,753.5 263.5,751.7 264.4,749.6 265.4,747.2 266.4,744.8 267.3,742.2 268.3,739.6 269.2,736.4 270.2,732.8 271.2,728.7 272.1,724.2 273.1,719.3 274,714.1 275,708.6 276,702.8 276.9,696.9 277.9,690.7 278.8,684.3 279.8,677.3 280.8,669.5 281.7,660.9 282.7,651.8 283.6,642.3 284.6,632.3 285.5,622.2 286.5,611.8 287.5,601.4 288.4,591.2 289.4,581 290.3,571.2 291.3,561.6 292.3,551.9 293.2,542.2 294.2,532.4 295.1,522.6 296.1,512.6 297.1,502.6 298,492.4 299,482.1 299.9,471.4 300.9,460.3 301.8,449 302.8,437.6 303.8,426.4 304.7,415.8 305.7,405.4 306.6,393.4 307.6,381.7 308.6,372.9 309.5,369.5 310.5,372.6 311.4,380.9 312.4,392.2 313.4,404.4 314.3,415.8 315.3,428.2 316.2,441.8 317.2,456.5 318.2,472.1 319.1,488.5 320.1,505.7 321,525.5 322,547.3 322.9,569 323.9,588.7 324.9,605.9 325.8,622.5 326.8,637.9 327.7,651.4 328.7,662 329.7,671.1 330.6,680.1 331.6,688.3 332.5,695.4 333.5,700.8 334.5,704 335.4,704.7 336.4,703.8 337.3,702 338.3,699.6 339.2,696.6 340.2,693.3 341.2,689.8 342.1,686.4 343.1,683.1 344,679.8 345,675.9 346,671.8 346.9,667.6 347.9,663.5 348.8,659.8 349.8,656.6 350.8,654.2 351.7,652.1 352.7,649.9 353.6,647.9 354.6,646.2 355.6,644.7 356.5,643.6 357.5,642.9 358.4,642.9 359.4,644.1 360.3,646.4 361.3,649.3 362.3,652.8 363.2,656.6 364.2,660.7 365.1,666.2 366.1,673 367.1,680.7 368,689.2 369,698.2 369.9,707.3 370.9,717 371.9,727.7 372.8,739.2 373.8,751.5 374.7,764.4 375.7,778.2 376.7,794.8 377.6,813.4 378.6,831.8 379.5,847.5 380.5,859.1 381.4,869.2 382.4,878.5 383.4,887 384.3,894.8 385.3,902 386.2,908.7 387.2,915 388.2,920.9 389.1,926.5 390.1,931.8 391,936.9 392,941.7 393,946.3 393.9,950.7 394.9,954.9 395.8,958.8 396.8,962.5 397.7,966 398.7,969.3 399.7,972.5 400.6,975.5 401.6,978.5 402.5,981.4 403.5,984.1 404.5,986.8 405.4,989.3 406.4,991.6 407.3,993.9 408.3,995.9 409.3,997.9 410.2,999.6 411.2,1001.2 412.1,1002.7 413.1,1004.3 414.1,1005.9 415,1007.4 416,1008.8 416.9,1010.2 417.9,1011.3 418.8,1012.4 419.8,1013.2 420.8,1013.8 421.7,1014.1 422.7,1014.2 423.6,1014.2 424.6,1014 425.6,1013.8 426.5,1013.5 427.5,1013.1 428.4,1012.7 429.4,1012.2 430.4,1011.8 431.3,1011.3 432.3,1010.8 433.2,1010.4 434.2,1010 435.1,1009.6 436.1,1009.1 437.1,1008.5 438,1007.9 439,1007.4 439.9,1006.8 440.9,1006.3 441.9,1005.9 442.8,1005.6 443.8,1005.4 444.7,1005.4 445.7,1005.4 446.7,1005.5 447.6,1005.8 448.6,1006.2 449.5,1006.7 450.5,1007.4 451.5,1008.2 452.4,1009 453.4,1009.9 454.3,1010.9 455.3,1012 456.2,1013 457.2,1014.1 458.2,1015.3 459.1,1016.7 460.1,1018.4 461,1020.3 462,1022.5 463,1024.8 463.9,1027.3 464.9,1030 465.8,1032.7 466.8,1035.5 467.8,1038.4 468.7,1041.3 469.7,1044.2 470.6,1047.3 471.6,1050.7 472.6,1054.2 473.5,1058 474.5,1061.9 475.4,1065.9 476.4,1069.9 477.3,1074.1 478.3,1078.2 479.3,1082.3 480.2,1086.4 481.2,1090.4 482.1,1094.2 483.1,1097.9 484.1,1101.4 485,1104.9 486,1108.4 486.9,1111.9 487.9,1115.4 488.9,1118.9 489.8,1122.3 490.8,1125.7 491.7,1129.1 492.7,1132.3 493.6,1135.4 494.6,1138.3 495.6,1141.1 496.5,1143.6 497.5,1146 498.4,1148.1 499.4,1150 500.4,1151.8 501.3,1153.6 502.3,1155.3 503.2,1156.9 504.2,1158.5 505.2,1160 506.1,1161.4 507.1,1162.8 508,1164.1 509,1165.3 510,1166.4 510.9,1167.5 511.9,1168.5 512.8,1169.4 513.8,1170.3 514.7,1171.1 515.7,1172 516.7,1172.8 517.6,1173.7 518.6,1174.5 519.5,1175.3 520.5,1176 521.5,1176.7 522.4,1177.4 523.4,1177.9 524.3,1178.4 525.3,1178.7 526.3,1179 527.2,1179.2 528.2,1179.2 529.1,1179.3 530.1,1179.4 531,1179.4 532,1179.5 533,1179.5 533.9,1179.6 534.9,1179.6 535.8,1179.7 536.8,1179.7 537.8,1179.7 538.7,1179.8 539.7,1179.8 540.6,1179.8 541.6,1179.9 542.6,1179.9 543.5,1179.9 544.5,1180 545.4,1180 546.4,1180 547.4,1180 548.3,1180 549.3,1180 550.2,1180.1 551.2,1180.1 552.1,1180.1 553.1,1180.1 554.1,1180.1 555,1180.1 556,1180.1 556.9,1180.1 557.9,1180.1 558.9,1180.1 559.8,1180 560.8,1179.9 561.7,1179.9 562.7,1179.8 563.7,1179.6 564.6,1179.5 565.6,1179.4 566.5,1179.2 567.5,1179.1 568.5,1178.9 569.4,1178.8 570.4,1178.6 571.3,1178.4 572.3,1178.3 573.2,1178.1 574.2,1178 575.2,1177.8 576.1,1177.6 577.1,1177.5 578,1177.3 579,1177.2 580,1177.1 580.9,1177 581.9,1176.9 582.8,1176.8 583.8,1176.6 584.8,1176.5 585.7,1176.3 586.7,1176.2 591.7,1189.3" fill="none" stroke="#000080" stroke-width="7.5" stroke-linejoin="round" stroke-linecap="round"/>
<polyline points="591.7,1179.4 593.1,1182.4 594.6,1179.5 596,1181.7 597.5,1178.5 598.9,1175.4 600.3,1175 601.8,1170.6 603.2,1175.4 604.7,1172.8 606.1,1171.9 607.5,1170.9 609,1169.7 610.4,1167.4 611.8,1164.4 613.3,1167.2 614.7,1167.9 616.2,1166.3 617.6,1166.6 619,1162.2 620.5,1165.8 621.9,1165.6 623.4,1166.8 624.8,1165 626.2,1160.3 627.7,1162.2 629.1,1162.4 630.5,1160.4 632,1160.5 633.4,1159.4 634.9,1157 636.3,1155.5 637.7,1150.8 639.2,1153.1 640.6,1152.9 642.1,1152.6 643.5,1155.3 644.9,1155.5 646.4,1151.2 647.8,1152.9 649.2,1152 650.7,1150.6 652.1,1148.7 653.6,1149.7 655,1153.6 656.4,1150.2 657.9,1150 659.3,1148.2 660.8,1144.6 662.2,1149.5 663.6,1145.2 665.1,1147.8 666.5,1148.3 667.9,1144.2 669.4,1146.9 670.8,1143.4 672.3,1145.6 673.7,1142.6 675.1,1141.9 676.6,1141.5 678,1137.7 679.5,1142.7 680.9,1138.8 682.3,1144.2 683.8,1142.8 685.2,1142.6 686.6,1146.2 688.1,1139 689.5,1139 691,1142.4 692.4,1141.3 693.8,1143.1 695.3,1136.6 696.7,1140.9 698.2,1139.3 699.6,1138.3 701,1137.1 702.5,1141.2 703.9,1136.1 705.3,1134.4 706.8,1134.4 708.2,1137.5 709.7,1135 711.1,1134 712.5,1132.9 714,1131.9 715.4,1133.5 716.9,1130.7 718.3,1129.5 719.7,1131.6 721.2,1130.9 722.6,1133.2 724,1127.6 725.5,1126.5 726.9,1126.5 728.4,1125.8 729.8,1121 731.2,1120.8 732.7,1123.1 734.1,1124.1 735.6,1123.6 737,1121.5 738.4,1116.2 739.9,1113.2 741.3,1112.4 742.7,1115.7 744.2,1110.8 745.6,1113.2 747.1,1112.1 748.5,1109.8 749.9,1102.6 751.4,1106.6 752.8,1102 754.3,1102 755.7,1098.1 757.1,1099 758.6,1094.6 760,1095.5 761.4,1093.8 762.9,1091.4 764.3,1088.3 765.8,1091.6 767.2,1090 768.6,1086.4 770.1,1080.7 771.5,1080.6 773,1075.1 774.4,1076.3 775.8,1074.8 777.3,1070.5 778.7,1068.4 780.1,1065.9 781.6,1067.5 783,1063.8 784.5,1060.6 785.9,1051.5 787.3,1054.2 788.8,1051.9 790.2,1049 791.7,1044.3 793.1,1040.6 794.5,1033.6 796,1035.4 797.4,1030.3 798.8,1030.3 800.3,1025.9 801.7,1025.8 803.2,1017.4 804.6,1016.7 806,1013 807.5,1010.9 808.9,1006.5 810.4,1001.9 811.8,1003 813.2,1003.8 814.7,999.6 816.1,997.5 817.6,991.5 819,989.2 820.4,989 821.9,984.8 823.3,980.8 824.7,974.8 826.2,969.8 827.6,966.9 829.1,966 830.5,961 831.9,957.3 833.4,958.1 834.8,955.6 836.3,952.8 837.7,949 839.1,947.6 840.6,945.5 842,940.1 843.4,938.2 844.9,937.4 846.3,936.5 847.8,929.9 849.2,927.4 850.6,929.9 852.1,928.8 853.5,925.6 855,924.2 856.4,924.1 857.8,921.3 859.3,920 860.7,913.7 862.1,915.2 863.6,909.5 865,909.3 866.5,905.3 867.9,905.4 869.3,903.8 870.8,905 872.2,900.6 873.7,897 875.1,894.5 876.5,890.2 878,888.6 879.4,888.3 880.8,887.7 882.3,884.5 883.7,887 885.2,885.4 886.6,886.6 888,884.6 889.5,884.6 890.9,880.5 892.4,882.1 893.8,880.3 895.2,880.4 896.7,881.3 898.1,881.3 899.5,884.4 901,882.2 902.4,881.1 903.9,880.7 905.3,884.1 906.7,881 908.2,885.4 909.6,882.5 911.1,884.7 912.5,886 913.9,882.1 915.4,888.1 916.8,887.8 918.2,887.5 919.7,885.1 921.1,885 922.6,888.4 924,886.9 925.4,888.7 926.9,890 928.3,886.5 929.8,887.3 931.2,887.7 932.6,886.2 934.1,886.6 935.5,889.2 936.9,884.7 938.4,886.1 939.8,889.7 941.3,886 942.7,887.1 944.1,885.2 945.6,884.9 947,886.4 948.5,885.3 949.9,886.3 951.3,887.5 952.8,889.5 954.2,892.1 955.6,896.5 957.1,905 958.5,905 960,910.7 961.4,914.5 962.8,919.1 964.3,919.9 965.7,921.5 967.2,925.9 968.6,924.5 970,925.7 971.5,934.5 972.9,938.3 974.3,940.9 975.8,942.7 977.2,948.9 978.7,955.1 980.1,960.1 981.5,965.5 983,965 984.4,971.9 985.9,972.7 987.3,977.7 988.7,977.1 990.2,978.3 991.6,985.4 993,988.7 994.5,992.7 995.9,996.3 997.4,1001.2 998.8,1006.6 1000.2,1006.9 1001.7,1007.9 1003.1,1008.9 1004.6,1017.1 1006,1017.6 1007.4,1017 1008.9,1015.9 1010.3,1023.4 1011.7,1022.7 1013.2,1025.6 1014.6,1025.8 1016.1,1026.8 1017.5,1027.6 1018.9,1031.4 1020.4,1026.3 1021.8,1031.6 1023.3,1034.7 1024.7,1035.4 1026.1,1036.9 1027.6,1037.3 1029,1040.9 1030.4,1041.7 1031.9,1042.5 1033.3,1047.9 1034.8,1048.1 1036.2,1050.5 1037.6,1055.1 1039.1,1059.8 1040.5,1061.9 1042,1060.9 1043.4,1063.3 1044.8,1073.1 1046.3,1071.1 1047.7,1074.2 1049.1,1076.2 1050.6,1085.4 1052,1090.1 1053.5,1093.2 1054.9,1100.9 1056.3,1103.7 1057.8,1111 1059.2,1113.6 1060.7,1116.3 1062.1,1120.6 1063.5,1125.8 1065,1127.2 1066.4,1134.3 1067.8,1138.1 1069.3,1143.2 1070.7,1146.9 1072.2,1150.1 1073.6,1159.2 1075,1158.4 1076.5,1166.4 1077.9,1166.2 1079.4,1175.3 1080.8,1175 1082.2,1181.2 1083.7,1179.8 1085.1,1182 1086.5,1186.5 1088,1189 1089.4,1191.1 1090.9,1191.9 1092.3,1198.5 1093.7,1200.4 1095.2,1202.2 1096.6,1201.6 1098.1,1200 1099.5,1199.4 1100.9,1201 1102.4,1204.5 1103.8,1207.6 1105.3,1211.2 1106.7,1211.2 1108.1,1212.1 1109.6,1213.7 1111,1214.8 1112.4,1212.1 1113.9,1217.1 1115.3,1215.9 1116.8,1220.7 1118.2,1219.1 1119.6,1218.4 1121.1,1219.2 1122.5,1218.7 1124,1218.8 1125.4,1218 1126.8,1218.3 1128.3,1217.6 1129.7,1213.2 1131.1,1217.6 1132.6,1212.6 1134,1216.6 1135.5,1221 1136.9,1221.2 1138.3,1221.7 1139.8,1221.6 1141.2,1223.8 1142.7,1218.2 1144.1,1218.1 1145.5,1219.7 1147,1218.4 1148.4,1221.7 1149.8,1219.9 1151.3,1221 1152.7,1220.2 1154.2,1222 1155.6,1220.1 1157,1220.6 1158.5,1222 1159.9,1219.7 1161.4,1221.3 1162.8,1219.7 1164.2,1218.6 1165.7,1218.4 1167.1,1217.7 1168.5,1218.9 1170,1221.9 1171.4,1220.4 1172.9,1217.9 1174.3,1221.1 1175.7,1218.4 1177.2,1219.6 1178.6,1220.1 1180.1,1219.3 1181.5,1216.7 1182.9,1217.1 1184.4,1219.5 1185.8,1219.9 1187.2,1222.9 1188.7,1220.7 1190.1,1221.1 1191.6,1219.8 1193,1218.3 1194.4,1219.1 1195.9,1220.7 1197.3,1218.6 1198.8,1217.8 1200.2,1216 1201.6,1221.2 1203.1,1222.9 1204.5,1220.9 1205.9,1221.6 1207.4,1221.1 1208.8,1220.9 1210.3,1218.1 1211.7,1220.3 1213.1,1220 1214.6,1218 1216,1222.1 1217.5,1221.4 1218.9,1221.4 1220.3,1219.1 1221.8,1219.3 1223.2,1218.1 1224.6,1220.2 1226.1,1220 1227.5,1219.2 1229,1221.6 1230.4,1218.4 1231.8,1219.2 1233.3,1220.8 1234.7,1218.3 1236.2,1219 1237.6,1220.1 1239,1218.2 1240.5,1221.7 1241.9,1221.7 1243.3,1221.5 1244.8,1218.9 1246.2,1219.2 1247.7,1222.8 1249.1,1223.1 1250.5,1221.8 1252,1221 1253.4,1220.2 1254.9,1221.8 1256.3,1220.7 1257.7,1220.6 1259.2,1220.5 1260.6,1220.8 1262,1218.8 1263.5,1222.8 1264.9,1221.3 1266.4,1219.6 1267.8,1218.8 1269.2,1219 1270.7,1218.9 1272.1,1221.2 1273.6,1220.5 1275,1220.6 1276.4,1219.9 1277.9,1219.6 1279.3,1218.4 1280.7,1221.8 1282.2,1218.8 1283.6,1211.6 1285.1,1219.9 1286.5,1216.4 1287.9,1222.9 1289.4,1220.9 1290.8,1222.9 1292.3,1223.6 1293.7,1223.5 1295.1,1222.8 1296.6,1217.2 1298,1220.1 1299.4,1219.2 1300.9,1219.1 1302.3,1221.6 1303.8,1217.3 1305.2,1222.1 1306.6,1218.6 1308.1,1216.3 1309.5,1219.3 1311,1221.7 1312.4,1219.2 1313.8,1221.4 1315.3,1218.7 1316.7,1223.8 1318.1,1220.1 1319.6,1219.1 1321,1219.7 1322.5,1220.4 1323.9,1215.4 1325.3,1218.9 1326.8,1220.7 1328.2,1218.9 1329.7,1220 1331.1,1220.1 1332.5,1220.7 1334,1220.4 1335.4,1220.5 1336.8,1219.1 1338.3,1219.8 1339.7,1219.4 1341.2,1218.5 1342.6,1219.5 1344,1219.1 1345.5,1219.1 1346.9,1220.2 1348.4,1219.7 1349.8,1218.1 1351.2,1218.4 1352.7,1216.9 1354.1,1220.2 1355.5,1221.1 1357,1219.3 1358.4,1218.4 1359.9,1218 1361.3,1219.8 1362.7,1220.7 1364.2,1220.8 1365.6,1217.5 1367.1,1220.1 1368.5,1216.5 1369.9,1220.6 1371.4,1220.2 1372.8,1220.4 1374.2,1218.2 1375.7,1217.2 1377.1,1217.7 1378.6,1219.5 1380,1216.6 1381.4,1221.5 1382.9,1218.3 1384.3,1218.6 1385.8,1221 1387.2,1219.2 1388.6,1221.1 1390.1,1222.2 1391.5,1219.1 1393,1222.1 1394.4,1222.2 1395.8,1219.8 1397.3,1220.1 1398.7,1220.5 1400.1,1220.6 1401.6,1221.5 1403,1220.1 1404.5,1221.6 1405.9,1221.1 1407.3,1222.7 1408.8,1219.8 1410.2,1219.4 1411.7,1219.6 1413.1,1220.2 1414.5,1221 1416,1217.6 1417.4,1220 1418.8,1220.5 1420.3,1219.7 1421.7,1221.8 1423.2,1222.2 1424.6,1218 1426,1220.3 1427.5,1221.3 1428.9,1219.3 1430.4,1222.1 1431.8,1223.2 1433.2,1223.8 1434.7,1220.1 1436.1,1218 1437.5,1222.5 1439,1220.5 1440.4,1222.6 1441.9,1217.6 1443.3,1219.2 1444.7,1217 1446.2,1219.3 1447.6,1221.1 1449.1,1221.5 1450.5,1220.3 1451.9,1219.3 1453.4,1219.7 1454.8,1216.8 1456.2,1219 1457.7,1220.5 1459.1,1218 1460.6,1220.7 1462,1220.2 1463.4,1222.6 1464.9,1217.2 1466.3,1221.7 1467.8,1221.3 1469.2,1219.2 1470.6,1220.7 1472.1,1221.7 1473.5,1221.6 1474.9,1220.7 1476.4,1220.3 1477.8,1223 1479.3,1221.2 1480.7,1220.2 1482.1,1220.8 1483.6,1220.9 1485,1221.2 1486.5,1219.5 1487.9,1220.8 1489.3,1218.9 1490.8,1222.1 1492.2,1220.1 1493.6,1218.5 1495.1,1215.5 1496.5,1219.9 1498,1218.6 1499.4,1222.8 1500.8,1217.1 1502.3,1220.5 1503.7,1218.9 1505.2,1220.8 1506.6,1220.3 1508,1222.8 1509.5,1218.8 1510.9,1221.2 1512.3,1218.8 1513.8,1221.2 1515.2,1219.1 1516.7,1218.1 1518.1,1220 1519.5,1220.5 1521,1217.3 1522.4,1221.6 1523.9,1222 1525.3,1221.2 1526.7,1218.4 1528.2,1217.9 1529.6,1220 1531,1220.4 1532.5,1219.9 1533.9,1217.7 1535.4,1215.8 1536.8,1218.8 1538.2,1219.8 1539.7,1217.4 1541.1,1217.5 1542.6,1218.5 1544,1218.8 1545.4,1219 1546.9,1221.4 1548.3,1221.4 1549.7,1220.3 1551.2,1219.5 1552.6,1220.9 1554.1,1217 1555.5,1220.1 1556.9,1220.4 1558.4,1216.9 1559.8,1220.6 1561.3,1217.3 1562.7,1212.8 1564.1,1217.9 1565.6,1222.2 1567,1219 1568.4,1217.7 1569.9,1222.1 1571.3,1219.3 1572.8,1221.4 1574.2,1219.4 1575.6,1220.6 1577.1,1220.1 1578.5,1219.8 1580,1221.8 1581.4,1217.8 1582.8,1220.2 1584.3,1220.6 1585.7,1219.7 1587.1,1219.5 1588.6,1221.3 1590,1219.3 1591.5,1220.4 1592.9,1222.9 1594.3,1216.9 1595.8,1223 1597.2,1219.9 1598.7,1222.4 1600.1,1219.6 1601.5,1222.1 1603,1221.5 1604.4,1217.1 1605.8,1220.6 1607.3,1221.2 1608.7,1221.9 1610.2,1223.8 1611.6,1219.3 1613,1221.2 1614.5,1217.5 1615.9,1218 1617.4,1221 1618.8,1222.3 1620.2,1220.7 1621.7,1219.7 1623.1,1217.8 1624.5,1217.5 1626,1216.8 1627.4,1219.3 1628.9,1220.6 1630.3,1218.4 1631.7,1221.2 1633.2,1219.6 1634.6,1220.3 1636.1,1221.1 1637.5,1221.8 1638.9,1222.2 1640.4,1221 1641.8,1220.4 1643.2,1219.8 1644.7,1221.1 1646.1,1222.4 1647.6,1221.7 1649,1219.8 1650.4,1220.4 1651.9,1220.6 1653.3,1219.3 1654.8,1220.3 1656.2,1220.2 1657.6,1220.6 1659.1,1220.1 1660.5,1221.1 1661.9,1218.5 1663.4,1219.7 1664.8,1220.6 1666.3,1219.4 1667.7,1219.3 1669.1,1218 1670.6,1218.7" fill="none" stroke="#800000" stroke-width="6.9" stroke-linejoin="bevel" stroke-linecap="butt"/>
<polyline points="232.8,509.5 233.8,515 234.7,520.4 235.7,525.8 236.6,531.2 237.6,536.6 238.6,541.9 239.5,547.3 240.5,552.6 241.4,557.9 242.4,563.2 243.3,568.5 244.3,573.9 245.3,579.7 246.2,585.7 247.2,591.7 248.1,597.6 249.1,603.1 250.1,608.1 251,612.4 252,615.8 252.9,618.4 253.9,620.9 254.9,623.3 255.8,625.5 256.8,627.4 257.7,628.8 258.7,629.7 259.7,630.1 260.6,629.6 261.6,628.5 262.5,626.7 263.5,624.4 264.4,621.6 265.4,618.6 266.4,615.4 267.3,612.2 268.3,608.8 269.2,604.7 270.2,600 271.2,594.8 272.1,589 273.1,582.8 274,576.1 275,569.1 276,561.7 276.9,554 277.9,546.1 278.8,538 279.8,529 280.8,519 281.7,508.1 282.7,496.5 283.6,484.3 284.6,471.6 285.5,458.6 286.5,445.4 287.5,432.1 288.4,419 289.4,406.1 290.3,393.5 291.3,381.2 292.3,368.8 293.2,356.4 294.2,343.9 295.1,331.3 296.1,318.6 297.1,305.7 298,292.7 299,279.4 299.9,265.8 300.9,251.6 301.8,237.1 302.8,222.5 303.8,208.2 304.7,194.6 305.7,181.2 306.6,165.9 307.6,151 308.6,139.7 309.5,135.2 310.5,139.4 311.4,150.2 312.4,164.9 313.4,180.6 314.3,195.4 315.3,211.5 316.2,229 317.2,247.9 318.2,268 319.1,289.1 320.1,311.1 321,336.5 322,364.3 322.9,392.1 323.9,417.3 324.9,439.3 325.8,460.5 326.8,480.3 327.7,497.5 328.7,511.2 329.7,522.9 330.6,534.4 331.6,545 332.5,554.1 333.5,561.1 334.5,565.4 335.4,566.3 336.4,565.4 337.3,563.3 338.3,560.3 339.2,556.6 340.2,552.5 341.2,548.3 342.1,544 343.1,540.1 344,535.9 345,531.2 346,526.1 346.9,520.9 347.9,515.9 348.8,511.4 349.8,507.5 350.8,504.6 351.7,502 352.7,499.5 353.6,497.1 354.6,495 355.6,493.2 356.5,492 357.5,491.3 358.4,491.4 359.4,492.9 360.3,495.7 361.3,499.5 362.3,503.9 363.2,508.8 364.2,513.9 365.1,520.8 366.1,529.4 367.1,539.2 368,549.9 369,561.2 369.9,572.7 370.9,585 371.9,598.5 372.8,613 373.8,628.5 374.7,644.8 375.7,662.2 376.7,683.1 377.6,706.6 378.6,729.7 379.5,749.5 380.5,764.2 381.4,776.9 382.4,788.6 383.4,799.3 384.3,809.2 385.3,818.3 386.2,826.7 387.2,834.6 388.2,842.1 389.1,849.1 390.1,855.9 391,862.3 392,868.4 393,874.2 393.9,879.7 394.9,885 395.8,889.9 396.8,894.6 397.7,899 398.7,903.2 399.7,907.2 400.6,911 401.6,914.8 402.5,918.4 403.5,921.9 404.5,925.2 405.4,928.4 406.4,931.4 407.3,934.2 408.3,936.8 409.3,939.2 410.2,941.4 411.2,943.4 412.1,945.4 413.1,947.4 414.1,949.4 415,951.3 416,953.1 416.9,954.8 417.9,956.2 418.8,957.5 419.8,958.6 420.8,959.3 421.7,959.8 422.7,959.9 423.6,959.8 424.6,959.6 425.6,959.2 426.5,958.8 427.5,958.3 428.4,957.8 429.4,957.2 430.4,956.6 431.3,956 432.3,955.4 433.2,954.8 434.2,954.3 435.1,953.7 436.1,953.1 437.1,952.3 438,951.6 439,950.8 439.9,950.1 440.9,949.5 441.9,948.9 442.8,948.5 443.8,948.2 444.7,948.2 445.7,948.3 446.7,948.7 447.6,949.3 448.6,950 449.5,951 450.5,952 451.5,953.2 452.4,954.5 453.4,955.8 454.3,957.3 455.3,958.8 456.2,960.4 457.2,962 458.2,963.6 459.1,965.6 460.1,967.9 461,970.5 462,973.4 463,976.5 463.9,979.8 464.9,983.3 465.8,986.9 466.8,990.6 467.8,994.4 468.7,998.1 469.7,1001.9 470.6,1005.9 471.6,1010.2 472.6,1014.8 473.5,1019.5 474.5,1024.5 475.4,1029.6 476.4,1034.7 477.3,1040 478.3,1045.2 479.3,1050.4 480.2,1055.5 481.2,1060.5 482.1,1065.3 483.1,1070 484.1,1074.4 485,1078.7 486,1083.1 486.9,1087.5 487.9,1091.8 488.9,1096.2 489.8,1100.5 490.8,1104.7 491.7,1108.8 492.7,1112.8 493.6,1116.7 494.6,1120.3 495.6,1123.7 496.5,1126.9 497.5,1129.8 498.4,1132.4 499.4,1134.8 500.4,1137.1 501.3,1139.3 502.3,1141.4 503.2,1143.4 504.2,1145.4 505.2,1147.2 506.1,1149 507.1,1150.7 508,1152.3 509,1153.8 510,1155.2 510.9,1156.5 511.9,1157.7 512.8,1158.9 513.8,1160 514.7,1161 515.7,1162.1 516.7,1163.2 517.6,1164.2 518.6,1165.3 519.5,1166.2 520.5,1167.2 521.5,1168 522.4,1168.8 523.4,1169.5 524.3,1170.1 525.3,1170.6 526.3,1170.9 527.2,1171.2 528.2,1171.2 529.1,1171.2 530.1,1171.2 531,1171.2 532,1171.2 533,1171.2 533.9,1171.2 534.9,1171.1 535.8,1171.1 536.8,1171.1 537.8,1171.1 538.7,1171 539.7,1171 540.6,1170.9 541.6,1170.9 542.6,1170.9 543.5,1170.8 544.5,1170.8 545.4,1170.7 546.4,1170.6 547.4,1170.6 548.3,1170.5 549.3,1170.5 550.2,1170.4 551.2,1170.3 552.1,1170.3 553.1,1170.2 554.1,1170.1 555,1170.1 556,1170 556.9,1169.9 557.9,1169.8 558.9,1169.7 559.8,1169.6 560.8,1169.5 561.7,1169.3 562.7,1169.1 563.7,1168.9 564.6,1168.7 565.6,1168.5 566.5,1168.2 567.5,1168 568.5,1167.7 569.4,1167.5 570.4,1167.2 571.3,1166.9 572.3,1166.7 573.2,1166.4 574.2,1166.1 575.2,1165.9 576.1,1165.6 577.1,1165.4 578,1165.1 579,1164.9 580,1164.7 580.9,1164.5 581.9,1164.3 582.8,1164.1 583.8,1163.9 584.8,1163.8 585.7,1163.7 586.7,1163.6 591.7,1179.4" fill="none" stroke="#800000" stroke-width="7.5" stroke-linejoin="round" stroke-linecap="round"/>
</g>
<rect x="1122" y="642" width="536.2" height="548" fill="#fff" stroke="#5a5a5a" stroke-width="3"/>
<line x1="1150.5" y1="686.9" x2="1269" y2="686.9" stroke="#000000" stroke-width="9.8" stroke-linecap="round"/>
<text x="1285" y="705.7" font-family='"Liberation Sans", Arial, Helvetica, sans-serif' font-size="55" font-weight="normal" text-anchor="start" fill="#000" stroke="#000" stroke-width="0.9">AD</text>
<line x1="1150.5" y1="753.4" x2="1269" y2="753.4" stroke="#ff0000" stroke-width="9.8" stroke-linecap="round"/>
<text x="1285" y="772.2" font-family='"Liberation Sans", Arial, Helvetica, sans-serif' font-size="55" font-weight="normal" text-anchor="start" fill="#000" stroke="#000" stroke-width="0.9">2.5mg/L DOX</text>
<line x1="1150.5" y1="821.6" x2="1269" y2="821.6" stroke="#0000ff" stroke-width="9.8" stroke-linecap="round"/>
<text x="1285" y="840.4" font-family='"Liberation Sans", Arial, Helvetica, sans-serif' font-size="55" font-weight="normal" text-anchor="start" fill="#000" stroke="#000" stroke-width="0.9">5mg/L DOX</text>
<line x1="1150.5" y1="888.5" x2="1269" y2="888.5" stroke="#008080" stroke-width="9.8" stroke-linecap="round"/>
<text x="1285" y="907.3" font-family='"Liberation Sans", Arial, Helvetica, sans-serif' font-size="55" font-weight="normal" text-anchor="start" fill="#000" stroke="#000" stroke-width="0.9">7.5mg/LDOX</text>
<line x1="1150.5" y1="956.8" x2="1269" y2="956.8" stroke="#ff00ff" stroke-width="9.8" stroke-linecap="round"/>
<text x="1285" y="975.6" font-family='"Liberation Sans", Arial, Helvetica, sans-serif' font-size="55" font-weight="normal" text-anchor="start" fill="#000" stroke="#000" stroke-width="0.9">10mg/L DOX</text>
<line x1="1150.5" y1="1024.1" x2="1269" y2="1024.1" stroke="#808000" stroke-width="9.8" stroke-linecap="round"/>
<text x="1285" y="1042.9" font-family='"Liberation Sans", Arial, Helvetica, sans-serif' font-size="55" font-weight="normal" text-anchor="start" fill="#000" stroke="#000" stroke-width="0.9">12.5mg/L DOX</text>
<line x1="1150.5" y1="1091.9" x2="1269" y2="1091.9" stroke="#000080" stroke-width="9.8" stroke-linecap="round"/>
<text x="1285" y="1110.7" font-family='"Liberation Sans", Arial, Helvetica, sans-serif' font-size="55" font-weight="normal" text-anchor="start" fill="#000" stroke="#000" stroke-width="0.9">15mg/L DOX</text>
<line x1="1150.5" y1="1159.2" x2="1269" y2="1159.2" stroke="#800000" stroke-width="9.8" stroke-linecap="round"/>
<text x="1285" y="1178" font-family='"Liberation Sans", Arial, Helvetica, sans-serif' font-size="55" font-weight="normal" text-anchor="start" fill="#000" stroke="#000" stroke-width="0.9">20mg/L DOX</text>
</g>
<text x="875.3" y="1501.2" font-family='"Liberation Serif", "DejaVu Serif", serif' font-size="75" text-anchor="middle" fill="#000">(<tspan font-weight="bold">a</tspan>)</text>
<g id="molecule-wrap" filter="url(#softA)">
<g id="molecule" stroke-linecap="round">
<path d="M449.1 217.4 L507.8 188 L566.5 217.4 L566.5 294.3 L507.8 324.5 L449.1 294.3 Z" fill="none" stroke="#181818" stroke-width="2.2" stroke-linejoin="round"/>
<path d="M566.5 217.4 L625.1 188 L683.8 217.4 L683.8 294.3 L625.1 324.5 L566.5 294.3 Z" fill="none" stroke="#181818" stroke-width="2.2" stroke-linejoin="round"/>
<path d="M683.8 217.4 L742.5 188 L801.2 217.4 L801.2 294.3 L742.5 324.5 L683.8 294.3 Z" fill="none" stroke="#181818" stroke-width="2.2" stroke-linejoin="round"/>
<path d="M801.2 217.4 L859.9 188 L918.5 217.4 L918.5 294.3 L859.9 324.5 L801.2 294.3 Z" fill="none" stroke="#181818" stroke-width="2.2" stroke-linejoin="round"/>
<line x1="508.6" y1="203.3" x2="548.3" y2="225.6" stroke="#3a3a3a" stroke-width="2.2" stroke-linecap="round"/>
<line x1="460.8" y1="233.5" x2="460.8" y2="277.5" stroke="#3a3a3a" stroke-width="2.2" stroke-linecap="round"/>
<line x1="508.6" y1="306.9" x2="548.3" y2="287.2" stroke="#3a3a3a" stroke-width="2.2" stroke-linecap="round"/>
<line x1="696.5" y1="233.5" x2="696.5" y2="277.5" stroke="#3a3a3a" stroke-width="2.2" stroke-linecap="round"/>
<line x1="742.5" y1="201.2" x2="780.7" y2="222.7" stroke="#3a3a3a" stroke-width="2.2" stroke-linecap="round"/>
<line x1="742.5" y1="306.9" x2="780.7" y2="287.8" stroke="#3a3a3a" stroke-width="2.2" stroke-linecap="round"/>
<line x1="620.7" y1="190.2" x2="620.7" y2="153.5" stroke="#181818" stroke-width="2.2" stroke-linecap="round"/>
<line x1="629.5" y1="190.2" x2="629.5" y2="153.5" stroke="#181818" stroke-width="2.2" stroke-linecap="round"/>
<line x1="620.7" y1="322.3" x2="620.7" y2="359" stroke="#181818" stroke-width="2.2" stroke-linecap="round"/>
<line x1="629.5" y1="322.3" x2="629.5" y2="359" stroke="#181818" stroke-width="2.2" stroke-linecap="round"/>
<line x1="742.5" y1="188" x2="742.5" y2="153.5" stroke="#181818" stroke-width="2.2" stroke-linecap="round"/>
<line x1="742.5" y1="324.5" x2="742.5" y2="359" stroke="#181818" stroke-width="2.2" stroke-linecap="round"/>
<line x1="507.8" y1="324.5" x2="507.8" y2="359" stroke="#181818" stroke-width="2.2" stroke-linecap="round"/>
<line x1="499" y1="384.7" x2="475.5" y2="406.7" stroke="#181818" stroke-width="2.2" stroke-linecap="round"/>
<line x1="918.5" y1="217.4" x2="973.7" y2="193.9" stroke="#181818" stroke-width="2.2" stroke-linecap="round"/>
<line x1="969.3" y1="192.5" x2="969.3" y2="160.5" stroke="#181818" stroke-width="2.2" stroke-linecap="round"/>
<line x1="978.1" y1="192.5" x2="978.1" y2="160.5" stroke="#181818" stroke-width="2.2" stroke-linecap="round"/>
<line x1="973.7" y1="193.9" x2="1032.4" y2="218.9" stroke="#181818" stroke-width="2.2" stroke-linecap="round"/>
<line x1="1032.4" y1="218.9" x2="1086.7" y2="196.3" stroke="#181818" stroke-width="2.2" stroke-linecap="round"/>
<line x1="922.3" y1="236.5" x2="934.1" y2="224.7" stroke="#484848" stroke-width="1.4" stroke-linecap="round"/>
<line x1="929.7" y1="245.3" x2="944.3" y2="229.1" stroke="#484848" stroke-width="1.4" stroke-linecap="round"/>
<line x1="938.5" y1="258.5" x2="960.5" y2="233.5" stroke="#484848" stroke-width="1.4" stroke-linecap="round"/>
<polygon points="859.9,324.5 910.6,327.4 910.6,342.1" fill="#000"/>
<line x1="859.9" y1="324.5" x2="858.2" y2="358.2" stroke="#404040" stroke-width="1.9" stroke-linecap="round"/>
<line x1="862.2" y1="398.6" x2="882.7" y2="375.2" stroke="#383838" stroke-width="1.4" stroke-linecap="round"/>
<line x1="873.9" y1="402.2" x2="888" y2="385.2" stroke="#383838" stroke-width="1.4" stroke-linecap="round"/>
<line x1="884.2" y1="405.7" x2="893" y2="394.8" stroke="#383838" stroke-width="1.4" stroke-linecap="round"/>
<line x1="895.9" y1="408.6" x2="897.4" y2="406.9" stroke="#383838" stroke-width="1.4" stroke-linecap="round"/>
<line x1="900.3" y1="415.4" x2="942.9" y2="396.4" stroke="#707070" stroke-width="1.3" stroke-linecap="round" stroke-dasharray="2 2"/>
<line x1="973.7" y1="396.4" x2="1014.8" y2="416.8" stroke="#707070" stroke-width="1.3" stroke-linecap="round" stroke-dasharray="2 2"/>
<line x1="1014.8" y1="416.8" x2="1014.8" y2="497.5" stroke="#9a9a9a" stroke-width="1.5" stroke-linecap="round"/>
<line x1="1014.8" y1="497.5" x2="962" y2="521" stroke="#707070" stroke-width="1.4" stroke-linecap="round" stroke-dasharray="2 2"/>
<line x1="962" y1="521" x2="901.8" y2="497.5" stroke="#707070" stroke-width="1.4" stroke-linecap="round" stroke-dasharray="2 2"/>
<line x1="901.8" y1="497.5" x2="900.3" y2="415.4" stroke="#8a8a8a" stroke-width="1.5" stroke-linecap="round"/>
<polygon points="1014.8,416.8 1063.2,393.4 1069.1,405.1" fill="#000"/>
<polygon points="1014.8,497.5 1069.1,500.5 1066.1,513.7" fill="#000"/>
<polygon points="962,521 956.1,573.9 970.8,573.9" fill="#000"/>
</g>
<text x="625.1" y="148" font-family='"Liberation Sans", Arial, Helvetica, sans-serif' font-size="27.5" font-weight="normal" text-anchor="middle" fill="#000" stroke="#000" stroke-width="0.3">O</text>
<text x="625.1" y="384.2" font-family='"Liberation Sans", Arial, Helvetica, sans-serif' font-size="27.5" font-weight="normal" text-anchor="middle" fill="#000" stroke="#000" stroke-width="0.3">O</text>
<text x="741.5" y="148" font-family='"Liberation Sans", Arial, Helvetica, sans-serif' font-size="27.5" font-weight="normal" text-anchor="middle" fill="#000" stroke="#000" stroke-width="0.3">OH</text>
<text x="735.6" y="384.2" font-family='"Liberation Sans", Arial, Helvetica, sans-serif' font-size="27.5" font-weight="normal" text-anchor="middle" fill="#000" stroke="#000" stroke-width="0.3">OH</text>
<text x="507.8" y="384.2" font-family='"Liberation Sans", Arial, Helvetica, sans-serif' font-size="27.5" font-weight="normal" text-anchor="middle" fill="#000" stroke="#000" stroke-width="0.3">O</text>
<text x="973.7" y="153.8" font-family='"Liberation Sans", Arial, Helvetica, sans-serif' font-size="27.5" font-weight="normal" text-anchor="middle" fill="#000" stroke="#000" stroke-width="0.3">O</text>
<text x="1114.5" y="209.6" font-family='"Liberation Sans", Arial, Helvetica, sans-serif' font-size="27.5" font-weight="normal" text-anchor="middle" fill="#000" stroke="#000" stroke-width="0.3">OH</text>
<text x="973.7" y="268.3" font-family='"Liberation Sans", Arial, Helvetica, sans-serif' font-size="27.5" font-weight="normal" text-anchor="middle" fill="#000" stroke="#000" stroke-width="0.3">OH</text>
<text x="922.3" y="349" font-family='"Liberation Sans", Arial, Helvetica, sans-serif' font-size="27.5" font-weight="normal" text-anchor="middle" fill="#000" stroke="#000" stroke-width="1.1">H</text>
<text x="860.7" y="384.2" font-family='"Liberation Sans", Arial, Helvetica, sans-serif' font-size="27.5" font-weight="normal" text-anchor="middle" fill="#000" stroke="#000" stroke-width="0.3">O</text>
<text x="960.5" y="397.3" font-family='"Liberation Sans", Arial, Helvetica, sans-serif' font-size="27.5" font-weight="normal" text-anchor="middle" fill="#000" stroke="#000" stroke-width="0.3">O</text>
<text x="1105.7" y="526.4" font-family='"Liberation Sans", Arial, Helvetica, sans-serif' font-size="27.5" font-weight="normal" text-anchor="middle" fill="#000" stroke="#000" stroke-width="0.3">OH</text>
<text x="945.8" y="608.8" font-family='"Liberation Sans", Arial, Helvetica, sans-serif' font-size="27.5" fill="#000" stroke="#000" stroke-width="0.3">NH<tspan font-size="19" dy="0">2</tspan></text>
</g>
<g id="panel-b">
<clipPath id="clipB"><rect x="201.8" y="1711.6" width="1430.2" height="1160.1"/></clipPath>
<line x1="202.1" y1="1709.4" x2="202.1" y2="2894.2" stroke="#000" stroke-width="4.4" stroke-linecap="butt"/>
<line x1="1631.7" y1="1709.4" x2="1631.7" y2="2894.2" stroke="#000" stroke-width="4.4" stroke-linecap="butt"/>
<line x1="190.6" y1="1711.6" x2="1633.9" y2="1711.6" stroke="#000" stroke-width="4.4" stroke-linecap="butt"/>
<line x1="202.1" y1="2871.7" x2="1633.9" y2="2871.7" stroke="#000" stroke-width="4.4" stroke-linecap="butt"/>
<line x1="321.2" y1="2871.7" x2="321.2" y2="2883.2" stroke="#000" stroke-width="4.4" stroke-linecap="butt"/>
<line x1="440.4" y1="2871.7" x2="440.4" y2="2894.2" stroke="#000" stroke-width="4.4" stroke-linecap="butt"/>
<line x1="559.5" y1="2871.7" x2="559.5" y2="2883.2" stroke="#000" stroke-width="4.4" stroke-linecap="butt"/>
<line x1="678.6" y1="2871.7" x2="678.6" y2="2894.2" stroke="#000" stroke-width="4.4" stroke-linecap="butt"/>
<line x1="797.8" y1="2871.7" x2="797.8" y2="2883.2" stroke="#000" stroke-width="4.4" stroke-linecap="butt"/>
<line x1="916.9" y1="2871.7" x2="916.9" y2="2894.2" stroke="#000" stroke-width="4.4" stroke-linecap="butt"/>
<line x1="1036" y1="2871.7" x2="1036" y2="2883.2" stroke="#000" stroke-width="4.4" stroke-linecap="butt"/>
<line x1="1155.2" y1="2871.7" x2="1155.2" y2="2894.2" stroke="#000" stroke-width="4.4" stroke-linecap="butt"/>
<line x1="1274.3" y1="2871.7" x2="1274.3" y2="2883.2" stroke="#000" stroke-width="4.4" stroke-linecap="butt"/>
<line x1="1393.4" y1="2871.7" x2="1393.4" y2="2894.2" stroke="#000" stroke-width="4.4" stroke-linecap="butt"/>
<line x1="1512.6" y1="2871.7" x2="1512.6" y2="2883.2" stroke="#000" stroke-width="4.4" stroke-linecap="butt"/>
<line x1="179.6" y1="2842.9" x2="202.1" y2="2842.9" stroke="#000" stroke-width="4.4" stroke-linecap="butt"/>
<line x1="190.6" y1="2767.5" x2="202.1" y2="2767.5" stroke="#000" stroke-width="4.4" stroke-linecap="butt"/>
<line x1="179.6" y1="2692.1" x2="202.1" y2="2692.1" stroke="#000" stroke-width="4.4" stroke-linecap="butt"/>
<line x1="190.6" y1="2616.8" x2="202.1" y2="2616.8" stroke="#000" stroke-width="4.4" stroke-linecap="butt"/>
<line x1="179.6" y1="2541.4" x2="202.1" y2="2541.4" stroke="#000" stroke-width="4.4" stroke-linecap="butt"/>
<line x1="190.6" y1="2466" x2="202.1" y2="2466" stroke="#000" stroke-width="4.4" stroke-linecap="butt"/>
<line x1="179.6" y1="2390.6" x2="202.1" y2="2390.6" stroke="#000" stroke-width="4.4" stroke-linecap="butt"/>
<line x1="190.6" y1="2315.2" x2="202.1" y2="2315.2" stroke="#000" stroke-width="4.4" stroke-linecap="butt"/>
<line x1="179.6" y1="2239.9" x2="202.1" y2="2239.9" stroke="#000" stroke-width="4.4" stroke-linecap="butt"/>
<line x1="190.6" y1="2164.5" x2="202.1" y2="2164.5" stroke="#000" stroke-width="4.4" stroke-linecap="butt"/>
<line x1="179.6" y1="2089.1" x2="202.1" y2="2089.1" stroke="#000" stroke-width="4.4" stroke-linecap="butt"/>
<line x1="190.6" y1="2013.7" x2="202.1" y2="2013.7" stroke="#000" stroke-width="4.4" stroke-linecap="butt"/>
<line x1="179.6" y1="1938.4" x2="202.1" y2="1938.4" stroke="#000" stroke-width="4.4" stroke-linecap="butt"/>
<line x1="190.6" y1="1863" x2="202.1" y2="1863" stroke="#000" stroke-width="4.4" stroke-linecap="butt"/>
<line x1="179.6" y1="1787.6" x2="202.1" y2="1787.6" stroke="#000" stroke-width="4.4" stroke-linecap="butt"/>
<text x="163.3" y="2855.6" font-family='"Liberation Sans", Arial, Helvetica, sans-serif' font-size="42.5" font-weight="bold" text-anchor="end" fill="#000">0.00</text>
<text x="163.3" y="2704.8" font-family='"Liberation Sans", Arial, Helvetica, sans-serif' font-size="42.5" font-weight="bold" text-anchor="end" fill="#000">0.05</text>
<text x="163.3" y="2554.1" font-family='"Liberation Sans", Arial, Helvetica, sans-serif' font-size="42.5" font-weight="bold" text-anchor="end" fill="#000">0.10</text>
<text x="163.3" y="2403.3" font-family='"Liberation Sans", Arial, Helvetica, sans-serif' font-size="42.5" font-weight="bold" text-anchor="end" fill="#000">0.15</text>
<text x="163.3" y="2252.6" font-family='"Liberation Sans", Arial, Helvetica, sans-serif' font-size="42.5" font-weight="bold" text-anchor="end" fill="#000">0.20</text>
<text x="163.3" y="2101.8" font-family='"Liberation Sans", Arial, Helvetica, sans-serif' font-size="42.5" font-weight="bold" text-anchor="end" fill="#000">0.25</text>
<text x="163.3" y="1951.1" font-family='"Liberation Sans", Arial, Helvetica, sans-serif' font-size="42.5" font-weight="bold" text-anchor="end" fill="#000">0.30</text>
<text x="163.3" y="1800.3" font-family='"Liberation Sans", Arial, Helvetica, sans-serif' font-size="42.5" font-weight="bold" text-anchor="end" fill="#000">0.35</text>
<text x="201.4" y="2941.9" font-family='"Liberation Sans", Arial, Helvetica, sans-serif' font-size="42.5" font-weight="bold" text-anchor="middle" fill="#000">200</text>
<text x="439.7" y="2941.9" font-family='"Liberation Sans", Arial, Helvetica, sans-serif' font-size="42.5" font-weight="bold" text-anchor="middle" fill="#000">300</text>
<text x="677.9" y="2941.9" font-family='"Liberation Sans", Arial, Helvetica, sans-serif' font-size="42.5" font-weight="bold" text-anchor="middle" fill="#000">400</text>
<text x="916.2" y="2941.9" font-family='"Liberation Sans", Arial, Helvetica, sans-serif' font-size="42.5" font-weight="bold" text-anchor="middle" fill="#000">500</text>
<text x="1154.5" y="2941.9" font-family='"Liberation Sans", Arial, Helvetica, sans-serif' font-size="42.5" font-weight="bold" text-anchor="middle" fill="#000">600</text>
<text x="1392.7" y="2941.9" font-family='"Liberation Sans", Arial, Helvetica, sans-serif' font-size="42.5" font-weight="bold" text-anchor="middle" fill="#000">700</text>
<text x="1631" y="2941.9" font-family='"Liberation Sans", Arial, Helvetica, sans-serif' font-size="42.5" font-weight="bold" text-anchor="middle" fill="#000">800</text>
<text x="916.4" y="3028.5" font-family='"Liberation Sans", Arial, Helvetica, sans-serif' font-size="52.8" font-weight="bold" text-anchor="middle" fill="#000">Wavelength (nm)</text>
<text transform="translate(53.4 2338.6) rotate(-90)" font-family='"Liberation Sans", Arial, Helvetica, sans-serif' font-size="53.5" font-weight="bold" text-anchor="middle" fill="#000">Absorbance (a.u.)</text>
<g clip-path="url(#clipB)">
<polyline points="202.1,2841.7 203.3,2842.4 204.5,2842.4 205.7,2842.5 206.9,2843.1 208.1,2842.9 209.2,2842.7 210.4,2842.3 211.6,2842.5 212.8,2842.6 214,2842.2 215.2,2842.2 216.4,2842.6 217.6,2842.6 218.8,2842.2 220,2841.7 221.2,2841.9 222.4,2842.2 223.5,2841.6 224.7,2841.4 225.9,2841.4 227.1,2841.4 228.3,2841.2 229.5,2841 230.7,2841.1 231.9,2841.2 233.1,2841.5 234.3,2842 235.5,2842.2 236.6,2842.3 237.8,2842.6 239,2842.5 240.2,2842.4 241.4,2842.3 242.6,2842.1 243.8,2841.7 245,2842 246.2,2841.6 247.4,2841.7 248.6,2842 249.8,2842.1 250.9,2842.4 252.1,2841.8 253.3,2842.4 254.5,2842.3 255.7,2841.9 256.9,2842.3 258.1,2842.6 259.3,2842.7 260.5,2842.3 261.7,2842.1 262.9,2842 264,2841.5 265.2,2841.1 266.4,2841 267.6,2841.4 268.8,2841.7 270,2841.7 271.2,2842.2 272.4,2841.9 273.6,2842.4 274.8,2842.2 276,2841.6 277.2,2841.9 278.3,2841.7 279.5,2841.6 280.7,2841.7 281.9,2841.8 283.1,2842.2 284.3,2841.9 285.5,2841.6 286.7,2841.9 287.9,2841.3 289.1,2840.9 290.3,2840.9 291.4,2841.2 292.6,2841.5 293.8,2842.1 295,2842.2 296.2,2843 297.4,2842.9 298.6,2842.3 299.8,2842.3 301,2842 302.2,2842.3 303.4,2841.7 304.6,2842.1 305.7,2842.6 306.9,2842.5 308.1,2842.4 309.3,2841.9 310.5,2842.4 311.7,2842.1 312.9,2842 314.1,2841.7 315.3,2841.9 316.5,2842 317.7,2841.6 318.9,2841.4 320,2841.5 321.2,2842.1 322.4,2841.9 323.6,2842 324.8,2842.1 326,2842.3 327.2,2841.9 328.4,2841 329.6,2840.8 330.8,2840.5 332,2841 333.1,2841.5 334.3,2841.8 335.5,2842.4 336.7,2842.2 337.9,2842.6 339.1,2842.1 340.3,2841.4 341.5,2841.6 342.7,2841.9 343.9,2842 345.1,2842.1 346.3,2841.6 347.4,2842.1 348.6,2842.1 349.8,2841.8 351,2841.9 352.2,2841.5 353.4,2841.9 354.6,2841.7 355.8,2841.7 357,2841.4 358.2,2841.6 359.4,2842.1 360.5,2841.8 361.7,2841.5 362.9,2841.5 364.1,2841.8 365.3,2841.6 366.5,2842 367.7,2842.1 368.9,2842.2 370.1,2842.2 371.3,2842.4 372.5,2842.5 373.7,2842 374.8,2842.2 376,2842.4 377.2,2842.3 378.4,2841.7 379.6,2841.7 380.8,2842 382,2842.3 383.2,2842.4 384.4,2842.4 385.6,2842.5 386.8,2842.2 387.9,2842.4 389.1,2842.4 390.3,2842.2 391.5,2842.5 392.7,2842.6 393.9,2842.8 395.1,2842.4 396.3,2841.6 397.5,2841.2 398.7,2840.7 399.9,2840.7 401.1,2840.3 402.2,2840.6 403.4,2840.8 404.6,2841.3 405.8,2841.8 407,2842 408.2,2842.1 409.4,2841.9 410.6,2842.1 411.8,2842.3 413,2842.1 414.2,2842.3 415.3,2842.1 416.5,2842.2 417.7,2842.2 418.9,2842 420.1,2842.4 421.3,2842.4 422.5,2842.8 423.7,2842.3 424.9,2842.7 426.1,2842.8 427.3,2842.4 428.5,2842.5 429.6,2842.9 430.8,2843.4 432,2843.1 433.2,2843.1 434.4,2842.7 435.6,2842.3 436.8,2841.8 438,2841.3 439.2,2840.8 440.4,2841.1 441.6,2841.6 442.7,2841.3 443.9,2841.7 445.1,2842.3 446.3,2843.1 447.5,2843 448.7,2843.2 449.9,2843.5 451.1,2842.8 452.3,2842.2 453.5,2841.9 454.7,2842 455.9,2841.8 457,2841.9 458.2,2842.1 459.4,2842.5 460.6,2843 461.8,2842.4 463,2842.9 464.2,2843 465.4,2843 466.6,2842.9 467.8,2842 469,2842.7 470.2,2842.1 471.3,2841.8 472.5,2841.9 473.7,2841.9 474.9,2842.5 476.1,2841.8 477.3,2841.7 478.5,2842.1 479.7,2842.2 480.9,2842.4 482.1,2842.3 483.3,2842.2 484.4,2842.3 485.6,2841.7 486.8,2841.3 488,2841.2 489.2,2841.1 490.4,2841.6 491.6,2841.8 492.8,2842.4 494,2842.6 495.2,2842.8 496.4,2842.8 497.6,2842.5 498.7,2842.4 499.9,2842.2 501.1,2842 502.3,2841.3 503.5,2841.5 504.7,2841.6 505.9,2841.6 507.1,2841.6 508.3,2841.6 509.5,2841.8 510.7,2841.3 511.8,2840.8 513,2840.9 514.2,2840.8 515.4,2841.2 516.6,2841.1 517.8,2841.5 519,2841.7 520.2,2841.3 521.4,2841 522.6,2840.9 523.8,2841.4 525,2841.7 526.1,2841.6 527.3,2841.8 528.5,2842.3 529.7,2842.6 530.9,2842.5 532.1,2842.5 533.3,2842.7 534.5,2843 535.7,2842.9 536.9,2842.6 538.1,2842.5 539.2,2841.9 540.4,2841.9 541.6,2841.7 542.8,2841.6 544,2841.3 545.2,2841.3 546.4,2841 547.6,2841.4 548.8,2841.2 550,2841.2 551.2,2841.8 552.4,2842.4 553.5,2842.4 554.7,2842.5 555.9,2842.9 557.1,2842.9 558.3,2842.7 559.5,2842 560.7,2842.5 561.9,2842.6 563.1,2842.1 564.3,2842.4 565.5,2842.3 566.6,2842.2 567.8,2841.9 569,2841.6 570.2,2841.9 571.4,2841.7 572.6,2842.2 573.8,2842.5 575,2843.1 576.2,2843.3 577.4,2843.2 578.6,2843.2 579.8,2842.4 580.9,2841.8 582.1,2842 583.3,2841.7 584.5,2842 585.7,2841.8 586.9,2842.1 588.1,2842.3 589.3,2841.7 590.5,2841.6 591.7,2841.4 592.9,2842.2 594,2842.5 595.2,2842.9 596.4,2843.1 597.6,2843.6 598.8,2843.1 600,2842.5 601.2,2841.9 602.4,2841.8 603.6,2841.2 604.8,2841.3 606,2841.5 607.2,2841.8 608.3,2842 609.5,2841.6 610.7,2842.4 611.9,2842.3 613.1,2842.4 614.3,2842.1 615.5,2842.6 616.7,2842.7 617.9,2842.2 619.1,2841.7 620.3,2841.7 621.4,2841.9 622.6,2841.7 623.8,2841.6 625,2842 626.2,2842.4 627.4,2842.4 628.6,2841.8 629.8,2841.5 631,2842.2 632.2,2841.3 633.4,2841.3 634.6,2841.4 635.7,2841.7 636.9,2841.9 638.1,2841.8 639.3,2842.4 640.5,2842 641.7,2842.4 642.9,2843 644.1,2842.8 645.3,2842.5 646.5,2842.2 647.7,2842.1 648.9,2842 650,2841.3 651.2,2841.3 652.4,2841.1 653.6,2841 654.8,2841.7 656,2841.8 657.2,2841.9 658.4,2842.5 659.6,2842.5 660.8,2842.8 662,2842.7 663.1,2842.6 664.3,2842.2 665.5,2841.7 666.7,2842.1 667.9,2841.8 669.1,2841.7 670.3,2841.4 671.5,2841.4 672.7,2841.6 673.9,2841.3 675.1,2841.4 676.3,2841 677.4,2841 678.6,2841.4 679.8,2841.5 681,2841.5 682.2,2841.9 683.4,2842 684.6,2842.2 685.8,2842 687,2842 688.2,2842.3 689.4,2842.2 690.5,2842.1 691.7,2842.2 692.9,2842.4 694.1,2842.7 695.3,2842.5 696.5,2843.2 697.7,2843.1 698.9,2843.1 700.1,2843 701.3,2843 702.5,2843.2 703.7,2842.2 704.8,2842.6 706,2842.4 707.2,2842.1 708.4,2841.6 709.6,2841.8 710.8,2842.2 712,2842.4 713.2,2842.7 714.4,2843.6 715.6,2844.3 716.8,2844 717.9,2843.9 719.1,2843.5 720.3,2843.3 721.5,2842.4 722.7,2842.4 723.9,2842.5 725.1,2842.3 726.3,2842.5 727.5,2842.7 728.7,2842.9 729.9,2842.1 731.1,2841.5 732.2,2841.6 733.4,2841.6 734.6,2841.2 735.8,2841.4 737,2841.4 738.2,2841.9 739.4,2841.7 740.6,2842.3 741.8,2842.1 743,2841.7 744.2,2842 745.3,2841.6 746.5,2842.1 747.7,2841.6 748.9,2842.2 750.1,2842.6 751.3,2842.4 752.5,2843 753.7,2842.8 754.9,2842.9 756.1,2841.9 757.3,2842 758.5,2842.1 759.6,2841.6 760.8,2841.4 762,2841.3 763.2,2842.2 764.4,2842.4 765.6,2842 766.8,2842 768,2842.2 769.2,2842.5 770.4,2842.1 771.6,2842 772.7,2842.5 773.9,2842.4 775.1,2842.4 776.3,2842.1 777.5,2841.9 778.7,2841.9 779.9,2841.4 781.1,2841.7 782.3,2841.7 783.5,2841.5 784.7,2841.7 785.9,2841.4 787,2841.6 788.2,2841.5 789.4,2841.3 790.6,2841.3 791.8,2841.6 793,2841.9 794.2,2842.1 795.4,2841.8 796.6,2842.1 797.8,2842 799,2842 800.1,2842 801.3,2841.6 802.5,2842 803.7,2841.6 804.9,2842.3 806.1,2842 807.3,2842 808.5,2842.3 809.7,2842.6 810.9,2842.7 812.1,2842.8 813.3,2842.5 814.4,2842.5 815.6,2842.2 816.8,2841.9 818,2842.4 819.2,2841.9 820.4,2842.3 821.6,2842.2 822.8,2842.5 824,2842.3 825.2,2841.9 826.4,2841.5 827.6,2841.8 828.7,2842.1 829.9,2841.8 831.1,2841.8 832.3,2842 833.5,2842.4 834.7,2842 835.9,2841.8 837.1,2842.1 838.3,2842.5 839.5,2842.6 840.7,2842.6 841.8,2842.3 843,2842.5 844.2,2842.2 845.4,2841.5 846.6,2841.2 847.8,2840.5 849,2840.9 850.2,2840.2 851.4,2840.5 852.6,2841.2 853.8,2841.2 855,2841.3 856.1,2841.4 857.3,2841.7 858.5,2842 859.7,2841.9 860.9,2841.9 862.1,2842.4 863.3,2842.1 864.5,2841.9 865.7,2841.9 866.9,2841.9 868.1,2842 869.2,2841.3 870.4,2841.6 871.6,2842 872.8,2841.6 874,2840.9 875.2,2841 876.4,2841.7 877.6,2841.6 878.8,2841.3 880,2840.9 881.2,2841.7 882.4,2842 883.5,2841.8 884.7,2841.7 885.9,2842.5 887.1,2843.2 888.3,2842.6 889.5,2842.3 890.7,2842.2 891.9,2842.3 893.1,2841.6 894.3,2841.3 895.5,2841.5 896.6,2841 897.8,2841.3 899,2841.3 900.2,2841.2 901.4,2841.4 902.6,2841.6 903.8,2842.1 905,2842.2 906.2,2841.7 907.4,2841.9 908.6,2841.3 909.8,2841 910.9,2840.8 912.1,2840.6 913.3,2841 914.5,2841.2 915.7,2841.4 916.9,2841.8 918.1,2841.8 919.3,2841.6 920.5,2841.7 921.7,2841.8 922.9,2841.9 924,2841.5 925.2,2841.6 926.4,2841.7 927.6,2841.8 928.8,2841.6 930,2841.8 931.2,2842.3 932.4,2842.3 933.6,2842.2 934.8,2842 936,2842.3 937.2,2842.1 938.3,2841.6 939.5,2841.4 940.7,2841.1 941.9,2841.3 943.1,2840.9 944.3,2841.2 945.5,2841.1 946.7,2841 947.9,2841.2 949.1,2840.9 950.3,2841.3 951.4,2841.1 952.6,2841.6 953.8,2841.4 955,2841.2 956.2,2841.8 957.4,2842.3 958.6,2842.1 959.8,2842 961,2842.4 962.2,2843.1 963.4,2842.7 964.6,2842.2 965.7,2842.3 966.9,2842.2 968.1,2842 969.3,2841.9 970.5,2841.6 971.7,2841.4 972.9,2841.4 974.1,2841.7 975.3,2842.5 976.5,2842.1 977.7,2842.7 978.8,2842.8 980,2843 981.2,2842.9 982.4,2842.4 983.6,2843 984.8,2843 986,2842.7 987.2,2842.8 988.4,2842.4 989.6,2842.3 990.8,2841.5 992,2841.1 993.1,2841.8 994.3,2841.8 995.5,2842.1 996.7,2841.9 997.9,2842.2 999.1,2842.4 1000.3,2841.9 1001.5,2841.8 1002.7,2841.6 1003.9,2841.8 1005.1,2841.6 1006.3,2841.4 1007.4,2841.3 1008.6,2841.2 1009.8,2841.2 1011,2841.2 1012.2,2841.4 1013.4,2841.4 1014.6,2841.7 1015.8,2841.8 1017,2842 1018.2,2841.9 1019.4,2842.6 1020.5,2842.3 1021.7,2842.9 1022.9,2842.9 1024.1,2842.9 1025.3,2842.8 1026.5,2842.2 1027.7,2842.5 1028.9,2841.9 1030.1,2841.6 1031.3,2840.9 1032.5,2841 1033.7,2841.6 1034.8,2841.7 1036,2841.6 1037.2,2841 1038.4,2841.8 1039.6,2842 1040.8,2841.3 1042,2841.1 1043.2,2841.6 1044.4,2842.2 1045.6,2842.3 1046.8,2842.3 1047.9,2842.1 1049.1,2842.5 1050.3,2842.2 1051.5,2842.1 1052.7,2841.8 1053.9,2842 1055.1,2842.5 1056.3,2841.9 1057.5,2842.2 1058.7,2842.8 1059.9,2843.1 1061.1,2843.1 1062.2,2842.7 1063.4,2842.9 1064.6,2842.6 1065.8,2842.4 1067,2842.2 1068.2,2842.2 1069.4,2842.2 1070.6,2842 1071.8,2842.1 1073,2842 1074.2,2841.5 1075.3,2841 1076.5,2841.2 1077.7,2841.7 1078.9,2841.5 1080.1,2842.2 1081.3,2842.3 1082.5,2842.5 1083.7,2842.2 1084.9,2842.1 1086.1,2841.9 1087.3,2841.8 1088.5,2842.2 1089.6,2842 1090.8,2842.2 1092,2842.1 1093.2,2842.7 1094.4,2842 1095.6,2841.7 1096.8,2841.6 1098,2841.4 1099.2,2841.4 1100.4,2840.9 1101.6,2840.6 1102.7,2841 1103.9,2841.1 1105.1,2841.6 1106.3,2841 1107.5,2841.1 1108.7,2842 1109.9,2842 1111.1,2842.4 1112.3,2842.9 1113.5,2844 1114.7,2844.2 1115.9,2844.2 1117,2844.1 1118.2,2843.9 1119.4,2843.3 1120.6,2842.1 1121.8,2842.3 1123,2842.3 1124.2,2842.1 1125.4,2841.3 1126.6,2841.5 1127.8,2842.4 1129,2842.2 1130.1,2842 1131.3,2842.1 1132.5,2842.9 1133.7,2842.8 1134.9,2842.4 1136.1,2842.7 1137.3,2843 1138.5,2843.1 1139.7,2842.7 1140.9,2842.8 1142.1,2842.4 1143.3,2841.7 1144.4,2841.2 1145.6,2841.2 1146.8,2841.2 1148,2840.8 1149.2,2841 1150.4,2841.2 1151.6,2841.9 1152.8,2842.1 1154,2842.4 1155.2,2842.8 1156.4,2842.9 1157.5,2843.4 1158.7,2842.7 1159.9,2842.8 1161.1,2842.9 1162.3,2842.8 1163.5,2842.4 1164.7,2841.5 1165.9,2841.8 1167.1,2841.4 1168.3,2840.6 1169.5,2840.6 1170.7,2841.3 1171.8,2841.4 1173,2841.2 1174.2,2841.6 1175.4,2841.6 1176.6,2841.3 1177.8,2841 1179,2840.6 1180.2,2840.6 1181.4,2839.8 1182.6,2840.2 1183.8,2840.4 1185,2840.5 1186.1,2840.9 1187.3,2840.9 1188.5,2841.4 1189.7,2841.9 1190.9,2842.1 1192.1,2842.2 1193.3,2842.3 1194.5,2842.1 1195.7,2842.8 1196.9,2842.5 1198.1,2842.3 1199.2,2842.3 1200.4,2842.4 1201.6,2843 1202.8,2842.7 1204,2842.4 1205.2,2842.1 1206.4,2842.2 1207.6,2842.3 1208.8,2842.2 1210,2842.2 1211.2,2842.3 1212.4,2842.7 1213.5,2842.9 1214.7,2843 1215.9,2842.4 1217.1,2841.9 1218.3,2842 1219.5,2841.8 1220.7,2841.3 1221.9,2841 1223.1,2841.8 1224.3,2841.9 1225.5,2842.2 1226.6,2842.1 1227.8,2842.4 1229,2843.1 1230.2,2842.4 1231.4,2842.3 1232.6,2842.6 1233.8,2842.4 1235,2842.3 1236.2,2841.7 1237.4,2842 1238.6,2842 1239.8,2841.7 1240.9,2842.4 1242.1,2842.6 1243.3,2842.7 1244.5,2842.7 1245.7,2842.5 1246.9,2842.4 1248.1,2842.6 1249.3,2842.3 1250.5,2842.5 1251.7,2842.9 1252.9,2843.1 1254,2843.4 1255.2,2842.8 1256.4,2843.2 1257.6,2842.5 1258.8,2842.2 1260,2842.3 1261.2,2842.1 1262.4,2842.8 1263.6,2842.8 1264.8,2843.4 1266,2843.5 1267.2,2843.9 1268.3,2843.7 1269.5,2842.8 1270.7,2842.7 1271.9,2842.5 1273.1,2842.3 1274.3,2842 1275.5,2842.1 1276.7,2842.2 1277.9,2842 1279.1,2842.3 1280.3,2842.9 1281.4,2842.1 1282.6,2841.9 1283.8,2842.5 1285,2842.5 1286.2,2842 1287.4,2841.5 1288.6,2842.6 1289.8,2842.2 1291,2841.7 1292.2,2841.8 1293.4,2841.8 1294.6,2841.8 1295.7,2841.4 1296.9,2841.7 1298.1,2842.3 1299.3,2842 1300.5,2842.1 1301.7,2841.8 1302.9,2841.5 1304.1,2841.3 1305.3,2840.5 1306.5,2840.5 1307.7,2840.7 1308.8,2840.7 1310,2841 1311.2,2841.7 1312.4,2841.9 1313.6,2842.1 1314.8,2841.7 1316,2842.4 1317.2,2842.1 1318.4,2841.7 1319.6,2841.8 1320.8,2841.5 1322,2842 1323.1,2841.4 1324.3,2841.6 1325.5,2841.8 1326.7,2842.1 1327.9,2842.5 1329.1,2842.1 1330.3,2842.1 1331.5,2841.9 1332.7,2842.1 1333.9,2841.5 1335.1,2841.6 1336.2,2841.8 1337.4,2841.7 1338.6,2841.8 1339.8,2841.4 1341,2841.8 1342.2,2841.1 1343.4,2841 1344.6,2841.1 1345.8,2841.2 1347,2841.3 1348.2,2841.1 1349.4,2841.4 1350.5,2841.8 1351.7,2842 1352.9,2841.9 1354.1,2842 1355.3,2842.6 1356.5,2842.2 1357.7,2842 1358.9,2841.9 1360.1,2841.9 1361.3,2841.9 1362.5,2841.1 1363.7,2841.8 1364.8,2841.9 1366,2842.2 1367.2,2842.3 1368.4,2841.9 1369.6,2842.5 1370.8,2842.4 1372,2842.7 1373.2,2842.5 1374.4,2842.3 1375.6,2842.9 1376.8,2842.8 1377.9,2842.5 1379.1,2841.9 1380.3,2841.8 1381.5,2842.1 1382.7,2842.3 1383.9,2841.8 1385.1,2842.4 1386.3,2842.4 1387.5,2842.4 1388.7,2842.4 1389.9,2841.8 1391.1,2842.4 1392.2,2841.7 1393.4,2842.1 1394.6,2841.9 1395.8,2841.4 1397,2841.9 1398.2,2841.2 1399.4,2841.3 1400.6,2841.6 1401.8,2841.3 1403,2841.2 1404.2,2841 1405.3,2841.6 1406.5,2841.7 1407.7,2841.6 1408.9,2841.9 1410.1,2842.2 1411.3,2842.3 1412.5,2841.9 1413.7,2841.5 1414.9,2841.5 1416.1,2842 1417.3,2842.4 1418.5,2842.1 1419.6,2842.3 1420.8,2843.1 1422,2842.9 1423.2,2842.6 1424.4,2842 1425.6,2842.4 1426.8,2842.6 1428,2842.2 1429.2,2841.9 1430.4,2842 1431.6,2842.1 1432.7,2841.7 1433.9,2841.8 1435.1,2842.1 1436.3,2841.8 1437.5,2841.6 1438.7,2841.9 1439.9,2841.8 1441.1,2841.4 1442.3,2841.7 1443.5,2842.1 1444.7,2842.1 1445.9,2842.1 1447,2842.1 1448.2,2842.1 1449.4,2841.7 1450.6,2841.9 1451.8,2841.8 1453,2841.9 1454.2,2841.7 1455.4,2841.9 1456.6,2841.8 1457.8,2841.2 1459,2841.4 1460.1,2841.4 1461.3,2841.9 1462.5,2841.8 1463.7,2841.5 1464.9,2841.5 1466.1,2841.2 1467.3,2841.1 1468.5,2841 1469.7,2841.2 1470.9,2841.2 1472.1,2841.6 1473.3,2841.8 1474.4,2841.7 1475.6,2841.6 1476.8,2841.7 1478,2842.1 1479.2,2842.1 1480.4,2842.4 1481.6,2842.2 1482.8,2842.3 1484,2842.5 1485.2,2842.7 1486.4,2842.3 1487.5,2842.2 1488.7,2842.7 1489.9,2842.5 1491.1,2842.2 1492.3,2842.1 1493.5,2842.1 1494.7,2842.1 1495.9,2841.9 1497.1,2842.1 1498.3,2841.8 1499.5,2841.9 1500.7,2841.8 1501.8,2841.5 1503,2841.1 1504.2,2841.1 1505.4,2841.4 1506.6,2841.3 1507.8,2841.9 1509,2842 1510.2,2842.5 1511.4,2842.3 1512.6,2842.1 1513.8,2842.2 1514.9,2841.7 1516.1,2841.8 1517.3,2841.7 1518.5,2841.6 1519.7,2841.3 1520.9,2841.2 1522.1,2841.5 1523.3,2841.1 1524.5,2840.9 1525.7,2841.1 1526.9,2841.2 1528.1,2841.6 1529.2,2841.6 1530.4,2842.3 1531.6,2842.8 1532.8,2843 1534,2843.1 1535.2,2842.3 1536.4,2842 1537.6,2841.6 1538.8,2841.5 1540,2841.1 1541.2,2841.2 1542.4,2841.9 1543.5,2842.1 1544.7,2842.1 1545.9,2842.2 1547.1,2842.5 1548.3,2842.2 1549.5,2841.8 1550.7,2841.8 1551.9,2842 1553.1,2842 1554.3,2842.1 1555.5,2842.8 1556.6,2842.8 1557.8,2843 1559,2842.7 1560.2,2842.5 1561.4,2842.2 1562.6,2842.3 1563.8,2842.2 1565,2841.9 1566.2,2841.9 1567.4,2842 1568.6,2842.3 1569.8,2841.9 1570.9,2842 1572.1,2842.3 1573.3,2842.3 1574.5,2842.5 1575.7,2842.9 1576.9,2843.1 1578.1,2842.9 1579.3,2843.4 1580.5,2843.2 1581.7,2842.8 1582.9,2842.2 1584,2842.3 1585.2,2842.4 1586.4,2841.3 1587.6,2841.2 1588.8,2841.1 1590,2841.3 1591.2,2841.1 1592.4,2840.8 1593.6,2841.4 1594.8,2842.1 1596,2842.3 1597.2,2842 1598.3,2842.2 1599.5,2842.5 1600.7,2842.2 1601.9,2842 1603.1,2842 1604.3,2842 1605.5,2841.5 1606.7,2842 1607.9,2841.7 1609.1,2841.6 1610.3,2841.5 1611.4,2841.8 1612.6,2842.1 1613.8,2842.3 1615,2842.8 1616.2,2842.8 1617.4,2842.7 1618.6,2842.8 1619.8,2843.3 1621,2843 1622.2,2843 1623.4,2842.8 1624.6,2843.4 1625.7,2843.2 1626.9,2842.5 1628.1,2842 1629.3,2842 1630.5,2842.3 1631.7,2841.8" fill="none" stroke="#000000" stroke-width="5" stroke-linejoin="round" stroke-linecap="butt"/>
<polyline points="202.1,1863 202.6,1944.1 203.1,2020.3 203.5,2082.9 204,2123.4 204.5,2148.1 205,2169.3 205.4,2187.5 205.9,2203.3 206.4,2217.3 206.9,2230.1 207.3,2242.2 207.8,2254.1 208.3,2266.3 208.8,2279.3 209.2,2292.2 209.7,2304.8 210.2,2317.2 210.7,2329.1 211.2,2340.5 211.6,2351.4 212.1,2359.8 212.6,2367.5 213.1,2374.5 213.5,2380.8 214,2386.9 214.5,2392.8 215,2398.5 215.4,2403.9 215.9,2409.1 216.4,2414.1 216.9,2418.8 217.3,2423.2 217.8,2427.3 218.3,2431.1 218.8,2434.6 219.3,2437.8 219.7,2440.7 220.2,2443.5 220.7,2446.3 221.2,2449 221.6,2451.6 222.1,2454.2 222.6,2456.5 223.1,2458.7 223.5,2460.7 224,2462.5 224.5,2464 225,2465.2 225.5,2466.1 225.9,2466.6 226.4,2466.2 226.9,2465.7 227.4,2465 227.8,2464.2 228.3,2463.3 228.8,2462.3 229.3,2461.1 229.7,2459.9 230.2,2458.6 230.7,2457.3 231.9,2453.8 233.1,2450.1 234.3,2446.3 235.5,2441.8 236.6,2436.6 237.8,2430.8 239,2424.8 240.2,2418.7 241.4,2412 242.6,2404.9 243.8,2397.4 245,2389.5 246.2,2381.3 247.4,2372.7 248.6,2363.7 249.8,2354.2 250.9,2344.4 252.1,2334.4 253.3,2324.2 254.5,2313.9 255.7,2303.5 256.9,2293.2 258.1,2282.3 259.3,2270.8 260.5,2259.2 261.7,2248 262.9,2237.7 264,2228.7 265.2,2219.9 266.4,2211.3 267.6,2204.8 268.8,2202.5 270,2207.8 271.2,2217.8 272.4,2229.5 273.6,2242.3 274.8,2258.5 276,2276.1 277.2,2292.9 278.3,2309.4 279.5,2326.3 280.7,2342.9 281.9,2358.9 283.1,2373.8 284.3,2388.3 285.5,2402.7 286.7,2415.3 287.9,2424.8 289.1,2432.2 290.3,2438.8 291.4,2443.5 292.6,2444.9 293.8,2443.4 295,2440.6 296.2,2437.3 297.4,2434.1 298.6,2430.8 299.8,2427.1 301,2423.2 302.2,2419 303.4,2414.9 304.6,2411 305.7,2407.2 306.9,2403.9 308.1,2400.7 309.3,2397.4 310.5,2394 311.7,2390.9 312.9,2388.2 314.1,2386.1 315.3,2384.8 316.5,2385.6 317.7,2389.4 318.9,2395.2 320,2402.2 321.2,2409.4 322.4,2417.6 323.6,2427.7 324.8,2439.2 326,2451.2 327.2,2463.1 328.4,2474.4 329.6,2485.7 330.8,2497.4 332,2509.3 333.1,2521.2 334.3,2532.9 335.5,2544.1 336.7,2554.6 337.9,2564.2 339.1,2572.6 340.3,2580.3 341.5,2587.7 342.7,2594.7 343.9,2601.4 345.1,2607.7 346.3,2613.7 347.4,2619.3 348.6,2624.5 349.8,2629.4 351,2633.9 352.2,2638 353.4,2642 354.6,2645.8 355.8,2649.4 357,2652.8 358.2,2656.1 359.4,2659.1 360.5,2661.9 361.7,2664.4 362.9,2666.7 364.1,2668.8 365.3,2670.8 366.5,2672.7 367.7,2674.7 368.9,2676.5 370.1,2678.3 371.3,2680 372.5,2681.6 373.7,2683 374.8,2684.3 376,2685.3 377.2,2686.1 378.4,2686.7 379.6,2687 380.8,2686.9 382,2686.7 383.2,2686.3 384.4,2685.8 385.6,2685.1 386.8,2684.5 387.9,2683.8 389.1,2683.1 390.3,2682.5 391.5,2681.9 392.7,2681.5 393.9,2681 395.1,2680.6 396.3,2680.1 397.5,2679.6 398.7,2679.1 399.9,2678.7 401.1,2678.3 402.2,2678 403.4,2677.8 404.6,2677.7 405.8,2677.7 407,2677.9 408.2,2678.4 409.4,2679.2 410.6,2680.2 411.8,2681.5 413,2682.8 414.2,2684.3 415.3,2685.7 416.5,2687.2 417.7,2688.7 418.9,2690.4 420.1,2692.3 421.3,2694.4 422.5,2696.6 423.7,2698.9 424.9,2701.3 426.1,2703.9 427.3,2706.7 428.5,2709.8 429.6,2713.3 430.8,2716.9 432,2720.7 433.2,2724.6 434.4,2728.3 435.6,2732 436.8,2735.5 438,2738.6 439.2,2742.1 440.4,2745.9 441.6,2749.5 442.7,2753.1 443.9,2756.6 445.1,2759.9 446.3,2763.1 447.5,2766.2 448.7,2769.1 449.9,2771.9 451.1,2774.5 452.3,2777 453.5,2779.3 454.7,2781.3 455.9,2783.1 457,2784.9 458.2,2786.7 459.4,2788.3 460.6,2789.9 461.8,2791.5 463,2792.9 464.2,2794.3 465.4,2795.5 466.6,2796.6 467.8,2797.7 469,2798.6 470.2,2799.3 471.3,2800 472.5,2800.6 473.7,2801.3 474.9,2801.9 476.1,2802.4 477.3,2803 478.5,2803.5 479.7,2804 480.9,2804.5 482.1,2805 483.3,2805.4 484.4,2805.8 485.6,2806.2 486.8,2806.5 488,2806.9 489.2,2807.2 490.4,2807.5 491.6,2807.8 492.8,2808.1 494,2808.4 495.2,2808.7 496.4,2808.9 497.6,2809.2 498.7,2809.5 499.9,2809.8 501.1,2810 502.3,2810.3 503.5,2810.5 504.7,2810.8 505.9,2811 507.1,2811.2 508.3,2811.1 509.5,2811 510.7,2810.9 511.8,2810.7 513,2810.8 514.2,2810.6 515.4,2810.2 516.6,2810.1 517.8,2809.9 519,2809.4 520.2,2809 521.4,2808.7 522.6,2809 523.8,2808.9 525,2808.6 526.1,2808.7 527.3,2808.4 528.5,2808.4 529.7,2807.6 530.9,2807.1 532.1,2806.4 533.3,2806.1 534.5,2806.2 535.7,2806.3 536.9,2806.6 538.1,2806.3 539.2,2806 540.4,2805.4 541.6,2805 542.8,2805 544,2805 545.2,2804.8 546.4,2804.6 547.6,2804.6 548.8,2804.4 550,2804.4 551.2,2804.2 552.4,2804.2 553.5,2803.8 554.7,2803.1 555.9,2802.8 557.1,2802.6 558.3,2802.7 559.5,2802.5 560.7,2802.4 561.9,2802 563.1,2802 564.3,2801.5 565.5,2801.2 566.6,2800.7 567.8,2800.9 569,2801 570.2,2800.8 571.4,2800.9 572.6,2800.8 573.8,2800.9 575,2800.3 576.2,2800 577.4,2799.5 578.6,2799.8 579.8,2799.2 580.9,2799.3 582.1,2798.5 583.3,2798.8 584.5,2798.4 585.7,2798.5 586.9,2798.1 588.1,2798.5 589.3,2798.1 590.5,2797.9 591.7,2797.7 592.9,2797.6 594,2797.4 595.2,2796.5 596.4,2796.4 597.6,2795.9 598.8,2795.5 600,2795.2 601.2,2794.4 602.4,2794.3 603.6,2793.8 604.8,2794.1 606,2794.2 607.2,2793.6 608.3,2793.1 609.5,2792.5 610.7,2792.2 611.9,2791.7 613.1,2791.3 614.3,2791.7 615.5,2792.1 616.7,2791.7 617.9,2791.4 619.1,2791.1 620.3,2791.1 621.4,2791.5 622.6,2791.6 623.8,2791.9 625,2791.8 626.2,2792 627.4,2792.6 628.6,2792.3 629.8,2792.4 631,2791.9 632.2,2791.6 633.4,2791.2 634.6,2791.1 635.7,2791.3 636.9,2790.8 638.1,2790.8 639.3,2790.8 640.5,2790.8 641.7,2790.7 642.9,2790.5 644.1,2790.4 645.3,2790.5 646.5,2790.3 647.7,2789.9 648.9,2789.9 650,2789.4 651.2,2789.3 652.4,2788.8 653.6,2788.3 654.8,2787.9 656,2787.7 657.2,2787.7 658.4,2787.4 659.6,2787.3 660.8,2787.1 662,2787.1 663.1,2786.3 664.3,2785.6 665.5,2785.5 666.7,2785.3 667.9,2785.8 669.1,2785.3 670.3,2784.8 671.5,2784.8 672.7,2784.2 673.9,2783.7 675.1,2783.4 676.3,2783.8 677.4,2783.7 678.6,2782.8 679.8,2781.8 681,2781.6 682.2,2780.9 683.4,2781 684.6,2780.4 685.8,2780.3 687,2779.6 688.2,2779.5 689.4,2779 690.5,2778 691.7,2777.2 692.9,2776.5 694.1,2776.2 695.3,2775.6 696.5,2774.9 697.7,2774.1 698.9,2773.3 700.1,2773.1 701.3,2772.2 702.5,2771.4 703.7,2770.3 704.8,2770 706,2769.4 707.2,2769 708.4,2768.2 709.6,2767.3 710.8,2765.9 712,2764.7 713.2,2764.1 714.4,2763.1 715.6,2762.6 716.8,2761.4 717.9,2761 719.1,2760 720.3,2759.4 721.5,2758.1 722.7,2757.4 723.9,2756.2 725.1,2755.4 726.3,2754 727.5,2752.9 728.7,2751.6 729.9,2750.7 731.1,2749.4 732.2,2748.2 733.4,2747.1 734.6,2745.9 735.8,2744.9 737,2743.5 738.2,2742.3 739.4,2740.8 740.6,2739.2 741.8,2738.1 743,2736.2 744.2,2735.2 745.3,2732.9 746.5,2731.4 747.7,2729.7 748.9,2728.1 750.1,2726.6 751.3,2724.8 752.5,2722.9 753.7,2720.8 754.9,2718.8 756.1,2717 757.3,2715.5 758.5,2714 759.6,2712.4 760.8,2710.9 762,2709 763.2,2707.3 764.4,2705.4 765.6,2703.8 766.8,2702.2 768,2700.5 769.2,2698.9 770.4,2698.1 771.6,2696.6 772.7,2695 773.9,2692.3 775.1,2690.9 776.3,2689.1 777.5,2687.8 778.7,2686.2 779.9,2685.1 781.1,2683.5 782.3,2682.3 783.5,2680.7 784.7,2680.2 785.9,2678.7 787,2677.5 788.2,2675.8 789.4,2675.2 790.6,2673.7 791.8,2672.5 793,2671.3 794.2,2670.1 795.4,2669.5 796.6,2668.1 797.8,2667.2 799,2665.7 800.1,2664.8 801.3,2663.9 802.5,2662.6 803.7,2661 804.9,2659.7 806.1,2658.7 807.3,2657.7 808.5,2656.1 809.7,2654.8 810.9,2653.5 812.1,2652.9 813.3,2652 814.4,2650.9 815.6,2649.7 816.8,2648.1 818,2646.8 819.2,2645.4 820.4,2644.3 821.6,2643.2 822.8,2642.3 824,2641.1 825.2,2640.8 826.4,2639 827.6,2638.5 828.7,2637 829.9,2636.5 831.1,2635.2 832.3,2634.5 833.5,2633.5 834.7,2633.1 835.9,2632 837.1,2631.6 838.3,2630.5 839.5,2630 840.7,2629.8 841.8,2629.7 843,2629.8 844.2,2629.3 845.4,2628.9 846.6,2628.3 847.8,2628 849,2627.9 850.2,2627.8 851.4,2627.5 852.6,2627.1 853.8,2626.7 855,2627 856.1,2627.2 857.3,2628 858.5,2628.1 859.7,2628.1 860.9,2627.6 862.1,2627.7 863.3,2627.8 864.5,2628.2 865.7,2628.1 866.9,2628.3 868.1,2628.6 869.2,2629.4 870.4,2629.9 871.6,2629.8 872.8,2629.4 874,2628.7 875.2,2628.8 876.4,2628.7 877.6,2629.4 878.8,2629.7 880,2629.9 881.2,2629.2 882.4,2628.8 883.5,2628.9 884.7,2629.1 885.9,2629.1 887.1,2628.9 888.3,2628.9 889.5,2629.2 890.7,2629.5 891.9,2629.6 893.1,2629.4 894.3,2629.4 895.5,2628.9 896.6,2628.7 897.8,2628.5 899,2628.6 900.2,2628.2 901.4,2628 902.6,2628.2 903.8,2628.5 905,2629.1 906.2,2629.7 907.4,2630.7 908.6,2630.9 909.8,2632 910.9,2632.6 912.1,2633.7 913.3,2634.3 914.5,2635.5 915.7,2636.2 916.9,2637.6 918.1,2639.2 919.3,2640.9 920.5,2642.4 921.7,2643.6 922.9,2645.3 924,2646.9 925.2,2648.7 926.4,2650.8 927.6,2653.1 928.8,2654.4 930,2656 931.2,2657.2 932.4,2659.9 933.6,2661.6 934.8,2663.9 936,2665.5 937.2,2667.7 938.3,2670.1 939.5,2673 940.7,2675.1 941.9,2676.7 943.1,2678 944.3,2679.7 945.5,2682.1 946.7,2684.5 947.9,2686.9 949.1,2688.3 950.3,2689.8 951.4,2691.6 952.6,2693.1 953.8,2694.8 955,2696 956.2,2697.9 957.4,2699.2 958.6,2700.7 959.8,2702.2 961,2703.9 962.2,2704.9 963.4,2705.7 964.6,2707.3 965.7,2709.1 966.9,2710.6 968.1,2711.3 969.3,2712.1 970.5,2713.4 971.7,2714.2 972.9,2715.2 974.1,2716.2 975.3,2717.6 976.5,2718.7 977.7,2719.7 978.8,2720.5 980,2721.5 981.2,2722.3 982.4,2723.4 983.6,2724.2 984.8,2725.4 986,2726.6 987.2,2728.2 988.4,2729 989.6,2730 990.8,2731.2 992,2733 993.1,2734.5 994.3,2736 995.5,2737.7 996.7,2739.8 997.9,2741.7 999.1,2743 1000.3,2744.7 1001.5,2746.7 1002.7,2749.3 1003.9,2751.7 1005.1,2754.1 1006.3,2756.9 1007.4,2759.5 1008.6,2761.9 1009.8,2763.7 1011,2766 1012.2,2769 1013.4,2771.3 1014.6,2774 1015.8,2775.5 1017,2777.9 1018.2,2779.9 1019.4,2782.3 1020.5,2784.8 1021.7,2786.8 1022.9,2789 1024.1,2790.2 1025.3,2792.3 1026.5,2794.1 1027.7,2795.8 1028.9,2797.5 1030.1,2799.1 1031.3,2801 1032.5,2802.6 1033.7,2803.9 1034.8,2805.5 1036,2806.7 1037.2,2808 1038.4,2808.7 1039.6,2810 1040.8,2811.4 1042,2812.6 1043.2,2813.8 1044.4,2814.4 1045.6,2816.1 1046.8,2817.1 1047.9,2817.7 1049.1,2817.6 1050.3,2818.5 1051.5,2819.5 1052.7,2820.3 1053.9,2820.3 1055.1,2821.3 1056.3,2822.3 1057.5,2823.1 1058.7,2823.6 1059.9,2823.9 1061.1,2824.6 1062.2,2824.7 1063.4,2825.1 1064.6,2825.1 1065.8,2825.6 1067,2825.9 1068.2,2826.3 1069.4,2826.5 1070.6,2826.5 1071.8,2827.1 1073,2827.5 1074.2,2828.1 1075.3,2828.2 1076.5,2828.3 1077.7,2828.7 1078.9,2829.5 1080.1,2829.9 1081.3,2830 1082.5,2830 1083.7,2830.4 1084.9,2830.5 1086.1,2830.6 1087.3,2831.1 1088.5,2831.3 1089.6,2831.6 1090.8,2831.4 1092,2831.6 1093.2,2831.7 1094.4,2831.9 1095.6,2831.9 1096.8,2832.2 1098,2832.2 1099.2,2832.6 1100.4,2832.6 1101.6,2832.8 1102.7,2832.6 1103.9,2833.1 1105.1,2833.3 1106.3,2833.6 1107.5,2833.8 1108.7,2834.3 1109.9,2834.8 1111.1,2834.7 1112.3,2834.5 1113.5,2834.1 1114.7,2834.6 1115.9,2835.2 1117,2835.6 1118.2,2835.6 1119.4,2835.4 1120.6,2835.5 1121.8,2835.4 1123,2835.8 1124.2,2835.6 1125.4,2836.3 1126.6,2836.5 1127.8,2836.8 1129,2836.5 1130.1,2836.4 1131.3,2836.7 1132.5,2837.3 1133.7,2837.5 1134.9,2837.5 1136.1,2837.4 1137.3,2837.5 1138.5,2837.9 1139.7,2837.8 1140.9,2837.7 1142.1,2837.7 1143.3,2838.1 1144.4,2838.2 1145.6,2837.8 1146.8,2837.9 1148,2838.5 1149.2,2839.2 1150.4,2839 1151.6,2838.9 1152.8,2838.6 1154,2838.3 1155.2,2838.5 1156.4,2838.5 1157.5,2839 1158.7,2838.9 1159.9,2838.7 1161.1,2838.7 1162.3,2838.7 1163.5,2838.4 1164.7,2838.5 1165.9,2838.8 1167.1,2839.2 1168.3,2839.2 1169.5,2839.1 1170.7,2839.1 1171.8,2838.7 1173,2838.9 1174.2,2839 1175.4,2839.6 1176.6,2839.1 1177.8,2839.3 1179,2838.7 1180.2,2838.5 1181.4,2837.9 1182.6,2838 1183.8,2838.8 1185,2838.7 1186.1,2838.9 1187.3,2838.2 1188.5,2838.7 1189.7,2838.7 1190.9,2838.5 1192.1,2838.8 1193.3,2839 1194.5,2839.4 1195.7,2838.8 1196.9,2839 1198.1,2838.7 1199.2,2839 1200.4,2838.3 1201.6,2838 1202.8,2837.8 1204,2837.7 1205.2,2837.9 1206.4,2838.1 1207.6,2838.3 1208.8,2838.6 1210,2838.5 1211.2,2838.6 1212.4,2838.7 1213.5,2838.8 1214.7,2838.6 1215.9,2838.8 1217.1,2838.6 1218.3,2838.5 1219.5,2838.5 1220.7,2838.9 1221.9,2839 1223.1,2838.9 1224.3,2838.6 1225.5,2838.6 1226.6,2838.4 1227.8,2838.4 1229,2838.6 1230.2,2838.9 1231.4,2838.9 1232.6,2838.8 1233.8,2838.4 1235,2838.1 1236.2,2837.7 1237.4,2837.8 1238.6,2837.7 1239.8,2838 1240.9,2838.2 1242.1,2838.4 1243.3,2838.4 1244.5,2838 1245.7,2837.9 1246.9,2838 1248.1,2838.3 1249.3,2838.5 1250.5,2838.4 1251.7,2838.1 1252.9,2837.8 1254,2837.8 1255.2,2837.8 1256.4,2837.6 1257.6,2837.7 1258.8,2837.9 1260,2838.5 1261.2,2838.5 1262.4,2838.3 1263.6,2838 1264.8,2837.7 1266,2838 1267.2,2838 1268.3,2838.3 1269.5,2838.4 1270.7,2838.1 1271.9,2838.3 1273.1,2838.2 1274.3,2838.8 1275.5,2838.5 1276.7,2837.9 1277.9,2837.7 1279.1,2838.2 1280.3,2838.6 1281.4,2838.4 1282.6,2838.2 1283.8,2838 1285,2838.2 1286.2,2837.6 1287.4,2837.6 1288.6,2837.1 1289.8,2837.7 1291,2837.5 1292.2,2837.4 1293.4,2837.4 1294.6,2837.6 1295.7,2837.7 1296.9,2837.5 1298.1,2837.7 1299.3,2838 1300.5,2837.9 1301.7,2837.7 1302.9,2837.7 1304.1,2837.7 1305.3,2838.3 1306.5,2838.1 1307.7,2838 1308.8,2837.3 1310,2837.4 1311.2,2837.5 1312.4,2837.7 1313.6,2837.6 1314.8,2837.8 1316,2838.2 1317.2,2838.3 1318.4,2838.4 1319.6,2838.5 1320.8,2838.1 1322,2838.2 1323.1,2837.9 1324.3,2838.3 1325.5,2838.3 1326.7,2838.1 1327.9,2838.4 1329.1,2837.6 1330.3,2838 1331.5,2837.8 1332.7,2838.2 1333.9,2837.9 1335.1,2837.7 1336.2,2837.4 1337.4,2837.1 1338.6,2836.5 1339.8,2836.9 1341,2837 1342.2,2837.3 1343.4,2837 1344.6,2837.5 1345.8,2837.1 1347,2836.8 1348.2,2836.9 1349.4,2837.1 1350.5,2837.2 1351.7,2836.8 1352.9,2836.9 1354.1,2837.1 1355.3,2837.2 1356.5,2837.2 1357.7,2837.3 1358.9,2837.5 1360.1,2838.1 1361.3,2837.7 1362.5,2837.6 1363.7,2837.3 1364.8,2837.6 1366,2837.2 1367.2,2837 1368.4,2837.1 1369.6,2836.9 1370.8,2836.9 1372,2836.6 1373.2,2837 1374.4,2837.1 1375.6,2837.3 1376.8,2837.2 1377.9,2837 1379.1,2836.8 1380.3,2836.9 1381.5,2837 1382.7,2836.9 1383.9,2836.6 1385.1,2836.2 1386.3,2836.4 1387.5,2836.9 1388.7,2837.2 1389.9,2837.1 1391.1,2836.8 1392.2,2836.7 1393.4,2836.8 1394.6,2836.8 1395.8,2837.5 1397,2837 1398.2,2837 1399.4,2836.5 1400.6,2836.8 1401.8,2836.9 1403,2837 1404.2,2836.9 1405.3,2836.9 1406.5,2836.9 1407.7,2836.9 1408.9,2836.8 1410.1,2836.6 1411.3,2836.8 1412.5,2836.7 1413.7,2837 1414.9,2836.7 1416.1,2836.6 1417.3,2836.6 1418.5,2836.8 1419.6,2837.5 1420.8,2837.3 1422,2837.7 1423.2,2837.6 1424.4,2837.6 1425.6,2837 1426.8,2836.6 1428,2836.7 1429.2,2837.1 1430.4,2837.2 1431.6,2836.6 1432.7,2836.2 1433.9,2836.5 1435.1,2837.2 1436.3,2837.8 1437.5,2837.4 1438.7,2837.3 1439.9,2837.3 1441.1,2837.5 1442.3,2837.5 1443.5,2837.4 1444.7,2837.5 1445.9,2837.2 1447,2837.2 1448.2,2837.2 1449.4,2837.7 1450.6,2837.6 1451.8,2837.2 1453,2836.7 1454.2,2836.8 1455.4,2837.3 1456.6,2837.1 1457.8,2837 1459,2837 1460.1,2837 1461.3,2837 1462.5,2837.1 1463.7,2837.3 1464.9,2837.5 1466.1,2837.4 1467.3,2837.7 1468.5,2837.3 1469.7,2837.3 1470.9,2836.7 1472.1,2836.6 1473.3,2836.5 1474.4,2836.8 1475.6,2837 1476.8,2837 1478,2837 1479.2,2836.8 1480.4,2836.6 1481.6,2836.6 1482.8,2836.8 1484,2837.1 1485.2,2837.5 1486.4,2836.9 1487.5,2837.3 1488.7,2837.1 1489.9,2837.5 1491.1,2837.3 1492.3,2837.3 1493.5,2837.2 1494.7,2837.3 1495.9,2837 1497.1,2837.3 1498.3,2837.1 1499.5,2836.9 1500.7,2836.6 1501.8,2836.5 1503,2837 1504.2,2837.1 1505.4,2837.2 1506.6,2836.8 1507.8,2836.8 1509,2836.9 1510.2,2837.4 1511.4,2837.4 1512.6,2837.5 1513.8,2837.5 1514.9,2838 1516.1,2838.2 1517.3,2837.6 1518.5,2837.3 1519.7,2836.4 1520.9,2836.7 1522.1,2836.6 1523.3,2837.3 1524.5,2837.4 1525.7,2837.4 1526.9,2837.4 1528.1,2837.2 1529.2,2837 1530.4,2836.7 1531.6,2836.8 1532.8,2837.5 1534,2837 1535.2,2836.8 1536.4,2836.7 1537.6,2837.6 1538.8,2837.9 1540,2837.9 1541.2,2837.6 1542.4,2837.7 1543.5,2837.4 1544.7,2837.5 1545.9,2837.4 1547.1,2837.7 1548.3,2837.6 1549.5,2837.4 1550.7,2837.4 1551.9,2837.8 1553.1,2837.8 1554.3,2838 1555.5,2837.9 1556.6,2837.8 1557.8,2837.1 1559,2837 1560.2,2837 1561.4,2837 1562.6,2837.2 1563.8,2837.4 1565,2837.6 1566.2,2837.1 1567.4,2837.2 1568.6,2837.6 1569.8,2837.7 1570.9,2837.1 1572.1,2837 1573.3,2837.2 1574.5,2837.3 1575.7,2837.2 1576.9,2837.6 1578.1,2837.8 1579.3,2837.5 1580.5,2837.4 1581.7,2837.2 1582.9,2837.4 1584,2837.6 1585.2,2837.8 1586.4,2838.1 1587.6,2837.4 1588.8,2837.3 1590,2836.6 1591.2,2837.3 1592.4,2837.4 1593.6,2837.4 1594.8,2836.8 1596,2836.7 1597.2,2836.9 1598.3,2837 1599.5,2837 1600.7,2836.6 1601.9,2837.2 1603.1,2837.6 1604.3,2838.2 1605.5,2837.7 1606.7,2837.4 1607.9,2837.4 1609.1,2837.4 1610.3,2837.4 1611.4,2837 1612.6,2837.2 1613.8,2837.4 1615,2837.7 1616.2,2836.9 1617.4,2837 1618.6,2837 1619.8,2837.5 1621,2837.5 1622.2,2837.3 1623.4,2837.4 1624.6,2837.4 1625.7,2837.6 1626.9,2837.5 1628.1,2837.5 1629.3,2837.7 1630.5,2837.5 1631.7,2837.4" fill="none" stroke="#ff0000" stroke-width="5" stroke-linejoin="round" stroke-linecap="butt"/>
<polyline points="202.1,1847.9 202.6,1929.7 203.1,2006.5 203.5,2069.6 204,2110.3 204.5,2135 205,2156 205.4,2174.1 205.9,2189.8 206.4,2203.6 206.9,2216.2 207.3,2228.1 207.8,2239.9 208.3,2252 208.8,2264.8 209.2,2277.6 209.7,2290.1 210.2,2302.3 210.7,2314.2 211.2,2325.5 211.6,2336.4 212.1,2344.2 212.6,2351.4 213.1,2358 213.5,2363.8 214,2369.4 214.5,2374.8 215,2380 215.4,2385 215.9,2389.8 216.4,2394.3 216.9,2398.5 217.3,2402.5 217.8,2406.2 218.3,2409.5 218.8,2412.5 219.3,2415.2 219.7,2417.6 220.2,2419.9 220.7,2422.3 221.2,2424.5 221.6,2426.7 222.1,2428.7 222.6,2430.6 223.1,2432.4 223.5,2433.9 224,2435.1 224.5,2436.1 225,2436.8 225.5,2437.1 225.9,2437.1 226.4,2437.1 226.9,2437.1 227.4,2436.8 227.8,2436.5 228.3,2436 228.8,2435.4 229.3,2434.7 229.7,2433.9 230.2,2433 230.7,2432.1 231.9,2429.5 233.1,2426.9 234.3,2424.2 235.5,2420.7 236.6,2416.5 237.8,2411.8 239,2406.9 240.2,2401.8 241.4,2396.3 242.6,2390.3 243.8,2383.9 245,2377.2 246.2,2370.3 247.4,2362.9 248.6,2355.1 249.8,2347 250.9,2338.6 252.1,2330 253.3,2321.3 254.5,2312.6 255.7,2303.9 256.9,2295.3 258.1,2286.1 259.3,2276.5 260.5,2266.8 261.7,2257.5 262.9,2249.2 264,2242.2 265.2,2235.4 266.4,2229 267.6,2224.6 268.8,2224.2 270,2228.7 271.2,2237.8 272.4,2248.6 273.6,2260.4 274.8,2275.6 276,2292.1 277.2,2307.9 278.3,2323.6 279.5,2339.5 280.7,2355.2 281.9,2370.4 283.1,2384.4 284.3,2398.2 285.5,2411.8 286.7,2423.8 287.9,2432.7 289.1,2439.6 290.3,2445.7 291.4,2449.9 292.6,2450.9 293.8,2450.1 295,2448.2 296.2,2445.7 297.4,2443.2 298.6,2440.8 299.8,2437.9 301,2434.8 302.2,2431.6 303.4,2428.4 304.6,2425.3 305.7,2422.5 306.9,2420.1 308.1,2417.8 309.3,2415.4 310.5,2413 311.7,2410.8 312.9,2409 314.1,2407.8 315.3,2407.4 316.5,2408.3 317.7,2411.6 318.9,2416.8 320,2423.1 321.2,2429.6 322.4,2437.2 323.6,2446.6 324.8,2457.2 326,2468.4 327.2,2479.5 328.4,2490 329.6,2500.6 330.8,2511.6 332,2522.8 333.1,2534 334.3,2545 335.5,2555.5 336.7,2565.4 337.9,2574.4 339.1,2582.4 340.3,2589.6 341.5,2596.5 342.7,2603.1 343.9,2609.3 345.1,2615.3 346.3,2620.9 347.4,2626.2 348.6,2631.1 349.8,2635.6 351,2639.8 352.2,2643.7 353.4,2647.4 354.6,2650.9 355.8,2654.3 357,2657.5 358.2,2660.5 359.4,2663.3 360.5,2665.9 361.7,2668.3 362.9,2670.4 364.1,2672.3 365.3,2674.1 366.5,2675.9 367.7,2677.6 368.9,2679.3 370.1,2681 371.3,2682.5 372.5,2683.9 373.7,2685.2 374.8,2686.3 376,2687.2 377.2,2687.9 378.4,2688.3 379.6,2688.5 380.8,2688.4 382,2688 383.2,2687.6 384.4,2687 385.6,2686.3 386.8,2685.6 387.9,2684.8 389.1,2684.1 390.3,2683.4 391.5,2682.8 392.7,2682.2 393.9,2681.7 395.1,2681.2 396.3,2680.6 397.5,2680.1 398.7,2679.6 399.9,2679.1 401.1,2678.6 402.2,2678.2 403.4,2677.9 404.6,2677.7 405.8,2677.7 407,2677.3 408.2,2677.2 409.4,2677.5 410.6,2678 411.8,2678.6 413,2679.4 414.2,2680.4 415.3,2681.3 416.5,2682.2 417.7,2683.3 418.9,2684.5 420.1,2685.9 421.3,2687.6 422.5,2689.4 423.7,2691.3 424.9,2693.4 426.1,2695.6 427.3,2698 428.5,2700.9 429.6,2704.2 430.8,2707.6 432,2711.3 433.2,2715 434.4,2718.7 435.6,2722.2 436.8,2725.6 438,2728.7 439.2,2732 440.4,2735.4 441.6,2738.9 442.7,2742.2 443.9,2745.4 445.1,2748.6 446.3,2751.6 447.5,2754.5 448.7,2757.3 449.9,2760 451.1,2762.5 452.3,2764.8 453.5,2767 454.7,2769 455.9,2771 457,2773 458.2,2774.9 459.4,2776.7 460.6,2778.4 461.8,2780.1 463,2781.7 464.2,2783.1 465.4,2784.5 466.6,2785.7 467.8,2786.8 469,2787.7 470.2,2788.6 471.3,2789.5 472.5,2790.3 473.7,2791.2 474.9,2792 476.1,2792.7 477.3,2793.5 478.5,2794.2 479.7,2794.9 480.9,2795.5 482.1,2796.1 483.3,2796.7 484.4,2797.3 485.6,2797.8 486.8,2798.3 488,2798.7 489.2,2799.1 490.4,2799.6 491.6,2800 492.8,2800.4 494,2800.8 495.2,2801.2 496.4,2801.6 497.6,2802 498.7,2802.4 499.9,2802.8 501.1,2803.2 502.3,2803.5 503.5,2803.9 504.7,2804.2 505.9,2804.6 507.1,2804.9 508.3,2804.9 509.5,2804.9 510.7,2804.8 511.8,2804.8 513,2804.6 514.2,2804.8 515.4,2804.6 516.6,2804.8 517.8,2804.3 519,2804.1 520.2,2804 521.4,2804 522.6,2803.7 523.8,2803.3 525,2803.3 526.1,2803.3 527.3,2803.6 528.5,2803.6 529.7,2803.2 530.9,2802.7 532.1,2802.5 533.3,2802.6 534.5,2803.1 535.7,2802.7 536.9,2802.5 538.1,2802.3 539.2,2802.5 540.4,2802.5 541.6,2801.6 542.8,2801.4 544,2800.9 545.2,2800.8 546.4,2800.6 547.6,2801 548.8,2801.5 550,2801.6 551.2,2801.1 552.4,2800.6 553.5,2800.8 554.7,2800.7 555.9,2800.9 557.1,2800.6 558.3,2800.4 559.5,2800.1 560.7,2800 561.9,2800.3 563.1,2800.3 564.3,2800 565.5,2799.8 566.6,2799.9 567.8,2799.8 569,2799.5 570.2,2799.5 571.4,2799.4 572.6,2799.7 573.8,2799.4 575,2799.3 576.2,2799.4 577.4,2799.3 578.6,2799 579.8,2798.4 580.9,2798.4 582.1,2798.9 583.3,2798.9 584.5,2798.6 585.7,2798.2 586.9,2798.8 588.1,2798.7 589.3,2799 590.5,2798.6 591.7,2798 592.9,2797.1 594,2796.5 595.2,2796.6 596.4,2796.5 597.6,2796.6 598.8,2795.8 600,2795.7 601.2,2795.6 602.4,2795.8 603.6,2795.1 604.8,2794.5 606,2794 607.2,2794.3 608.3,2794 609.5,2794 610.7,2793.7 611.9,2793.3 613.1,2792.7 614.3,2791.8 615.5,2791.5 616.7,2791.7 617.9,2792.3 619.1,2792.9 620.3,2792.9 621.4,2793.2 622.6,2793.2 623.8,2793.7 625,2793.3 626.2,2793.4 627.4,2792.9 628.6,2793.2 629.8,2792.5 631,2792.9 632.2,2792.5 633.4,2792.6 634.6,2792.2 635.7,2791.9 636.9,2792.1 638.1,2791.7 639.3,2791.7 640.5,2791.2 641.7,2791.6 642.9,2791.2 644.1,2791.5 645.3,2791.1 646.5,2790.9 647.7,2790.8 648.9,2790.6 650,2790.4 651.2,2790.3 652.4,2790 653.6,2789.7 654.8,2789.4 656,2788.8 657.2,2789.1 658.4,2788.6 659.6,2788.6 660.8,2788.4 662,2788 663.1,2788.1 664.3,2787.2 665.5,2786.8 666.7,2786.4 667.9,2786.4 669.1,2786.5 670.3,2786.4 671.5,2786.3 672.7,2786 673.9,2785.4 675.1,2784.7 676.3,2784.5 677.4,2784.3 678.6,2784.1 679.8,2783.5 681,2783.2 682.2,2782.9 683.4,2782.9 684.6,2782.4 685.8,2782.6 687,2782.4 688.2,2781.7 689.4,2780.9 690.5,2780.3 691.7,2779.9 692.9,2778.8 694.1,2777.8 695.3,2777.3 696.5,2777.2 697.7,2776.4 698.9,2775.6 700.1,2774.9 701.3,2774.8 702.5,2774.6 703.7,2773.9 704.8,2773.3 706,2772.8 707.2,2772.5 708.4,2772.1 709.6,2771.4 710.8,2770.5 712,2769.8 713.2,2769.2 714.4,2768.4 715.6,2767.5 716.8,2766.5 717.9,2766.2 719.1,2765.6 720.3,2764.8 721.5,2763.6 722.7,2762.3 723.9,2761.5 725.1,2760.4 726.3,2759.6 727.5,2758.9 728.7,2758.2 729.9,2756.9 731.1,2755.7 732.2,2754.5 733.4,2753.4 734.6,2752.7 735.8,2751.9 737,2751.2 738.2,2749.8 739.4,2748.9 740.6,2747.4 741.8,2746.5 743,2744.7 744.2,2743.7 745.3,2742 746.5,2740.6 747.7,2739.3 748.9,2737.6 750.1,2736.3 751.3,2734.9 752.5,2733.3 753.7,2732 754.9,2730.1 756.1,2729 757.3,2727.4 758.5,2725.8 759.6,2724.2 760.8,2722.8 762,2721.5 763.2,2720.2 764.4,2718.3 765.6,2717.2 766.8,2715.6 768,2714.6 769.2,2712.8 770.4,2711.7 771.6,2710.2 772.7,2708.7 773.9,2707.4 775.1,2706.2 776.3,2705 777.5,2703.6 778.7,2702.5 779.9,2701.3 781.1,2699.8 782.3,2699 783.5,2698.2 784.7,2697.9 785.9,2696.5 787,2695.1 788.2,2693.6 789.4,2692.8 790.6,2691.8 791.8,2690.7 793,2688.9 794.2,2687.7 795.4,2686.9 796.6,2686.2 797.8,2685.3 799,2683.7 800.1,2682.8 801.3,2682.2 802.5,2681.3 803.7,2680.3 804.9,2678.5 806.1,2677.2 807.3,2675.7 808.5,2675.1 809.7,2674.1 810.9,2673.3 812.1,2672.1 813.3,2671.1 814.4,2670.2 815.6,2668.9 816.8,2667.9 818,2666.5 819.2,2665.4 820.4,2664.3 821.6,2663.5 822.8,2662.5 824,2661.4 825.2,2660.5 826.4,2659.7 827.6,2659.6 828.7,2658.6 829.9,2657.9 831.1,2656.5 832.3,2656.1 833.5,2655.5 834.7,2654.6 835.9,2653.5 837.1,2653.2 838.3,2652.8 839.5,2652.1 840.7,2651.1 841.8,2650.6 843,2650.7 844.2,2650.6 845.4,2650.7 846.6,2650.5 847.8,2650.7 849,2650.6 850.2,2650.2 851.4,2649.8 852.6,2650.1 853.8,2650.2 855,2650.4 856.1,2649.9 857.3,2650.3 858.5,2649.8 859.7,2650 860.9,2649.7 862.1,2650.5 863.3,2650.6 864.5,2650.9 865.7,2650.8 866.9,2650.9 868.1,2651 869.2,2650.6 870.4,2650.4 871.6,2650.6 872.8,2650.2 874,2650 875.2,2649.7 876.4,2649.6 877.6,2649.6 878.8,2649.4 880,2649.7 881.2,2650.1 882.4,2649.7 883.5,2648.9 884.7,2648 885.9,2647.7 887.1,2647.3 888.3,2647.6 889.5,2647.3 890.7,2647.1 891.9,2646.6 893.1,2646.1 894.3,2646.4 895.5,2646.3 896.6,2646.9 897.8,2646.5 899,2646 900.2,2645.2 901.4,2645.1 902.6,2645 903.8,2645 905,2645.4 906.2,2645.7 907.4,2646 908.6,2645.5 909.8,2646.2 910.9,2646.9 912.1,2648.5 913.3,2649.4 914.5,2650.5 915.7,2650.7 916.9,2651.3 918.1,2652.1 919.3,2653.8 920.5,2655 921.7,2656.2 922.9,2657.3 924,2658.8 925.2,2660.4 926.4,2662 927.6,2663.3 928.8,2664.7 930,2666.4 931.2,2668.4 932.4,2670.1 933.6,2671.8 934.8,2673.3 936,2675.3 937.2,2677.5 938.3,2679.2 939.5,2681.2 940.7,2682.9 941.9,2685.1 943.1,2687.1 944.3,2688.8 945.5,2690.7 946.7,2692.1 947.9,2693.9 949.1,2695 950.3,2696.8 951.4,2697.9 952.6,2699.1 953.8,2700.2 955,2701.9 956.2,2703.9 957.4,2704.9 958.6,2706.5 959.8,2707.7 961,2709.3 962.2,2709.8 963.4,2710.9 964.6,2711.8 965.7,2713.1 966.9,2713.5 968.1,2714.2 969.3,2714.6 970.5,2715.1 971.7,2715.7 972.9,2716.8 974.1,2717.5 975.3,2718 976.5,2717.9 977.7,2718.7 978.8,2719.2 980,2720.1 981.2,2720.6 982.4,2721.3 983.6,2722.2 984.8,2723.2 986,2724.2 987.2,2724.7 988.4,2725.3 989.6,2726.2 990.8,2727.2 992,2728.2 993.1,2729.5 994.3,2730.5 995.5,2731.6 996.7,2732.5 997.9,2734.8 999.1,2736.6 1000.3,2739.1 1001.5,2740.9 1002.7,2743.4 1003.9,2745.1 1005.1,2747.2 1006.3,2749.4 1007.4,2751.9 1008.6,2754.4 1009.8,2756.7 1011,2758.9 1012.2,2760.8 1013.4,2762.8 1014.6,2764.8 1015.8,2766.9 1017,2769.2 1018.2,2771.8 1019.4,2774.3 1020.5,2776.7 1021.7,2778.6 1022.9,2780.6 1024.1,2782 1025.3,2784.4 1026.5,2786.6 1027.7,2788.3 1028.9,2790.3 1030.1,2792 1031.3,2794 1032.5,2795.3 1033.7,2796.8 1034.8,2798.3 1036,2800.2 1037.2,2802.2 1038.4,2803.9 1039.6,2805.2 1040.8,2806.1 1042,2807 1043.2,2808.4 1044.4,2809.7 1045.6,2811.3 1046.8,2812 1047.9,2813.2 1049.1,2813.9 1050.3,2814.9 1051.5,2814.9 1052.7,2815.5 1053.9,2815.9 1055.1,2816.4 1056.3,2816.7 1057.5,2817.3 1058.7,2818.6 1059.9,2819.4 1061.1,2820.5 1062.2,2820.6 1063.4,2820.9 1064.6,2820.6 1065.8,2821.1 1067,2821.5 1068.2,2822.4 1069.4,2822.6 1070.6,2822.8 1071.8,2822.8 1073,2823 1074.2,2823.6 1075.3,2823.9 1076.5,2824.3 1077.7,2824.8 1078.9,2825.2 1080.1,2825.3 1081.3,2825.3 1082.5,2825.6 1083.7,2826.2 1084.9,2826.4 1086.1,2826.7 1087.3,2826.8 1088.5,2827 1089.6,2826.8 1090.8,2827.1 1092,2827.5 1093.2,2827.8 1094.4,2828 1095.6,2827.7 1096.8,2827.8 1098,2827.9 1099.2,2828.7 1100.4,2828.9 1101.6,2829.1 1102.7,2829.4 1103.9,2829.9 1105.1,2830.2 1106.3,2829.9 1107.5,2830.3 1108.7,2830.4 1109.9,2830.7 1111.1,2830 1112.3,2830 1113.5,2830.2 1114.7,2830.8 1115.9,2831 1117,2831 1118.2,2831.2 1119.4,2831.3 1120.6,2831.2 1121.8,2831.4 1123,2831.5 1124.2,2831.6 1125.4,2831.9 1126.6,2832.1 1127.8,2832.8 1129,2832.6 1130.1,2832.5 1131.3,2832.4 1132.5,2832.7 1133.7,2833.1 1134.9,2833.3 1136.1,2833.1 1137.3,2833.1 1138.5,2833 1139.7,2832.9 1140.9,2833.1 1142.1,2833.2 1143.3,2833.5 1144.4,2833.5 1145.6,2834.5 1146.8,2835.1 1148,2835.1 1149.2,2835.1 1150.4,2834.6 1151.6,2835.1 1152.8,2834.7 1154,2835.3 1155.2,2835.3 1156.4,2835.3 1157.5,2835.5 1158.7,2835.5 1159.9,2835.7 1161.1,2835.3 1162.3,2835.5 1163.5,2834.9 1164.7,2834.7 1165.9,2834.8 1167.1,2835.6 1168.3,2836.1 1169.5,2835.8 1170.7,2835.4 1171.8,2835.2 1173,2835.1 1174.2,2835.3 1175.4,2835.7 1176.6,2836.1 1177.8,2836.2 1179,2836.2 1180.2,2835.5 1181.4,2835.5 1182.6,2835.1 1183.8,2835.4 1185,2835.6 1186.1,2836.2 1187.3,2836.4 1188.5,2836.2 1189.7,2836 1190.9,2835.7 1192.1,2835.9 1193.3,2836 1194.5,2836.2 1195.7,2835.7 1196.9,2835.4 1198.1,2835 1199.2,2835.6 1200.4,2835.6 1201.6,2835.9 1202.8,2835.2 1204,2835.6 1205.2,2835.6 1206.4,2836.4 1207.6,2836.6 1208.8,2836.5 1210,2836.2 1211.2,2836.2 1212.4,2836.1 1213.5,2836.3 1214.7,2836.1 1215.9,2835.9 1217.1,2835.7 1218.3,2835.5 1219.5,2835.5 1220.7,2835.7 1221.9,2836 1223.1,2836 1224.3,2835.7 1225.5,2836 1226.6,2836.5 1227.8,2837.1 1229,2837 1230.2,2836.5 1231.4,2836.4 1232.6,2836.3 1233.8,2836.5 1235,2836.4 1236.2,2836.3 1237.4,2836.3 1238.6,2836.8 1239.8,2836.8 1240.9,2837 1242.1,2836.8 1243.3,2836.5 1244.5,2836.3 1245.7,2836.3 1246.9,2836.3 1248.1,2836 1249.3,2835.9 1250.5,2836.4 1251.7,2836.4 1252.9,2836.6 1254,2836.6 1255.2,2836.9 1256.4,2837.1 1257.6,2837 1258.8,2837.4 1260,2837.5 1261.2,2837.3 1262.4,2837.6 1263.6,2837.3 1264.8,2837.3 1266,2836.6 1267.2,2836.7 1268.3,2837.2 1269.5,2837.4 1270.7,2837.2 1271.9,2836.7 1273.1,2836.7 1274.3,2837.3 1275.5,2837.7 1276.7,2838 1277.9,2837.5 1279.1,2837.3 1280.3,2837 1281.4,2837.2 1282.6,2837.7 1283.8,2837.8 1285,2837.6 1286.2,2837.4 1287.4,2837.5 1288.6,2838.1 1289.8,2838 1291,2837.7 1292.2,2837.9 1293.4,2837.7 1294.6,2838 1295.7,2837.1 1296.9,2837.3 1298.1,2837 1299.3,2837.9 1300.5,2837.6 1301.7,2837.7 1302.9,2837.4 1304.1,2837.3 1305.3,2837.3 1306.5,2837.3 1307.7,2837.3 1308.8,2837.4 1310,2837.2 1311.2,2837.7 1312.4,2837.8 1313.6,2837.6 1314.8,2837.4 1316,2836.9 1317.2,2837.1 1318.4,2837.1 1319.6,2837.3 1320.8,2837.6 1322,2837.7 1323.1,2837.8 1324.3,2838.1 1325.5,2838 1326.7,2838.4 1327.9,2837.9 1329.1,2838.2 1330.3,2837.7 1331.5,2837.5 1332.7,2837.4 1333.9,2837.6 1335.1,2838.2 1336.2,2838.3 1337.4,2838.4 1338.6,2837.6 1339.8,2837.3 1341,2837.2 1342.2,2837.6 1343.4,2837.2 1344.6,2837.5 1345.8,2837.9 1347,2838.4 1348.2,2838.3 1349.4,2837.8 1350.5,2837.8 1351.7,2837.6 1352.9,2838.1 1354.1,2837.9 1355.3,2838.4 1356.5,2838.1 1357.7,2838.3 1358.9,2837.9 1360.1,2837.4 1361.3,2837.8 1362.5,2838.1 1363.7,2838.4 1364.8,2838.1 1366,2838.1 1367.2,2838.2 1368.4,2837.8 1369.6,2838 1370.8,2837.8 1372,2838 1373.2,2837.8 1374.4,2838.2 1375.6,2838.1 1376.8,2838.1 1377.9,2837.4 1379.1,2837.2 1380.3,2837.1 1381.5,2837.7 1382.7,2838.1 1383.9,2837.9 1385.1,2838.2 1386.3,2838.2 1387.5,2838.3 1388.7,2838.1 1389.9,2838.2 1391.1,2837.8 1392.2,2837.9 1393.4,2837.8 1394.6,2838.7 1395.8,2838.4 1397,2838.1 1398.2,2837.2 1399.4,2837 1400.6,2837.1 1401.8,2837.7 1403,2837.7 1404.2,2837.9 1405.3,2837.7 1406.5,2838.3 1407.7,2838.1 1408.9,2838.6 1410.1,2838.4 1411.3,2838.9 1412.5,2838.9 1413.7,2838.5 1414.9,2838 1416.1,2838 1417.3,2838 1418.5,2838.6 1419.6,2838.4 1420.8,2838.9 1422,2838.3 1423.2,2838.1 1424.4,2837.9 1425.6,2838.2 1426.8,2838.5 1428,2838.2 1429.2,2838.1 1430.4,2837.5 1431.6,2837.7 1432.7,2837.7 1433.9,2838.3 1435.1,2838.7 1436.3,2838.5 1437.5,2838.4 1438.7,2837.9 1439.9,2838 1441.1,2838 1442.3,2838.3 1443.5,2838.2 1444.7,2837.9 1445.9,2837.6 1447,2838.1 1448.2,2838.2 1449.4,2838.6 1450.6,2837.9 1451.8,2838 1453,2837.8 1454.2,2838.4 1455.4,2838.5 1456.6,2838.4 1457.8,2838.5 1459,2838.3 1460.1,2838.3 1461.3,2838.2 1462.5,2838.3 1463.7,2838.3 1464.9,2838.3 1466.1,2838.5 1467.3,2839.1 1468.5,2839.4 1469.7,2839.2 1470.9,2838.4 1472.1,2838.3 1473.3,2838.3 1474.4,2838.8 1475.6,2838.5 1476.8,2838.2 1478,2838.1 1479.2,2838.3 1480.4,2838.2 1481.6,2838.1 1482.8,2838.3 1484,2838.8 1485.2,2838.6 1486.4,2838.5 1487.5,2838.5 1488.7,2838.3 1489.9,2838.5 1491.1,2838.2 1492.3,2838.6 1493.5,2838.2 1494.7,2838.2 1495.9,2838 1497.1,2838.3 1498.3,2838.9 1499.5,2839.2 1500.7,2838.9 1501.8,2839.1 1503,2838.8 1504.2,2839 1505.4,2838.5 1506.6,2838.6 1507.8,2838.2 1509,2838.5 1510.2,2837.9 1511.4,2838.3 1512.6,2838.3 1513.8,2839 1514.9,2838.7 1516.1,2838.7 1517.3,2838.2 1518.5,2838.6 1519.7,2838.8 1520.9,2838.7 1522.1,2838.4 1523.3,2838.2 1524.5,2838.3 1525.7,2839 1526.9,2838.7 1528.1,2839 1529.2,2838.5 1530.4,2838.7 1531.6,2838.6 1532.8,2838.7 1534,2838.8 1535.2,2838.9 1536.4,2838.8 1537.6,2838.5 1538.8,2838.4 1540,2838.6 1541.2,2838.8 1542.4,2839 1543.5,2838.4 1544.7,2838.7 1545.9,2838.5 1547.1,2839.2 1548.3,2838.8 1549.5,2839 1550.7,2838.7 1551.9,2839 1553.1,2838.7 1554.3,2838.4 1555.5,2838.2 1556.6,2838.2 1557.8,2838.4 1559,2839.2 1560.2,2839.6 1561.4,2839.6 1562.6,2839.1 1563.8,2839.1 1565,2839.7 1566.2,2839.7 1567.4,2839.1 1568.6,2838.8 1569.8,2838.4 1570.9,2838.9 1572.1,2838.6 1573.3,2838.7 1574.5,2838.8 1575.7,2839.1 1576.9,2839.4 1578.1,2839 1579.3,2839.2 1580.5,2839.1 1581.7,2839.4 1582.9,2838.7 1584,2838.9 1585.2,2838.7 1586.4,2839 1587.6,2838.5 1588.8,2838.3 1590,2838.7 1591.2,2838.6 1592.4,2838.9 1593.6,2838.5 1594.8,2839.4 1596,2839 1597.2,2839.1 1598.3,2838.5 1599.5,2839 1600.7,2838.7 1601.9,2839.4 1603.1,2839.3 1604.3,2839.8 1605.5,2839.2 1606.7,2838.9 1607.9,2838.9 1609.1,2838.9 1610.3,2839.5 1611.4,2839.1 1612.6,2839.1 1613.8,2838.6 1615,2838.4 1616.2,2838.8 1617.4,2839.5 1618.6,2840.1 1619.8,2839.6 1621,2839.3 1622.2,2839 1623.4,2839.1 1624.6,2839.2 1625.7,2839.3 1626.9,2839.6 1628.1,2839.5 1629.3,2839.6 1630.5,2839.4 1631.7,2839.1" fill="none" stroke="#0000ff" stroke-width="5" stroke-linejoin="round" stroke-linecap="butt"/>
<polyline points="202.1,1847.9 202.6,1926.7 203.1,2001 203.5,2061.9 204,2100.6 204.5,2123.1 205,2142.2 205.4,2158.3 205.9,2172.1 206.4,2184.1 206.9,2194.9 207.3,2204.9 207.8,2214.9 208.3,2225.4 208.8,2236.6 209.2,2248 209.7,2259.1 210.2,2270 210.7,2280.5 211.2,2290.6 211.6,2300.2 212.1,2308.2 212.6,2315.6 213.1,2322.3 213.5,2328.3 214,2334 214.5,2339.4 215,2344.7 215.4,2349.8 215.9,2354.6 216.4,2359.1 216.9,2363.4 217.3,2367.4 217.8,2371 218.3,2374.4 218.8,2377.3 219.3,2380 219.7,2382.2 220.2,2384.5 220.7,2386.7 221.2,2388.8 221.6,2390.9 222.1,2392.9 222.6,2394.6 223.1,2396.2 223.5,2397.6 224,2398.7 224.5,2399.5 225,2399.9 225.5,2400 225.9,2399.7 226.4,2399.8 226.9,2399.8 227.4,2399.6 227.8,2399.2 228.3,2398.7 228.8,2398.1 229.3,2397.3 229.7,2396.5 230.2,2395.6 230.7,2394.6 231.9,2392 233.1,2389.3 234.3,2386.4 235.5,2382.7 236.6,2378.3 237.8,2373.3 239,2368 240.2,2362.6 241.4,2356.7 242.6,2350.3 243.8,2343.5 245,2336.4 246.2,2328.9 247.4,2321.1 248.6,2312.8 249.8,2304.1 250.9,2295.1 252.1,2285.9 253.3,2276.6 254.5,2267.3 255.7,2258 256.9,2248.8 258.1,2239 259.3,2228.7 260.5,2218.4 261.7,2208.5 262.9,2199.7 264,2192.2 265.2,2185.2 266.4,2178.3 267.6,2173.7 268.8,2173.5 270,2178.1 271.2,2187.7 272.4,2199 273.6,2211.5 274.8,2227.7 276,2245.3 277.2,2262.2 278.3,2278.9 279.5,2295.9 280.7,2312.7 281.9,2328.9 283.1,2344 284.3,2358.8 285.5,2373.4 286.7,2386.2 287.9,2395.6 289.1,2403 290.3,2409.5 291.4,2413.8 292.6,2414.7 293.8,2414 295,2411.9 296.2,2409.3 297.4,2406.7 298.6,2404.2 299.8,2401.2 301,2397.9 302.2,2394.5 303.4,2391.1 304.6,2387.9 305.7,2384.9 306.9,2382.4 308.1,2380 309.3,2377.5 310.5,2375 311.7,2372.7 312.9,2370.9 314.1,2369.7 315.3,2369.4 316.5,2370.1 317.7,2373.4 318.9,2378.7 320,2385.2 321.2,2392 322.4,2399.9 323.6,2409.8 324.8,2421.1 326,2433.1 327.2,2445 328.4,2456.2 329.6,2467.5 330.8,2479.2 332,2491.3 333.1,2503.3 334.3,2515.1 335.5,2526.5 336.7,2537.1 337.9,2546.8 339.1,2555.4 340.3,2563.1 341.5,2570.5 342.7,2577.6 343.9,2584.4 345.1,2590.7 346.3,2596.8 347.4,2602.4 348.6,2607.7 349.8,2612.6 351,2617.1 352.2,2621.2 353.4,2625.2 354.6,2628.9 355.8,2632.5 357,2635.9 358.2,2639.1 359.4,2642.1 360.5,2644.9 361.7,2647.3 362.9,2649.6 364.1,2651.5 365.3,2653.4 366.5,2655.3 367.7,2657.1 368.9,2658.9 370.1,2660.6 371.3,2662.2 372.5,2663.6 373.7,2664.9 374.8,2666 376,2666.9 377.2,2667.5 378.4,2667.9 379.6,2668 380.8,2668 382,2667.8 383.2,2667.4 384.4,2666.9 385.6,2666.2 386.8,2665.6 387.9,2664.9 389.1,2664.2 390.3,2663.5 391.5,2662.9 392.7,2662.5 393.9,2662.1 395.1,2661.6 396.3,2661.1 397.5,2660.7 398.7,2660.2 399.9,2659.8 401.1,2659.4 402.2,2659.2 403.4,2659 404.6,2658.9 405.8,2659 407,2659 408.2,2659.4 409.4,2660.1 410.6,2661.1 411.8,2662.2 413,2663.6 414.2,2665 415.3,2666.4 416.5,2667.9 417.7,2669.4 418.9,2671.1 420.1,2673.1 421.3,2675.2 422.5,2677.5 423.7,2680 424.9,2682.6 426.1,2685.3 427.3,2688.3 428.5,2691.7 429.6,2695.5 430.8,2699.5 432,2703.7 433.2,2707.9 434.4,2712.1 435.6,2716.1 436.8,2719.9 438,2723.4 439.2,2726.8 440.4,2730.2 441.6,2733.5 442.7,2736.8 443.9,2740 445.1,2743.1 446.3,2746.1 447.5,2749 448.7,2751.7 449.9,2754.3 451.1,2756.8 452.3,2759.1 453.5,2761.3 454.7,2763.3 455.9,2765.3 457,2767.3 458.2,2769.3 459.4,2771.1 460.6,2772.9 461.8,2774.6 463,2776.2 464.2,2777.7 465.4,2779.1 466.6,2780.3 467.8,2781.4 469,2782.3 470.2,2783.1 471.3,2783.8 472.5,2784.5 473.7,2785.2 474.9,2785.9 476.1,2786.5 477.3,2787.2 478.5,2787.7 479.7,2788.3 480.9,2788.8 482.1,2789.2 483.3,2789.7 484.4,2790.1 485.6,2790.4 486.8,2790.8 488,2791.1 489.2,2791.3 490.4,2791.6 491.6,2791.9 492.8,2792.1 494,2792.4 495.2,2792.6 496.4,2792.9 497.6,2793.1 498.7,2793.3 499.9,2793.5 501.1,2793.7 502.3,2793.9 503.5,2794.1 504.7,2794.3 505.9,2794.5 507.1,2794.7 508.3,2794.7 509.5,2794.7 510.7,2794.6 511.8,2794.6 513,2794.1 514.2,2794.2 515.4,2794.3 516.6,2794.4 517.8,2794.2 519,2794.1 520.2,2794.1 521.4,2794.4 522.6,2794.5 523.8,2794.5 525,2794.1 526.1,2793.9 527.3,2793.1 528.5,2793.1 529.7,2792.6 530.9,2792.7 532.1,2792.5 533.3,2792.4 534.5,2792.5 535.7,2792.4 536.9,2792.2 538.1,2791.9 539.2,2791 540.4,2790.8 541.6,2791.1 542.8,2791.4 544,2791.9 545.2,2791.6 546.4,2792.3 547.6,2791.7 548.8,2791.5 550,2790.4 551.2,2790.3 552.4,2790.3 553.5,2790.5 554.7,2790.4 555.9,2790.4 557.1,2790.6 558.3,2790.7 559.5,2790.9 560.7,2791.1 561.9,2791 563.1,2790.5 564.3,2790.2 565.5,2789.6 566.6,2789.5 567.8,2789 569,2789.4 570.2,2789.4 571.4,2789.7 572.6,2790.1 573.8,2790 575,2790 576.2,2789.4 577.4,2789.6 578.6,2789.6 579.8,2789.7 580.9,2789.8 582.1,2789.7 583.3,2789.7 584.5,2789.3 585.7,2789.2 586.9,2789 588.1,2788.8 589.3,2788.1 590.5,2788.1 591.7,2788.1 592.9,2788.2 594,2787.9 595.2,2787.5 596.4,2787.1 597.6,2787.2 598.8,2786.8 600,2786.9 601.2,2786.1 602.4,2785.8 603.6,2785.3 604.8,2784.8 606,2784.7 607.2,2784.6 608.3,2784.3 609.5,2783.8 610.7,2783.6 611.9,2783.8 613.1,2783.6 614.3,2783.6 615.5,2782.9 616.7,2782.3 617.9,2781.9 619.1,2782.6 620.3,2783.3 621.4,2784.2 622.6,2784.3 623.8,2785 625,2784.7 626.2,2785.1 627.4,2785 628.6,2784.9 629.8,2784.8 631,2784.5 632.2,2784.7 633.4,2784.6 634.6,2784.5 635.7,2784.4 636.9,2784.3 638.1,2784.7 639.3,2784.7 640.5,2784.3 641.7,2784 642.9,2783.9 644.1,2784.2 645.3,2784.1 646.5,2783.5 647.7,2783.1 648.9,2782.9 650,2783.2 651.2,2782.7 652.4,2782.7 653.6,2782.3 654.8,2782.6 656,2782.1 657.2,2781.8 658.4,2781.4 659.6,2781.5 660.8,2781.5 662,2781.3 663.1,2781 664.3,2780.5 665.5,2780.2 666.7,2779.9 667.9,2780.3 669.1,2780.2 670.3,2780.1 671.5,2779.2 672.7,2779.1 673.9,2779.2 675.1,2779.5 676.3,2779.4 677.4,2779.2 678.6,2778.6 679.8,2777.8 681,2777.3 682.2,2777.1 683.4,2777 684.6,2776.5 685.8,2775.6 687,2775.2 688.2,2774.2 689.4,2774 690.5,2773.5 691.7,2773.2 692.9,2772.6 694.1,2772 695.3,2771.5 696.5,2770.5 697.7,2769.6 698.9,2769.3 700.1,2768.6 701.3,2767.8 702.5,2766.4 703.7,2765.2 704.8,2765 706,2764.4 707.2,2764.1 708.4,2763.3 709.6,2762.4 710.8,2761.8 712,2760.8 713.2,2759.8 714.4,2758.7 715.6,2757.8 716.8,2757.2 717.9,2756.8 719.1,2755 720.3,2754.3 721.5,2753 722.7,2752.6 723.9,2750.9 725.1,2749.8 726.3,2748.6 727.5,2747.6 728.7,2746.6 729.9,2745.3 731.1,2744 732.2,2742.3 733.4,2741.8 734.6,2740.9 735.8,2739.9 737,2738.1 738.2,2736.4 739.4,2735.2 740.6,2733.6 741.8,2732.6 743,2731.3 744.2,2730.3 745.3,2728.2 746.5,2726.1 747.7,2723.7 748.9,2722.1 750.1,2720.3 751.3,2719 752.5,2717 753.7,2715.3 754.9,2713.3 756.1,2711.5 757.3,2710.1 758.5,2708.4 759.6,2707.1 760.8,2705 762,2703.3 763.2,2701.4 764.4,2700.1 765.6,2698.5 766.8,2697.1 768,2695 769.2,2693.6 770.4,2691.5 771.6,2689.7 772.7,2687.3 773.9,2686.1 775.1,2685 776.3,2684.1 777.5,2682.4 778.7,2681.3 779.9,2680.2 781.1,2679 782.3,2677.2 783.5,2675.7 784.7,2674.3 785.9,2672.9 787,2671.5 788.2,2670.2 789.4,2669.4 790.6,2668.3 791.8,2667.3 793,2665.8 794.2,2665.1 795.4,2664.1 796.6,2663.4 797.8,2661.9 799,2660.8 800.1,2660.1 801.3,2659 802.5,2657.4 803.7,2655.9 804.9,2654.5 806.1,2653.4 807.3,2652 808.5,2651 809.7,2649.9 810.9,2648.4 812.1,2646.9 813.3,2645.6 814.4,2644.7 815.6,2643.6 816.8,2642.2 818,2640.7 819.2,2639.6 820.4,2638.8 821.6,2637.7 822.8,2636.5 824,2635.5 825.2,2635.1 826.4,2635.1 827.6,2634.6 828.7,2633.6 829.9,2632.1 831.1,2631.1 832.3,2630.4 833.5,2629.5 834.7,2628.7 835.9,2628.1 837.1,2627.9 838.3,2627.3 839.5,2626.8 840.7,2626.1 841.8,2626 843,2625.6 844.2,2625.5 845.4,2625.3 846.6,2625.5 847.8,2625.3 849,2625.3 850.2,2625.1 851.4,2625.2 852.6,2625.2 853.8,2625.1 855,2625.2 856.1,2624.8 857.3,2625.3 858.5,2625.3 859.7,2626.1 860.9,2626.2 862.1,2626.4 863.3,2626.2 864.5,2626.2 865.7,2626.1 866.9,2626.8 868.1,2626.8 869.2,2627.4 870.4,2627.5 871.6,2627.8 872.8,2627.8 874,2627.5 875.2,2627 876.4,2626.6 877.6,2626.3 878.8,2626.7 880,2627 881.2,2626.9 882.4,2626.5 883.5,2626.5 884.7,2626.8 885.9,2626.9 887.1,2626.6 888.3,2626.7 889.5,2626.7 890.7,2627 891.9,2626.2 893.1,2626.1 894.3,2625.9 895.5,2626.1 896.6,2625.8 897.8,2625.2 899,2625.4 900.2,2625.9 901.4,2626.3 902.6,2625.9 903.8,2625.7 905,2625.9 906.2,2626.8 907.4,2627.7 908.6,2628.3 909.8,2629 910.9,2629.5 912.1,2629.9 913.3,2631 914.5,2631.6 915.7,2633 916.9,2633.7 918.1,2635.3 919.3,2637.2 920.5,2639.4 921.7,2641.1 922.9,2642.5 924,2643.7 925.2,2645.8 926.4,2647.2 927.6,2649.3 928.8,2650.6 930,2652.3 931.2,2654.4 932.4,2656.6 933.6,2658.7 934.8,2660.4 936,2662.7 937.2,2665.1 938.3,2667.3 939.5,2669.3 940.7,2671.3 941.9,2673.1 943.1,2675 944.3,2677.5 945.5,2680 946.7,2681.8 947.9,2683.1 949.1,2684.7 950.3,2686.7 951.4,2689.1 952.6,2690.4 953.8,2691.9 955,2693.1 956.2,2694.8 957.4,2696.2 958.6,2697.3 959.8,2699 961,2700.4 962.2,2702.3 963.4,2703.3 964.6,2704.6 965.7,2705.6 966.9,2706.7 968.1,2707.2 969.3,2707.8 970.5,2708.3 971.7,2709.6 972.9,2710 974.1,2711.1 975.3,2711.3 976.5,2712 977.7,2711.6 978.8,2712.1 980,2713 981.2,2714.3 982.4,2715.1 983.6,2715.7 984.8,2716.5 986,2717.2 987.2,2718.1 988.4,2719.1 989.6,2720.2 990.8,2721.2 992,2722.4 993.1,2723.8 994.3,2725.1 995.5,2726.2 996.7,2727.4 997.9,2729 999.1,2731 1000.3,2733.1 1001.5,2735.4 1002.7,2737.5 1003.9,2739.5 1005.1,2742.1 1006.3,2745 1007.4,2747.8 1008.6,2750.1 1009.8,2752.1 1011,2754.4 1012.2,2756.7 1013.4,2759.4 1014.6,2761.7 1015.8,2764.1 1017,2766.2 1018.2,2768.8 1019.4,2771 1020.5,2773.3 1021.7,2775.4 1022.9,2777.8 1024.1,2779.6 1025.3,2782 1026.5,2783.6 1027.7,2785.5 1028.9,2787.5 1030.1,2789.6 1031.3,2791.1 1032.5,2792.5 1033.7,2793.9 1034.8,2795.7 1036,2797.4 1037.2,2799.4 1038.4,2801.1 1039.6,2802.6 1040.8,2803.5 1042,2805.1 1043.2,2805.8 1044.4,2807 1045.6,2807.3 1046.8,2809 1047.9,2809.7 1049.1,2810.9 1050.3,2811 1051.5,2812.1 1052.7,2812.4 1053.9,2813.1 1055.1,2813.9 1056.3,2815.1 1057.5,2816.2 1058.7,2816.6 1059.9,2816.9 1061.1,2817.5 1062.2,2818.1 1063.4,2818.6 1064.6,2818.7 1065.8,2819.2 1067,2819.5 1068.2,2819.9 1069.4,2819.8 1070.6,2820.3 1071.8,2820.5 1073,2820.7 1074.2,2820.8 1075.3,2821.3 1076.5,2821.8 1077.7,2822.2 1078.9,2822.5 1080.1,2822.7 1081.3,2822.9 1082.5,2823.2 1083.7,2823.7 1084.9,2823.8 1086.1,2823.8 1087.3,2823.8 1088.5,2824.3 1089.6,2824.7 1090.8,2825.2 1092,2824.9 1093.2,2824.9 1094.4,2825.1 1095.6,2825.6 1096.8,2826.4 1098,2826.4 1099.2,2826.4 1100.4,2826.1 1101.6,2826.7 1102.7,2827 1103.9,2827.3 1105.1,2827.3 1106.3,2827.5 1107.5,2827.9 1108.7,2828.1 1109.9,2828.8 1111.1,2828.6 1112.3,2828.2 1113.5,2828.1 1114.7,2828.2 1115.9,2828.8 1117,2828.7 1118.2,2828.7 1119.4,2829.2 1120.6,2829.1 1121.8,2829.6 1123,2829.4 1124.2,2830 1125.4,2830.1 1126.6,2830.1 1127.8,2829.8 1129,2830.3 1130.1,2830.3 1131.3,2830.4 1132.5,2830 1133.7,2830.2 1134.9,2830.6 1136.1,2830.5 1137.3,2830.7 1138.5,2830.8 1139.7,2831.1 1140.9,2831.1 1142.1,2830.7 1143.3,2830.9 1144.4,2831.8 1145.6,2832.3 1146.8,2832.5 1148,2832 1149.2,2832.3 1150.4,2832.1 1151.6,2832.1 1152.8,2832.3 1154,2832.5 1155.2,2832.8 1156.4,2832.7 1157.5,2832.7 1158.7,2832.4 1159.9,2832.7 1161.1,2832.4 1162.3,2832.9 1163.5,2832.5 1164.7,2832.2 1165.9,2832.1 1167.1,2831.9 1168.3,2832.4 1169.5,2832.5 1170.7,2832.5 1171.8,2833 1173,2832.7 1174.2,2833.1 1175.4,2832.6 1176.6,2832.6 1177.8,2832.5 1179,2832.7 1180.2,2832.7 1181.4,2833.1 1182.6,2832.9 1183.8,2832.9 1185,2832.7 1186.1,2832.9 1187.3,2833.1 1188.5,2832.7 1189.7,2832.7 1190.9,2832.9 1192.1,2833.3 1193.3,2833.6 1194.5,2834 1195.7,2833.6 1196.9,2833.1 1198.1,2832.6 1199.2,2833 1200.4,2833.1 1201.6,2833 1202.8,2832.9 1204,2833.1 1205.2,2833.7 1206.4,2833.6 1207.6,2833.4 1208.8,2832.9 1210,2832.7 1211.2,2833 1212.4,2833.3 1213.5,2833.8 1214.7,2834.1 1215.9,2834.1 1217.1,2833.9 1218.3,2833.6 1219.5,2833.9 1220.7,2833.7 1221.9,2834.2 1223.1,2834 1224.3,2834.2 1225.5,2833.7 1226.6,2833.8 1227.8,2833.8 1229,2833.9 1230.2,2834 1231.4,2833.7 1232.6,2833.9 1233.8,2833.8 1235,2833.8 1236.2,2833.7 1237.4,2833.7 1238.6,2833.8 1239.8,2833.7 1240.9,2833.7 1242.1,2833.6 1243.3,2833.9 1244.5,2833.5 1245.7,2833.6 1246.9,2833.5 1248.1,2833.9 1249.3,2834 1250.5,2834.5 1251.7,2834.7 1252.9,2834.6 1254,2834.3 1255.2,2833.9 1256.4,2834 1257.6,2834.1 1258.8,2834 1260,2834.5 1261.2,2834.3 1262.4,2834.6 1263.6,2834.8 1264.8,2834.5 1266,2834.8 1267.2,2834.6 1268.3,2834.8 1269.5,2834.7 1270.7,2834.4 1271.9,2834.7 1273.1,2834.6 1274.3,2834.9 1275.5,2834.9 1276.7,2834.8 1277.9,2834.5 1279.1,2834.6 1280.3,2834.4 1281.4,2834.5 1282.6,2834.2 1283.8,2834.5 1285,2834.8 1286.2,2834.4 1287.4,2834.4 1288.6,2833.8 1289.8,2834.2 1291,2834.1 1292.2,2834.5 1293.4,2834.8 1294.6,2834.5 1295.7,2834.6 1296.9,2834.4 1298.1,2834.7 1299.3,2834.6 1300.5,2834.9 1301.7,2835.1 1302.9,2834.8 1304.1,2834.5 1305.3,2834.1 1306.5,2834.5 1307.7,2834.9 1308.8,2835.2 1310,2834.8 1311.2,2834.8 1312.4,2834.8 1313.6,2834.9 1314.8,2834.7 1316,2834.6 1317.2,2834.5 1318.4,2834.8 1319.6,2834.5 1320.8,2834.7 1322,2834.8 1323.1,2834.8 1324.3,2835 1325.5,2834.8 1326.7,2835.2 1327.9,2834.7 1329.1,2834.6 1330.3,2834.1 1331.5,2834.4 1332.7,2834.8 1333.9,2834.8 1335.1,2834.4 1336.2,2834.1 1337.4,2834.5 1338.6,2834.9 1339.8,2835.2 1341,2835.4 1342.2,2835.7 1343.4,2835.3 1344.6,2835.2 1345.8,2834.7 1347,2834.4 1348.2,2834.2 1349.4,2834.4 1350.5,2835 1351.7,2834.8 1352.9,2835.4 1354.1,2835.7 1355.3,2836.4 1356.5,2835.5 1357.7,2835.5 1358.9,2835.1 1360.1,2835.2 1361.3,2834.7 1362.5,2835.2 1363.7,2835.5 1364.8,2835.5 1366,2834.9 1367.2,2835.1 1368.4,2835.2 1369.6,2835.1 1370.8,2834.9 1372,2835 1373.2,2835.1 1374.4,2835 1375.6,2834.5 1376.8,2834.3 1377.9,2834.8 1379.1,2835 1380.3,2835.6 1381.5,2835.3 1382.7,2834.8 1383.9,2834.4 1385.1,2834.3 1386.3,2835.1 1387.5,2835.3 1388.7,2835.2 1389.9,2834.9 1391.1,2834.7 1392.2,2834.3 1393.4,2834.9 1394.6,2834.8 1395.8,2835.6 1397,2835 1398.2,2835.2 1399.4,2835 1400.6,2835.3 1401.8,2835.5 1403,2835.3 1404.2,2835.6 1405.3,2835.2 1406.5,2835.2 1407.7,2834.9 1408.9,2835 1410.1,2834.9 1411.3,2834.5 1412.5,2834.5 1413.7,2834.6 1414.9,2835.4 1416.1,2835.7 1417.3,2835.8 1418.5,2835.5 1419.6,2835.5 1420.8,2835.6 1422,2835.1 1423.2,2834.6 1424.4,2835 1425.6,2835.3 1426.8,2835.8 1428,2835.1 1429.2,2835.3 1430.4,2835.1 1431.6,2835.2 1432.7,2835.3 1433.9,2835.6 1435.1,2836.1 1436.3,2835.8 1437.5,2835.7 1438.7,2835.4 1439.9,2835.3 1441.1,2835.1 1442.3,2834.8 1443.5,2835.2 1444.7,2834.9 1445.9,2835.1 1447,2834.7 1448.2,2834.5 1449.4,2834.4 1450.6,2834.6 1451.8,2835 1453,2835.1 1454.2,2835 1455.4,2835.1 1456.6,2835.1 1457.8,2834.9 1459,2835 1460.1,2835 1461.3,2835.4 1462.5,2835 1463.7,2835.2 1464.9,2834.9 1466.1,2834.9 1467.3,2835 1468.5,2835.4 1469.7,2835.5 1470.9,2835.2 1472.1,2834.9 1473.3,2834.6 1474.4,2834.9 1475.6,2835.1 1476.8,2835.3 1478,2834.6 1479.2,2834.6 1480.4,2834.5 1481.6,2834.8 1482.8,2835.1 1484,2835.4 1485.2,2835.7 1486.4,2835.4 1487.5,2835.1 1488.7,2835 1489.9,2835.3 1491.1,2835.7 1492.3,2836 1493.5,2836.5 1494.7,2836.8 1495.9,2836.6 1497.1,2836 1498.3,2835.9 1499.5,2836 1500.7,2836 1501.8,2835.8 1503,2835.4 1504.2,2835.3 1505.4,2835.7 1506.6,2835.8 1507.8,2835.6 1509,2834.7 1510.2,2834.7 1511.4,2835 1512.6,2835 1513.8,2835 1514.9,2835 1516.1,2835.2 1517.3,2835.6 1518.5,2835.4 1519.7,2835.9 1520.9,2835.7 1522.1,2835.3 1523.3,2835.2 1524.5,2835.3 1525.7,2835.8 1526.9,2835.6 1528.1,2835.8 1529.2,2835.9 1530.4,2836.1 1531.6,2836 1532.8,2836.1 1534,2835.8 1535.2,2835.5 1536.4,2834.8 1537.6,2834.9 1538.8,2835.3 1540,2836 1541.2,2836.2 1542.4,2836.4 1543.5,2836.2 1544.7,2836 1545.9,2835.6 1547.1,2835.5 1548.3,2835.8 1549.5,2835.5 1550.7,2835.4 1551.9,2835.1 1553.1,2834.6 1554.3,2834.8 1555.5,2834.7 1556.6,2835.2 1557.8,2835.2 1559,2835.5 1560.2,2835.8 1561.4,2835.8 1562.6,2835.5 1563.8,2835.5 1565,2835.8 1566.2,2835.8 1567.4,2835.6 1568.6,2835.3 1569.8,2835.8 1570.9,2835.7 1572.1,2835.6 1573.3,2835.5 1574.5,2835.4 1575.7,2835.3 1576.9,2835.2 1578.1,2835.4 1579.3,2835.4 1580.5,2835.7 1581.7,2835.5 1582.9,2835.7 1584,2835.5 1585.2,2836.1 1586.4,2836 1587.6,2835.9 1588.8,2835.8 1590,2835.9 1591.2,2835.6 1592.4,2835.2 1593.6,2835.2 1594.8,2835.3 1596,2835.6 1597.2,2835.2 1598.3,2835.5 1599.5,2835.4 1600.7,2835.5 1601.9,2835.4 1603.1,2835.6 1604.3,2835.3 1605.5,2835.4 1606.7,2835 1607.9,2835.5 1609.1,2835.6 1610.3,2835.8 1611.4,2836.1 1612.6,2836 1613.8,2836 1615,2836 1616.2,2836.1 1617.4,2836.2 1618.6,2835.8 1619.8,2835.3 1621,2835 1622.2,2835.1 1623.4,2835.8 1624.6,2836 1625.7,2836 1626.9,2835.6 1628.1,2835.6 1629.3,2835.9 1630.5,2835.7 1631.7,2835.7" fill="none" stroke="#ff00ff" stroke-width="5" stroke-linejoin="round" stroke-linecap="butt"/>
<polyline points="202.1,1847.9 202.6,1927.2 203.1,2001.9 203.5,2063.2 204,2102.2 204.5,2125.1 205,2144.5 205.4,2161 205.9,2175.1 206.4,2187.4 206.9,2198.4 207.3,2208.8 207.8,2219.1 208.3,2229.8 208.8,2241.3 209.2,2252.9 209.7,2264.3 210.2,2275.4 210.7,2286.1 211.2,2296.4 211.6,2306.2 212.1,2314.4 212.6,2322 213.1,2328.8 213.5,2334.9 214,2340.8 214.5,2346.4 215,2351.8 215.4,2357.1 215.9,2362 216.4,2366.7 216.9,2371.1 217.3,2375.2 217.8,2379.1 218.3,2382.5 218.8,2385.7 219.3,2388.4 219.7,2390.9 220.2,2393.3 220.7,2395.7 221.2,2398 221.6,2400.2 222.1,2402.3 222.6,2404.3 223.1,2406 223.5,2407.5 224,2408.8 224.5,2409.7 225,2410.4 225.5,2410.6 225.9,2410.5 226.4,2410.6 226.9,2410.5 227.4,2410.3 227.8,2409.9 228.3,2409.3 228.8,2408.7 229.3,2407.9 229.7,2407 230.2,2406.1 230.7,2405.1 231.9,2402.4 233.1,2399.6 234.3,2396.7 235.5,2392.9 236.6,2388.4 237.8,2383.4 239,2378.1 240.2,2372.7 241.4,2366.8 242.6,2360.4 243.8,2353.5 245,2346.4 246.2,2338.9 247.4,2331.1 248.6,2322.8 249.8,2314.1 250.9,2305.1 252.1,2295.9 253.3,2286.6 254.5,2277.3 255.7,2268 256.9,2258.7 258.1,2248.9 259.3,2238.6 260.5,2228.2 261.7,2218.3 262.9,2209.4 264,2201.9 265.2,2194.7 266.4,2187.7 267.6,2183 268.8,2182.6 270,2187.4 271.2,2197 272.4,2208.5 273.6,2221 274.8,2237.2 276,2254.8 277.2,2271.6 278.3,2288.2 279.5,2305.2 280.7,2321.9 281.9,2338.1 283.1,2353.1 284.3,2367.8 285.5,2382.2 286.7,2395 287.9,2404.4 289.1,2411.8 290.3,2418.3 291.4,2422.7 292.6,2423.8 293.8,2422.9 295,2420.7 296.2,2417.9 297.4,2415.2 298.6,2412.5 299.8,2409.4 301,2406 302.2,2402.5 303.4,2398.9 304.6,2395.5 305.7,2392.4 306.9,2389.8 308.1,2387.2 309.3,2384.5 310.5,2381.8 311.7,2379.4 312.9,2377.4 314.1,2376 315.3,2375.5 316.5,2376.1 317.7,2379.3 318.9,2384.6 320,2391 321.2,2397.7 322.4,2405.4 323.6,2415.2 324.8,2426.3 326,2438.1 327.2,2449.9 328.4,2460.9 329.6,2472 330.8,2483.7 332,2495.5 333.1,2507.4 334.3,2519.1 335.5,2530.2 336.7,2540.8 337.9,2550.4 339.1,2558.8 340.3,2566.4 341.5,2573.7 342.7,2580.7 343.9,2587.4 345.1,2593.7 346.3,2599.6 347.4,2605.2 348.6,2610.4 349.8,2615.2 351,2619.7 352.2,2623.7 353.4,2627.6 354.6,2631.4 355.8,2634.9 357,2638.3 358.2,2641.4 359.4,2644.3 360.5,2647 361.7,2649.5 362.9,2651.7 364.1,2653.6 365.3,2655.5 366.5,2657.3 367.7,2659.1 368.9,2660.9 370.1,2662.5 371.3,2664.1 372.5,2665.5 373.7,2666.8 374.8,2667.9 376,2668.7 377.2,2669.4 378.4,2669.7 379.6,2669.8 380.8,2669.8 382,2669.6 383.2,2669.2 384.4,2668.6 385.6,2668 386.8,2667.3 387.9,2666.6 389.1,2665.9 390.3,2665.2 391.5,2664.6 392.7,2664.2 393.9,2663.7 395.1,2663.3 396.3,2662.8 397.5,2662.3 398.7,2661.8 399.9,2661.4 401.1,2661 402.2,2660.7 403.4,2660.5 404.6,2660.4 405.8,2660.5 407,2660.5 408.2,2660.9 409.4,2661.6 410.6,2662.6 411.8,2663.8 413,2665.1 414.2,2666.5 415.3,2668 416.5,2669.4 417.7,2670.9 418.9,2672.7 420.1,2674.6 421.3,2676.8 422.5,2679.1 423.7,2681.5 424.9,2684.1 426.1,2686.8 427.3,2689.8 428.5,2693.2 429.6,2696.9 430.8,2700.9 432,2705 433.2,2709.2 434.4,2713.4 435.6,2717.4 436.8,2721.2 438,2724.6 439.2,2728 440.4,2731.4 441.6,2734.7 442.7,2738 443.9,2741.2 445.1,2744.3 446.3,2747.3 447.5,2750.2 448.7,2752.9 449.9,2755.5 451.1,2758 452.3,2760.3 453.5,2762.5 454.7,2764.5 455.9,2766.6 457,2768.6 458.2,2770.6 459.4,2772.5 460.6,2774.3 461.8,2776 463,2777.6 464.2,2779.1 465.4,2780.5 466.6,2781.7 467.8,2782.8 469,2783.8 470.2,2784.6 471.3,2785.4 472.5,2786.2 473.7,2786.9 474.9,2787.6 476.1,2788.3 477.3,2788.9 478.5,2789.6 479.7,2790.1 480.9,2790.7 482.1,2791.2 483.3,2791.7 484.4,2792.1 485.6,2792.6 486.8,2792.9 488,2793.3 489.2,2793.6 490.4,2793.9 491.6,2794.2 492.8,2794.5 494,2794.8 495.2,2795.1 496.4,2795.4 497.6,2795.7 498.7,2796 499.9,2796.2 501.1,2796.5 502.3,2796.8 503.5,2797 504.7,2797.2 505.9,2797.5 507.1,2797.7 508.3,2797.6 509.5,2797.6 510.7,2797.5 511.8,2797.4 513,2797.2 514.2,2796.9 515.4,2796.4 516.6,2796 517.8,2795.8 519,2796.6 520.2,2796.5 521.4,2796.2 522.6,2795.8 523.8,2796.1 525,2796.2 526.1,2796.3 527.3,2795.5 528.5,2795.1 529.7,2794.7 530.9,2795 532.1,2795.1 533.3,2794.8 534.5,2794.3 535.7,2793.6 536.9,2793.6 538.1,2793.7 539.2,2793.7 540.4,2793.8 541.6,2793.7 542.8,2793.8 544,2793.3 545.2,2793.4 546.4,2793.3 547.6,2793.3 548.8,2792.8 550,2792.5 551.2,2792.3 552.4,2792.3 553.5,2792.4 554.7,2792.3 555.9,2791.9 557.1,2791.5 558.3,2791.4 559.5,2791.5 560.7,2791.2 561.9,2791.1 563.1,2791.4 564.3,2791.2 565.5,2790.7 566.6,2790.4 567.8,2790.7 569,2790.9 570.2,2790.7 571.4,2790.9 572.6,2790.4 573.8,2790.5 575,2789.6 576.2,2790 577.4,2789.8 578.6,2790.3 579.8,2790.2 580.9,2789.9 582.1,2789.2 583.3,2789.1 584.5,2789 585.7,2789.2 586.9,2789.2 588.1,2788.9 589.3,2788.5 590.5,2788.2 591.7,2788.1 592.9,2788 594,2787.9 595.2,2787.3 596.4,2787.3 597.6,2786.7 598.8,2786.5 600,2786.1 601.2,2785.8 602.4,2785.9 603.6,2785.1 604.8,2785.3 606,2784.3 607.2,2784.2 608.3,2783.9 609.5,2784.2 610.7,2784.1 611.9,2783.6 613.1,2783.3 614.3,2783 615.5,2782.7 616.7,2782.7 617.9,2782.7 619.1,2782.9 620.3,2782.3 621.4,2782.6 622.6,2783.2 623.8,2784.2 625,2784.2 626.2,2783.8 627.4,2783.9 628.6,2783.9 629.8,2784.4 631,2784.2 632.2,2784.1 633.4,2783.8 634.6,2783.4 635.7,2783.5 636.9,2783.3 638.1,2783.7 639.3,2783.6 640.5,2783.4 641.7,2782.9 642.9,2783 644.1,2782.9 645.3,2782.8 646.5,2782.3 647.7,2782.2 648.9,2782.1 650,2781.4 651.2,2780.8 652.4,2780.7 653.6,2780.8 654.8,2781.2 656,2780.7 657.2,2780.7 658.4,2780.4 659.6,2780.2 660.8,2780 662,2779.6 663.1,2779.1 664.3,2778.4 665.5,2778.9 666.7,2778.5 667.9,2778.7 669.1,2778.2 670.3,2778.4 671.5,2777.5 672.7,2776.5 673.9,2775.9 675.1,2776.3 676.3,2776 677.4,2775.6 678.6,2774.8 679.8,2774.6 681,2774.7 682.2,2774.8 683.4,2774.9 684.6,2774.4 685.8,2773.7 687,2773.2 688.2,2772.8 689.4,2772.7 690.5,2772.3 691.7,2771.8 692.9,2770.7 694.1,2769.7 695.3,2768.8 696.5,2768.2 697.7,2767.8 698.9,2767.2 700.1,2767 701.3,2766.6 702.5,2766 703.7,2765.4 704.8,2764.3 706,2763.7 707.2,2762.7 708.4,2762.2 709.6,2761.6 710.8,2761 712,2760 713.2,2758.9 714.4,2758.1 715.6,2757.5 716.8,2756.7 717.9,2756.1 719.1,2755.2 720.3,2754.5 721.5,2753.5 722.7,2752.3 723.9,2751 725.1,2750.1 726.3,2749.5 727.5,2748.5 728.7,2747.4 729.9,2746.2 731.1,2744.8 732.2,2743.4 733.4,2742 734.6,2741.2 735.8,2739.8 737,2738.8 738.2,2737.6 739.4,2736.3 740.6,2735.1 741.8,2733.7 743,2732.6 744.2,2730.9 745.3,2729.3 746.5,2727.2 747.7,2725.9 748.9,2724.1 750.1,2723.1 751.3,2721.1 752.5,2719.3 753.7,2717.6 754.9,2716.5 756.1,2715 757.3,2713 758.5,2711 759.6,2709.6 760.8,2708.5 762,2706.8 763.2,2705.2 764.4,2703.9 765.6,2702.5 766.8,2700.8 768,2698.8 769.2,2697 770.4,2695.2 771.6,2693.2 772.7,2692 773.9,2690.4 775.1,2689.5 776.3,2687.9 777.5,2687.1 778.7,2685.6 779.9,2684.7 781.1,2683.2 782.3,2681.7 783.5,2680.1 784.7,2678.6 785.9,2678.1 787,2677 788.2,2675.9 789.4,2674.4 790.6,2673.2 791.8,2672.4 793,2671.5 794.2,2670.3 795.4,2669.2 796.6,2667.7 797.8,2666.7 799,2665.5 800.1,2664.7 801.3,2663.7 802.5,2662.4 803.7,2661.2 804.9,2659.6 806.1,2658.5 807.3,2656.4 808.5,2655.1 809.7,2653.3 810.9,2653.2 812.1,2652 813.3,2651.1 814.4,2649.7 815.6,2648.4 816.8,2647.6 818,2645.8 819.2,2644.9 820.4,2643.7 821.6,2642.5 822.8,2641.6 824,2640.9 825.2,2640.4 826.4,2639.6 827.6,2638.8 828.7,2637.9 829.9,2636.7 831.1,2635.9 832.3,2634.9 833.5,2634.6 834.7,2633.6 835.9,2632.9 837.1,2631.8 838.3,2631.5 839.5,2631.4 840.7,2631.4 841.8,2631.3 843,2630.8 844.2,2629.9 845.4,2629.5 846.6,2629.8 847.8,2630.3 849,2629.9 850.2,2629.3 851.4,2629.2 852.6,2629 853.8,2629.3 855,2629.1 856.1,2628.9 857.3,2628.7 858.5,2628.8 859.7,2629.4 860.9,2629.7 862.1,2629.9 863.3,2630.4 864.5,2630.8 865.7,2631.2 866.9,2631 868.1,2631.1 869.2,2630.8 870.4,2630.5 871.6,2630 872.8,2630.3 874,2630.8 875.2,2630.6 876.4,2630.6 877.6,2630.4 878.8,2631.1 880,2631.1 881.2,2631.1 882.4,2630.9 883.5,2630.3 884.7,2630.5 885.9,2630.1 887.1,2630.3 888.3,2630.4 889.5,2630.2 890.7,2630.1 891.9,2629.5 893.1,2629.9 894.3,2630.4 895.5,2630.6 896.6,2630.2 897.8,2629.6 899,2629.3 900.2,2629.2 901.4,2629.5 902.6,2629.9 903.8,2630.1 905,2629.9 906.2,2630 907.4,2630.3 908.6,2631.5 909.8,2632 910.9,2632.9 912.1,2633.1 913.3,2633.8 914.5,2634.7 915.7,2635.9 916.9,2637.6 918.1,2638.7 919.3,2640 920.5,2641.2 921.7,2643.1 922.9,2644.3 924,2645.5 925.2,2647.2 926.4,2649.3 927.6,2651.8 928.8,2653.6 930,2654.8 931.2,2656.1 932.4,2658.1 933.6,2660.8 934.8,2663 936,2664.7 937.2,2666.4 938.3,2668.9 939.5,2670.8 940.7,2673.5 941.9,2675.4 943.1,2678 944.3,2679.7 945.5,2681.5 946.7,2683.3 947.9,2685.1 949.1,2687.1 950.3,2688.3 951.4,2690.2 952.6,2691.8 953.8,2693.6 955,2695.1 956.2,2696.9 957.4,2698.5 958.6,2700.1 959.8,2701.7 961,2703.1 962.2,2704 963.4,2704.5 964.6,2705.8 965.7,2706.5 966.9,2707.7 968.1,2708.5 969.3,2709.2 970.5,2709.6 971.7,2710.2 972.9,2711.2 974.1,2712.1 975.3,2712.4 976.5,2713 977.7,2713.8 978.8,2714.3 980,2714.9 981.2,2715.9 982.4,2717.3 983.6,2718.3 984.8,2718.7 986,2719.1 987.2,2720 988.4,2720.9 989.6,2722 990.8,2722.6 992,2723.8 993.1,2725.3 994.3,2727 995.5,2728.2 996.7,2729.7 997.9,2731 999.1,2733.1 1000.3,2735 1001.5,2737.2 1002.7,2739.5 1003.9,2741.4 1005.1,2743.9 1006.3,2746.6 1007.4,2749.3 1008.6,2751.9 1009.8,2754 1011,2756.5 1012.2,2758.5 1013.4,2760.8 1014.6,2763 1015.8,2765.6 1017,2767.9 1018.2,2770.2 1019.4,2772.4 1020.5,2774.9 1021.7,2776.8 1022.9,2778.7 1024.1,2780.8 1025.3,2783.1 1026.5,2784.8 1027.7,2786.6 1028.9,2788.9 1030.1,2791 1031.3,2792.9 1032.5,2794 1033.7,2795.4 1034.8,2796.8 1036,2799.2 1037.2,2800.9 1038.4,2802 1039.6,2802.8 1040.8,2803.9 1042,2806.1 1043.2,2807.3 1044.4,2808.3 1045.6,2808.3 1046.8,2809.2 1047.9,2809.9 1049.1,2810.7 1050.3,2811.6 1051.5,2812.7 1052.7,2813.9 1053.9,2814.4 1055.1,2814.4 1056.3,2814.7 1057.5,2815.6 1058.7,2816.1 1059.9,2817 1061.1,2817.2 1062.2,2818.3 1063.4,2818.4 1064.6,2819.1 1065.8,2819.4 1067,2819.8 1068.2,2820 1069.4,2820.3 1070.6,2820.8 1071.8,2821.4 1073,2821.7 1074.2,2822.3 1075.3,2822.3 1076.5,2822.8 1077.7,2822.9 1078.9,2822.9 1080.1,2823.2 1081.3,2823.2 1082.5,2823.6 1083.7,2823.8 1084.9,2824.3 1086.1,2824.5 1087.3,2824.5 1088.5,2824.8 1089.6,2825 1090.8,2825.3 1092,2825.3 1093.2,2825.6 1094.4,2825.8 1095.6,2826.2 1096.8,2825.9 1098,2825.8 1099.2,2825.9 1100.4,2826.6 1101.6,2827.1 1102.7,2826.8 1103.9,2827.1 1105.1,2827 1106.3,2827.5 1107.5,2827.5 1108.7,2828.2 1109.9,2828.1 1111.1,2827.8 1112.3,2827.5 1113.5,2828 1114.7,2828.9 1115.9,2829.2 1117,2829.1 1118.2,2829.1 1119.4,2829.1 1120.6,2829.6 1121.8,2829.7 1123,2830.2 1124.2,2829.9 1125.4,2829.8 1126.6,2829.9 1127.8,2830.5 1129,2831.1 1130.1,2831.2 1131.3,2831.6 1132.5,2831.1 1133.7,2830.6 1134.9,2830.5 1136.1,2830.5 1137.3,2831 1138.5,2830.7 1139.7,2830.9 1140.9,2830.7 1142.1,2831.2 1143.3,2832.1 1144.4,2832.3 1145.6,2832.4 1146.8,2831.9 1148,2831.8 1149.2,2831.7 1150.4,2831.9 1151.6,2832 1152.8,2832.2 1154,2832.4 1155.2,2832.4 1156.4,2832.6 1157.5,2832.6 1158.7,2832.6 1159.9,2832.6 1161.1,2832.4 1162.3,2833 1163.5,2832.9 1164.7,2832.4 1165.9,2832.1 1167.1,2832.1 1168.3,2832.8 1169.5,2832.8 1170.7,2833.3 1171.8,2833.4 1173,2833.6 1174.2,2832.8 1175.4,2832.4 1176.6,2832.6 1177.8,2833.4 1179,2833.5 1180.2,2833.9 1181.4,2833.9 1182.6,2834.1 1183.8,2833.8 1185,2833.8 1186.1,2834 1187.3,2833.9 1188.5,2833.7 1189.7,2833.5 1190.9,2833.4 1192.1,2832.9 1193.3,2832.6 1194.5,2832.6 1195.7,2833 1196.9,2833.4 1198.1,2833.1 1199.2,2833.1 1200.4,2833.1 1201.6,2833.9 1202.8,2833.6 1204,2833.4 1205.2,2833.4 1206.4,2834.3 1207.6,2834.6 1208.8,2834.6 1210,2834.1 1211.2,2834.2 1212.4,2834.3 1213.5,2834.2 1214.7,2833.6 1215.9,2833.3 1217.1,2833.4 1218.3,2833.2 1219.5,2833.4 1220.7,2833.3 1221.9,2834.2 1223.1,2834.4 1224.3,2834.7 1225.5,2834.6 1226.6,2834.8 1227.8,2834.9 1229,2834.8 1230.2,2834.7 1231.4,2834.3 1232.6,2834.4 1233.8,2833.9 1235,2834.2 1236.2,2834.2 1237.4,2834.5 1238.6,2834.5 1239.8,2834.5 1240.9,2834.4 1242.1,2834.5 1243.3,2833.9 1244.5,2833.7 1245.7,2833.8 1246.9,2833.9 1248.1,2834.2 1249.3,2834.1 1250.5,2834.1 1251.7,2834.5 1252.9,2834.5 1254,2834.8 1255.2,2834.4 1256.4,2834.5 1257.6,2834.5 1258.8,2834.7 1260,2834.7 1261.2,2834.5 1262.4,2834.3 1263.6,2834.3 1264.8,2834.3 1266,2834.6 1267.2,2834.5 1268.3,2834.6 1269.5,2834.5 1270.7,2834.3 1271.9,2834.7 1273.1,2834.7 1274.3,2835.1 1275.5,2834.5 1276.7,2834.1 1277.9,2834 1279.1,2834.3 1280.3,2834.5 1281.4,2834.6 1282.6,2835.2 1283.8,2835.6 1285,2835.6 1286.2,2835.3 1287.4,2835.3 1288.6,2835.3 1289.8,2835.2 1291,2834.9 1292.2,2834.7 1293.4,2834.9 1294.6,2835.3 1295.7,2835.3 1296.9,2835 1298.1,2834.5 1299.3,2834.8 1300.5,2834.7 1301.7,2834.8 1302.9,2834.6 1304.1,2834.8 1305.3,2834.8 1306.5,2835.3 1307.7,2835.3 1308.8,2835.4 1310,2834.8 1311.2,2834.6 1312.4,2834.7 1313.6,2835.1 1314.8,2835.5 1316,2835.3 1317.2,2835.4 1318.4,2835.4 1319.6,2835.8 1320.8,2835.4 1322,2835.5 1323.1,2835.5 1324.3,2835.6 1325.5,2835.3 1326.7,2835.2 1327.9,2834.9 1329.1,2835.1 1330.3,2835 1331.5,2835.2 1332.7,2835.2 1333.9,2835.3 1335.1,2835.5 1336.2,2835.4 1337.4,2835.6 1338.6,2835.3 1339.8,2835.5 1341,2835.5 1342.2,2835.3 1343.4,2835.3 1344.6,2835.3 1345.8,2835.3 1347,2834.9 1348.2,2834.4 1349.4,2834.8 1350.5,2834.7 1351.7,2835.4 1352.9,2835.5 1354.1,2835.5 1355.3,2835.4 1356.5,2835.5 1357.7,2835.6 1358.9,2835.6 1360.1,2835 1361.3,2834.9 1362.5,2834.9 1363.7,2834.8 1364.8,2835.2 1366,2835.6 1367.2,2835.9 1368.4,2835.5 1369.6,2835.1 1370.8,2835.4 1372,2835.5 1373.2,2835.5 1374.4,2835.4 1375.6,2835.4 1376.8,2835.5 1377.9,2835.5 1379.1,2835.1 1380.3,2835.2 1381.5,2835.3 1382.7,2835.5 1383.9,2835.6 1385.1,2835.2 1386.3,2835.6 1387.5,2835.3 1388.7,2835.6 1389.9,2835.6 1391.1,2835.8 1392.2,2836.2 1393.4,2836.6 1394.6,2836.3 1395.8,2835.4 1397,2835.3 1398.2,2835.7 1399.4,2836 1400.6,2835.7 1401.8,2835.4 1403,2836 1404.2,2835.9 1405.3,2836.2 1406.5,2835.6 1407.7,2835.8 1408.9,2835.4 1410.1,2835.6 1411.3,2835.8 1412.5,2835.6 1413.7,2835.6 1414.9,2835.2 1416.1,2835.1 1417.3,2835 1418.5,2835.4 1419.6,2836.4 1420.8,2836.8 1422,2836.5 1423.2,2836.3 1424.4,2836.1 1425.6,2836.3 1426.8,2835.9 1428,2835.8 1429.2,2835.7 1430.4,2836 1431.6,2836.2 1432.7,2836.6 1433.9,2836.5 1435.1,2836.1 1436.3,2835.9 1437.5,2835.9 1438.7,2836.5 1439.9,2836.2 1441.1,2836.4 1442.3,2836 1443.5,2835.8 1444.7,2835.8 1445.9,2835.5 1447,2835.8 1448.2,2835.9 1449.4,2835.9 1450.6,2836.3 1451.8,2836 1453,2836.3 1454.2,2836 1455.4,2836.1 1456.6,2836.3 1457.8,2836.3 1459,2836.5 1460.1,2836 1461.3,2835.7 1462.5,2835.7 1463.7,2835.8 1464.9,2836.2 1466.1,2836.2 1467.3,2836.3 1468.5,2835.8 1469.7,2835.8 1470.9,2836 1472.1,2836.6 1473.3,2836.4 1474.4,2836.3 1475.6,2836 1476.8,2836.2 1478,2836.3 1479.2,2836.1 1480.4,2835.9 1481.6,2835.9 1482.8,2836.1 1484,2836.1 1485.2,2836.2 1486.4,2836.4 1487.5,2836.8 1488.7,2836.7 1489.9,2836.1 1491.1,2835.7 1492.3,2835.7 1493.5,2835.9 1494.7,2835.8 1495.9,2835.3 1497.1,2835.7 1498.3,2835.8 1499.5,2836.6 1500.7,2836.6 1501.8,2836.6 1503,2835.9 1504.2,2835.8 1505.4,2836 1506.6,2836.2 1507.8,2836.7 1509,2836.8 1510.2,2836.9 1511.4,2836.3 1512.6,2836.5 1513.8,2836.7 1514.9,2836.5 1516.1,2836.4 1517.3,2836.5 1518.5,2836.6 1519.7,2836.5 1520.9,2836.1 1522.1,2836.3 1523.3,2836 1524.5,2836.1 1525.7,2835.8 1526.9,2835.6 1528.1,2835.9 1529.2,2835.7 1530.4,2836 1531.6,2835.8 1532.8,2836.4 1534,2836.2 1535.2,2836.3 1536.4,2836 1537.6,2836 1538.8,2835.8 1540,2836.2 1541.2,2836.3 1542.4,2836.3 1543.5,2836.2 1544.7,2836.3 1545.9,2836.8 1547.1,2836.7 1548.3,2836.6 1549.5,2836.6 1550.7,2836.7 1551.9,2836.7 1553.1,2836.8 1554.3,2836.4 1555.5,2835.9 1556.6,2835.7 1557.8,2835.7 1559,2836 1560.2,2835.8 1561.4,2836 1562.6,2836.2 1563.8,2836.2 1565,2836.1 1566.2,2835.7 1567.4,2836.1 1568.6,2836 1569.8,2836.4 1570.9,2836.6 1572.1,2837.2 1573.3,2837.2 1574.5,2837 1575.7,2836.6 1576.9,2836.5 1578.1,2836.2 1579.3,2836.2 1580.5,2835.9 1581.7,2835.8 1582.9,2835.7 1584,2836.5 1585.2,2836.5 1586.4,2837 1587.6,2836.7 1588.8,2836.8 1590,2835.9 1591.2,2835.7 1592.4,2835.9 1593.6,2836.2 1594.8,2836.2 1596,2835.8 1597.2,2835.9 1598.3,2836 1599.5,2836.4 1600.7,2836.7 1601.9,2836.4 1603.1,2836.3 1604.3,2836.1 1605.5,2836.2 1606.7,2836.2 1607.9,2836.3 1609.1,2836.5 1610.3,2836.5 1611.4,2836.2 1612.6,2835.9 1613.8,2835.8 1615,2835.7 1616.2,2836 1617.4,2836.1 1618.6,2836.4 1619.8,2836.3 1621,2836.7 1622.2,2836.9 1623.4,2836.9 1624.6,2836.7 1625.7,2836.8 1626.9,2836.6 1628.1,2836.5 1629.3,2836.4 1630.5,2836.2 1631.7,2836.1" fill="none" stroke="#008000" stroke-width="5" stroke-linejoin="round" stroke-linecap="butt"/>
<polyline points="202.1,1820.8 202.6,1900.9 203.1,1976.6 203.5,2038.7 204,2077.8 204.5,2100.5 205,2119.5 205.4,2135.6 205.9,2149.3 206.4,2161.1 206.9,2171.7 207.3,2181.6 207.8,2191.4 208.3,2201.7 208.8,2212.9 209.2,2224.1 209.7,2235.2 210.2,2246 210.7,2256.5 211.2,2266.5 211.6,2276.1 212.1,2284.3 212.6,2291.9 213.1,2298.8 213.5,2304.8 214,2310.6 214.5,2316.3 215,2321.6 215.4,2326.8 215.9,2331.7 216.4,2336.3 216.9,2340.7 217.3,2344.7 217.8,2348.4 218.3,2351.8 218.8,2354.8 219.3,2357.4 219.7,2359.7 220.2,2361.9 220.7,2364.1 221.2,2366.2 221.6,2368.3 222.1,2370.2 222.6,2372 223.1,2373.5 223.5,2374.8 224,2375.9 224.5,2376.6 225,2376.9 225.5,2376.9 225.9,2376.5 226.4,2376.8 226.9,2376.9 227.4,2376.8 227.8,2376.6 228.3,2376.2 228.8,2375.8 229.3,2375.2 229.7,2374.5 230.2,2373.7 230.7,2372.8 231.9,2370.5 233.1,2368 234.3,2365.5 235.5,2362 236.6,2357.8 237.8,2353.1 239,2348 240.2,2342.8 241.4,2337.1 242.6,2331 243.8,2324.4 245,2317.5 246.2,2310.2 247.4,2302.6 248.6,2294.5 249.8,2286.1 250.9,2277.4 252.1,2268.4 253.3,2259.4 254.5,2250.4 255.7,2241.4 256.9,2232.5 258.1,2223.1 259.3,2213.1 260.5,2203.2 261.7,2193.7 262.9,2185.3 264,2178.4 265.2,2171.8 266.4,2165.5 267.6,2161.6 268.8,2162.1 270,2166.6 271.2,2176.2 272.4,2187.6 273.6,2200.2 274.8,2216.5 276,2234.4 277.2,2251.4 278.3,2268.3 279.5,2285.5 280.7,2302.6 281.9,2319 283.1,2334.3 284.3,2349.2 285.5,2364 286.7,2377 287.9,2386.6 289.1,2393.9 290.3,2400.5 291.4,2404.9 292.6,2405.7 293.8,2405 295,2402.9 296.2,2400.3 297.4,2397.7 298.6,2395.1 299.8,2392.1 301,2388.8 302.2,2385.4 303.4,2382 304.6,2378.7 305.7,2375.8 306.9,2373.2 308.1,2370.9 309.3,2368.3 310.5,2365.8 311.7,2363.6 312.9,2361.8 314.1,2360.6 315.3,2360.3 316.5,2361.1 317.7,2364.3 318.9,2369.7 320,2376.3 321.2,2383.2 322.4,2391.2 323.6,2401.3 324.8,2412.7 326,2424.9 327.2,2437 328.4,2448.4 329.6,2459.9 330.8,2471.9 332,2484.1 333.1,2496.3 334.3,2508.4 335.5,2519.9 336.7,2530.8 337.9,2540.7 339.1,2549.4 340.3,2557.2 341.5,2564.8 342.7,2572 343.9,2578.8 345.1,2585.3 346.3,2591.5 347.4,2597.2 348.6,2602.6 349.8,2607.6 351,2612.1 352.2,2616.3 353.4,2620.4 354.6,2624.2 355.8,2627.9 357,2631.3 358.2,2634.6 359.4,2637.6 360.5,2640.4 361.7,2642.9 362.9,2645.2 364.1,2647.1 365.3,2649 366.5,2650.9 367.7,2652.8 368.9,2654.6 370.1,2656.3 371.3,2657.9 372.5,2659.4 373.7,2660.7 374.8,2661.8 376,2662.7 377.2,2663.3 378.4,2663.7 379.6,2663.8 380.8,2663.8 382,2663.6 383.2,2663.3 384.4,2662.8 385.6,2662.2 386.8,2661.5 387.9,2660.8 389.1,2660.1 390.3,2659.5 391.5,2659 392.7,2658.5 393.9,2658.1 395.1,2657.7 396.3,2657.3 397.5,2656.8 398.7,2656.4 399.9,2656 401.1,2655.7 402.2,2655.4 403.4,2655.3 404.6,2655.3 405.8,2655.4 407,2655.4 408.2,2655.9 409.4,2656.7 410.6,2657.7 411.8,2659 413,2660.4 414.2,2661.9 415.3,2663.5 416.5,2665 417.7,2666.6 418.9,2668.4 420.1,2670.5 421.3,2672.7 422.5,2675.1 423.7,2677.7 424.9,2680.3 426.1,2683.1 427.3,2686.2 428.5,2689.8 429.6,2693.6 430.8,2697.7 432,2702 433.2,2706.3 434.4,2710.6 435.6,2714.7 436.8,2718.6 438,2722.2 439.2,2725.6 440.4,2729 441.6,2732.3 442.7,2735.6 443.9,2738.8 445.1,2741.9 446.3,2744.9 447.5,2747.7 448.7,2750.5 449.9,2753.1 451.1,2755.6 452.3,2757.9 453.5,2760.1 454.7,2762.1 455.9,2764.1 457,2766.1 458.2,2768 459.4,2769.8 460.6,2771.6 461.8,2773.3 463,2774.8 464.2,2776.3 465.4,2777.6 466.6,2778.8 467.8,2779.9 469,2780.8 470.2,2781.6 471.3,2782.4 472.5,2783.1 473.7,2783.9 474.9,2784.6 476.1,2785.3 477.3,2785.9 478.5,2786.5 479.7,2787.1 480.9,2787.6 482.1,2788.1 483.3,2788.6 484.4,2789 485.6,2789.4 486.8,2789.8 488,2790.1 489.2,2790.4 490.4,2790.7 491.6,2791 492.8,2791.2 494,2791.5 495.2,2791.8 496.4,2792 497.6,2792.3 498.7,2792.6 499.9,2792.8 501.1,2793 502.3,2793.3 503.5,2793.5 504.7,2793.7 505.9,2793.9 507.1,2794.1 508.3,2794 509.5,2794 510.7,2793.9 511.8,2793.8 513,2793.4 514.2,2793.5 515.4,2793.4 516.6,2793.4 517.8,2793.4 519,2793.3 520.2,2793 521.4,2792.3 522.6,2791.9 523.8,2791.7 525,2791.5 526.1,2791.8 527.3,2792 528.5,2791.9 529.7,2791.1 530.9,2790.7 532.1,2790.5 533.3,2790.7 534.5,2791 535.7,2791.3 536.9,2790.8 538.1,2790.1 539.2,2789.6 540.4,2789.7 541.6,2789.8 542.8,2789.7 544,2789.9 545.2,2789.9 546.4,2789.8 547.6,2789.3 548.8,2789 550,2788.7 551.2,2788.2 552.4,2787.7 553.5,2787.8 554.7,2787.9 555.9,2788.3 557.1,2787.7 558.3,2787.7 559.5,2787.7 560.7,2788 561.9,2787.7 563.1,2787.2 564.3,2787 565.5,2787 566.6,2786.7 567.8,2786.4 569,2786.4 570.2,2786.9 571.4,2787.4 572.6,2786.9 573.8,2786.2 575,2785.7 576.2,2785.7 577.4,2786.3 578.6,2785.9 579.8,2786.2 580.9,2785.5 582.1,2786 583.3,2785.9 584.5,2786 585.7,2785.5 586.9,2785 588.1,2784.7 589.3,2785 590.5,2785 591.7,2784.9 592.9,2784.3 594,2783.8 595.2,2783.6 596.4,2783 597.6,2783 598.8,2782.6 600,2782.6 601.2,2782.5 602.4,2782 603.6,2781.8 604.8,2781.2 606,2780.7 607.2,2780 608.3,2779.6 609.5,2779.5 610.7,2779.2 611.9,2779.1 613.1,2779.5 614.3,2780 615.5,2780.1 616.7,2779.4 617.9,2779 619.1,2779.4 620.3,2779.8 621.4,2780.4 622.6,2780.7 623.8,2781.3 625,2781.6 626.2,2781.8 627.4,2782.4 628.6,2782.5 629.8,2782.5 631,2781.7 632.2,2781.3 633.4,2781.4 634.6,2781.6 635.7,2781.8 636.9,2781.2 638.1,2780.9 639.3,2781.3 640.5,2781.1 641.7,2781.1 642.9,2780.7 644.1,2780.5 645.3,2780.1 646.5,2779.9 647.7,2779.9 648.9,2780.1 650,2779.9 651.2,2780.1 652.4,2779.8 653.6,2779.8 654.8,2779.8 656,2779.9 657.2,2779.5 658.4,2778.9 659.6,2778.6 660.8,2778.3 662,2778.1 663.1,2778.2 664.3,2777.9 665.5,2777.4 666.7,2776.4 667.9,2776.5 669.1,2776.7 670.3,2776.8 671.5,2775.9 672.7,2775.4 673.9,2775.4 675.1,2775.5 676.3,2775.8 677.4,2775.2 678.6,2775.1 679.8,2774.6 681,2773.8 682.2,2773.7 683.4,2773 684.6,2773 685.8,2772.5 687,2772.2 688.2,2772 689.4,2771.7 690.5,2771 691.7,2770 692.9,2768.9 694.1,2768.6 695.3,2768.5 696.5,2767.9 697.7,2767.5 698.9,2766.5 700.1,2766 701.3,2765.1 702.5,2764 703.7,2763.7 704.8,2763 706,2762.7 707.2,2761.8 708.4,2760.9 709.6,2760.2 710.8,2759.2 712,2758.8 713.2,2758 714.4,2757.4 715.6,2756.6 716.8,2755.7 717.9,2755.3 719.1,2754 720.3,2752.8 721.5,2751.2 722.7,2750.2 723.9,2749.9 725.1,2748.9 726.3,2747.9 727.5,2746.4 728.7,2745.7 729.9,2744.9 731.1,2744.5 732.2,2743.2 733.4,2741.5 734.6,2739.7 735.8,2738 737,2736.6 738.2,2735 739.4,2734.1 740.6,2732.9 741.8,2731.7 743,2729.7 744.2,2728.3 745.3,2727 746.5,2725.3 747.7,2724.1 748.9,2722.2 750.1,2720.7 751.3,2718.8 752.5,2717.1 753.7,2715.9 754.9,2714.1 756.1,2712.9 757.3,2711.1 758.5,2709.7 759.6,2707.5 760.8,2705.7 762,2703.7 763.2,2702.1 764.4,2700.4 765.6,2699.1 766.8,2697.6 768,2696 769.2,2694.3 770.4,2692.6 771.6,2691.2 772.7,2689.8 773.9,2688.1 775.1,2686.4 776.3,2684.6 777.5,2683.5 778.7,2682.4 779.9,2681.1 781.1,2679.8 782.3,2678.6 783.5,2677.4 784.7,2675.8 785.9,2674.4 787,2673.2 788.2,2671.9 789.4,2670.7 790.6,2669.6 791.8,2668.7 793,2668.1 794.2,2666.8 795.4,2666.1 796.6,2664.4 797.8,2663.5 799,2661.7 800.1,2660.8 801.3,2659.8 802.5,2658.7 803.7,2657.2 804.9,2656.2 806.1,2654.9 807.3,2654 808.5,2652.4 809.7,2651.5 810.9,2650.3 812.1,2649.2 813.3,2648.2 814.4,2647 815.6,2645.4 816.8,2644.1 818,2642.5 819.2,2641.6 820.4,2640.2 821.6,2639.4 822.8,2638.2 824,2637.4 825.2,2636.4 826.4,2636 827.6,2634.6 828.7,2634.4 829.9,2633.6 831.1,2633.3 832.3,2631.9 833.5,2631.1 834.7,2629.8 835.9,2628.9 837.1,2628.3 838.3,2628.4 839.5,2628.1 840.7,2627.9 841.8,2627.5 843,2627.2 844.2,2626.3 845.4,2625.5 846.6,2625.7 847.8,2626 849,2626.5 850.2,2626.5 851.4,2626.6 852.6,2626 853.8,2625.6 855,2625.4 856.1,2626.2 857.3,2626.6 858.5,2626.6 859.7,2626.5 860.9,2626.8 862.1,2627.2 863.3,2627.5 864.5,2627.8 865.7,2627.9 866.9,2628.2 868.1,2628 869.2,2628.2 870.4,2627.8 871.6,2627.6 872.8,2627.1 874,2627.4 875.2,2627.7 876.4,2627.6 877.6,2627.6 878.8,2627.8 880,2628 881.2,2628.1 882.4,2627.7 883.5,2628.1 884.7,2627.6 885.9,2628 887.1,2627.5 888.3,2627.4 889.5,2626.9 890.7,2626.9 891.9,2627.1 893.1,2627 894.3,2626.7 895.5,2626.9 896.6,2627.1 897.8,2627.2 899,2626.5 900.2,2626.5 901.4,2626.4 902.6,2626.5 903.8,2626.3 905,2626.5 906.2,2627 907.4,2627.4 908.6,2627.8 909.8,2628.7 910.9,2629.9 912.1,2630.8 913.3,2631.6 914.5,2632.5 915.7,2633.4 916.9,2634.5 918.1,2635.6 919.3,2637.1 920.5,2638.6 921.7,2640.3 922.9,2642 924,2643.4 925.2,2645.2 926.4,2647.6 927.6,2649.8 928.8,2651.6 930,2652.9 931.2,2654.7 932.4,2656.4 933.6,2658.3 934.8,2660.1 936,2662.4 937.2,2664.5 938.3,2666.9 939.5,2668.9 940.7,2671.3 941.9,2673.8 943.1,2675.9 944.3,2677.6 945.5,2679.5 946.7,2681.5 947.9,2683.3 949.1,2685 950.3,2686.7 951.4,2688.4 952.6,2690.2 953.8,2691.7 955,2693.5 956.2,2695.1 957.4,2696.8 958.6,2698.2 959.8,2699.4 961,2700.9 962.2,2701.9 963.4,2703.2 964.6,2704.2 965.7,2705.4 966.9,2706.4 968.1,2707.3 969.3,2707.6 970.5,2707.9 971.7,2708.6 972.9,2709.3 974.1,2710.1 975.3,2710.3 976.5,2711.2 977.7,2711.7 978.8,2712.5 980,2713 981.2,2714 982.4,2714.3 983.6,2715.4 984.8,2716.5 986,2717.9 987.2,2718.6 988.4,2719.2 989.6,2720.2 990.8,2721.5 992,2722.9 993.1,2724 994.3,2724.7 995.5,2725.8 996.7,2727.4 997.9,2729 999.1,2731 1000.3,2733.6 1001.5,2736.2 1002.7,2738.5 1003.9,2740.4 1005.1,2742.6 1006.3,2744.9 1007.4,2747.6 1008.6,2750.4 1009.8,2753 1011,2754.7 1012.2,2756.7 1013.4,2758.9 1014.6,2761.4 1015.8,2764.3 1017,2766.6 1018.2,2769.1 1019.4,2771.4 1020.5,2773.7 1021.7,2775.9 1022.9,2777.6 1024.1,2779.7 1025.3,2781.7 1026.5,2783.7 1027.7,2785.6 1028.9,2787.2 1030.1,2789.2 1031.3,2790.7 1032.5,2792.6 1033.7,2794.4 1034.8,2796.2 1036,2797.9 1037.2,2799.1 1038.4,2800.7 1039.6,2802 1040.8,2803.5 1042,2804.4 1043.2,2805.5 1044.4,2806.4 1045.6,2807.8 1046.8,2808.2 1047.9,2808.8 1049.1,2809 1050.3,2810 1051.5,2810.7 1052.7,2811.8 1053.9,2812.6 1055.1,2813.4 1056.3,2813.9 1057.5,2814.5 1058.7,2815.3 1059.9,2816.7 1061.1,2817.2 1062.2,2817.8 1063.4,2817.9 1064.6,2818.6 1065.8,2819 1067,2819 1068.2,2819 1069.4,2819.5 1070.6,2820 1071.8,2820.2 1073,2820.4 1074.2,2820.5 1075.3,2820.7 1076.5,2820.6 1077.7,2821.1 1078.9,2822.1 1080.1,2822.6 1081.3,2822.6 1082.5,2822 1083.7,2822 1084.9,2822.2 1086.1,2822.7 1087.3,2823.2 1088.5,2823.5 1089.6,2823.9 1090.8,2824.1 1092,2823.7 1093.2,2823.6 1094.4,2823.8 1095.6,2824.8 1096.8,2825.5 1098,2825.6 1099.2,2825.4 1100.4,2825 1101.6,2825.1 1102.7,2825.3 1103.9,2825.5 1105.1,2825.8 1106.3,2825.8 1107.5,2825.8 1108.7,2826.2 1109.9,2826.2 1111.1,2826.6 1112.3,2826.5 1113.5,2826.5 1114.7,2826.6 1115.9,2826.5 1117,2827 1118.2,2827.3 1119.4,2827.3 1120.6,2827.3 1121.8,2827.2 1123,2827.9 1124.2,2828 1125.4,2828.2 1126.6,2828.4 1127.8,2829.1 1129,2829.4 1130.1,2829.1 1131.3,2829 1132.5,2829.6 1133.7,2830.1 1134.9,2830.4 1136.1,2830.1 1137.3,2830.1 1138.5,2829.7 1139.7,2829.8 1140.9,2829.7 1142.1,2830.1 1143.3,2830 1144.4,2830 1145.6,2830.2 1146.8,2830.1 1148,2830.7 1149.2,2830.7 1150.4,2831 1151.6,2831 1152.8,2831.3 1154,2831.4 1155.2,2831.6 1156.4,2831.3 1157.5,2831 1158.7,2830.3 1159.9,2830.5 1161.1,2830.6 1162.3,2830.7 1163.5,2830.7 1164.7,2830.8 1165.9,2830.8 1167.1,2830.9 1168.3,2830.9 1169.5,2831.1 1170.7,2830.9 1171.8,2830.9 1173,2831 1174.2,2831.6 1175.4,2832 1176.6,2832.1 1177.8,2832 1179,2831.9 1180.2,2831.9 1181.4,2831.8 1182.6,2831.4 1183.8,2831.6 1185,2831 1186.1,2831.3 1187.3,2831.7 1188.5,2832.5 1189.7,2832.4 1190.9,2832.2 1192.1,2831.8 1193.3,2832 1194.5,2831.8 1195.7,2832.1 1196.9,2832.1 1198.1,2831.9 1199.2,2831.7 1200.4,2831.7 1201.6,2832 1202.8,2832.2 1204,2832.5 1205.2,2832.9 1206.4,2833.2 1207.6,2833 1208.8,2832.8 1210,2833 1211.2,2833.1 1212.4,2832.9 1213.5,2832.7 1214.7,2832.3 1215.9,2832.5 1217.1,2832 1218.3,2832.7 1219.5,2832.8 1220.7,2833 1221.9,2832.8 1223.1,2832.8 1224.3,2833.3 1225.5,2833.1 1226.6,2833 1227.8,2832.3 1229,2832.5 1230.2,2832.5 1231.4,2832.7 1232.6,2832.9 1233.8,2833.1 1235,2833 1236.2,2832.9 1237.4,2832.6 1238.6,2832.7 1239.8,2832.8 1240.9,2833 1242.1,2833.3 1243.3,2833 1244.5,2833.2 1245.7,2833 1246.9,2833.1 1248.1,2832.7 1249.3,2832.9 1250.5,2833.3 1251.7,2833.4 1252.9,2833.3 1254,2832.4 1255.2,2832.6 1256.4,2832.5 1257.6,2833.2 1258.8,2833.1 1260,2833.1 1261.2,2832.9 1262.4,2833.1 1263.6,2833.2 1264.8,2833.3 1266,2833 1267.2,2833.3 1268.3,2833.1 1269.5,2833.3 1270.7,2833.3 1271.9,2833.8 1273.1,2833.9 1274.3,2833.9 1275.5,2833.6 1276.7,2833.3 1277.9,2833.2 1279.1,2833.3 1280.3,2833.2 1281.4,2833.6 1282.6,2833.8 1283.8,2834.2 1285,2834.1 1286.2,2833.9 1287.4,2833.8 1288.6,2834 1289.8,2833.6 1291,2833.3 1292.2,2833 1293.4,2833.5 1294.6,2833.9 1295.7,2833.9 1296.9,2833.6 1298.1,2833.5 1299.3,2833.5 1300.5,2833.7 1301.7,2833.7 1302.9,2833.7 1304.1,2833.8 1305.3,2833.7 1306.5,2833.5 1307.7,2833.5 1308.8,2833.9 1310,2833.9 1311.2,2834.1 1312.4,2833.8 1313.6,2834.1 1314.8,2834 1316,2833.7 1317.2,2833.8 1318.4,2833.8 1319.6,2834 1320.8,2834 1322,2833.9 1323.1,2834.1 1324.3,2833.8 1325.5,2833.4 1326.7,2833.4 1327.9,2833.9 1329.1,2834.1 1330.3,2834 1331.5,2834 1332.7,2834.3 1333.9,2834.4 1335.1,2834.1 1336.2,2834.3 1337.4,2834.7 1338.6,2834.1 1339.8,2834.2 1341,2834.1 1342.2,2834.5 1343.4,2834.3 1344.6,2833.7 1345.8,2833.8 1347,2833.5 1348.2,2834.1 1349.4,2834.5 1350.5,2834.9 1351.7,2834.6 1352.9,2834.2 1354.1,2834.4 1355.3,2834.3 1356.5,2834.3 1357.7,2834.4 1358.9,2834.5 1360.1,2834.7 1361.3,2834.6 1362.5,2834.4 1363.7,2833.8 1364.8,2833.6 1366,2834.1 1367.2,2834.5 1368.4,2834.2 1369.6,2834.5 1370.8,2834.7 1372,2835.3 1373.2,2834.6 1374.4,2834.4 1375.6,2834.3 1376.8,2834.3 1377.9,2834.1 1379.1,2834.1 1380.3,2834.3 1381.5,2834.3 1382.7,2834.3 1383.9,2834.3 1385.1,2834.6 1386.3,2834.3 1387.5,2834.5 1388.7,2834.5 1389.9,2834.5 1391.1,2834.7 1392.2,2834.8 1393.4,2834.9 1394.6,2834.2 1395.8,2834.2 1397,2834.1 1398.2,2834.4 1399.4,2834.4 1400.6,2834.4 1401.8,2834.4 1403,2834.3 1404.2,2833.8 1405.3,2834 1406.5,2834.4 1407.7,2834.9 1408.9,2835.1 1410.1,2834.7 1411.3,2834.9 1412.5,2835 1413.7,2835.2 1414.9,2834.8 1416.1,2834.6 1417.3,2834.7 1418.5,2835.1 1419.6,2834.7 1420.8,2834.8 1422,2834.9 1423.2,2835.4 1424.4,2835.4 1425.6,2835.3 1426.8,2835.3 1428,2835 1429.2,2834.7 1430.4,2834.3 1431.6,2834.2 1432.7,2834.2 1433.9,2834 1435.1,2834.3 1436.3,2834.4 1437.5,2835 1438.7,2834.8 1439.9,2835 1441.1,2834.7 1442.3,2835.1 1443.5,2835.1 1444.7,2834.9 1445.9,2834.9 1447,2834.4 1448.2,2834.8 1449.4,2834.6 1450.6,2835.2 1451.8,2835.4 1453,2835.3 1454.2,2834.9 1455.4,2834.8 1456.6,2835.2 1457.8,2835.4 1459,2835 1460.1,2834.3 1461.3,2834.1 1462.5,2834.4 1463.7,2835 1464.9,2834.7 1466.1,2834.7 1467.3,2834.8 1468.5,2835.1 1469.7,2834.9 1470.9,2834.4 1472.1,2834.6 1473.3,2834.8 1474.4,2835.1 1475.6,2834.7 1476.8,2834.3 1478,2834.8 1479.2,2835.2 1480.4,2835.4 1481.6,2835.2 1482.8,2835.2 1484,2835.1 1485.2,2835.1 1486.4,2834.8 1487.5,2835.2 1488.7,2835.5 1489.9,2835.4 1491.1,2834.9 1492.3,2834.7 1493.5,2834.7 1494.7,2835.1 1495.9,2835.2 1497.1,2835.3 1498.3,2835.2 1499.5,2835.3 1500.7,2835.4 1501.8,2835.4 1503,2835.3 1504.2,2835.6 1505.4,2836 1506.6,2835.6 1507.8,2835.1 1509,2835.1 1510.2,2834.6 1511.4,2834.9 1512.6,2835.1 1513.8,2835.8 1514.9,2835.4 1516.1,2835.2 1517.3,2835.2 1518.5,2835.5 1519.7,2835.7 1520.9,2835.7 1522.1,2836 1523.3,2835.7 1524.5,2835.7 1525.7,2835.1 1526.9,2835.4 1528.1,2835.5 1529.2,2836 1530.4,2835.4 1531.6,2835.5 1532.8,2835.3 1534,2835.5 1535.2,2835.3 1536.4,2834.8 1537.6,2834.8 1538.8,2834.5 1540,2834.7 1541.2,2834.5 1542.4,2834.9 1543.5,2835.2 1544.7,2835 1545.9,2835.1 1547.1,2834.5 1548.3,2834.8 1549.5,2834.9 1550.7,2835.8 1551.9,2836.3 1553.1,2836.5 1554.3,2836.4 1555.5,2835.8 1556.6,2835.7 1557.8,2835.2 1559,2836.1 1560.2,2835.8 1561.4,2836.1 1562.6,2835.8 1563.8,2835.9 1565,2835.8 1566.2,2835.7 1567.4,2835.7 1568.6,2835.5 1569.8,2835.3 1570.9,2835.1 1572.1,2835.6 1573.3,2835.7 1574.5,2835.5 1575.7,2835.4 1576.9,2835.3 1578.1,2835.4 1579.3,2835.7 1580.5,2835.5 1581.7,2835.7 1582.9,2835.5 1584,2835.5 1585.2,2835.6 1586.4,2835.3 1587.6,2835.5 1588.8,2835.1 1590,2835.6 1591.2,2835.8 1592.4,2835.5 1593.6,2835.1 1594.8,2835.2 1596,2835.6 1597.2,2835.8 1598.3,2835.3 1599.5,2835.5 1600.7,2835.6 1601.9,2836 1603.1,2836.2 1604.3,2836.1 1605.5,2835.8 1606.7,2835.5 1607.9,2835.8 1609.1,2835.7 1610.3,2835.5 1611.4,2835.4 1612.6,2835.7 1613.8,2835.9 1615,2835.9 1616.2,2835.5 1617.4,2835.5 1618.6,2835.5 1619.8,2835.7 1621,2835.7 1622.2,2835.9 1623.4,2836.5 1624.6,2836.4 1625.7,2835.5 1626.9,2834.8 1628.1,2834.6 1629.3,2835.1 1630.5,2835.2 1631.7,2835.6" fill="none" stroke="#000080" stroke-width="5" stroke-linejoin="round" stroke-linecap="butt"/>
<polyline points="202.1,1850.9 202.6,1928.6 203.1,2001.9 203.5,2062.1 204,2100 204.5,2121.9 205,2140.3 205.4,2155.8 205.9,2169 206.4,2180.4 206.9,2190.6 207.3,2200.1 207.8,2209.6 208.3,2219.5 208.8,2230.3 209.2,2241.1 209.7,2251.8 210.2,2262.2 210.7,2272.4 211.2,2282.1 211.6,2291.2 212.1,2299.9 212.6,2307.8 213.1,2315 213.5,2321.4 214,2327.6 214.5,2333.5 215,2339.3 215.4,2344.8 215.9,2350 216.4,2355 216.9,2359.7 217.3,2364 217.8,2368.1 218.3,2371.8 218.8,2375.1 219.3,2378.1 219.7,2380.8 220.2,2383.4 220.7,2385.9 221.2,2388.5 221.6,2390.9 222.1,2393.2 222.6,2395.3 223.1,2397.2 223.5,2398.9 224,2400.3 224.5,2401.4 225,2402.2 225.5,2402.6 225.9,2402.7 226.4,2402.5 226.9,2402.1 227.4,2401.6 227.8,2400.9 228.3,2400 228.8,2399.1 229.3,2398 229.7,2396.9 230.2,2395.6 230.7,2394.3 231.9,2390.8 233.1,2387.2 234.3,2383.5 235.5,2378.9 236.6,2373.5 237.8,2367.6 239,2361.3 240.2,2354.9 241.4,2347.9 242.6,2340.5 243.8,2332.5 245,2324.2 246.2,2315.6 247.4,2306.5 248.6,2296.9 249.8,2286.9 250.9,2276.5 252.1,2265.9 253.3,2255.2 254.5,2244.3 255.7,2233.4 256.9,2222.6 258.1,2211.2 259.3,2199.1 260.5,2187 261.7,2175.3 262.9,2164.6 264,2155.4 265.2,2146.6 266.4,2137.9 267.6,2131.7 268.8,2130 270,2135.5 271.2,2146.3 272.4,2159 273.6,2172.9 274.8,2190.6 276,2209.9 277.2,2228.4 278.3,2246.5 279.5,2265.1 280.7,2283.4 281.9,2301 283.1,2317.4 284.3,2333.4 285.5,2349.2 286.7,2363.1 287.9,2373.4 289.1,2381.6 290.3,2388.8 291.4,2393.7 292.6,2395.1 293.8,2393.8 295,2391.1 296.2,2387.8 297.4,2384.6 298.6,2381.4 299.8,2377.7 301,2373.7 302.2,2369.5 303.4,2365.4 304.6,2361.4 305.7,2357.7 306.9,2354.4 308.1,2351.3 309.3,2348 310.5,2344.8 311.7,2341.8 312.9,2339.3 314.1,2337.4 315.3,2336.4 316.5,2337 317.7,2340.5 318.9,2346.2 320,2353.2 321.2,2360.5 322.4,2368.9 323.6,2379.5 324.8,2391.6 326,2404.4 327.2,2417.1 328.4,2429.1 329.6,2441.2 330.8,2453.9 332,2466.7 333.1,2479.6 334.3,2492.2 335.5,2504.4 336.7,2515.8 337.9,2526.2 339.1,2535.4 340.3,2543.6 341.5,2551.6 342.7,2559.2 343.9,2566.4 345.1,2573.2 346.3,2579.7 347.4,2585.7 348.6,2591.4 349.8,2596.6 351,2601.4 352.2,2605.8 353.4,2610 354.6,2614.1 355.8,2618 357,2621.6 358.2,2625 359.4,2628.2 360.5,2631.1 361.7,2633.8 362.9,2636.2 364.1,2638.3 365.3,2640.3 366.5,2642.3 367.7,2644.2 368.9,2646.2 370.1,2648 371.3,2649.7 372.5,2651.2 373.7,2652.6 374.8,2653.8 376,2654.7 377.2,2655.4 378.4,2655.9 379.6,2656 380.8,2655.8 382,2655.4 383.2,2654.8 384.4,2654.1 385.6,2653.3 386.8,2652.5 387.9,2651.6 389.1,2650.7 390.3,2649.8 391.5,2649.1 392.7,2648.4 393.9,2647.8 395.1,2647.2 396.3,2646.5 397.5,2645.9 398.7,2645.2 399.9,2644.6 401.1,2644.1 402.2,2643.6 403.4,2643.3 404.6,2643.1 405.8,2643 407,2643.2 408.2,2643.9 409.4,2644.8 410.6,2646.1 411.8,2647.6 413,2649.2 414.2,2650.9 415.3,2652.7 416.5,2654.5 417.7,2656.3 418.9,2658.4 420.1,2660.7 421.3,2663.1 422.5,2665.8 423.7,2668.6 424.9,2671.6 426.1,2674.7 427.3,2678 428.5,2681.9 429.6,2686 430.8,2690.5 432,2695 433.2,2699.7 434.4,2704.2 435.6,2708.7 436.8,2712.8 438,2716.7 439.2,2720.1 440.4,2723.5 441.6,2726.8 442.7,2730.1 443.9,2733.3 445.1,2736.4 446.3,2739.4 447.5,2742.3 448.7,2745 449.9,2747.7 451.1,2750.2 452.3,2752.5 453.5,2754.6 454.7,2756.7 455.9,2758.6 457,2760.6 458.2,2762.5 459.4,2764.3 460.6,2766.1 461.8,2767.7 463,2769.3 464.2,2770.7 465.4,2772 466.6,2773.2 467.8,2774.2 469,2775.1 470.2,2775.8 471.3,2776.4 472.5,2777 473.7,2777.6 474.9,2778.2 476.1,2778.7 477.3,2779.2 478.5,2779.7 479.7,2780.1 480.9,2780.5 482.1,2780.8 483.3,2781.1 484.4,2781.4 485.6,2781.6 486.8,2781.8 488,2782 489.2,2782.1 490.4,2782.2 491.6,2782.4 492.8,2782.5 494,2782.6 495.2,2782.7 496.4,2782.8 497.6,2782.9 498.7,2782.9 499.9,2783 501.1,2783.1 502.3,2783.1 503.5,2783.2 504.7,2783.2 505.9,2783.2 507.1,2783.2 508.3,2783.2 509.5,2783.1 510.7,2783.1 511.8,2783 513,2782.5 514.2,2782.7 515.4,2782.9 516.6,2782.9 517.8,2783.2 519,2783 520.2,2783.3 521.4,2782.7 522.6,2782.4 523.8,2781.7 525,2781.3 526.1,2781 527.3,2781 528.5,2780.8 529.7,2780.5 530.9,2780.4 532.1,2779.8 533.3,2779.9 534.5,2779.5 535.7,2779.9 536.9,2779.8 538.1,2779.8 539.2,2779.2 540.4,2778.4 541.6,2778.1 542.8,2777.9 544,2777.9 545.2,2778 546.4,2778 547.6,2778.1 548.8,2777.7 550,2777.2 551.2,2777.2 552.4,2777.1 553.5,2777 554.7,2776.7 555.9,2776.7 557.1,2776.8 558.3,2777.2 559.5,2777.3 560.7,2776.9 561.9,2776.2 563.1,2776 564.3,2776.6 565.5,2776.5 566.6,2776.1 567.8,2775.4 569,2775.6 570.2,2775.8 571.4,2776.1 572.6,2776 573.8,2775.6 575,2775.5 576.2,2775.4 577.4,2775.4 578.6,2775.2 579.8,2774.7 580.9,2774.7 582.1,2774.7 583.3,2774.7 584.5,2774.5 585.7,2774.1 586.9,2773.9 588.1,2773.5 589.3,2773.7 590.5,2774 591.7,2774 592.9,2774.2 594,2773.8 595.2,2773.3 596.4,2772.7 597.6,2772.1 598.8,2772.4 600,2771.7 601.2,2771.3 602.4,2770.5 603.6,2770.4 604.8,2769.8 606,2769.1 607.2,2768.6 608.3,2768.2 609.5,2767.8 610.7,2767.3 611.9,2767.4 613.1,2767.5 614.3,2767.1 615.5,2767 616.7,2766.6 617.9,2767.2 619.1,2767.6 620.3,2768.4 621.4,2768.6 622.6,2768.6 623.8,2769.1 625,2769.7 626.2,2770.2 627.4,2770 628.6,2769.9 629.8,2770 631,2770 632.2,2770.3 633.4,2770.5 634.6,2770.6 635.7,2769.9 636.9,2769.3 638.1,2769 639.3,2769 640.5,2769 641.7,2769.1 642.9,2768.7 644.1,2769.1 645.3,2769 646.5,2769.1 647.7,2768.5 648.9,2768.2 650,2768 651.2,2768 652.4,2767.6 653.6,2767.7 654.8,2767.5 656,2767.9 657.2,2767.8 658.4,2767.8 659.6,2767.1 660.8,2766.8 662,2766.1 663.1,2766.2 664.3,2765.9 665.5,2766.1 666.7,2766.1 667.9,2765.6 669.1,2765.5 670.3,2764.9 671.5,2764.9 672.7,2764.7 673.9,2764.5 675.1,2763.4 676.3,2763 677.4,2762.8 678.6,2763 679.8,2762.7 681,2762.2 682.2,2761.6 683.4,2761 684.6,2760.7 685.8,2760.5 687,2759.9 688.2,2759.6 689.4,2758.7 690.5,2758.5 691.7,2757.9 692.9,2757.5 694.1,2756.9 695.3,2756.5 696.5,2755.8 697.7,2755.4 698.9,2754.3 700.1,2753.8 701.3,2753 702.5,2752.3 703.7,2752.2 704.8,2751.2 706,2750.9 707.2,2749.9 708.4,2749.3 709.6,2748.4 710.8,2747.5 712,2746.7 713.2,2745.8 714.4,2745.3 715.6,2744.2 716.8,2743.8 717.9,2742.8 719.1,2742.3 720.3,2741.2 721.5,2740.1 722.7,2739.3 723.9,2738 725.1,2737 726.3,2735.7 727.5,2734.1 728.7,2733 729.9,2731.7 731.1,2731.4 732.2,2730.6 733.4,2730.1 734.6,2728.8 735.8,2727.7 737,2726.2 738.2,2724.8 739.4,2722.9 740.6,2721.2 741.8,2719.9 743,2718.5 744.2,2717.4 745.3,2715.8 746.5,2714.2 747.7,2712.4 748.9,2710.8 750.1,2709.2 751.3,2707.4 752.5,2705.7 753.7,2704.2 754.9,2702.9 756.1,2701.1 757.3,2700 758.5,2698.3 759.6,2697 760.8,2694.7 762,2692.5 763.2,2690.5 764.4,2689.2 765.6,2687.5 766.8,2686.2 768,2684.4 769.2,2682.8 770.4,2681.4 771.6,2680.1 772.7,2678.9 773.9,2677.3 775.1,2675.6 776.3,2674 777.5,2672.3 778.7,2670.8 779.9,2669.5 781.1,2668.6 782.3,2667.2 783.5,2665.7 784.7,2664.5 785.9,2663.2 787,2661.8 788.2,2660.2 789.4,2658.9 790.6,2657.7 791.8,2656.3 793,2654.8 794.2,2653.4 795.4,2652.3 796.6,2651.2 797.8,2650 799,2648.5 800.1,2646.7 801.3,2645.3 802.5,2644.2 803.7,2643.4 804.9,2642.1 806.1,2640.5 807.3,2639 808.5,2637.6 809.7,2636.5 810.9,2635.5 812.1,2634.2 813.3,2632.5 814.4,2631.1 815.6,2629.6 816.8,2628.3 818,2626.9 819.2,2625.8 820.4,2624.5 821.6,2623.4 822.8,2622.2 824,2621.4 825.2,2619.6 826.4,2618.8 827.6,2617.6 828.7,2617 829.9,2616 831.1,2614.9 832.3,2614.4 833.5,2613.4 834.7,2612.9 835.9,2611.9 837.1,2610.8 838.3,2609.8 839.5,2609.2 840.7,2609.1 841.8,2609 843,2608.6 844.2,2608.2 845.4,2608 846.6,2607.7 847.8,2607.4 849,2607 850.2,2606.8 851.4,2606.4 852.6,2606.3 853.8,2606.3 855,2606.6 856.1,2606.6 857.3,2606.6 858.5,2606.7 859.7,2606.9 860.9,2607.1 862.1,2607.3 863.3,2607.5 864.5,2607.1 865.7,2607.3 866.9,2607.4 868.1,2607.9 869.2,2607.9 870.4,2608 871.6,2608 872.8,2607.8 874,2607.5 875.2,2607.9 876.4,2608 877.6,2608.3 878.8,2607.8 880,2608.1 881.2,2607.8 882.4,2608.5 883.5,2608.4 884.7,2608.6 885.9,2608 887.1,2608.1 888.3,2608.2 889.5,2608.2 890.7,2608 891.9,2607.6 893.1,2607.1 894.3,2607.2 895.5,2607.3 896.6,2608 897.8,2607.8 899,2607.8 900.2,2607 901.4,2607.3 902.6,2607.5 903.8,2607.9 905,2607.6 906.2,2608.1 907.4,2608.9 908.6,2609.7 909.8,2610.6 910.9,2611.3 912.1,2612.5 913.3,2613.1 914.5,2614.5 915.7,2615.6 916.9,2616.9 918.1,2618.1 919.3,2619.5 920.5,2621.1 921.7,2622.8 922.9,2624.9 924,2627.1 925.2,2628.8 926.4,2631.3 927.6,2633.1 928.8,2635.2 930,2636.5 931.2,2638.9 932.4,2641.1 933.6,2643.7 934.8,2645.9 936,2648.3 937.2,2650.4 938.3,2652.7 939.5,2655 940.7,2657 941.9,2659.1 943.1,2661.6 944.3,2664.1 945.5,2666.3 946.7,2668.3 947.9,2670.2 949.1,2671.9 950.3,2673.3 951.4,2675.5 952.6,2677.9 953.8,2679.7 955,2681.1 956.2,2682.4 957.4,2684.3 958.6,2686 959.8,2687.3 961,2688.5 962.2,2690.4 963.4,2692 964.6,2693.2 965.7,2694.2 966.9,2695.3 968.1,2696.2 969.3,2697.1 970.5,2698 971.7,2699 972.9,2700.2 974.1,2700.6 975.3,2701.2 976.5,2701.6 977.7,2702.5 978.8,2703.5 980,2704.8 981.2,2706.5 982.4,2707.6 983.6,2709 984.8,2709.1 986,2709.6 987.2,2709.8 988.4,2711.9 989.6,2713.5 990.8,2715.3 992,2716.1 993.1,2717.3 994.3,2718.5 995.5,2719.8 996.7,2721.7 997.9,2723.3 999.1,2725.5 1000.3,2728 1001.5,2731.1 1002.7,2733.7 1003.9,2736 1005.1,2738.3 1006.3,2740.6 1007.4,2743.1 1008.6,2745.9 1009.8,2748.2 1011,2750.6 1012.2,2752.9 1013.4,2755.8 1014.6,2758.2 1015.8,2760.6 1017,2763.3 1018.2,2766.2 1019.4,2768.8 1020.5,2771.1 1021.7,2773.2 1022.9,2775.7 1024.1,2777.7 1025.3,2780 1026.5,2781.8 1027.7,2783.6 1028.9,2785 1030.1,2786.8 1031.3,2788.4 1032.5,2790.5 1033.7,2791.9 1034.8,2793.7 1036,2795 1037.2,2796.8 1038.4,2798.3 1039.6,2799.7 1040.8,2800.9 1042,2801.9 1043.2,2802.4 1044.4,2803.7 1045.6,2804.8 1046.8,2805.6 1047.9,2806.3 1049.1,2806.9 1050.3,2808.4 1051.5,2808.9 1052.7,2809.9 1053.9,2810.6 1055.1,2811.8 1056.3,2812.5 1057.5,2813.1 1058.7,2813.3 1059.9,2813.4 1061.1,2814.2 1062.2,2814.5 1063.4,2815.4 1064.6,2815.5 1065.8,2815.8 1067,2816.2 1068.2,2816.7 1069.4,2817.3 1070.6,2817.6 1071.8,2817.8 1073,2818.1 1074.2,2818.5 1075.3,2818.7 1076.5,2819.1 1077.7,2819.3 1078.9,2819.4 1080.1,2819.3 1081.3,2819.9 1082.5,2820.5 1083.7,2820.7 1084.9,2820.7 1086.1,2820.3 1087.3,2820.6 1088.5,2820.8 1089.6,2821.2 1090.8,2821.1 1092,2821.4 1093.2,2821.4 1094.4,2821.8 1095.6,2821.7 1096.8,2821.9 1098,2822.1 1099.2,2822.1 1100.4,2822.4 1101.6,2822.9 1102.7,2823 1103.9,2823.1 1105.1,2822.8 1106.3,2823 1107.5,2823.2 1108.7,2823.7 1109.9,2824.1 1111.1,2824.2 1112.3,2824.5 1113.5,2824.2 1114.7,2824.5 1115.9,2824.4 1117,2824.4 1118.2,2824.4 1119.4,2824.6 1120.6,2825 1121.8,2824.8 1123,2824.6 1124.2,2824.9 1125.4,2825.2 1126.6,2825.2 1127.8,2825.2 1129,2825.2 1130.1,2825.8 1131.3,2826.3 1132.5,2826.5 1133.7,2826.1 1134.9,2826.2 1136.1,2826 1137.3,2826.5 1138.5,2826.3 1139.7,2826.4 1140.9,2826.6 1142.1,2826.6 1143.3,2827.4 1144.4,2827.6 1145.6,2828.1 1146.8,2827.6 1148,2827.4 1149.2,2826.7 1150.4,2827.2 1151.6,2827.3 1152.8,2827.4 1154,2827.1 1155.2,2827 1156.4,2827.1 1157.5,2827.2 1158.7,2827.3 1159.9,2827.6 1161.1,2828 1162.3,2828.1 1163.5,2828 1164.7,2827.8 1165.9,2828.1 1167.1,2828.2 1168.3,2828.5 1169.5,2828.5 1170.7,2828 1171.8,2828 1173,2827.8 1174.2,2828.3 1175.4,2827.6 1176.6,2827.7 1177.8,2828 1179,2828.9 1180.2,2829.1 1181.4,2828.7 1182.6,2828.8 1183.8,2828.9 1185,2829.2 1186.1,2828.7 1187.3,2828.5 1188.5,2828.2 1189.7,2829.2 1190.9,2829.4 1192.1,2829.4 1193.3,2829.1 1194.5,2829.3 1195.7,2829.4 1196.9,2829.1 1198.1,2828.8 1199.2,2828.8 1200.4,2828.7 1201.6,2829.2 1202.8,2829.4 1204,2829.9 1205.2,2829.3 1206.4,2829.3 1207.6,2829.5 1208.8,2829.4 1210,2829.4 1211.2,2829 1212.4,2829.5 1213.5,2829.5 1214.7,2829.7 1215.9,2829.7 1217.1,2830 1218.3,2830.5 1219.5,2830.4 1220.7,2830.5 1221.9,2830.1 1223.1,2830.1 1224.3,2829.9 1225.5,2829.8 1226.6,2829.8 1227.8,2829.6 1229,2829.9 1230.2,2829.9 1231.4,2830.1 1232.6,2830.3 1233.8,2830 1235,2830.2 1236.2,2830.3 1237.4,2830.7 1238.6,2830.9 1239.8,2830.8 1240.9,2830.9 1242.1,2830.2 1243.3,2830.1 1244.5,2830.1 1245.7,2830.6 1246.9,2830.8 1248.1,2830.6 1249.3,2830.5 1250.5,2830.1 1251.7,2830.1 1252.9,2830.5 1254,2830.8 1255.2,2830.8 1256.4,2830.5 1257.6,2830.6 1258.8,2830.4 1260,2830.4 1261.2,2829.9 1262.4,2830.1 1263.6,2830.3 1264.8,2830.7 1266,2831 1267.2,2830.8 1268.3,2830.9 1269.5,2831 1270.7,2830.7 1271.9,2830.7 1273.1,2830.7 1274.3,2831.1 1275.5,2830.6 1276.7,2830.5 1277.9,2830.4 1279.1,2830.9 1280.3,2830.5 1281.4,2830.4 1282.6,2830.6 1283.8,2830.9 1285,2831 1286.2,2831.1 1287.4,2831.2 1288.6,2831.1 1289.8,2830.6 1291,2830.5 1292.2,2830.8 1293.4,2831.3 1294.6,2831.1 1295.7,2831.2 1296.9,2831.1 1298.1,2831.4 1299.3,2831.3 1300.5,2831.3 1301.7,2831.5 1302.9,2831.8 1304.1,2831.7 1305.3,2831.8 1306.5,2832 1307.7,2832.1 1308.8,2831.9 1310,2831.6 1311.2,2831.6 1312.4,2831.7 1313.6,2831.3 1314.8,2831.2 1316,2830.9 1317.2,2831.3 1318.4,2831.2 1319.6,2831.3 1320.8,2831.6 1322,2831.7 1323.1,2831.7 1324.3,2831.3 1325.5,2831.5 1326.7,2831.2 1327.9,2830.9 1329.1,2830.7 1330.3,2831.6 1331.5,2832 1332.7,2831.8 1333.9,2831.5 1335.1,2831.6 1336.2,2831.5 1337.4,2831.3 1338.6,2831.1 1339.8,2831.6 1341,2831.7 1342.2,2831.8 1343.4,2831.8 1344.6,2831.8 1345.8,2831.6 1347,2831.1 1348.2,2831 1349.4,2831.1 1350.5,2831.2 1351.7,2831.5 1352.9,2831.3 1354.1,2831.4 1355.3,2831.3 1356.5,2831.8 1357.7,2832.3 1358.9,2832.6 1360.1,2832.5 1361.3,2832.2 1362.5,2831.8 1363.7,2831.7 1364.8,2831.6 1366,2831.9 1367.2,2831.9 1368.4,2832.1 1369.6,2831.7 1370.8,2831.8 1372,2831.6 1373.2,2831.5 1374.4,2831.1 1375.6,2831.2 1376.8,2831.5 1377.9,2831.7 1379.1,2831.4 1380.3,2831.2 1381.5,2831.4 1382.7,2831.5 1383.9,2831.5 1385.1,2831.3 1386.3,2831.6 1387.5,2832 1388.7,2832.8 1389.9,2832.7 1391.1,2832.7 1392.2,2831.9 1393.4,2832.1 1394.6,2831.9 1395.8,2832 1397,2831.6 1398.2,2831.7 1399.4,2831.6 1400.6,2831.7 1401.8,2831.8 1403,2831.6 1404.2,2831.9 1405.3,2832 1406.5,2832.3 1407.7,2832.5 1408.9,2832.3 1410.1,2832.4 1411.3,2832.3 1412.5,2831.8 1413.7,2831.9 1414.9,2831.5 1416.1,2832 1417.3,2831.8 1418.5,2832.3 1419.6,2831.9 1420.8,2832.2 1422,2831.9 1423.2,2832.2 1424.4,2831.8 1425.6,2832.4 1426.8,2832.3 1428,2832.6 1429.2,2832.4 1430.4,2832.4 1431.6,2832.3 1432.7,2832 1433.9,2832.2 1435.1,2832.3 1436.3,2832.3 1437.5,2832.2 1438.7,2832.2 1439.9,2832 1441.1,2831.9 1442.3,2831.9 1443.5,2831.9 1444.7,2832.4 1445.9,2832.5 1447,2832.7 1448.2,2832.3 1449.4,2832.4 1450.6,2832.3 1451.8,2832.4 1453,2832.7 1454.2,2832.8 1455.4,2832.3 1456.6,2832 1457.8,2832.1 1459,2832.7 1460.1,2832.7 1461.3,2832.3 1462.5,2832.3 1463.7,2832.2 1464.9,2832.3 1466.1,2832.6 1467.3,2832.8 1468.5,2833 1469.7,2832.6 1470.9,2832.3 1472.1,2832.1 1473.3,2831.9 1474.4,2832.1 1475.6,2832.1 1476.8,2832.1 1478,2832.2 1479.2,2832.5 1480.4,2832.7 1481.6,2832.5 1482.8,2832.7 1484,2832.6 1485.2,2832.9 1486.4,2832.7 1487.5,2832.5 1488.7,2832.4 1489.9,2832.3 1491.1,2832.6 1492.3,2832.8 1493.5,2832.5 1494.7,2832.1 1495.9,2831.4 1497.1,2832.1 1498.3,2832.5 1499.5,2832.9 1500.7,2832.4 1501.8,2832.7 1503,2832.7 1504.2,2832.5 1505.4,2832.2 1506.6,2832.3 1507.8,2832.4 1509,2832.1 1510.2,2831.8 1511.4,2831.3 1512.6,2831.4 1513.8,2832 1514.9,2832.2 1516.1,2832.3 1517.3,2832.3 1518.5,2832.5 1519.7,2832.5 1520.9,2832.4 1522.1,2832.4 1523.3,2832.5 1524.5,2832.6 1525.7,2833 1526.9,2833.2 1528.1,2833.1 1529.2,2832.6 1530.4,2832.2 1531.6,2832.2 1532.8,2832.2 1534,2831.7 1535.2,2831.9 1536.4,2832.1 1537.6,2832.6 1538.8,2832.5 1540,2832.5 1541.2,2832.2 1542.4,2832.3 1543.5,2832.6 1544.7,2832.8 1545.9,2832.7 1547.1,2832 1548.3,2832.1 1549.5,2831.9 1550.7,2832.5 1551.9,2832.9 1553.1,2833 1554.3,2832.8 1555.5,2832.4 1556.6,2832.3 1557.8,2832.6 1559,2832.4 1560.2,2832.5 1561.4,2832.1 1562.6,2832.1 1563.8,2832.2 1565,2832.8 1566.2,2832.8 1567.4,2832.3 1568.6,2832 1569.8,2832.3 1570.9,2832.5 1572.1,2832.7 1573.3,2832.7 1574.5,2832.6 1575.7,2832.4 1576.9,2832.3 1578.1,2832.7 1579.3,2832.9 1580.5,2832.5 1581.7,2832.3 1582.9,2832.2 1584,2832.3 1585.2,2832.6 1586.4,2832.3 1587.6,2832.1 1588.8,2831.9 1590,2831.6 1591.2,2831.8 1592.4,2831.6 1593.6,2832 1594.8,2832.1 1596,2832.6 1597.2,2832.5 1598.3,2832.6 1599.5,2832.4 1600.7,2833.1 1601.9,2833.2 1603.1,2833.2 1604.3,2833.1 1605.5,2833.1 1606.7,2833.2 1607.9,2833.2 1609.1,2833.1 1610.3,2833.2 1611.4,2833.2 1612.6,2833.2 1613.8,2833 1615,2832.7 1616.2,2832.7 1617.4,2832.8 1618.6,2833.1 1619.8,2832.6 1621,2833 1622.2,2832.6 1623.4,2832.8 1624.6,2832.4 1625.7,2832.6 1626.9,2832.4 1628.1,2832.3 1629.3,2832.3 1630.5,2832.7 1631.7,2832.8" fill="none" stroke="#8000ff" stroke-width="5" stroke-linejoin="round" stroke-linecap="butt"/>
</g>
<rect x="781.8" y="1744.2" width="830.7" height="475.5" fill="#fff" stroke="#000" stroke-width="1.6"/>
<line x1="807.2" y1="1782.5" x2="924.8" y2="1782.5" stroke="#000000" stroke-width="5.7" stroke-linecap="round"/>
<text x="939" y="1800.5" font-family='"Liberation Sans", Arial, Helvetica, sans-serif' font-size="53.6" font-weight="normal" text-anchor="start" fill="#000">Distilled water</text>
<line x1="807.2" y1="1859.8" x2="924.8" y2="1859.8" stroke="#ff0000" stroke-width="5.7" stroke-linecap="round"/>
<text x="940.5" y="1877.8" font-family='"Liberation Sans", Arial, Helvetica, sans-serif' font-size="53.6" fill="#000">2.5mg*L<tspan font-size="36" dy="-23" dx="1">&#8722;1</tspan><tspan dy="23" dx="2">DOX+ 0.1M NaCl</tspan></text>
<line x1="807.2" y1="1925.8" x2="924.8" y2="1925.8" stroke="#0000ff" stroke-width="5.7" stroke-linecap="round"/>
<text x="940" y="1943.8" font-family='"Liberation Sans", Arial, Helvetica, sans-serif' font-size="53.6" font-weight="normal" text-anchor="start" fill="#000">5 min</text>
<line x1="807.2" y1="1991.2" x2="924.8" y2="1991.2" stroke="#ff00ff" stroke-width="5.7" stroke-linecap="round"/>
<text x="940" y="2009.2" font-family='"Liberation Sans", Arial, Helvetica, sans-serif' font-size="53.6" font-weight="normal" text-anchor="start" fill="#000">15 min</text>
<line x1="807.2" y1="2057.2" x2="924.8" y2="2057.2" stroke="#008000" stroke-width="5.7" stroke-linecap="round"/>
<text x="940" y="2075.2" font-family='"Liberation Sans", Arial, Helvetica, sans-serif' font-size="53.6" font-weight="normal" text-anchor="start" fill="#000">30 min</text>
<line x1="807.2" y1="2123.3" x2="924.8" y2="2123.3" stroke="#000080" stroke-width="5.7" stroke-linecap="round"/>
<text x="940" y="2141.3" font-family='"Liberation Sans", Arial, Helvetica, sans-serif' font-size="53.6" font-weight="normal" text-anchor="start" fill="#000">60 min</text>
<line x1="807.2" y1="2189.3" x2="924.8" y2="2189.3" stroke="#8000ff" stroke-width="5.7" stroke-linecap="round"/>
<text x="940" y="2207.3" font-family='"Liberation Sans", Arial, Helvetica, sans-serif' font-size="53.6" font-weight="normal" text-anchor="start" fill="#000">90 min</text>
</g>
<text x="875.3" y="3228" font-family='"Liberation Serif", "DejaVu Serif", serif' font-size="75" letter-spacing="1.5" text-anchor="middle" fill="#000">(<tspan font-weight="bold">b</tspan>)</text>
</svg>
</body>
</html>
